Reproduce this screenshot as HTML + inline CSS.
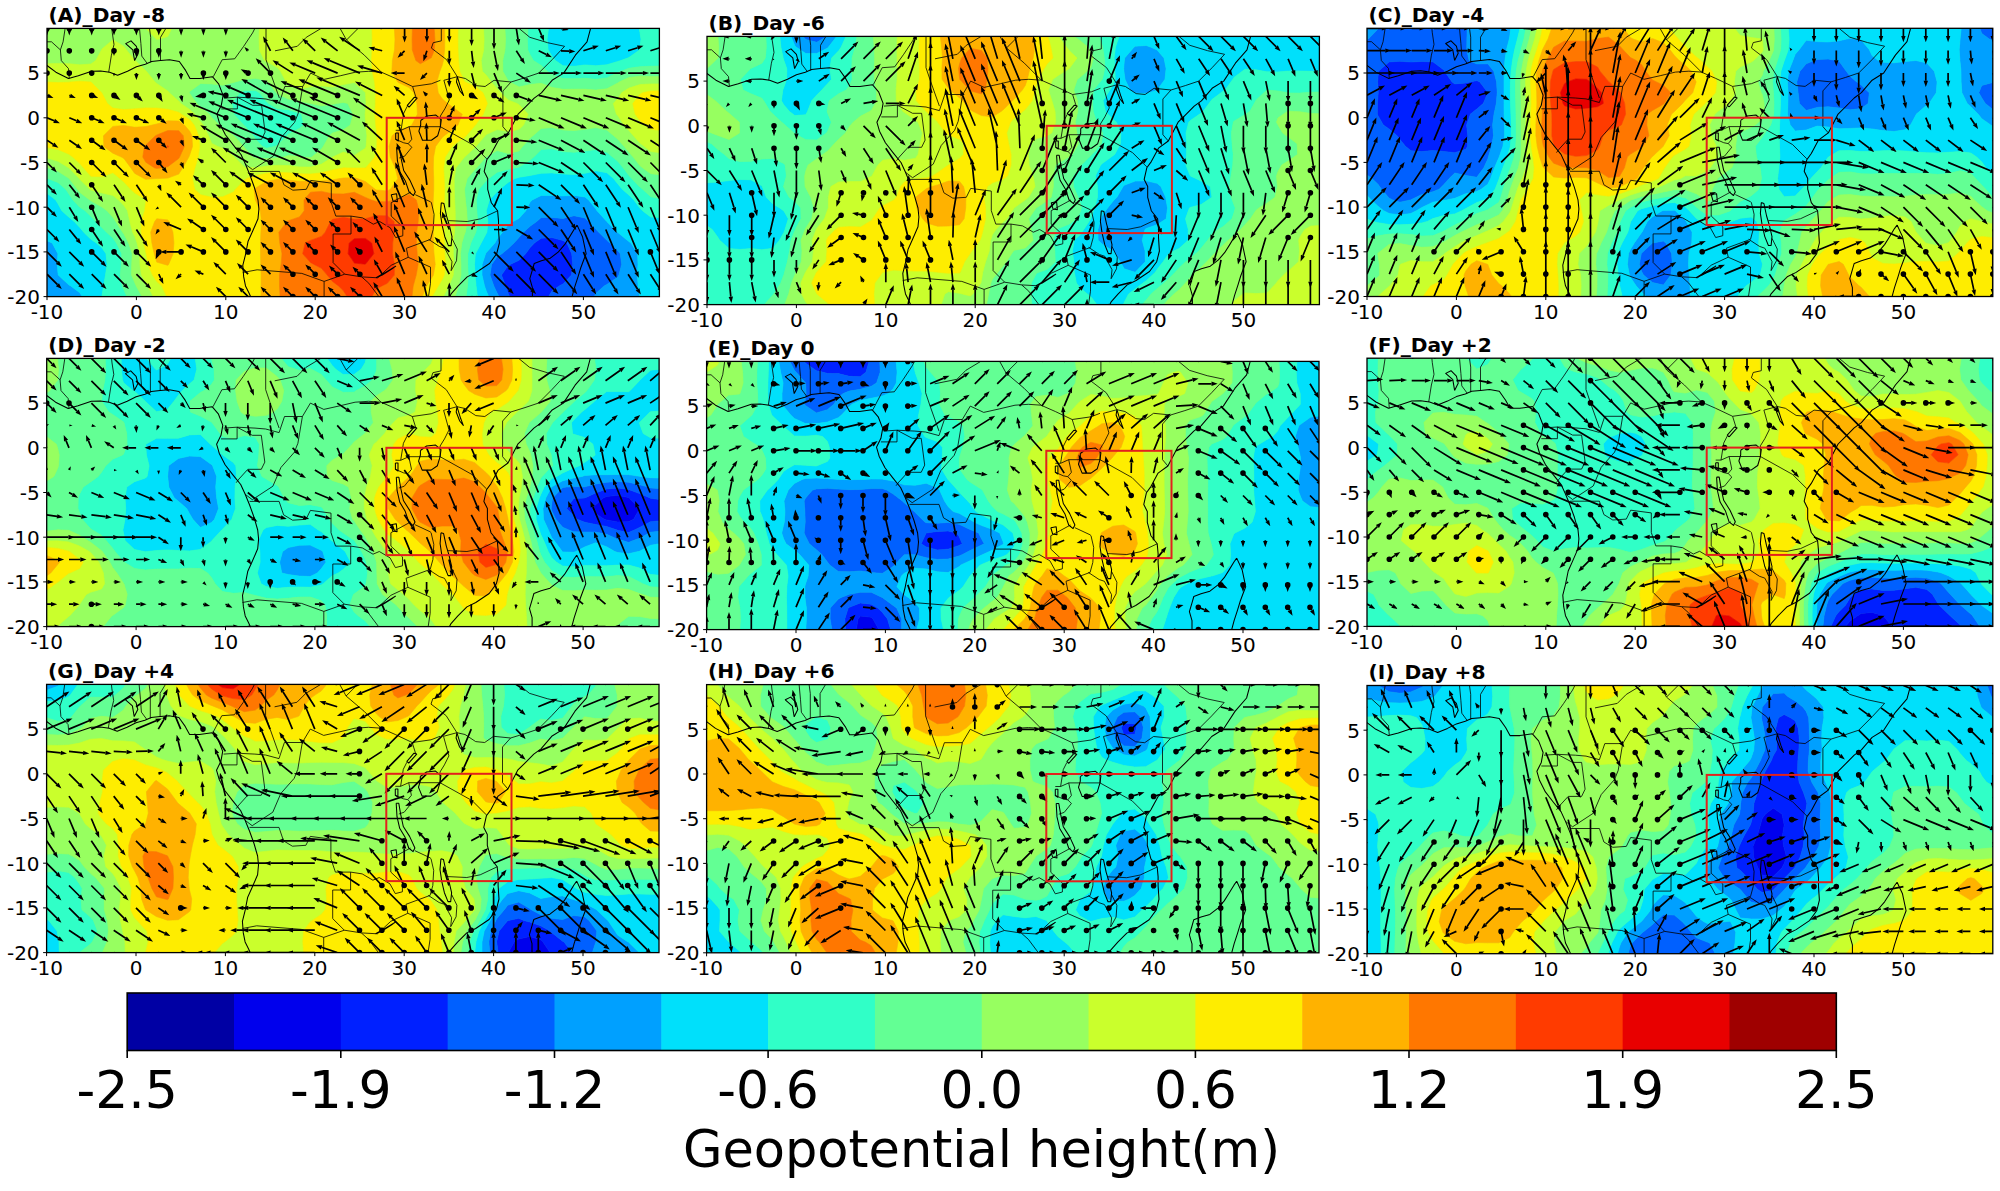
<!DOCTYPE html>
<html><head><meta charset="utf-8"><title>Geopotential height composites</title>
<style>
html,body{margin:0;padding:0;background:#fff;}
body{width:2000px;height:1191px;overflow:hidden;}
svg{display:block;}
.tk{font-family:"DejaVu Sans","Liberation Sans",sans-serif;font-size:20px;fill:#000;}
.tt{font-family:"DejaVu Sans","Liberation Sans",sans-serif;font-size:20.2px;font-weight:bold;fill:#000;}
.cb{font-family:"DejaVu Sans","Liberation Sans",sans-serif;font-size:52px;fill:#000;}
.cbl{font-family:"DejaVu Sans","Liberation Sans",sans-serif;font-size:51px;fill:#000;}
</style></head><body>
<svg width="2000" height="1191" viewBox="0 0 2000 1191">
<rect width="2000" height="1191" fill="#fff"/>
<clipPath id="cA"><rect x="47.0" y="28.4" width="612.4" height="268.2"/></clipPath>
<g clip-path="url(#cA)">
<rect x="47.0" y="28.4" width="612.4" height="268.2" fill="#97ff60"/>
<path fill="#0020ff" stroke="#0020ff" stroke-width="0.6" d="M541.1 238.3l10.9 -0.7l11 2.9l3.9 2.5l4.8 10.7l1.1 10.7l-1.3 10.7l-8.5 8.9l-3.8 1.9l-7.2 5l-3.4 5.7l-7.5 0l-11 0l-11 0l-9.5 0l-1.5 -3.4l-2.7 -7.3l-3.9 -10.8l6.6 -9.6l2 -1.1l9 -4.1l6.5 -6.6l4.5 -6.1l4.3 -4.6z"/>
<path fill="#0060ff" stroke="#0060ff" stroke-width="0.6" d="M541.1 217.6l10.9 -0.2l11 1l11 -2.7l11 2.3l3.5 3.5l7.4 7.8l2.9 2.9l8.1 8.1l2.9 2.7l8.1 7.9l2.4 2.8l1.4 10.7l-2.8 10.7l-1 2l-11 7.4l-2.8 1.4l-8.2 7.5l-1.6 3.2l-9.3 0l-11 0l-11 0l-11 0l-3.4 0l3.4 -5.7l7.2 -5l3.8 -1.9l8.5 -8.9l1.3 -10.7l-1.1 -10.7l-4.8 -10.7l-3.9 -2.5l-11 -2.9l-10.9 0.7l-6.7 4.7l-4.3 4.6l-4.5 6.1l-6.5 6.6l-9 4.1l-2 1.1l-6.6 9.6l3.9 10.8l2.7 7.3l1.5 3.4l-1.5 0l-9.1 0l-1.9 -3.7l-3.3 -7l-3.8 -10.8l1.6 -10.7l5.5 -7.6l4.8 -3.1l6.2 -5.1l6 -5.6l5 -5.7l4.5 -5.1l6.5 -6l6.6 -4.7z"/>
<path fill="#00a0ff" stroke="#00a0ff" stroke-width="0.6" d="M541.1 195.5l10.9 0l11 0.4l11 -0.5l11 1.6l3.7 3l7.2 9.1l1.1 1.7l9.8 10.7l0.1 0.2l10.6 10.5l0.4 0.4l11 9l2.1 1.4l6.7 10.7l0.3 10.7l-0.7 10.7l0.9 10.8l1.6 10.7l-10.9 0l-11 0l-11 0l-11 0l-1.6 0l1.6 -3.2l8.2 -7.5l2.8 -1.4l11 -7.4l1 -2l2.8 -10.7l-1.4 -10.7l-2.4 -2.8l-8.1 -7.9l-2.9 -2.7l-8.1 -8.1l-2.9 -2.9l-7.4 -7.8l-3.5 -3.5l-11 -2.3l-11 2.7l-11 -1l-10.9 0.2l-4.4 3.9l-6.6 4.7l-6.5 6l-4.5 5.1l-5 5.7l-6 5.6l-6.2 5.1l-4.8 3.1l-5.5 7.6l-1.6 10.7l3.8 10.8l3.3 7l1.9 3.7l-1.9 0l-8.5 0l-2.4 -5.9l-1.7 -4.8l-2.5 -10.8l0.1 -10.7l3.5 -10.7l0.6 -1l8.7 -9.7l2.2 -3.9l5.4 -6.9l5.6 -7.3l4.9 -3.4l6.1 -3.2l6.7 -7.5l4.3 -8.8l2.1 -2zM52.2 243l5.7 10.7l-0.6 10.7l0.7 9l0.2 1.7l10.8 9.9l1.7 0.9l9.2 6.9l2.2 3.8l-2.2 0l-10.9 0l-11 0l-11 0l0 -10.7l0 -10.8l0 -10.7l0 -10.7l0 -10.7l0 -2.2z"/>
<path fill="#00e0fb" stroke="#00e0fb" stroke-width="0.6" d="M552 28.4l11 0l11 0l11 0l10.9 0l11 0l11 0l11 0l10.3 0l0.7 3.9l1.1 6.8l-1.1 9l-0.3 1.8l-10.7 7.7l-8.1 3l-2.9 0.8l-11 3.3l-11 1l-10.9 -0.8l-11 1.4l-11 -0.5l-7.5 -5.2l-3.5 -4.4l-3.8 -6.3l-1.1 -10.8l1.4 -10.7zM519.1 177.3l11 -1.8l11 -2.2l10.9 -0.4l11 1l11 0.6l11 -1.2l10.9 -2.5l11 1.9l6.6 5.9l4.4 5.3l4.4 5.4l6.6 5.7l5 5l6 8.1l2.6 2.7l8.3 6.3l11 0.7l11 -0.8l0 4.5l0 10.7l0 10.8l0 10.7l0 10.7l0 10.7l0 10.8l0 10.7l-11 0l-11 0l-10.9 0l-0.1 0l-1.6 -10.7l-0.9 -10.8l0.7 -10.7l-0.3 -10.7l-6.7 -10.7l-2.1 -1.4l-11 -9l-0.4 -0.4l-10.6 -10.5l-0.1 -0.2l-9.8 -10.7l-1.1 -1.7l-7.2 -9.1l-3.7 -3l-11 -1.6l-11 0.5l-11 -0.4l-10.9 0l-8.9 4.5l-2.1 2l-4.3 8.8l-6.7 7.5l-6.1 3.2l-4.9 3.4l-5.6 7.3l-5.4 6.9l-2.2 3.9l-8.7 9.7l-0.6 1l-3.5 10.7l-0.1 10.7l2.5 10.8l1.7 4.8l2.4 5.9l-2.4 0l-8.8 0l-1.3 -10.7l-0.9 -9.2l-0.1 -1.6l-0.6 -10.7l0.7 -8.3l0.3 -2.4l5.7 -10.7l5 -9.5l0.7 -1.3l1 -10.7l-1.7 -10.7l3.2 -10.8l7.7 -8.2l2.6 -2.5l8.4 -6.9l6.8 -3.8zM55.7 200l2.3 3.8l3.8 7l7.2 6.4l5.2 4.3l5.7 6l3.8 4.7l7.2 7l5.4 3.8l5.6 4.8l4.1 5.9l1.1 10.7l-1.6 10.7l-1.9 10.8l-1.7 10.4l0 0.3l-11 0l-8.8 0l-2.2 -3.8l-9.2 -6.9l-1.7 -0.9l-10.8 -9.9l-0.2 -1.7l-0.7 -9l0.6 -10.7l-5.7 -10.7l-5.2 -2.2l0 -8.6l0 -10.7l0 -10.7l0 -10.8l0 -6.7z"/>
<path fill="#30ffc7" stroke="#30ffc7" stroke-width="0.6" d="M530.1 28.4l11 0l7.4 0l-1.4 10.7l1.1 10.8l3.8 6.3l3.5 4.4l7.5 5.2l11 0.5l11 -1.4l10.9 0.8l11 -1l11 -3.3l2.9 -0.8l8.1 -3l10.7 -7.7l0.3 -1.8l1.1 -9l-1.1 -6.8l-0.7 -3.9l0.7 0l10.9 0l11 0l11 0l0 10.7l0 10.8l0 10.7l0 5.6l-11 -0.1l-11 0.1l-10.9 0.5l-11 1.5l-7.8 3.1l-3.2 1.3l-11 5.3l-11 1.3l-10.9 -0.9l-11 0.4l-11 -0.1l-11 -4.3l-4.6 -3l-6.3 -5.9l-7.7 -4.8l-3.3 -5.8l-2.3 -4.9l-0.5 -10.8l0.7 -10.7zM244.6 90.4l11 0l4 2.4l7 8.6l2.2 2.1l8.8 5.2l10.9 1l11 3.3l2 1.2l2.3 10.8l-4.3 3.4l-11 5.8l-1.6 1.5l-9.3 9.5l-2.9 1.2l-8.1 1.8l-4.3 -1.8l-6.7 -7.1l-2.2 -3.6l-8.8 -9.8l-1.1 -0.9l-9.7 -10.8l-0.2 -0.8l-1.8 -9.9l1.8 -2.6l6.1 -8.1zM541.1 149.6l10.9 -0.8l11 2.8l11 0.6l11 -1.3l10.9 -1.3l11 2.6l5.8 4.9l5.2 4.2l5.4 6.6l5.6 7.4l2.7 3.3l8.3 8.5l2.8 2.2l8.1 7.4l11 2.2l11 -2.5l0 3.6l0 10.8l0 6.2l-11 0.8l-11 -0.7l-8.3 -6.3l-2.6 -2.7l-6 -8.1l-5 -5l-6.6 -5.7l-4.4 -5.4l-4.4 -5.3l-6.6 -5.9l-11 -1.9l-10.9 2.5l-11 1.2l-11 -0.6l-11 -1l-10.9 0.4l-11 2.2l-11 1.8l-4.2 1.3l-6.8 3.8l-8.4 6.9l-2.6 2.5l-7.7 8.2l-3.2 10.8l1.7 10.7l-1 10.7l-0.7 1.3l-5 9.5l-5.7 10.7l-0.3 2.4l-0.7 8.3l0.6 10.7l0.1 1.6l0.9 9.2l1.3 10.7l-2.2 0l-9.1 0l1.4 -10.7l0.7 -10.8l-0.5 -10.7l0.1 -10.7l3 -10.7l4.4 -9.4l0.7 -1.4l1.8 -10.7l-0.9 -10.7l-0.6 -10.8l2.5 -10.7l7.5 -8.5l2.6 -2.2l8.3 -6.4l11 -2.9l7.4 -1.4l3.6 -0.8l11 -7.1l3.6 -2.9zM47.7 178.6l10.3 3.9l7.8 6.8l3.2 4.7l3.9 6l7 7.3l5.3 3.5l5.7 5.5l5 5.2l6 6l4.7 4.7l6.3 5.8l3.6 5l5.3 10.7l-0.5 10.7l-1 10.7l2 10.8l1.6 3.9l3 6.8l-3 0l-11 0l-11 0l0 0l0 -0.3l1.7 -10.4l1.9 -10.8l1.6 -10.7l-1.1 -10.7l-4.1 -5.9l-5.6 -4.8l-5.4 -3.8l-7.2 -7l-3.8 -4.7l-5.7 -6l-5.2 -4.3l-7.2 -6.4l-3.8 -7l-2.3 -3.8l-8.7 -6.7l0 -4l0 -10.7l0 -0.2z"/>
<path fill="#63ff94" stroke="#63ff94" stroke-width="0.6" d="M508.1 28.4l11 0l8.9 0l-0.7 10.7l0.5 10.8l2.3 4.9l3.3 5.8l7.7 4.8l6.3 5.9l4.6 3l11 4.3l11 0.1l11 -0.4l10.9 0.9l11 -1.3l11 -5.3l3.2 -1.3l7.8 -3.1l11 -1.5l10.9 -0.5l11 -0.1l11 0.1l0 5.1l0 5.2l-11 0.1l-11 -0.1l-10.9 -0.3l-11 1.3l-9.7 4.5l-1.3 0.9l-11 5.9l-11 1.3l-10.9 -0.9l-11 0l-11 0.1l-11 -1.9l-10.9 -4.1l-11 1.2l-11 2.4l-9.4 -4.9l-1.6 -1.3l-5.3 -9.4l-0.1 -10.7l2.3 -10.7l0.5 -10.8l-0.6 -10.7zM244.6 79.4l11 -1.1l11 2.4l1.4 1.3l8.4 10.8l1.2 1.1l10.9 5.2l11 2l11 2.4l0 0l11 2.3l11 -1.5l4.2 -0.8l6.7 -1.1l4.4 1.1l5.3 10.7l-2.7 10.8l-7 4.8l-10.9 3.2l-3 2.7l-6.2 10.7l-1.8 2.7l-9.7 8l-1.3 0.5l-8.2 -0.5l-2.8 -0.5l-11 -1l-4.8 1.5l-6.1 0.7l-11 0.9l-11 -0.4l-2.8 -1.2l-8.2 -9.1l-1 -1.6l-9.9 -10.7l-0.1 -0.1l-10.9 -7.5l-3.5 -3.1l-7.5 -7.6l-2.4 -3.2l-8.6 -7l-4 -3.7l-7 -10l-0.6 -0.7l0.6 -1.4l11 -7.9l11 0.4l11 1.3l10.9 -2.8l1.4 -0.4zM239.7 92.8l-6.1 8.1l-1.8 2.6l1.8 9.9l0.2 0.8l9.7 10.8l1.1 0.9l8.8 9.8l2.2 3.6l6.7 7.1l4.3 1.8l8.1 -1.8l2.9 -1.2l9.3 -9.5l1.6 -1.5l11 -5.8l4.3 -3.4l-2.3 -10.8l-2 -1.2l-11 -3.3l-10.9 -1l-8.8 -5.2l-2.2 -2.1l-7 -8.6l-4 -2.4l-11 0zM541.1 128.6l10.9 -1.1l11 2.4l11 0.6l11 -1.2l10.9 -1.7l11 2.4l6.8 5.7l4.2 3.5l6.3 7.2l4.7 5.6l4.3 5.1l6.7 8.5l2.9 2.3l8 5.8l11 1.4l11 -1.5l0 5l0 10.7l0 7.1l-11 2.5l-11 -2.2l-8.1 -7.4l-2.8 -2.2l-8.3 -8.5l-2.7 -3.3l-5.6 -7.4l-5.4 -6.6l-5.2 -4.2l-5.8 -4.9l-11 -2.6l-10.9 1.3l-11 1.3l-11 -0.6l-11 -2.8l-10.9 0.8l-7.4 7.5l-3.6 2.9l-11 7.1l-3.6 0.8l-7.4 1.4l-11 2.9l-8.3 6.4l-2.6 2.2l-7.5 8.5l-2.5 10.7l0.6 10.8l0.9 10.7l-1.8 10.7l-0.7 1.4l-4.4 9.4l-3 10.7l-0.1 10.7l0.5 10.7l-0.7 10.8l-1.4 10.7l-1.9 0l-9.2 0l3.6 -10.7l2.3 -10.8l0 -10.7l-0.5 -10.7l1.4 -10.7l2.4 -8l1.1 -2.8l2 -10.7l-0.6 -10.7l-1.3 -10.8l-0.9 -10.7l2.7 -10.7l8 -9.5l1.3 -1.2l9.4 -10.8l0.3 -0.3l10.9 -6.3l11 2.9l11 -2.5l3.4 -4.5l7.6 -8.3l2.8 -2.4zM48.4 167.9l9.6 3.4l11 7l0.2 0.3l8.3 10.7l2.4 3.1l10 7.6l1 0.8l11 6.2l5.1 3.8l5.9 6.5l2.9 4.2l6.8 10.7l1.3 1.7l4.7 9.1l3.7 10.7l-0.6 10.7l-0.2 10.7l3.3 7.7l1.4 3.1l5.9 10.7l-7.3 0l-7.9 0l-3 -6.8l-1.6 -3.9l-2 -10.8l1 -10.7l0.5 -10.7l-5.3 -10.7l-3.6 -5l-6.3 -5.8l-4.7 -4.7l-6 -6l-5 -5.2l-5.7 -5.5l-5.3 -3.5l-7 -7.3l-3.9 -6l-3.2 -4.7l-7.8 -6.8l-10.3 -3.9l-0.7 -0.2l0 -10.5l0 -0.5z"/>
<path fill="#97ff60" stroke="#97ff60" stroke-width="0.6" d="M58 28.4l11 0l10.9 0l11 0l11 0l11 0l11 0l10.9 0l11 0l0.1 0l10.4 10.7l0.5 0.4l2.2 -0.4l8.8 -2.6l3.9 -8.1l7 0l11 0l11 0l11 0l11 0l10.9 0l11 0l11 0l3.8 0l-0.3 10.7l0.3 10.8l5.1 10.7l2.1 0.9l11 6.3l3 3.5l5.5 10.7l2.4 3l11 3.9l11 -2.1l11 -0.9l11 1l10.9 -2.3l11 -2.1l11 10.1l0.1 0.2l0.6 10.7l-0.7 8.1l-0.3 2.6l0.3 6.5l0.2 4.3l1.3 10.7l-0.8 10.7l-0.7 1.8l-11 7.2l-11 -3.4l-10.7 5.1l-0.2 0.1l-11 6.9l-11 3l-11 -0.2l-11 -1.3l-10.9 -0.3l-11 0.8l-11 1.6l-11 -0.5l-10.3 -10.1l-0.7 -0.9l-10.9 -8l-4.8 -1.8l-6.2 -3l-3.1 -7.7l-5.3 -10.7l-2.6 -3.1l-6 -7.7l-5 -4.6l-8.8 -6.1l-2.2 -2.5l-9.4 -8.2l-1.5 -1.8l-11 -7.5l-1.8 -1.5l-8.6 -10.7l-0.6 -0.6l-10.5 -10.1l-0.5 -0.4l-8.3 -10.3l-2.6 -3.6l-11 -6.6l-11 9.3l-0.4 0.9l-5.8 10.7l-4.8 3.4l-11 0.8l-10.9 -1.1l-11 -0.3l-11 0.3l0 -3.1l0 -10.7l0 -10.8l0 -10.7zM235 82l-1.4 0.4l-10.9 2.8l-11 -1.3l-11 -0.4l-11 7.9l-0.6 1.4l0.6 0.7l7 10l4 3.7l8.6 7l2.4 3.2l7.5 7.6l3.5 3.1l10.9 7.5l0.1 0.1l9.9 10.7l1 1.6l8.2 9.1l2.8 1.2l11 0.4l11 -0.9l6.1 -0.7l4.8 -1.5l11 1l2.8 0.5l8.2 0.5l1.3 -0.5l9.7 -8l1.8 -2.7l6.2 -10.7l3 -2.7l10.9 -3.2l7 -4.8l2.7 -10.8l-5.3 -10.7l-4.4 -1.1l-6.7 1.1l-4.2 0.8l-11 1.5l-11 -2.3l0 0l-11 -2.4l-11 -2l-10.9 -5.2l-1.2 -1.1l-8.4 -10.8l-1.4 -1.3l-11 -2.4l-11 1.1zM486.2 28.4l10.9 0l7.8 0l0.6 10.7l-0.5 10.8l-2.3 10.7l0.1 10.7l5.3 9.4l1.6 1.3l9.4 4.9l11 -2.4l11 -1.2l10.9 4.1l11 1.9l11 -0.1l11 0l10.9 0.9l11 -1.3l11 -5.9l1.3 -0.9l9.7 -4.5l11 -1.3l10.9 0.3l11 0.1l11 -0.1l0 5.5l0 1.9l-11 0l-11 0l-10.9 0.7l-11 3.5l-7.3 4.7l-3.7 5.8l-4.6 4.9l3.1 10.7l1.5 1.6l6.1 9.2l4.9 5.6l4.5 5.1l6.5 7.2l4.5 3.5l6.4 5.1l11 1.5l11 -1.7l0 5.8l0 10.8l0 5.7l-11 1.5l-11 -1.4l-8 -5.8l-2.9 -2.3l-6.7 -8.5l-4.3 -5.1l-4.7 -5.6l-6.3 -7.2l-4.2 -3.5l-6.8 -5.7l-11 -2.4l-10.9 1.7l-11 1.2l-11 -0.6l-11 -2.4l-10.9 1.1l-8.2 7.1l-2.8 2.4l-7.6 8.3l-3.4 4.5l-11 2.5l-11 -2.9l-10.9 6.3l-0.3 0.3l-9.4 10.8l-1.3 1.2l-8 9.5l-2.7 10.7l0.9 10.7l1.3 10.8l0.6 10.7l-2 10.7l-1.1 2.8l-2.4 8l-1.4 10.7l0.5 10.7l0 10.7l-2.3 10.8l-3.6 10.7l-1.8 0l-9.8 0l5.5 -10.7l4.3 -10.5l0.1 -0.3l0.6 -10.7l-0.6 -10.7l0.1 -10.7l1.1 -10.8l0.9 -10.7l-0.2 -10.7l-0.5 -10.8l-0.4 -10.7l-0.1 -10.7l1.6 -10.7l8.4 -10.4l0.4 -0.4l10.6 -9.8l0.7 -0.9l9.3 -10.7l1 -1.1l10.9 -5l11 1.9l11 -2.2l4.5 -4.3l4.5 -10.8l-9 -9.5l-2.1 -1.2l-8.9 -3.6l-7.2 -7.1l-3.8 -4.1l-5.7 -6.7l-5.2 -6.9l-3.8 -3.8l-1.2 -10.7l2.5 -10.7l0.4 -10.8l-0.6 -10.7zM58 161.2l10.9 6.7l0.1 0l10.3 10.7l0.6 0.8l10 9.9l1 0.8l11 2.9l11 2.4l5.7 4.6l5.3 5.5l3.6 5.3l2.3 10.7l2.8 10.7l2.2 4.3l2.3 6.5l2.6 10.7l0.3 10.7l1.4 10.7l4.4 8.1l1.9 2.7l5.5 10.7l-7.4 0l-3.7 0l-5.9 -10.7l-1.4 -3.1l-3.3 -7.7l0.2 -10.7l0.6 -10.7l-3.7 -10.7l-4.7 -9.1l-1.3 -1.7l-6.8 -10.7l-2.9 -4.2l-5.9 -6.5l-5.1 -3.8l-11 -6.2l-1 -0.8l-10 -7.6l-2.4 -3.1l-8.3 -10.7l-0.2 -0.3l-11 -7l-9.6 -3.4l-1.4 -0.5l0 -9.5z"/>
<path fill="#caff2c" stroke="#caff2c" stroke-width="0.6" d="M156.8 28.4l11 0l3.9 0l-3.9 8.1l-8.8 2.6l-2.2 0.4l-0.5 -0.4l-10.4 -10.7zM266.6 28.4l11 0l10.9 0l11 0l11 0l11 0l11 0l10.9 0l11 0l11 0l6.6 0l0.2 10.7l-0.2 10.8l-0.5 10.7l0.7 10.7l2.4 10.7l1 10.8l-0.2 10.7l-0.4 10.7l0.7 10.8l0.7 5.8l0.6 4.9l-0.2 10.7l-0.4 2.7l-1.5 8l-9.3 10.8l-0.2 0l-11 0.2l-7.4 -0.2l-3.6 -0.2l-0.5 0.2l-10.4 2l-11 2.9l-11 1.2l-11 -0.3l-11 -0.9l-10.9 -0.5l-11 0.9l-11 2.5l-9.1 2.9l-1.9 1.5l-9.2 9.2l-1.8 2.7l-10.9 4.8l-11 0.5l-11 -2.6l-6 -5.4l-2.2 -10.7l2.4 -10.7l3.3 -10.8l1.5 -10.7l-1 -10.7l-4.5 -10.7l-4.5 -5.4l-8.2 -5.4l-2.8 -1.9l-10.9 -3l-11 -1.2l-11 -0.2l-11 0.9l-10.9 0.8l-11 -1.5l-5.5 -4.6l-5.5 -10.4l-0.2 -0.3l-10.7 -10.8l-0.1 0l-11 -0.8l-9.4 0.8l-1.5 0.2l-11 0.4l-11 -0.5l0 -0.1l0 -10.7l0 -7.6l11 -0.3l11 0.3l10.9 1.1l11 -0.8l4.8 -3.4l5.8 -10.7l0.4 -0.9l11 -9.3l11 6.6l2.6 3.6l8.3 10.3l0.5 0.4l10.5 10.1l0.6 0.6l8.6 10.7l1.8 1.5l11 7.5l1.5 1.8l9.4 8.2l2.2 2.5l8.8 6.1l5 4.6l6 7.7l2.6 3.1l5.3 10.7l3.1 7.7l6.2 3l4.8 1.8l10.9 8l0.7 0.9l10.3 10.1l11 0.5l11 -1.6l11 -0.8l10.9 0.3l11 1.3l11 0.2l11 -3l11 -6.9l0.2 -0.1l10.7 -5.1l11 3.4l11 -7.2l0.7 -1.8l0.8 -10.7l-1.3 -10.7l-0.2 -4.3l-0.3 -6.5l0.3 -2.6l0.7 -8.1l-0.6 -10.7l-0.1 -0.2l-11 -10.1l-11 2.1l-10.9 2.3l-11 -1l-11 0.9l-11 2.1l-11 -3.9l-2.4 -3l-5.5 -10.7l-3 -3.5l-11 -6.3l-2.1 -0.9l-5.1 -10.7l-0.3 -10.8l0.3 -10.7zM464.2 28.4l11 0l8.3 0l0.6 10.7l-0.4 10.8l-2.5 10.7l1.2 10.7l3.8 3.8l5.2 6.9l5.7 6.7l3.8 4.1l7.2 7.1l8.9 3.6l2.1 1.2l9 9.5l-4.5 10.8l-4.5 4.3l-11 2.2l-11 -1.9l-10.9 5l-1 1.1l-9.3 10.7l-0.7 0.9l-10.6 9.8l-0.4 0.4l-8.4 10.4l-1.6 10.7l0.1 10.7l0.4 10.7l0.5 10.8l0.2 10.7l-0.9 10.7l-1.1 10.8l-0.1 10.7l0.6 10.7l-0.6 10.7l-0.1 0.3l-4.3 10.5l-5.5 10.7l-1.2 0l-10.1 0l6.2 -10.7l3.9 -6.5l2.1 -4.3l1.3 -10.7l-0.8 -10.7l-0.6 -10.7l0 -10.8l-0.2 -10.7l-0.1 -10.7l0.4 -10.8l0.3 -10.7l-0.4 -10.7l-0.6 -10.7l1.6 -10.8l6.8 -10.7l1.2 -1.1l11 -7.6l2 -2l9 -10.4l0.3 -0.3l7.7 -10.8l3 -7.7l1.2 -3l-1.2 -3.2l-3.2 -7.5l-7.8 -6.2l-10 -4.6l-1 -1.1l-4.5 -9.6l-1.1 -10.7l-0.6 -10.7l-0.1 -10.8l0.1 -10.7zM628.9 88.1l11 -3.5l10.9 -0.7l11 0l11 0l0 7.2l-11 -0.4l-11 0.3l-8.3 1.8l-2.6 1.6l-7.1 9.1l2.4 10.7l4.7 6.5l5.1 4.3l5.8 4.2l11 1.4l11 -1.5l0 6.6l0 10.7l0 4.9l-11 1.7l-11 -1.5l-6.4 -5.1l-4.5 -3.5l-6.5 -7.2l-4.5 -5.1l-4.9 -5.6l-6.1 -9.2l-1.5 -1.6l-3.1 -10.7l4.6 -4.9l3.7 -5.8zM58 149.5l11 4.7l3.7 2.9l7.2 6.4l3.7 4.4l7.3 8.4l11 0.4l11 -4l7 5.9l4 3.3l6.8 7.4l4.1 3.7l11 6.7l0.6 0.3l-0.6 1.7l-1.1 9.1l-3.6 10.7l0 10.7l2.7 10.8l2 9.1l0.4 1.6l1.9 10.7l4.4 10.7l4.3 6.4l5 4.4l4.8 10.7l-9.8 0l-3.6 0l-5.5 -10.7l-1.9 -2.7l-4.4 -8.1l-1.4 -10.7l-0.3 -10.7l-2.6 -10.7l-2.3 -6.5l-2.2 -4.3l-2.8 -10.7l-2.3 -10.7l-3.6 -5.3l-5.3 -5.5l-5.7 -4.6l-11 -2.4l-11 -2.9l-1 -0.8l-10 -9.9l-0.6 -0.8l-10.3 -10.7l-0.1 0l-10.9 -6.7l-11 -3.3l0 -0.8l0 -9.5z"/>
<path fill="#feed00" stroke="#feed00" stroke-width="0.6" d="M376.4 28.4l10.9 0l7.1 0l0.6 10.7l-0.5 10.8l-2.1 10.7l-0.5 10.7l5.8 10.7l0.6 0.5l11 5.1l4.5 5.2l3.1 10.7l0.5 10.7l-5.6 10.8l-2.5 1.8l-11 3.5l-6.2 5.4l-3 10.7l1.2 10.7l4.9 10.8l2.6 10.7l-7.3 10.7l-3.2 1.6l-10.9 -0.9l-1.2 -0.7l-9.8 -7.7l-7.9 -3l-3.1 -0.8l-11 0.2l-3.7 0.6l-7.2 1.3l-11 1l-11 0.4l-11 0l-11 -1.1l-10.9 -0.9l-11 2.2l-11 6.5l-1.5 1.3l1.2 10.7l0.3 0.6l4.7 10.2l1.2 10.7l-0.6 10.7l-0.4 10.8l0 10.7l0.3 10.7l0.3 10.7l0 10.8l-0.2 10.7l-5.3 0l-11 0l-11 0l-10.9 0l-11 0l-11 0l-11 0l-11 0l-10.9 0l-1.2 0l-4.8 -10.7l-5 -4.4l-4.3 -6.4l-4.4 -10.7l-1.9 -10.7l-0.4 -1.6l-2 -9.1l-2.7 -10.8l0 -10.7l3.6 -10.7l1.1 -9.1l0.6 -1.7l-0.6 -0.3l-11 -6.7l-4.1 -3.7l-6.8 -7.4l-4 -3.3l-7 -5.9l-11 4l-11 -0.4l-7.3 -8.4l-3.7 -4.4l-7.2 -6.4l-3.7 -2.9l-11 -4.7l-11 -1.9l0 -1.2l0 -10.7l0 -10.7l0 -10.8l0 -10.7l0 -10.7l0 -10.7l11 0.5l11 -0.4l1.5 -0.2l9.4 -0.8l11 0.8l0.1 0l10.7 10.8l0.2 0.3l5.5 10.4l5.5 4.6l11 1.5l10.9 -0.8l11 -0.9l11 0.2l11 1.2l10.9 3l2.8 1.9l8.2 5.4l4.5 5.4l4.5 10.7l1 10.7l-1.5 10.7l-3.3 10.8l-2.4 10.7l2.2 10.7l6 5.4l11 2.6l11 -0.5l10.9 -4.8l1.8 -2.7l9.2 -9.2l1.9 -1.5l9.1 -2.9l11 -2.5l11 -0.9l10.9 0.5l11 0.9l11 0.3l11 -1.2l11 -2.9l10.4 -2l0.5 -0.2l3.6 0.2l7.4 0.2l11 -0.2l0.2 0l9.3 -10.8l1.5 -8l0.4 -2.7l0.2 -10.7l-0.6 -4.9l-0.7 -5.8l-0.7 -10.8l0.4 -10.7l0.2 -10.7l-1 -10.8l-2.4 -10.7l-0.7 -10.7l0.5 -10.7l0.2 -10.8l-0.2 -10.7zM152.4 125l-6.6 1.6l-11 0.7l-10.9 -1.8l-11 0.9l-9.4 9.3l0.3 10.7l9.1 6.8l8.6 3.9l2.4 1.3l7 9.5l3.9 5.5l9.4 5.2l1.6 0.6l11 -0.6l0.7 0l10.3 -0.5l10.9 -4l4 -6.2l6.1 -10.8l0.9 -2.3l2.8 -8.4l-0.6 -10.7l-2.2 -4.4l-5.4 -6.3l-5.6 -3.9l-10.9 -0.3l-11 3.2zM154.7 221.5l-4 10.7l1.2 10.8l2.3 10.7l2.6 8.4l7.9 2.3l3.1 0.9l0.8 -0.9l4.5 -10.7l0.8 -10.7l-1 -10.8l-3.9 -10.7l-1.2 -1.6l-11 -1.1zM453.2 28.4l4.8 0l-0.1 10.7l0.1 10.8l0.6 10.7l1.1 10.7l4.5 9.6l1 1.1l10 4.6l7.8 6.2l3.2 7.5l1.2 3.2l-1.2 3l-3 7.7l-7.7 10.8l-0.3 0.3l-9 10.4l-2 2l-11 7.6l-1.2 1.1l-6.8 10.7l-1.6 10.8l0.6 10.7l0.4 10.7l-0.3 10.7l-0.4 10.8l0.1 10.7l0.2 10.7l0 10.8l0.6 10.7l0.8 10.7l-1.3 10.7l-2.1 4.3l-3.9 6.5l-6.2 10.7l-0.8 0l-8.9 0l4.2 -10.7l4.7 -7.3l2.1 -3.5l1.8 -10.7l-1.2 -10.7l-0.7 -10.7l0 -10.8l-0.2 -10.7l-0.1 -10.7l0.2 -10.8l0.5 -10.7l0 -10.7l-0.4 -10.7l0.3 -10.8l2 -10.7l6.6 -9l2 -1.7l9 -6.6l4.7 -4.1l4.3 -10.8l-9 -6.7l-5.7 -4l-5.3 -4.7l-4 -6l-1.5 -10.8l3.2 -10.7l2.3 -6l1.2 -4.7l1.2 -10.7l0.2 -10.8l-0.2 -10.7zM650.8 91l11 -0.3l11 0.4l0 1.7l0 10.7l0 10.7l0 10.8l0 4.1l-11 1.5l-11 -1.4l-5.8 -4.2l-5.1 -4.3l-4.7 -6.5l-2.4 -10.7l7.1 -9.1l2.6 -1.6z"/>
<path fill="#ffb200" stroke="#ffb200" stroke-width="0.6" d="M398.3 28.4l11 0l3.1 0l-0.3 10.7l0.2 10.8l3.6 10.7l4.4 3.1l5.8 -3.1l5.2 -2.9l3.1 -7.8l0.5 -10.8l-0.7 -10.7l8 0l2.4 0l0.2 10.7l-0.2 10.8l-1.2 10.7l-1.2 4.7l-2.3 6l-3.2 10.7l1.5 10.8l4 6l5.3 4.7l5.7 4l9 6.7l-4.3 10.8l-4.7 4.1l-9 6.6l-2 1.7l-6.6 9l-2 10.7l-0.3 10.8l0.4 10.7l0 10.7l-0.5 10.7l-0.2 10.8l0.1 10.7l0.2 10.7l0 10.8l0.7 10.7l1.2 10.7l-1.8 10.7l-2.1 3.5l-4.7 7.3l-4.2 10.7l-2.1 0l-8.3 0l1.2 -10.7l3 -10.8l1.9 -10.7l-0.9 -10.7l-0.8 -10.7l0.2 -10.8l1.6 -10.7l0.8 -10.7l-2.7 -10.8l-7 -5.5l-11 3.9l-4.8 1.6l-6.2 1.7l-10.9 -0.1l-5 -1.6l-6 -2.6l-11 -5.1l-11 1.7l-10.9 -0.2l-11 -2.4l-11 0.8l-6.5 7.8l0.2 10.8l-4.7 6.1l-11 3.8l-1.4 0.8l-8.2 10.7l0.9 10.8l2.2 10.7l-0.9 10.7l-1.6 10.7l0 10.8l0.6 10.7l-2.5 0l-11 0l-5.7 0l0.2 -10.7l0 -10.8l-0.3 -10.7l-0.3 -10.7l0 -10.7l0.4 -10.8l0.6 -10.7l-1.2 -10.7l-4.7 -10.2l-0.3 -0.6l-1.2 -10.7l1.5 -1.3l11 -6.5l11 -2.2l10.9 0.9l11 1.1l11 0l11 -0.4l11 -1l7.2 -1.3l3.7 -0.6l11 -0.2l3.1 0.8l7.9 3l9.8 7.7l1.2 0.7l10.9 0.9l3.2 -1.6l7.3 -10.7l-2.6 -10.7l-4.9 -10.8l-1.2 -10.7l3 -10.7l6.2 -5.4l11 -3.5l2.5 -1.8l5.6 -10.8l-0.5 -10.7l-3.1 -10.7l-4.5 -5.2l-11 -5.1l-0.6 -0.5l-5.8 -10.7l0.5 -10.7l2.1 -10.7l0.5 -10.8l-0.6 -10.7zM156.8 124l11 -3.2l10.9 0.3l5.6 3.9l5.4 6.3l2.2 4.4l0.6 10.7l-2.8 8.4l-0.9 2.3l-6.1 10.8l-4 6.2l-10.9 4l-10.3 0.5l-0.7 0l-11 0.6l-1.6 -0.6l-9.4 -5.2l-3.9 -5.5l-7 -9.5l-2.4 -1.3l-8.6 -3.9l-9.1 -6.8l-0.3 -10.7l9.4 -9.3l11 -0.9l10.9 1.8l11 -0.7l6.6 -1.6zM155.5 135.7l-9.7 9.3l-1.4 1.4l-1.6 10.7l3 5.1l8.8 5.7l2.2 0.5l3.9 -0.5l7.1 -1.2l10.9 -8.2l0.9 -1.4l4.8 -10.7l-1.2 -10.7l-4.5 -5l-10.9 -0.2l-11 4.5zM156.8 218.8l11 1.1l1.2 1.6l3.9 10.7l1 10.8l-0.8 10.7l-4.5 10.7l-0.8 0.9l-3.1 -0.9l-7.9 -2.3l-2.6 -8.4l-2.3 -10.7l-1.2 -10.8l4 -10.7z"/>
<path fill="#ff7700" stroke="#ff7700" stroke-width="0.6" d="M420.3 28.4l11 0l2.9 0l0.7 10.7l-0.5 10.8l-3.1 7.8l-5.2 2.9l-5.8 3.1l-4.4 -3.1l-3.6 -10.7l-0.2 -10.8l0.3 -10.7zM156.8 135l11 -4.5l10.9 0.2l4.5 5l1.2 10.7l-4.8 10.7l-0.9 1.4l-10.9 8.2l-7.1 1.2l-3.9 0.5l-2.2 -0.5l-8.8 -5.7l-3 -5.1l1.6 -10.7l1.4 -1.4l9.7 -9.3zM166.7 146.4l1.1 1.1l0.9 -1.1l-0.9 -0.7zM310.5 192.2l11 -0.8l11 2.4l10.9 0.2l11 -1.7l11 5.1l6 2.6l5 1.6l10.9 0.1l6.2 -1.7l4.8 -1.6l11 -3.9l7 5.5l2.7 10.8l-0.8 10.7l-1.6 10.7l-0.2 10.8l0.8 10.7l0.9 10.7l-1.9 10.7l-3 10.8l-1.2 10.7l-2.7 0l-11 0l-11 0l-10.9 0l-4.6 0l4.6 -7.7l5.5 -3l5.4 -2.6l7 -8.2l0.2 -10.7l-2 -10.7l0.2 -10.7l1.5 -10.8l-0.1 -10.7l-6.8 -5.7l-10.9 -0.2l-11 3.1l-11 0.6l-11 -2l-10.9 2l-2 2.2l-5.3 10.7l-3.7 4.2l-11 4l-5.3 2.6l-2.5 10.7l7.8 8.8l3.5 1.9l7.5 3.9l5.7 6.8l5.3 6.3l6 4.5l4.9 4.8l3.7 5.9l-3.7 0l-10.9 0l-11 0l-11 0l-11 0l-11 0l-8.4 0l-0.6 -10.7l0 -10.8l1.6 -10.7l0.9 -10.7l-2.2 -10.7l-0.9 -10.8l8.2 -10.7l1.4 -0.8l11 -3.8l4.7 -6.1l-0.2 -10.8z"/>
<path fill="#ff3b00" stroke="#ff3b00" stroke-width="0.6" d="M167.8 145.7l0.9 0.7l-0.9 1.1l-1.1 -1.1zM332.5 219.3l10.9 -2l11 2l11 -0.6l11 -3.1l10.9 0.2l6.8 5.7l0.1 10.7l-1.5 10.8l-0.2 10.7l2 10.7l-0.2 10.7l-7 8.2l-5.4 2.6l-5.5 3l-4.6 7.7l-6.4 0l-11 0l-7.3 0l-3.7 -5.9l-4.9 -4.8l-6 -4.5l-5.3 -6.3l-5.7 -6.8l-7.5 -3.9l-3.5 -1.9l-7.8 -8.8l2.5 -10.7l5.3 -2.6l11 -4l3.7 -4.2l5.3 -10.7zM349.2 243l-1.1 10.7l6.3 9.4l11 1.1l8.4 -10.5l-2.1 -10.7l-6.3 -4.6l-11 0.3z"/>
<path fill="#e80000" stroke="#e80000" stroke-width="0.6" d="M354.4 238.7l11 -0.3l6.3 4.6l2.1 10.7l-8.4 10.5l-11 -1.1l-6.3 -9.4l1.1 -10.7z"/>
<path fill="none" stroke="#000" stroke-width="1.05" stroke-linejoin="round" d="M42.5 62.4L47 65.5L55.9 72.2L68.5 78.5L78.3 75.8L91.7 71.3L100.6 70.9L109.6 72.2L117.6 75.3L127.5 71.3L136.4 66.8L145.3 64.2L151.6 61.5L160.5 60.6L169.5 59.7L179.3 61.5L185.6 70.4L190 78.5L199.9 78.5L212.4 76.7L218.6 83.8L223.1 95.4L221.3 105.3L216.9 114.2L219.5 123.2L225.4 134.8L233 144.6L241 154.5L245.5 164.3L249.9 175L254.4 187.5L258 200L258.9 209L258 218.8L252.6 231.3L248.1 241.2L245.5 254.6L242.8 265.3L243.7 276.9L245.5 285.9L249 293L252.6 301.1M594.1 23.9L590.6 28.4L587 41.8L575.4 55.2L563.7 73.1L552.1 80.3L541.4 92.8L534.2 98.1L525.3 107.1L518.1 114.2L508.3 133L498.5 140.2L491.3 153.6L486.8 159.8L484.2 171.4L487.7 178.6L487.7 189.3L491.3 202.7L497.6 210.8L498.5 220.6L498.5 229.5L499.4 243L496.7 253.7L489.5 263.5L476.1 272.5L467.2 276.9L458.2 285.9L451.1 293.9L447.5 301.1M577.1 225.1L582.5 236.7L586.1 253.7L583.4 260.8L580.7 268L578 276.9L574.5 287.7L570.9 301.1L532.4 301.1L532.4 287.7L529.8 278.7L532.4 269.8L534.2 263.5L541.4 260.8L550.3 258.2L558.4 251.9L564.6 244.7L569.1 237.6L574.5 228.7L577.1 225.1M420.7 120.5L426.9 116L435.9 115.1L441.3 119.6L440.4 126.7L437.7 135.7L431.4 140.2L422.5 140.2L418.9 131.2L420.7 125L420.7 120.5M396.6 147.3L399.2 147.3L401 158L403.7 170.5L410 180.4L415.3 192L413.5 195.6L409.1 192L405.5 181.3L400.1 172.3L397.4 160.7L396.6 147.3M441.3 202.7L443.9 203.6L446.6 216.1L449.3 225.1L452 236.7L451.1 245.6L448.4 245.6L444.8 236.7L442.1 225.1L440.4 213.5L441.3 202.7M409.1 107.1L417.1 98.1L414.4 97.2L407.3 105.3L409.1 107.1M457.3 76.7L460.9 88.3L463.6 95.4L460 91L456.5 82L457.3 76.7M395.7 133L398.3 133L398.3 141L395.7 139.3L395.7 133M134.6 60.6L138.2 53.4L136.4 46.3L131 40.9L125.7 43.6L132.8 49.9L134.6 60.6M391.2 194.7L396.6 193.8L397.4 201.8L393 200.9L391.2 194.7M376 277.8L386.7 271.6L395.7 266.2L392.1 268.9L382.2 275.1L376 277.8"/><path fill="none" stroke="#000" stroke-width="0.8" stroke-linejoin="round" d="M69.3 78.5L68.5 68.6L61.3 60.6L60.4 49.9L63.1 41.8L65.8 23.9M60.4 49.9L51.5 41.8L44.3 41.8L38.1 40M108.7 72.2L111.4 55.2L114 44.5L112.3 32.9L111.4 23.9M147.1 63.3L141.8 56.1L140.9 43.6L139.1 23.9M150.7 62.4L150.7 37.3L148.9 23.9M160.5 60.6L160.5 37.3L168.6 23.9M213.3 76.7L222.2 59.7L234.7 58.8L243.7 46.3L252.6 32.9L257.1 23.9M224 98.1L237.4 97.2L255.3 98.1L266 99L279.4 102.6L281.2 97.2L284.8 86.5L302.7 86.5M237.4 97.2L237.4 108.9L221.3 108.9M237.4 97.2L252.6 105.3L261.6 105.3L265.1 132.1L261.6 139.3L248.1 139.3L239.2 149.1L236.5 152.7M266 23.9L266 59.7L270.5 73.1L279.4 98.1M245.5 164.3L252.6 169.7L273.2 156.2L281.2 137.5L294.6 122.3L298.2 113.3L302.7 86.5L310.7 73.1L324.1 79.4L340.2 75.8L355.4 72.2L368.8 71.3L381.4 72.2L395.7 78.5L412.6 86.5L431.4 83.8L440.4 80.3M249.9 171.4L279.4 171.4L283.9 184.8L292.9 190.2L306.3 189.3L310.7 180.4L331.3 183.1L331.3 202.7L335.8 216.1L351 216.1L362.6 217.9L373.3 224.2L379.6 221.5L390.3 227.8L395.7 237.6L402.8 235.8L402.8 226.9L391.2 216.1L391.2 202.7L410.9 192M351 216.1L351 234L333.1 234L333.1 262.6L344.7 274.2L361.7 276.9M242.8 272.5L257.1 269.8L301.8 273.4L324.1 281.4L344.7 274.2M324.1 281.4L324.1 314.5M361.7 276.9L377.8 277.8L391.2 265.3L408.2 257.3L430.5 267.1L430.5 283.2L427.8 301.1M361.7 276.9L368.8 283.2L382.2 301.1M408.2 257.3L406.4 248.3L430.5 239.4L433.2 229.5L434.1 214.4L431.4 202.7L430.5 201.8L415.3 194.7M428.7 239.4L439.5 246.5L444.8 248.3L452 261.7L451.1 270.7L456.5 260.8L457.3 249.2L452 238.5M448.4 220.6L467.2 221.5L480.6 218.8L497.6 210.8M412.6 86.5L416.2 98.1M407.3 106.2L403.7 113.3L401 130.3L395.7 130.3M401 130.3L409.1 126.7L440.4 126.7L472.5 144.6L486.8 158.9M409.1 126.7L411.8 139.3L408.2 143.7L411.8 147.3L404.6 156.2L399.2 158M395.7 139.3L403.7 142.8L408.2 143.7M440.4 126.7L440.4 116L444.8 108.9L449.3 99.9L443.9 80.3L457.3 76.7L465.4 78.5L476.1 85.6L485.1 86.5L494 80.3L511 82L502.9 91L502.9 126.7L508.3 133M511 82L525.3 77.6L538.7 73.1L552.1 59.7L564.6 46.3L547.6 42.7L529.8 37.3L519 28.4L516.3 23.9M457.3 76.7L446.6 59.7L431.4 48.1L433.2 42.7L441.3 40.9L441.3 23.9M275 50.8L297.3 46.3L306.3 37.3L328.6 23.9M346.5 40L359.9 26.6L368.8 23.9M381.4 72.2L364.4 55.2L346.5 40L337.6 23.9"/>
<path fill="none" stroke="#000" stroke-width="1.7" d="M47 28.4l0 0.8M69.3 28.4l0 0.8M91.7 28.4l0 0.8M114 28.4l0 0.8M136.4 28.4l0 0.8M158.8 28.4l0 0.8M181.1 28.4l0 0.8M203.4 28.4l0 0.8M225.8 28.4l0 0.8M270.5 28.4l0 -7.8M292.9 28.4l0 -7.8M315.2 28.4l0 -7.8M337.6 28.4l-1.5 -7.4M359.9 28.4l-3 -7.2M404.6 28.4l0 7.8M426.9 28.4l0 7.8M449.3 28.4l0 7.8M471.6 28.4l0 11.3M494 28.4l0 14.8M516.3 28.4l1.7 10.8M538.7 28.4l3 7.2M561 28.4l1.5 0.3M583.4 28.4l5.5 -5.5M605.8 28.4l5.5 -5.5M628.1 28.4l5.5 -5.5M650.4 28.4l5.5 -5.5M114 50.8l0 0.5M136.4 50.8l0 0.8M158.8 50.8l0 0.8M181.1 50.8l0 0.8M203.4 50.8l0 0.8M225.8 50.8l0 0.8M248.1 50.8l-0.4 -0.4M270.5 50.8l-4.6 -8.9M292.9 50.8l-6.4 -8.5M315.2 50.8l-8.5 -8.1M337.6 50.8l-12 -9.3M359.9 50.8l-15.6 -10.5M382.2 50.8l-7.9 -2M404.6 50.8l-2.6 2.6M426.9 50.8l-1.5 4.6M449.3 50.8l0 7.8M471.6 50.8l1.3 10.9M494 50.8l2.8 14.1M516.3 50.8l5.2 8.1M538.7 50.8l7.6 3.7M561 50.8l8.1 0.4M583.4 50.8l9.5 -3.1M605.8 50.8l9.5 -3.1M628.1 50.8l9.5 -3.1M650.4 50.8l9.5 -3.1M136.4 73.1l0 0.8M158.8 73.1l0 0.8M181.1 73.1l0 0.8M203.4 73.1l0 0.8M225.8 73.1l0 0.8M248.1 73.1l-1.9 -1M270.5 73.1l-10.5 -10.5M292.9 73.1l-15.1 -9.5M315.2 73.1l-20.1 -8.3M337.6 73.1l-25.3 -10.5M359.9 73.1l-30.5 -12.6M382.2 73.1l-19.2 -5.7M404.6 73.1l-7.8 0M426.9 73.1l-2.6 2.6M449.3 73.1l0 7.8M471.6 73.1l2.6 10.7M494 73.1l5.7 13.7M516.3 73.1l9.4 6.3M538.7 73.1l14.8 0M561 73.1l14.8 0M583.4 73.1l14.8 0M605.8 73.1l14.8 0M628.1 73.1l14.8 0M650.4 73.1l14.8 0M47 95.4l0.7 0.3M69.3 95.4l0.7 0.3M91.7 95.4l0.7 0.3M114 95.4l1.4 0.9M136.4 95.4l2 1.9M158.8 95.4l0.7 1.2M181.1 95.4l0.1 0.7M203.4 95.4l-2.3 0.4M225.8 95.4l-12.1 -2.7M248.1 95.4l-17.9 -7.8M270.5 95.4l-23.8 -13.4M292.9 95.4l-26.3 -12.7M315.2 95.4l-28.9 -12M337.6 95.4l-33.3 -13.8M359.9 95.4l-37.7 -15.6M382.2 95.4l-21.7 -11M404.6 95.4l-6.4 -5.6M426.9 95.4l-0.4 -0.5M471.6 95.4l1.2 0.7M494 95.4l5.3 3.6M516.3 95.4l11.1 4.1M538.7 95.4l17.4 4M561 95.4l17.4 4M583.4 95.4l17.4 4M605.8 95.4l17.4 4M628.1 95.4l17.4 4M650.4 95.4l17.4 4M47 117.8l7.2 3M69.3 117.8l7.2 3M91.7 117.8l7.2 3M114 117.8l7.2 3M136.4 117.8l7.2 3M158.8 117.8l2.9 2.2M181.1 117.8l0.3 0.7M203.4 117.8l-10.8 -2.7M225.8 117.8l-30.5 -12.6M248.1 117.8l-34.1 -14.1M270.5 117.8l-37.7 -15.6M292.9 117.8l-37.7 -15.6M315.2 117.8l-37.7 -15.6M337.6 117.8l-41.4 -17.1M359.9 117.8l-45 -18.6M382.2 117.8l-24.3 -16.7M404.6 117.8l-5.7 -13.7M426.9 117.8l-0.8 -10M449.3 117.8l3 -7.2M471.6 117.8l4.8 -4.8M494 117.8l7.2 -3M516.3 117.8l13.3 1.8M538.7 117.8l20.1 8.3M561 117.8l20.1 8.3M583.4 117.8l20.1 8.3M605.8 117.8l20.1 8.3M628.1 117.8l20.1 8.3M650.4 117.8l20.1 8.3M47 140.2l6.3 4.2M69.3 140.2l7.6 5.3M91.7 140.2l8.9 6.5M114 140.2l8.9 6.5M136.4 140.2l8.9 6.5M158.8 140.2l3.9 3.9M181.1 140.2l0.3 0.7M203.4 140.2l-5.6 -2.1M225.8 140.2l-20.2 -11.8M248.1 140.2l-27.1 -13M270.5 140.2l-34.1 -14.1M292.9 140.2l-34.1 -14.1M315.2 140.2l-34.1 -14.1M337.6 140.2l-30.7 -14.6M359.9 140.2l-27.3 -15M382.2 140.2l-15.8 -14.5M404.6 140.2l-5.7 -13.7M426.9 140.2l-0.4 -11.6M449.3 140.2l4.3 -10.4M471.6 140.2l7 -7M494 140.2l10.4 -4.3M516.3 140.2l14.8 1.4M538.7 140.2l20.1 8.3M561 140.2l18.9 10.1M583.4 140.2l17.7 11.8M605.8 140.2l17.7 11.8M628.1 140.2l17.7 11.8M650.4 140.2l17.7 11.8M47 162.5l5.5 5.5M69.3 162.5l8 8M91.7 162.5l10.5 10.5M114 162.5l10.5 10.5M136.4 162.5l10.5 10.5M158.8 162.5l4.8 5.9M181.1 162.5l0.3 0.7M203.4 162.5l-1 -0.7M225.8 162.5l-10.5 -10.5M248.1 162.5l-20.2 -11.8M270.5 162.5l-30.5 -12.6M292.9 162.5l-30.5 -12.6M315.2 162.5l-30.5 -12.6M337.6 162.5l-20.2 -11.8M359.9 162.5l-10.5 -10.5M382.2 162.5l-8 -12M404.6 162.5l-5.7 -13.7M426.9 162.5l0 -13.2M449.3 162.5l5.7 -13.7M471.6 162.5l9.3 -9.3M494 162.5l13.7 -5.7M516.3 162.5l16.4 1M538.7 162.5l20.1 8.3M561 162.5l17.7 11.8M583.4 162.5l15.4 15.4M605.8 162.5l15.4 15.4M628.1 162.5l15.4 15.4M650.4 162.5l15.4 15.4M47 184.8l5.5 5.5M69.3 184.8l6.8 8.6M91.7 184.8l8 12M114 184.8l8 12M136.4 184.8l8 12M158.8 184.8l0.3 0.7M181.1 184.8l-1 -0.7M203.4 184.8l-5.9 -5.3M225.8 184.8l-10.5 -10.5M248.1 184.8l-13.9 -10M270.5 184.8l-17.6 -9.5M292.9 184.8l-17.6 -9.5M315.2 184.8l-17.6 -9.5M337.6 184.8l-12.6 -8.9M359.9 184.8l-8 -8M382.2 184.8l-7.6 -12.2M404.6 184.8l-7 -16.9M426.9 184.8l-1.9 -15.3M449.3 184.8l2.8 -14.1M471.6 184.8l6 -11.5M494 184.8l9.3 -9.3M516.3 184.8l12.1 0.5M538.7 184.8l17.7 11.8M561 184.8l14.7 14.7M583.4 184.8l11.8 17.7M605.8 184.8l11.8 17.7M628.1 184.8l11.8 17.7M650.4 184.8l11.8 17.7M47 207.2l5.5 5.5M69.3 207.2l5.7 9.4M91.7 207.2l5.7 13.7M114 207.2l5.7 13.7M136.4 207.2l5.7 13.7M181.1 207.2l-10.5 -10.5M203.4 207.2l-10.5 -10.5M225.8 207.2l-10.5 -10.5M248.1 207.2l-8 -8M270.5 207.2l-5.5 -5.5M292.9 207.2l-5.5 -5.5M315.2 207.2l-5.5 -5.5M337.6 207.2l-5.5 -5.5M359.9 207.2l-5.5 -5.5M382.2 207.2l-7.2 -12.5M404.6 207.2l-8.3 -20.1M426.9 207.2l-4 -17.4M449.3 207.2l0 -14.8M471.6 207.2l2.8 -14.1M494 207.2l5.7 -13.7M516.3 207.2l7.7 0.1M538.7 207.2l15.4 15.4M561 207.2l11.8 17.7M583.4 207.2l8.3 20.1M605.8 207.2l8.3 20.1M628.1 207.2l8.3 20.1M650.4 207.2l8.3 20.1M47 229.5l8 8M69.3 229.5l8 9.9M91.7 229.5l8 12M114 229.5l8 12M136.4 229.5l8 12M158.8 229.5l-0.3 0.5M181.1 229.5l-12.2 -5.1M203.4 229.5l-11.3 -7.7M225.8 229.5l-10.5 -10.5M248.1 229.5l-8 -8M270.5 229.5l-5.5 -5.5M292.9 229.5l-5.5 -5.5M315.2 229.5l-5.5 -5.5M337.6 229.5l-4.3 -4.3M359.9 229.5l-3 -3M382.2 229.5l-6.1 -11.2M404.6 229.5l-8.3 -20.1M426.9 229.5l-6.7 -16.2M449.3 229.5l-5.1 -12.2M471.6 229.5l1.1 -3M494 229.5l7.7 0.1M516.3 229.5l11.5 6.8M538.7 229.5l15.4 15.4M561 229.5l11.8 17.7M583.4 229.5l8.3 20.1M605.8 229.5l8.3 20.1M628.1 229.5l8.3 20.1M650.4 229.5l7.7 18.5M47 251.9l10.5 10.5M69.3 251.9l10.5 10.5M91.7 251.9l10.5 10.5M114 251.9l10.5 10.5M136.4 251.9l10.5 10.5M158.8 251.9l-0.7 1.7M181.1 251.9l-14.8 0M203.4 251.9l-12.2 -5.1M225.8 251.9l-10.5 -10.5M248.1 251.9l-8 -8M270.5 251.9l-5.5 -5.5M292.9 251.9l-5.5 -5.5M315.2 251.9l-5.5 -5.5M337.6 251.9l-3 -3M359.9 251.9l-0.6 -0.6M382.2 251.9l-5 -9.9M404.6 251.9l-8.3 -20.1M426.9 251.9l-9.5 -15.1M449.3 251.9l-10.5 -10.5M494 251.9l15.4 15.4M516.3 251.9l15.4 15.4M538.7 251.9l15.4 15.4M561 251.9l11.8 17.7M583.4 251.9l8.3 20.1M605.8 251.9l8.3 20.1M628.1 251.9l8.3 20.1M650.4 251.9l7 16.9M47 274.2l10.5 10.5M69.3 274.2l10.5 10.5M91.7 274.2l10.5 10.5M114 274.2l10.5 10.5M136.4 274.2l10.5 10.5M158.8 274.2l2 4.3M181.1 274.2l-0.9 0.8M203.4 274.2l-3.2 -1.3M225.8 274.2l-8 -8M248.1 274.2l-6.8 -6.8M270.5 274.2l-5.5 -5.5M292.9 274.2l-5.5 -5.5M315.2 274.2l-5.5 -5.5M337.6 274.2l-4.3 -4.3M359.9 274.2l-3 -3M382.2 274.2l-5.4 -9.6M404.6 274.2l-7 -16.9M426.9 274.2l-5.8 -12.9M449.3 274.2l-4.6 -8.9M471.6 274.2l0.6 0.3M494 274.2l15.4 15.4M516.3 274.2l15.4 15.4M538.7 274.2l15.4 15.4M561 274.2l12.4 15.3M583.4 274.2l9.5 15.1M605.8 274.2l9.5 15.1M628.1 274.2l9.5 15.1M650.4 274.2l8.7 13.5M47 296.6l10.5 10.5M69.3 296.6l10.5 10.5M91.7 296.6l10.5 10.5M114 296.6l10.5 10.5M136.4 296.6l10.5 10.5M158.8 296.6l8 8M181.1 296.6l5.5 5.5M225.8 296.6l-5.5 -5.5M248.1 296.6l-5.5 -5.5M270.5 296.6l-5.5 -5.5M292.9 296.6l-5.5 -5.5M315.2 296.6l-5.5 -5.5M337.6 296.6l-5.5 -5.5M359.9 296.6l-5.5 -5.5M382.2 296.6l-5.7 -9.4M404.6 296.6l-5.7 -13.7M426.9 296.6l-2.6 -10.7M449.3 296.6l0 -7.8M471.6 296.6l3.9 1.2M494 296.6l15.4 15.4M516.3 296.6l15.4 15.4M538.7 296.6l15.4 15.4M561 296.6l12.9 12.9M583.4 296.6l10.5 10.5M605.8 296.6l10.5 10.5M628.1 296.6l10.5 10.5M650.4 296.6l10.5 10.5"/>
<path fill="#000" d="M47 35.4l-2.2 -6.2l4.4 -0zM69.3 35.4l-2.2 -6.2l4.4 -0zM91.7 35.4l-2.2 -6.2l4.4 -0zM114 35.4l-2.2 -6.2l4.4 -0zM136.4 35.4l-2.2 -6.2l4.4 -0zM158.8 35.4l-2.2 -6.2l4.4 -0zM181.1 35.4l-2.2 -6.2l4.4 -0zM203.4 35.4l-2.2 -6.2l4.4 -0zM225.8 35.4l-2.2 -6.2l4.4 -0zM248.1 24.9l1.1 3.1l-2.2 -0zM270.5 14.4l2.2 6.2l-4.4 -0zM292.9 14.4l2.2 6.2l-4.4 -0zM315.2 14.4l2.2 6.2l-4.4 -0zM334.9 14.9l3.4 5.7l-4.3 0.9zM354.5 15.5l4.4 4.9l-4.1 1.7zM379.6 28.9l2.2 -1.3l0.3 1.7zM404.6 42.4l-2.2 -6.2l4.4 -0zM426.9 42.4l-2.2 -6.2l4.4 -0zM449.3 42.4l-2.2 -6.2l4.4 -0zM471.6 45.9l-2.2 -6.2l4.4 -0zM494 49.4l-2.2 -6.2l4.4 -0zM519 45.4l-3.1 -5.8l4.3 -0.7zM544.1 41.3l-4.4 -4.9l4.1 -1.7zM568.7 29.9l-6.5 0.9l0.9 -4.3zM593.3 18.5l-2.8 5.9l-3.1 -3.1zM615.6 18.5l-2.8 5.9l-3.1 -3.1zM638 18.5l-2.8 5.9l-3.1 -3.1zM660.3 18.5l-2.8 5.9l-3.1 -3.1zM47 54.2l-1.1 -3.1l2.2 -0zM69.3 54.2l-1.1 -3.1l2.2 -0zM91.7 54.2l-1.1 -3.1l2.2 -0zM114 56l-1.7 -4.7l3.4 -0zM136.4 57.8l-2.2 -6.2l4.4 -0zM158.8 57.8l-2.2 -6.2l4.4 -0zM181.1 57.8l-2.2 -6.2l4.4 -0zM203.4 57.8l-2.2 -6.2l4.4 -0zM225.8 57.8l-2.2 -6.2l4.4 -0zM244.4 47l4.5 2.2l-2.4 2.4zM263.1 36.3l4.8 4.5l-3.9 2zM282.7 37.4l5.5 3.6l-3.5 2.7zM302.3 38.4l6 2.7l-3 3.2zM320.7 37.6l6.2 2.1l-2.7 3.5zM339.1 36.8l6.4 1.6l-2.5 3.7zM368.4 47.3l6.5 -0.6l-1.1 4.3zM397.6 57.8l2.8 -5.9l3.1 3.1zM423.4 61.2l-0.1 -6.6l4.2 1.4zM449.3 64.8l-2.2 -6.2l4.4 -0zM473.7 67.9l-2.9 -5.9l4.4 -0.5zM498 71l-3.4 -5.7l4.3 -0.9zM524.9 64.1l-5.2 -4l3.7 -2.4zM551.9 57.2l-6.5 -0.8l1.9 -4zM575.4 51.5l-6.3 1.9l0.2 -4.4zM598.8 45.8l-5.2 4l-1.3 -4.2zM621.2 45.8l-5.2 4l-1.3 -4.2zM643.5 45.8l-5.2 4l-1.3 -4.2zM665.9 45.8l-5.2 4l-1.3 -4.2zM114 76.6l-1.1 -3.2l2.2 -0zM136.4 80.1l-2.2 -6.2l4.4 -0zM158.8 80.1l-2.2 -6.2l4.4 -0zM181.1 80.1l-2.2 -6.2l4.4 -0zM203.4 80.1l-2.2 -6.2l4.4 -0zM225.8 80.1l-2.2 -6.2l4.4 -0zM240.7 69.2l6.5 1l-2.1 3.9zM255.7 58.3l5.9 2.8l-3.1 3.1zM272.5 60.3l6.4 1.4l-2.3 3.7zM289.3 62.4l6.6 0.3l-1.7 4.1zM306.5 60.2l6.6 0.3l-1.7 4.1zM323.7 58.1l6.6 0.3l-1.7 4.1zM357.1 65.6l6.6 -0.3l-1.3 4.2zM390.6 73.1l6.2 -2.2l-0 4.4zM419.9 80.1l2.8 -5.9l3.1 3.1zM449.3 87.1l-2.2 -6.2l4.4 -0zM475.7 89.8l-3.6 -5.5l4.3 -1zM502 92.5l-4.4 -4.9l4.1 -1.7zM530.9 82.8l-6.4 -1.6l2.4 -3.7zM559.7 73.1l-6.2 2.2l-0 -4.4zM582 73.1l-6.2 2.2l-0 -4.4zM604.4 73.1l-6.2 2.2l-0 -4.4zM626.8 73.1l-6.2 2.2l-0 -4.4zM649.1 73.1l-6.2 2.2l-0 -4.4zM671.4 73.1l-6.2 2.2l-0 -4.4zM53.5 98.1l-6.6 -0.3l1.7 -4.1zM75.8 98.1l-6.6 -0.3l1.7 -4.1zM98.2 98.1l-6.6 -0.3l1.7 -4.1zM120.5 99.9l-6.4 -1.7l2.5 -3.6zM142.9 101.6l-6 -2.7l3 -3.2zM162.7 101.9l-5.1 -4.2l3.8 -2.3zM182.4 102.2l-3.4 -5.6l4.3 -0.9zM195.1 96.8l5.8 -3.2l0.7 4.3zM207.7 91.4l6.5 -0.8l-0.9 4.3zM224.5 85.2l6.6 0.4l-1.7 4zM241.3 79l6.5 1.1l-2.2 3.8zM260.9 80.1l6.5 0.7l-1.9 4zM280.5 81.1l6.6 0.3l-1.7 4.1zM298.5 79.3l6.6 0.3l-1.7 4.1zM316.4 77.4l6.6 0.3l-1.7 4.1zM355 81.6l6.5 0.8l-2 3.9zM393.6 85.7l6.1 2.4l-2.9 3.3zM422.8 90.9l5.2 2.8l-2.9 2.7zM452 96l-2.6 0.4l0.3 -1.7zM478.2 99.2l-6.5 -1.2l2.2 -3.8zM504.5 102.5l-6.4 -1.6l2.4 -3.7zM533.3 101.6l-6.6 -0.1l1.5 -4.1zM562.1 100.8l-6.5 0.8l1 -4.3zM584.5 100.8l-6.5 0.8l1 -4.3zM606.8 100.8l-6.5 0.8l1 -4.3zM629.2 100.8l-6.5 0.8l1 -4.3zM651.5 100.8l-6.5 0.8l1 -4.3zM673.9 100.8l-6.5 0.8l1 -4.3zM59.9 123.2l-6.6 -0.3l1.7 -4.1zM82.3 123.2l-6.6 -0.3l1.7 -4.1zM104.6 123.2l-6.6 -0.3l1.7 -4.1zM127 123.2l-6.6 -0.3l1.7 -4.1zM149.3 123.2l-6.6 -0.3l1.7 -4.1zM166.6 123.7l-6.3 -2l2.7 -3.5zM183.8 124.3l-4.4 -4.9l4.1 -1.7zM186.7 113.5l6.6 -0.6l-1.1 4.3zM189.6 102.8l6.6 0.3l-1.7 4.1zM208.3 101.3l6.6 0.3l-1.7 4.1zM227 99.8l6.6 0.3l-1.7 4.1zM249.4 99.8l6.6 0.3l-1.7 4.1zM271.7 99.8l6.6 0.3l-1.7 4.1zM290.5 98.3l6.6 0.3l-1.7 4.1zM309.2 96.8l6.6 0.3l-1.7 4.1zM352.9 97.6l6.4 1.7l-2.5 3.6zM396.6 98.4l4.4 4.9l-4.1 1.7zM425.6 101.6l2.7 6l-4.4 0.4zM454.7 104.9l-0.3 6.6l-4.1 -1.7zM480.8 108.7l-2.8 5.9l-3.1 -3.1zM506.9 112.4l-4.9 4.4l-1.7 -4.1zM535.8 120.5l-6.4 1.3l0.6 -4.4zM564.6 128.5l-6.6 -0.3l1.7 -4.1zM586.9 128.5l-6.6 -0.3l1.7 -4.1zM609.3 128.5l-6.6 -0.3l1.7 -4.1zM631.6 128.5l-6.6 -0.3l1.7 -4.1zM654 128.5l-6.6 -0.3l1.7 -4.1zM676.3 128.5l-6.6 -0.3l1.7 -4.1zM58.4 147.8l-6.4 -1.6l2.4 -3.7zM82 149l-6.3 -1.8l2.5 -3.6zM105.6 150.3l-6.3 -1.9l2.6 -3.6zM127.9 150.3l-6.3 -1.9l2.6 -3.6zM150.3 150.3l-6.3 -1.9l2.6 -3.6zM167 148.4l-5.9 -2.8l3.1 -3.1zM183.8 146.6l-4.4 -4.9l4.1 -1.7zM192 135.9l6.6 0.1l-1.5 4.1zM200.3 125.2l6.5 1.2l-2.2 3.8zM215.5 124.4l6.5 0.7l-1.9 4zM230.7 123.6l6.6 0.3l-1.7 4.1zM253 123.6l6.6 0.3l-1.7 4.1zM275.4 123.6l6.6 0.3l-1.7 4.1zM301.2 122.9l6.5 0.7l-1.9 4zM327.1 122.2l6.5 1l-2.1 3.9zM361.8 121.5l6.1 2.6l-3 3.2zM396.6 120.7l4.4 4.9l-4.1 1.7zM426.3 122.4l2.4 6.1l-4.4 0.2zM456 124l-0.3 6.6l-4.1 -1.7zM483.1 128.7l-2.8 5.9l-3.1 -3.1zM510.2 133.5l-4.9 4.4l-1.7 -4.1zM537.4 142.2l-6.4 1.6l0.4 -4.4zM564.6 150.9l-6.6 -0.3l1.7 -4.1zM585.4 153.1l-6.5 -1l2.1 -3.9zM606.2 155.4l-6.4 -1.6l2.4 -3.7zM628.6 155.4l-6.4 -1.6l2.4 -3.7zM650.9 155.4l-6.4 -1.6l2.4 -3.7zM673.3 155.4l-6.4 -1.6l2.4 -3.7zM56.9 172.4l-5.9 -2.8l3.1 -3.1zM81.7 174.9l-5.9 -2.8l3.1 -3.1zM106.5 177.3l-5.9 -2.8l3.1 -3.1zM128.9 177.3l-5.9 -2.8l3.1 -3.1zM151.2 177.3l-5.9 -2.8l3.1 -3.1zM167.5 173.2l-5.6 -3.4l3.4 -2.8zM183.8 169l-4.4 -4.9l4.1 -1.7zM197.4 158.3l6.4 1.7l-2.5 3.6zM211 147.7l5.9 2.8l-3.1 3.1zM222.6 147.6l6.5 1.2l-2.2 3.8zM234.3 147.5l6.6 0.3l-1.7 4.1zM256.6 147.5l6.6 0.3l-1.7 4.1zM279 147.5l6.6 0.3l-1.7 4.1zM312 147.6l6.5 1.2l-2.2 3.8zM345.1 147.7l5.9 2.8l-3.1 3.1zM370.8 145.4l5.3 3.9l-3.7 2.4zM396.6 143.1l4.4 4.9l-4.1 1.7zM426.9 143.1l2.2 6.2l-4.4 -0zM457.3 143.1l-0.3 6.6l-4.1 -1.7zM485.4 148.8l-2.8 5.9l-3.1 -3.1zM513.4 154.5l-4.9 4.4l-1.7 -4.1zM539 163.8l-6.3 1.8l0.3 -4.4zM564.6 173.2l-6.6 -0.3l1.7 -4.1zM583.9 177.8l-6.4 -1.6l2.4 -3.7zM603.2 182.3l-5.9 -2.8l3.1 -3.1zM625.5 182.3l-5.9 -2.8l3.1 -3.1zM647.9 182.3l-5.9 -2.8l3.1 -3.1zM670.2 182.3l-5.9 -2.8l3.1 -3.1zM56.9 194.7l-5.9 -2.8l3.1 -3.1zM80 198.4l-5.6 -3.5l3.5 -2.7zM103.1 202l-5.3 -3.9l3.7 -2.4zM125.5 202l-5.3 -3.9l3.7 -2.4zM147.8 202l-5.3 -3.9l3.7 -2.4zM161.4 191.3l-4.4 -4.9l4.1 -1.7zM175 180.7l6.4 1.7l-2.5 3.6zM193 175.3l6.1 2.5l-3 3.3zM211 170l5.9 2.8l-3.1 3.1zM229.2 171.2l6.3 1.8l-2.6 3.6zM247.4 172.4l6.5 1l-2.1 3.9zM269.8 172.4l6.5 1l-2.1 3.9zM292.1 172.4l6.5 1l-2.1 3.9zM319.8 172.4l6.3 1.8l-2.5 3.6zM347.5 172.5l5.9 2.8l-3.1 3.1zM371.4 167.3l5.1 4.1l-3.7 2.3zM395.2 162.2l4.4 4.9l-4.1 1.7zM424.3 163.4l3 5.9l-4.4 0.5zM453.3 164.6l0.9 6.5l-4.3 -0.9zM480.5 167.9l-0.9 6.5l-3.9 -2zM507.7 171.1l-2.8 5.9l-3.1 -3.1zM534.6 185.6l-6.3 1.9l0.2 -4.4zM561.5 200.1l-6.4 -1.6l2.4 -3.7zM580.1 203.9l-5.9 -2.8l3.1 -3.1zM598.7 207.7l-5.3 -3.9l3.7 -2.4zM621 207.7l-5.3 -3.9l3.7 -2.4zM643.4 207.7l-5.3 -3.9l3.7 -2.4zM665.7 207.7l-5.3 -3.9l3.7 -2.4zM56.9 217.1l-5.9 -2.8l3.1 -3.1zM78.3 221.9l-5.1 -4.1l3.8 -2.3zM99.7 226.6l-4.4 -4.9l4.1 -1.7zM122.1 226.6l-4.4 -4.9l4.1 -1.7zM144.4 226.6l-4.4 -4.9l4.1 -1.7zM155.3 209.5l2.3 -3.1l1.5 2.2zM166.3 192.4l5.9 2.8l-3.1 3.1zM188.6 192.4l5.9 2.8l-3.1 3.1zM211 192.4l5.9 2.8l-3.1 3.1zM235.8 194.8l5.9 2.8l-3.1 3.1zM260.6 197.3l5.9 2.8l-3.1 3.1zM283 197.3l5.9 2.8l-3.1 3.1zM305.3 197.3l5.9 2.8l-3.1 3.1zM327.7 197.3l5.9 2.8l-3.1 3.1zM350 197.3l5.9 2.8l-3.1 3.1zM371.9 189.3l5 4.3l-3.8 2.2zM393.9 181.3l4.4 4.9l-4.1 1.7zM421.6 183.8l3.5 5.6l-4.3 1zM449.3 186.2l2.2 6.2l-4.4 -0zM475.7 187l0.9 6.5l-4.3 -0.9zM502 187.8l-0.3 6.6l-4.1 -1.7zM530.3 207.4l-6.2 2.1l0.1 -4.4zM558.5 227l-5.9 -2.8l3.1 -3.1zM576.3 230l-5.3 -3.9l3.7 -2.4zM594.1 233.1l-4.4 -4.9l4.1 -1.7zM616.5 233.1l-4.4 -4.9l4.1 -1.7zM638.8 233.1l-4.4 -4.9l4.1 -1.7zM661.2 233.1l-4.4 -4.9l4.1 -1.7zM59.4 241.9l-5.9 -2.8l3.1 -3.1zM81.3 244.3l-5.6 -3.4l3.4 -2.8zM103.1 246.7l-5.3 -3.9l3.7 -2.4zM125.5 246.7l-5.3 -3.9l3.7 -2.4zM147.8 246.7l-5.3 -3.9l3.7 -2.4zM155.5 234.4l1.4 -5.4l3.1 2.1zM163.2 222.1l6.6 0.3l-1.7 4.1zM187.1 218.4l6.4 1.7l-2.5 3.6zM211 214.7l5.9 2.8l-3.1 3.1zM235.8 217.2l5.9 2.8l-3.1 3.1zM260.6 219.7l5.9 2.8l-3.1 3.1zM283 219.7l5.9 2.8l-3.1 3.1zM305.3 219.7l5.9 2.8l-3.1 3.1zM328.9 220.9l5.9 2.8l-3.1 3.1zM352.5 222.1l5.9 2.8l-3.1 3.1zM373.2 212.9l4.9 4.4l-3.9 2.1zM393.9 203.7l4.4 4.9l-4.1 1.7zM417.9 207.7l4.4 4.9l-4.1 1.7zM441.9 211.6l4.4 4.9l-4.1 1.7zM474.9 220.7l-0.1 6.6l-4.1 -1.5zM507.9 229.7l-6.2 2.1l0.1 -4.4zM533.2 239.5l-6.5 -1.3l2.2 -3.8zM558.5 249.3l-5.9 -2.8l3.1 -3.1zM576.3 252.4l-5.3 -3.9l3.7 -2.4zM594.1 255.4l-4.4 -4.9l4.1 -1.7zM616.5 255.4l-4.4 -4.9l4.1 -1.7zM638.8 255.4l-4.4 -4.9l4.1 -1.7zM660.5 253.8l-4.4 -4.9l4.1 -1.7zM61.8 266.7l-5.9 -2.8l3.1 -3.1zM84.2 266.7l-5.9 -2.8l3.1 -3.1zM106.5 266.7l-5.9 -2.8l3.1 -3.1zM128.9 266.7l-5.9 -2.8l3.1 -3.1zM151.2 266.7l-5.9 -2.8l3.1 -3.1zM155.7 259.3l0.3 -6.6l4.1 1.7zM160.1 251.9l6.2 -2.2l-0 4.4zM185.5 244.5l6.6 0.3l-1.7 4.1zM211 237.1l5.9 2.8l-3.1 3.1zM235.8 239.5l5.9 2.8l-3.1 3.1zM260.6 242l5.9 2.8l-3.1 3.1zM283 242l5.9 2.8l-3.1 3.1zM305.3 242l5.9 2.8l-3.1 3.1zM330.1 244.5l5.9 2.8l-3.1 3.1zM355 247l5.9 2.8l-3.1 3.1zM374.4 236.5l4.8 4.5l-3.9 2zM393.9 226l4.4 4.9l-4.1 1.7zM414.2 231.5l5.2 4.1l-3.7 2.3zM434.5 237.1l5.9 2.8l-3.1 3.1zM474.1 254.4l-3 -1.4l1.6 -1.6zM513.8 271.7l-5.9 -2.8l3.1 -3.1zM536.1 271.7l-5.9 -2.8l3.1 -3.1zM558.5 271.7l-5.9 -2.8l3.1 -3.1zM576.3 274.7l-5.3 -3.9l3.7 -2.4zM594.1 277.8l-4.4 -4.9l4.1 -1.7zM616.5 277.8l-4.4 -4.9l4.1 -1.7zM638.8 277.8l-4.4 -4.9l4.1 -1.7zM659.8 274.5l-4.4 -4.9l4.1 -1.7zM61.8 289.1l-5.9 -2.8l3.1 -3.1zM84.2 289.1l-5.9 -2.8l3.1 -3.1zM106.5 289.1l-5.9 -2.8l3.1 -3.1zM128.9 289.1l-5.9 -2.8l3.1 -3.1zM151.2 289.1l-5.9 -2.8l3.1 -3.1zM163.4 284.1l-4.6 -4.7l4 -1.9zM175.5 279.2l3.2 -5.8l2.9 3.3zM194.5 270.5l6.6 0.3l-1.7 4.1zM213.4 261.9l5.9 2.8l-3.1 3.1zM237 263.1l5.9 2.8l-3.1 3.1zM260.6 264.4l5.9 2.8l-3.1 3.1zM283 264.4l5.9 2.8l-3.1 3.1zM305.3 264.4l5.9 2.8l-3.1 3.1zM328.9 265.6l5.9 2.8l-3.1 3.1zM352.5 266.8l5.9 2.8l-3.1 3.1zM373.8 259.2l4.9 4.3l-3.8 2.1zM395.2 251.6l4.4 4.9l-4.1 1.7zM418.5 255.7l4.6 4.7l-4 1.8zM441.9 259.8l4.8 4.5l-3.9 2zM477.8 276.9l-6.4 -0.4l1.7 -4zM513.8 294l-5.9 -2.8l3.1 -3.1zM536.1 294l-5.9 -2.8l3.1 -3.1zM558.5 294l-5.9 -2.8l3.1 -3.1zM577.3 294.3l-5.6 -3.4l3.4 -2.8zM596.2 294.6l-5.2 -4.1l3.7 -2.3zM618.5 294.6l-5.2 -4.1l3.7 -2.3zM640.9 294.6l-5.2 -4.1l3.7 -2.3zM662.6 293l-5.2 -4l3.7 -2.4zM61.8 311.4l-5.9 -2.8l3.1 -3.1zM84.2 311.4l-5.9 -2.8l3.1 -3.1zM106.5 311.4l-5.9 -2.8l3.1 -3.1zM128.9 311.4l-5.9 -2.8l3.1 -3.1zM151.2 311.4l-5.9 -2.8l3.1 -3.1zM171.1 309l-5.9 -2.8l3.1 -3.1zM191 306.5l-5.9 -2.8l3.1 -3.1zM215.9 286.7l5.9 2.8l-3.1 3.1zM238.3 286.7l5.9 2.8l-3.1 3.1zM260.6 286.7l5.9 2.8l-3.1 3.1zM283 286.7l5.9 2.8l-3.1 3.1zM305.3 286.7l5.9 2.8l-3.1 3.1zM327.7 286.7l5.9 2.8l-3.1 3.1zM350 286.7l5.9 2.8l-3.1 3.1zM373.3 281.9l5.1 4.1l-3.8 2.3zM396.6 277.2l4.4 4.9l-4.1 1.7zM422.9 279.9l3.6 5.5l-4.3 1zM449.3 282.6l2.2 6.2l-4.4 -0zM481.5 299.5l-6.6 0.4l1.2 -4.2zM513.8 316.4l-5.9 -2.8l3.1 -3.1zM536.1 316.4l-5.9 -2.8l3.1 -3.1zM558.5 316.4l-5.9 -2.8l3.1 -3.1zM578.4 313.9l-5.9 -2.8l3.1 -3.1zM598.2 311.4l-5.9 -2.8l3.1 -3.1zM620.6 311.4l-5.9 -2.8l3.1 -3.1zM642.9 311.4l-5.9 -2.8l3.1 -3.1zM665.3 311.4l-5.9 -2.8l3.1 -3.1z"/>
<path stroke="#000" stroke-width="5.6" stroke-linecap="round" d="M47 28.4h0M69.3 28.4h0M91.7 28.4h0M114 28.4h0M136.4 28.4h0M158.8 28.4h0M47 50.8h0M69.3 50.8h0M91.7 50.8h0M114 50.8h0M136.4 50.8h0M158.8 50.8h0M47 73.1h0M69.3 73.1h0M91.7 73.1h0M203.4 73.1h0M225.8 73.1h0M248.1 73.1h0M270.5 73.1h0M91.7 95.4h0M114 95.4h0M136.4 95.4h0M158.8 95.4h0M203.4 95.4h0M225.8 95.4h0M248.1 95.4h0M270.5 95.4h0M292.9 95.4h0M315.2 95.4h0M337.6 95.4h0M449.3 95.4h0M471.6 95.4h0M494 95.4h0M516.3 95.4h0M91.7 117.8h0M114 117.8h0M136.4 117.8h0M158.8 117.8h0M203.4 117.8h0M225.8 117.8h0M248.1 117.8h0M270.5 117.8h0M292.9 117.8h0M315.2 117.8h0M337.6 117.8h0M449.3 117.8h0M471.6 117.8h0M494 117.8h0M516.3 117.8h0M91.7 140.2h0M114 140.2h0M136.4 140.2h0M158.8 140.2h0M203.4 140.2h0M225.8 140.2h0M248.1 140.2h0M270.5 140.2h0M292.9 140.2h0M315.2 140.2h0M337.6 140.2h0M449.3 140.2h0M471.6 140.2h0M494 140.2h0M516.3 140.2h0M91.7 162.5h0M114 162.5h0M136.4 162.5h0M158.8 162.5h0M270.5 162.5h0M292.9 162.5h0M315.2 162.5h0M337.6 162.5h0M449.3 162.5h0M471.6 162.5h0M494 162.5h0M516.3 162.5h0M91.7 184.8h0M203.4 184.8h0M225.8 184.8h0M248.1 184.8h0M270.5 184.8h0M292.9 184.8h0M315.2 184.8h0M337.6 184.8h0M359.9 184.8h0M91.7 207.2h0M203.4 207.2h0M225.8 207.2h0M248.1 207.2h0M270.5 207.2h0M292.9 207.2h0M315.2 207.2h0M337.6 207.2h0M359.9 207.2h0M91.7 229.5h0M203.4 229.5h0M225.8 229.5h0M248.1 229.5h0M270.5 229.5h0M292.9 229.5h0M315.2 229.5h0M337.6 229.5h0M359.9 229.5h0M91.7 251.9h0M114 251.9h0M136.4 251.9h0M158.8 251.9h0M181.1 251.9h0M203.4 251.9h0M225.8 251.9h0M248.1 251.9h0M270.5 251.9h0M292.9 251.9h0M315.2 251.9h0M337.6 251.9h0M359.9 251.9h0M650.4 251.9h0M292.9 274.2h0M315.2 274.2h0M337.6 274.2h0M359.9 274.2h0M292.9 296.6h0M315.2 296.6h0M337.6 296.6h0M359.9 296.6h0"/>
<rect x="386.7" y="117.8" width="125.2" height="107.3" fill="none" stroke="#e3211c" stroke-width="2"/>
</g>
<rect x="47.0" y="28.4" width="612.4" height="268.2" fill="none" stroke="#000" stroke-width="1.3"/>
<line x1="43.5" y1="73.1" x2="47.0" y2="73.1" stroke="#000" stroke-width="1"/>
<text x="40.0" y="80.4" text-anchor="end" class="tk">5</text>
<line x1="43.5" y1="117.8" x2="47.0" y2="117.8" stroke="#000" stroke-width="1"/>
<text x="40.0" y="125.1" text-anchor="end" class="tk">0</text>
<line x1="43.5" y1="162.5" x2="47.0" y2="162.5" stroke="#000" stroke-width="1"/>
<text x="40.0" y="169.8" text-anchor="end" class="tk">-5</text>
<line x1="43.5" y1="207.2" x2="47.0" y2="207.2" stroke="#000" stroke-width="1"/>
<text x="40.0" y="214.5" text-anchor="end" class="tk">-10</text>
<line x1="43.5" y1="251.9" x2="47.0" y2="251.9" stroke="#000" stroke-width="1"/>
<text x="40.0" y="259.2" text-anchor="end" class="tk">-15</text>
<line x1="43.5" y1="296.6" x2="47.0" y2="296.6" stroke="#000" stroke-width="1"/>
<text x="40.0" y="303.9" text-anchor="end" class="tk">-20</text>
<line x1="47.0" y1="296.6" x2="47.0" y2="300.1" stroke="#000" stroke-width="1"/>
<text x="47.0" y="319.2" text-anchor="middle" class="tk">-10</text>
<line x1="136.4" y1="296.6" x2="136.4" y2="300.1" stroke="#000" stroke-width="1"/>
<text x="136.4" y="319.2" text-anchor="middle" class="tk">0</text>
<line x1="225.8" y1="296.6" x2="225.8" y2="300.1" stroke="#000" stroke-width="1"/>
<text x="225.8" y="319.2" text-anchor="middle" class="tk">10</text>
<line x1="315.2" y1="296.6" x2="315.2" y2="300.1" stroke="#000" stroke-width="1"/>
<text x="315.2" y="319.2" text-anchor="middle" class="tk">20</text>
<line x1="404.6" y1="296.6" x2="404.6" y2="300.1" stroke="#000" stroke-width="1"/>
<text x="404.6" y="319.2" text-anchor="middle" class="tk">30</text>
<line x1="494.0" y1="296.6" x2="494.0" y2="300.1" stroke="#000" stroke-width="1"/>
<text x="494.0" y="319.2" text-anchor="middle" class="tk">40</text>
<line x1="583.4" y1="296.6" x2="583.4" y2="300.1" stroke="#000" stroke-width="1"/>
<text x="583.4" y="319.2" text-anchor="middle" class="tk">50</text>
<text x="48.5" y="22.0" class="tt">(A)_Day -8</text>
<clipPath id="cB"><rect x="707.0" y="36.4" width="612.4" height="268.2"/></clipPath>
<g clip-path="url(#cB)">
<rect x="707.0" y="36.4" width="612.4" height="268.2" fill="#97ff60"/>
<path fill="#0060ff" stroke="#0060ff" stroke-width="0.6" d="M805.8 36.4l11 0l9.8 0l-9.8 5.9l-11 -2.7l-2.8 -3.2z"/>
<path fill="#00a0ff" stroke="#00a0ff" stroke-width="0.6" d="M794.8 36.4l8.2 0l2.8 3.2l11 2.7l9.8 -5.9l1.2 0l8.8 0l-8.1 10.7l-0.7 0.8l-11 5.5l-11 0.1l-9.7 -6.4l-1.3 -1.6l-3.8 -9.1zM1135.2 46.2l11 -0.7l4.3 1.6l6.6 2.8l6.9 8l2.1 10.7l-1.1 10.7l-7.7 10.7l-0.2 0.2l-10.9 3.5l-11 -0.6l-5.2 -3.1l-5 -10.7l-0.8 -5.8l-0.5 -4.9l0.5 -6.7l0.5 -4l9.4 -10.8zM1124.2 185.3l11 -4.2l11 -0.3l10.9 2.5l3.8 3.3l4.8 10.7l1.8 10.7l-1.3 10.8l-9.1 5.9l-10.9 3.8l-1.2 1l-2.8 10.7l2.9 10.8l0.2 10.7l-10.1 10.6l-11 -3.5l-3.9 -7.1l-7.1 -10.6l-0.2 -0.1l-10.8 -6.9l-4.1 -3.9l-0.2 -10.7l3 -10.7l1.3 -3.2l5.4 -7.6l5.6 -7l3.7 -3.7l6.2 -10.7z"/>
<path fill="#00e0fb" stroke="#00e0fb" stroke-width="0.6" d="M783.9 36.4l7.1 0l3.8 9.1l1.3 1.6l9.7 6.4l11 -0.1l11 -5.5l0.7 -0.8l8.1 -10.7l2.1 0l7.3 0l-4.8 10.7l-2.5 3.7l-7 7.1l-1.9 10.7l1.7 10.7l-3.7 4.1l-6 6.6l-5 5l-5.1 5.8l-4.2 10.7l-1.7 3.2l-11 0.9l-5.3 -4.1l-5.6 -6.5l-2.5 -4.2l1.4 -10.8l1.1 -2.8l2.7 -7.9l0.2 -10.7l-2.9 -8.2l-0.7 -2.5l-2.3 -10.8l-1.1 -10.7zM1124.2 36.4l11 0l11 0l10.9 0l11 0l11 0l11 0l11 0l10.9 0l11 0l11 0l11 0l10.9 0l11 0l11 0l11 0l11 0l10.9 0l11 0l11 0l0 10.7l0 10.8l0 10.7l0 2.7l-11 0.1l-11 -0.1l-10.9 -0.3l-11 0.1l-11 0.8l-11 -0.1l-11 -2l-10.9 -0.6l-11 8.2l-1.1 1.9l-7.8 10.7l-2.1 1.3l-11 8.2l-1 1.3l-7.9 10.7l-2 1.6l-11 7.6l-1.4 1.5l-2.7 10.8l0.8 10.7l-0.3 10.7l-0.6 10.7l4.2 10.4l0.3 0.4l10.7 5.1l9.2 5.6l1.7 10.7l-10.9 7.3l-11 2.9l-0.7 0.5l-3.9 10.8l2.8 10.7l-0.1 10.7l-9.1 8.3l-5.4 2.5l-5.6 3.5l-5 7.2l-6 7.7l-1.9 3l-9 8.4l-3.3 2.3l-7.7 6l-6.6 4.8l-4.4 8.6l-1 2.1l-10 0l-11 0l-5.4 0l-5.5 -7.4l-4 -3.3l-7 -6l-3.9 -4.8l-2.1 -10.7l-0.5 -10.7l-1.4 -10.7l1.9 -10.8l6 -5.7l3.5 -5l7 -10.7l0.5 -1.5l3.1 -9.3l3.1 -10.7l0 -10.7l-2.1 -10.7l5.2 -10.8l1.6 -1.5l11 -8.1l1.5 -1.1l5.7 -10.7l0.4 -10.7l-4.3 -10.8l-3.3 -2.4l-7.7 -8.3l-2.5 -10.7l6.9 -10.8l3.3 -5.3l2 -5.4l-0.3 -10.7l-0.8 -10.7l1.4 -10.8l3.6 -10.7zM1134.1 47.1l-9.4 10.8l-0.5 4l-0.5 6.7l0.5 4.9l0.8 5.8l5 10.7l5.2 3.1l11 0.6l10.9 -3.5l0.2 -0.2l7.7 -10.7l1.1 -10.7l-2.1 -10.7l-6.9 -8l-6.6 -2.8l-4.3 -1.6l-11 0.7zM1123.1 186.6l-6.2 10.7l-3.7 3.7l-5.6 7l-5.4 7.6l-1.3 3.2l-3 10.7l0.2 10.7l4.1 3.9l10.8 6.9l0.2 0.1l7.1 10.6l3.9 7.1l11 3.5l10.1 -10.6l-0.2 -10.7l-2.9 -10.8l2.8 -10.7l1.2 -1l10.9 -3.8l9.1 -5.9l1.3 -10.8l-1.8 -10.7l-4.8 -10.7l-3.8 -3.3l-10.9 -2.5l-11 0.3l-11 4.2zM718 182l11 -1.4l10.9 -1.1l11 0.3l11 6l0.4 0.8l4 10.7l6.6 6.7l6.9 4l4.1 3l4.4 7.8l-3.3 10.7l-1.1 3l-4.4 7.7l-6.6 8.1l-11 1.4l-11 -1.1l-11 0.8l-10.9 -0.9l-9.4 -8.3l-1.6 -2.7l-5.8 -8l-5.2 -3.7l0 -7l0 -10.8l0 -10.7l0 -10.7l0 -3.8z"/>
<path fill="#30ffc7" stroke="#30ffc7" stroke-width="0.6" d="M772.9 36.4l6.9 0l1.1 10.7l2.3 10.8l0.7 2.5l2.9 8.2l-0.2 10.7l-2.7 7.9l-1.1 2.8l-1.4 10.8l2.5 4.2l5.6 6.5l5.3 4.1l11 -0.9l1.7 -3.2l4.2 -10.7l5.1 -5.8l5 -5l6 -6.6l3.7 -4.1l-1.7 -10.7l1.9 -10.7l7 -7.1l2.5 -3.7l4.8 -10.7l3.7 0l7.2 0l-1.7 10.7l-3.1 10.8l-0.3 10.7l0.4 10.7l-2.5 5.9l-3.5 4.8l-7.5 3.8l-9.5 7l-1.4 6.5l-0.7 4.2l0.7 2l3.6 8.7l-3.6 8.7l-1.2 2.1l-9.8 6.9l-11 -0.1l-11 -6l-0.8 -0.8l-10.1 -8.9l-2.2 -1.9l-8.8 -8.1l-2.7 -2.6l-6.5 -10.7l-1.8 -2.5l-11 -4.6l-7.9 -3.7l-2.6 -10.7l10.2 -10.7l0.3 -0.2l11 -5.2l3.4 -5.3l1 -10.8l-0.4 -10.7zM1102.2 36.4l11 0l5.9 0l-3.6 10.7l-1.4 10.8l0.8 10.7l0.3 10.7l-2 5.4l-3.3 5.3l-6.9 10.8l2.5 10.7l7.7 8.3l3.3 2.4l4.3 10.8l-0.4 10.7l-5.7 10.7l-1.5 1.1l-11 8.1l-1.6 1.5l-5.2 10.8l2.1 10.7l0 10.7l-3.1 10.7l-3.1 9.3l-0.5 1.5l-7 10.7l-3.5 5l-6 5.7l-1.9 10.8l1.4 10.7l0.5 10.7l2.1 10.7l3.9 4.8l7 6l4 3.3l5.5 7.4l-5.5 0l-11 0l-11 0l-11 0l-11 0l-10.9 0l-4.8 0l-0.6 -10.7l0.3 -10.8l5.1 -9.7l1.9 -1l9 -3.1l7.9 -7.6l-0.3 -10.7l-2 -10.8l3.6 -10.7l1.8 -1l11 -4.4l7.4 -5.3l3.6 -7.2l1 -3.6l-1 -4.5l-2.2 -6.2l-4.7 -10.7l-0.3 -10.7l7.2 -9.2l1 -1.6l10 -10.1l0.6 -0.6l9.6 -10.7l0.7 -5.4l0.6 -5.3l-0.6 -1l-5.7 -9.8l-3.3 -10.7l-0.9 -10.7l1.1 -10.8l8.8 -10.7l0.1 0l2.4 -10.7l-0.4 -10.7l-1.7 -10.8l-0.4 -1.8l-3.3 -8.9zM1234 77.4l11 -8.2l10.9 0.6l11 2l11 0.1l11 -0.8l11 -0.1l10.9 0.3l11 0.1l11 -0.1l0 8l0 10.7l0 2.2l-11 -0.2l-11 0.2l-10.9 0.9l-11 -0.2l-11 -2l-11 -0.8l-11 10.1l-0.1 0.6l-6 10.7l-4.8 3.1l-11 6.6l-0.7 1l-1.9 10.8l0.7 10.7l1.1 10.7l-0.4 10.7l-1.8 10.8l-1.4 10.7l1.7 10.7l2.7 7.4l1.3 3.3l-1.3 4.7l-2 6.1l-9 7.9l-4.9 2.8l-6.1 4.6l-4.3 6.1l-6.6 8l-2.2 2.8l-8.8 7.6l-4.3 3.1l-6.7 6.4l-4 4.3l-7 7.1l-4 3.6l-7 5.6l-5.9 5.2l-5 6.2l-3.8 4.5l-7.2 0l-11 0l-1 0l1 -2.1l4.4 -8.6l6.6 -4.8l7.7 -6l3.3 -2.3l9 -8.4l1.9 -3l6 -7.7l5 -7.2l5.6 -3.5l5.4 -2.5l9.1 -8.3l0.1 -10.7l-2.8 -10.7l3.9 -10.8l0.7 -0.5l11 -2.9l10.9 -7.3l-1.7 -10.7l-9.2 -5.6l-10.7 -5.1l-0.3 -0.4l-4.2 -10.4l0.6 -10.7l0.3 -10.7l-0.8 -10.7l2.7 -10.8l1.4 -1.5l11 -7.6l2 -1.6l7.9 -10.7l1 -1.3l11 -8.2l2.1 -1.3l7.8 -10.7zM711.5 143.7l6.5 5.8l6.5 4.9l4.5 4.2l10.9 3l11 -0.3l11 -2.3l11 -0.6l11 5.1l1.3 1.6l1.2 10.8l-2.5 9.3l-0.5 1.4l0.5 0.9l5.3 9.8l5.6 3.9l6 6.8l0.2 10.8l-5.7 10.7l-0.5 1.2l-3.8 9.5l-1.4 10.8l-2.2 10.7l-2.9 10.7l-0.6 2.3l-3.1 8.4l-7 10.8l-0.9 1.2l-8.5 9.5l-2.5 0l-11 0l-11 0l-10.9 0l-11 0l-11 0l0 -10.7l0 -10.8l0 -10.7l0 -10.7l0 -10.7l0 -10.8l0 -10.7l0 -3.7l5.2 3.7l5.8 8l1.6 2.7l9.4 8.3l10.9 0.9l11 -0.8l11 1.1l11 -1.4l6.6 -8.1l4.4 -7.7l1.1 -3l3.3 -10.7l-4.4 -7.8l-4.1 -3l-6.9 -4l-6.6 -6.7l-4 -10.7l-0.4 -0.8l-11 -6l-11 -0.3l-10.9 1.1l-11 1.4l-11 0.8l0 -6.9l0 -10.8l0 -10.7l0 -10.7l0 -2.1z"/>
<path fill="#63ff94" stroke="#63ff94" stroke-width="0.6" d="M718 36.4l11 0l10.9 0l11 0l11 0l4 0l0.4 10.7l-1 10.8l-3.4 5.3l-11 5.2l-0.3 0.2l-10.2 10.7l2.6 10.7l7.9 3.7l11 4.6l1.8 2.5l6.5 10.7l2.7 2.6l8.8 8.1l2.2 1.9l10.1 8.9l0.8 0.8l11 6l11 0.1l9.8 -6.9l1.2 -2.1l3.6 -8.7l-3.6 -8.7l-0.7 -2l0.7 -4.2l1.4 -6.5l9.5 -7l7.5 -3.8l3.5 -4.8l2.5 -5.9l-0.4 -10.7l0.3 -10.7l3.1 -10.8l1.7 -10.7l3.8 0l11 0l1.6 0l0.9 10.7l0.5 10.8l-0.4 10.7l0.1 10.7l2 10.7l0.3 10.8l-5 9.1l-2.1 1.6l-8.9 4.6l-7.5 6.1l-3.5 4.1l-4.2 6.7l-6.8 6.3l-4.4 4.4l-6.5 7.4l-5 3.3l-6 4.3l-8.7 6.4l-2.3 5.9l-1.1 4.9l0.3 10.7l0.8 1.3l5 9.4l3.2 10.7l-2.3 10.8l-5.9 9.4l-0.7 1.3l-4.1 10.7l1 10.8l-0.6 10.7l-5.4 10.7l-1.2 2.8l-3.3 7.9l-2.8 10.8l-4 10.7l-0.8 0l-11 0l-8.5 0l8.5 -9.5l0.9 -1.2l7 -10.8l3.1 -8.4l0.6 -2.3l2.9 -10.7l2.2 -10.7l1.4 -10.8l3.8 -9.5l0.5 -1.2l5.7 -10.7l-0.2 -10.8l-6 -6.8l-5.6 -3.9l-5.3 -9.8l-0.5 -0.9l0.5 -1.4l2.5 -9.3l-1.2 -10.8l-1.3 -1.6l-11 -5.1l-11 0.6l-11 2.3l-11 0.3l-10.9 -3l-4.5 -4.2l-6.5 -4.9l-6.5 -5.8l-4.5 -2.1l0 -8.6l0 -1.8l4.4 1.8l6.6 2.4l11 4.1l10.5 -6.5l-0.2 -10.8l-10.3 -8.9l-2.2 -1.8l-8.8 -8.2l-2.7 -2.5l-8.3 -6.1l0 -4.7l0 -10.7l0 -10.7l0 -0.2l11 -10.5l0 0l0.7 -10.8l-0.7 -9.4l-0.1 -1.3zM1080.3 36.4l11 0l7.6 0l3.3 8.9l0.4 1.8l1.7 10.8l0.4 10.7l-2.4 10.7l-0.1 0l-8.8 10.7l-1.1 10.8l0.9 10.7l3.3 10.7l5.7 9.8l0.6 1l-0.6 5.3l-0.7 5.4l-9.6 10.7l-0.6 0.6l-10 10.1l-1 1.6l-7.2 9.2l0.3 10.7l4.7 10.7l2.2 6.2l1 4.5l-1 3.6l-3.6 7.2l-7.4 5.3l-11 4.4l-1.8 1l-3.6 10.7l2 10.8l0.3 10.7l-7.9 7.6l-9 3.1l-1.9 1l-5.1 9.7l-0.3 10.8l0.6 10.7l-6.2 0l-11 0l-11 0l-10.9 0l-6.1 0l2.2 -10.7l2.2 -10.8l1.7 -4.1l5.3 -6.6l5.6 -7.1l3 -3.6l7 -10.7l1 -0.7l11 -2.4l7.7 -7.7l-1.9 -10.7l-2.5 -10.7l7.3 -10.8l0.4 -0.2l10.9 -7.2l3.9 -3.3l2.2 -10.7l-0.3 -10.7l2.5 -10.8l2.7 -2.2l11 -6.1l2.9 -2.4l6.3 -10.7l-1.7 -10.7l-1.6 -10.8l2.5 -10.7l-0.2 -10.7l-3.8 -10.8l3.6 -10.7l3 -2.3l9.9 -8.4l1.1 -2.5l2.1 -8.2l-2.1 -5.5l-3.5 -5.3l-7.5 -6.3l-6.3 -4.4zM1255.9 100.2l11 -10.1l11 0.8l11 2l11 0.2l10.9 -0.9l11 -0.2l11 0.2l0 8.6l0 10.7l0 1.9l-11 0.4l-11 -0.4l-10.9 -1.6l-5.7 -0.3l-5.3 -0.3l-1.6 0.3l-9.4 6.5l-1.4 4.2l1.4 2.6l4.8 8.2l6.2 4.4l8.2 6.3l0.5 10.7l-8.7 6.2l-7.2 4.5l-3.8 6.8l-1.4 4l1 10.7l-2.5 10.7l-8.1 6l-8.1 4.7l-2.9 2.5l-5.4 8.3l-5.5 6l-4.5 4.7l-6.5 5.8l-5.7 4.9l-5.3 5.1l-5.9 5.7l-5.1 5.1l-5.2 5.6l-5.7 5.6l-6 5.1l-5 5.3l-4.6 5.4l-6.4 6.7l-5 4.1l-6 5.8l-4 4.9l-7 0l-10.9 0l-3.8 0l3.8 -4.5l5 -6.2l5.9 -5.2l7 -5.6l4 -3.6l7 -7.1l4 -4.3l6.7 -6.4l4.3 -3.1l8.8 -7.6l2.2 -2.8l6.6 -8l4.3 -6.1l6.1 -4.6l4.9 -2.8l9 -7.9l2 -6.1l1.3 -4.7l-1.3 -3.3l-2.7 -7.4l-1.7 -10.7l1.4 -10.7l1.8 -10.8l0.4 -10.7l-1.1 -10.7l-0.7 -10.7l1.9 -10.8l0.7 -1l11 -6.6l4.8 -3.1l6 -10.7z"/>
<path fill="#97ff60" stroke="#97ff60" stroke-width="0.6" d="M718 37.7l0.7 9.4l-0.7 10.8l0 0l-11 10.5l0 -10.5l0 -10.8l0 -10.7l10.9 0zM882.7 36.4l10.9 0l3.6 0l-0.2 10.7l0 10.8l0.3 10.7l-0.2 10.7l-1 10.7l0.2 10.8l6.6 10.7l1.7 1.1l11 7.7l2.4 1.9l4.5 10.8l-2.3 10.7l-2.2 10.7l-2.4 3.8l-11 2.1l-11 -1.6l-10.9 1.5l-4.8 4.9l-6 10.8l-0.2 0.3l-11 5.3l-11 0.1l-11 0.4l-7.9 4.6l-2.4 10.7l0 10.7l-0.6 1.2l-3.4 9.6l-7.6 9.7l-0.6 1l-4.1 10.7l1.3 10.8l-1 10.7l-6.6 10l-0.4 0.7l-4.6 10.7l0.7 10.8l4.3 8.3l2.1 2.4l-2.1 0l-11 0l-10.1 0l4 -10.7l2.8 -10.8l3.3 -7.9l1.2 -2.8l5.4 -10.7l0.6 -10.7l-1 -10.8l4.1 -10.7l0.7 -1.3l5.9 -9.4l2.3 -10.8l-3.2 -10.7l-5 -9.4l-0.8 -1.3l-0.3 -10.7l1.1 -4.9l2.3 -5.9l8.7 -6.4l6 -4.3l5 -3.3l6.5 -7.4l4.4 -4.4l6.8 -6.3l4.2 -6.7l3.5 -4.1l7.5 -6.1l8.9 -4.6l2.1 -1.6l5 -9.1l-0.3 -10.8l-2 -10.7l-0.1 -10.7l0.4 -10.7l-0.5 -10.8l-0.9 -10.7zM1069.3 36.4l4.7 0l6.3 4.4l7.5 6.3l3.5 5.3l2.1 5.5l-2.1 8.2l-1.1 2.5l-9.9 8.4l-3 2.3l-3.6 10.7l3.8 10.8l0.2 10.7l-2.5 10.7l1.6 10.8l1.7 10.7l-6.3 10.7l-2.9 2.4l-11 6.1l-2.7 2.2l-2.5 10.8l0.3 10.7l-2.2 10.7l-3.9 3.3l-10.9 7.2l-0.4 0.2l-7.3 10.8l2.5 10.7l1.9 10.7l-7.7 7.7l-11 2.4l-1 0.7l-7 10.7l-3 3.6l-5.6 7.1l-5.3 6.6l-1.7 4.1l-2.2 10.8l-2.2 10.7l-4.9 0l-11 0l-11 0l-11 0l-7.3 0l3.6 -10.7l3.7 -2.2l11 1.6l2.6 0.6l8.4 2.1l2.4 -2.1l8 -10.8l0.6 -2.9l1.2 -7.8l2.9 -10.7l3.7 -10.7l1.3 -10.8l1.9 -5.6l3.5 -5.1l7.4 -7.7l3.5 -3l7.2 -10.8l0.3 -0.3l11 -7.9l3.1 -2.5l6.6 -10.7l-2.1 -10.7l-3.9 -10.8l-0.7 -10.7l2.5 -10.7l5.5 -5l10.9 -3l4.4 -2.7l3.9 -10.8l-0.5 -10.7l-3.2 -10.7l-3.5 -10.8l4.4 -10.7l5.5 -3.9l11 -6.8l0 0l7.8 -10.7l-7.8 -7.2l-2.8 -3.6l-7.9 -10.7zM715.3 100.8l2.7 2.5l8.8 8.2l2.2 1.8l10.3 8.9l0.2 10.8l-10.5 6.5l-11 -4.1l-6.6 -2.4l-4.4 -1.8l0 -9l0 -10.7l0 -10.7l0 -6.1zM1288.9 111.2l5.3 0.3l5.7 0.3l10.9 1.6l11 0.4l11 -0.4l0 8.8l0 10.8l0 10.7l0 10.7l0 10.7l0 10.8l0 10.7l0 10.7l0 10.7l0 10.8l0 7.4l-11 -0.9l-11 0.8l-6 3.4l-4.9 7.6l-1.2 3.1l0.8 10.8l-0.9 10.7l-9.7 8.7l-2.9 2l-8.1 8.3l-1.6 2.4l-9.4 9.9l-11 0.6l-10.9 -0.7l-2.2 1l-8.8 7l-2 3.7l-9 0l-11 0l-10.9 0l-11 0l-11 0l-11 0l-4 0l4 -4.9l6 -5.8l5 -4.1l6.4 -6.7l4.6 -5.4l5 -5.3l6 -5.1l5.7 -5.6l5.2 -5.6l5.1 -5.1l5.9 -5.7l5.3 -5.1l5.7 -4.9l6.5 -5.8l4.5 -4.7l5.5 -6l5.4 -8.3l2.9 -2.5l8.1 -4.7l8.1 -6l2.5 -10.7l-1 -10.7l1.4 -4l3.8 -6.8l7.2 -4.5l8.7 -6.2l-0.5 -10.7l-8.2 -6.3l-6.2 -4.4l-4.8 -8.2l-1.4 -2.6l1.4 -4.2l9.4 -6.5z"/>
<path fill="#caff2c" stroke="#caff2c" stroke-width="0.6" d="M904.6 36.4l11 0l4 0l-0.5 10.7l0 10.8l0.7 10.7l-0.3 10.7l-3.1 10.7l-0.1 10.8l9.9 10.7l0.4 0.3l11 10l0.2 0.4l7.8 10.8l2.9 1.9l11 4.5l4.3 4.3l-0.3 10.7l-4 4.1l-11 6.5l-0.2 0.1l-10.7 7.6l-5.2 3.2l-5.8 2l-11 1.2l-11 2.6l-4 4.9l-4.3 10.7l-2.7 3l-10.9 5.5l-2.9 2.2l-7.1 10.8l-1 1.5l-11 6.8l-11 -0.5l-11 0.7l-3.2 2.2l-7.7 8l-1.4 2.7l0.5 10.8l-0.8 10.7l-9.3 10.2l-0.4 0.5l-4.8 10.7l5.2 10.7l0.1 0.1l10.9 9.3l1.1 1.4l-1.1 0l-11 0l-8.9 0l-2.1 -2.4l-4.3 -8.3l-0.7 -10.8l4.6 -10.7l0.4 -0.7l6.6 -10l1 -10.7l-1.3 -10.8l4.1 -10.7l0.6 -1l7.6 -9.7l3.4 -9.6l0.6 -1.2l0 -10.7l2.4 -10.7l7.9 -4.6l11 -0.4l11 -0.1l11 -5.3l0.2 -0.3l6 -10.8l4.8 -4.9l10.9 -1.5l11 1.6l11 -2.1l2.4 -3.8l2.2 -10.7l2.3 -10.7l-4.5 -10.8l-2.4 -1.9l-11 -7.7l-1.7 -1.1l-6.6 -10.7l-0.2 -10.8l1 -10.7l0.2 -10.7l-0.3 -10.7l0 -10.8l0.2 -10.7zM1058.3 36.4l0.3 0l7.9 10.7l2.8 3.6l7.8 7.2l-7.8 10.7l0 0l-11 6.8l-5.5 3.9l-4.4 10.7l3.5 10.8l3.2 10.7l0.5 10.7l-3.9 10.8l-4.4 2.7l-10.9 3l-5.5 5l-2.5 10.7l0.7 10.7l3.9 10.8l2.1 10.7l-6.6 10.7l-3.1 2.5l-11 7.9l-0.3 0.3l-7.2 10.8l-3.5 3l-7.4 7.7l-3.5 5.1l-1.9 5.6l-1.3 10.8l-3.7 10.7l-2.9 10.7l-1.2 7.8l-0.6 2.9l-8 10.8l-2.4 2.1l-8.4 -2.1l-2.6 -0.6l-11 -1.6l-3.7 2.2l-3.6 10.7l-3.6 0l-11 0l-11 0l-11 0l-11 0l-10.9 0l-8.2 0l-0.6 -10.7l0.9 -10.8l7.7 -10.7l0.2 -0.1l10.9 -2.2l11 0.6l11 0.4l11 0l11 1.1l1.6 0.2l9.3 0.9l11 -0.4l0.7 -0.5l4.4 -10.7l5.9 -8.6l1.3 -2.1l8.2 -10.8l1.5 -4l1.7 -6.7l2.3 -10.7l0 -10.8l-1.4 -10.7l3.3 -10.7l5.1 -3.8l10.9 -3.7l4.2 -3.2l3.4 -10.8l0.1 -10.7l-2.4 -10.7l-2 -10.7l3.9 -10.8l3.8 -4.3l8.4 -6.4l2.6 -2.2l6.8 -8.5l2.6 -10.8l1.6 -5.9l1.3 -4.8l6.5 -10.7l3.1 -4.9l5.6 -5.8l-2.1 -10.8l-2.8 -10.7zM1310.8 226.1l11 -0.8l11 0.9l0 3.3l0 10.7l0 10.8l0 10.7l0 10.7l0 10.7l0 10.8l0 10.7l-11 0l-11 0l-10.9 0l-11 0l-11 0l-11 0l-11 0l-10.9 0l-11 0l-2 0l2 -3.7l8.8 -7l2.2 -1l10.9 0.7l11 -0.6l9.4 -9.9l1.6 -2.4l8.1 -8.3l2.9 -2l9.7 -8.7l0.9 -10.7l-0.8 -10.8l1.2 -3.1l4.9 -7.6z"/>
<path fill="#feed00" stroke="#feed00" stroke-width="0.6" d="M926.6 36.4l11 0l2.8 0l1.2 10.7l0.9 10.8l-0.6 10.7l0.2 10.7l6.4 8.9l1.4 1.8l9.6 7.8l3.1 3l7.9 9.3l2.7 1.4l8.3 4.1l11 1.2l8.5 -5.3l2.4 -1.9l9 -8.8l2 -1.9l7.9 -8.9l3.1 -4.8l1.9 -5.9l2.6 -10.7l3.3 -10.7l1.6 -10.8l-0.6 -10.7l2.2 0l10.9 0l0.7 0l2.8 10.7l2.1 10.8l-5.6 5.8l-3.1 4.9l-6.5 10.7l-1.3 4.8l-1.6 5.9l-2.6 10.8l-6.8 8.5l-2.6 2.2l-8.4 6.4l-3.8 4.3l-3.9 10.8l2 10.7l2.4 10.7l-0.1 10.7l-3.4 10.8l-4.2 3.2l-10.9 3.7l-5.1 3.8l-3.3 10.7l1.4 10.7l0 10.8l-2.3 10.7l-1.7 6.7l-1.5 4l-8.2 10.8l-1.3 2.1l-5.9 8.6l-4.4 10.7l-0.7 0.5l-11 0.4l-9.3 -0.9l-1.6 -0.2l-11 -1.1l-11 0l-11 -0.4l-11 -0.6l-10.9 2.2l-0.2 0.1l-7.7 10.7l-0.9 10.8l0.6 10.7l-2.8 0l-11 0l-11 0l-11 0l-9.8 0l-1.1 -1.4l-10.9 -9.3l-0.1 -0.1l-5.2 -10.7l4.8 -10.7l0.4 -0.5l9.3 -10.2l0.8 -10.7l-0.5 -10.8l1.4 -2.7l7.7 -8l3.2 -2.2l11 -0.7l11 0.5l11 -6.8l1 -1.5l7.1 -10.8l2.9 -2.2l10.9 -5.5l2.7 -3l4.3 -10.7l4 -4.9l11 -2.6l11 -1.2l5.8 -2l5.2 -3.2l10.7 -7.6l0.2 -0.1l11 -6.5l4 -4.1l0.3 -10.7l-4.3 -4.3l-11 -4.5l-2.9 -1.9l-7.8 -10.8l-0.2 -0.4l-11 -10l-0.4 -0.3l-9.9 -10.7l0.1 -10.8l3.1 -10.7l0.3 -10.7l-0.7 -10.7l0 -10.8l0.5 -10.7zM931.7 186.6l-5.1 2l-11 8.6l-0.1 0.1l0.1 1l1.2 9.7l5.8 10.8l4 4.1l11 3.3l10.9 -0.2l11 -1.3l4.6 -5.9l1.6 -10.8l0.2 -10.7l-2.3 -10.7l-4.1 -5.2l-11 -0.3l-10.9 3.8z"/>
<path fill="#ffb200" stroke="#ffb200" stroke-width="0.6" d="M948.5 36.4l11 0l11 0l11 0l11 0l10.9 0l11 0l11 0l8.8 0l0.6 10.7l-1.6 10.8l-3.3 10.7l-2.6 10.7l-1.9 5.9l-3.1 4.8l-7.9 8.9l-2 1.9l-9 8.8l-2.4 1.9l-8.5 5.3l-11 -1.2l-8.3 -4.1l-2.7 -1.4l-7.9 -9.3l-3.1 -3l-9.6 -7.8l-1.4 -1.8l-6.4 -8.9l-0.2 -10.7l0.6 -10.7l-0.9 -10.8l-1.2 -10.7zM961.6 57.9l-2.1 6.4l-1 4.3l1 8.3l0.4 2.4l9.7 10.7l0.9 0.9l11 3l3.6 -3.9l2 -10.7l0.9 -10.7l-1 -10.7l-5.5 -7.4l-11 -2.2zM937.6 184.9l10.9 -3.8l11 0.3l4.1 5.2l2.3 10.7l-0.2 10.7l-1.6 10.8l-4.6 5.9l-11 1.3l-10.9 0.2l-11 -3.3l-4 -4.1l-5.8 -10.8l-1.2 -9.7l-0.1 -1l0.1 -0.1l11 -8.6l5.1 -2z"/>
<path fill="#ff7700" stroke="#ff7700" stroke-width="0.6" d="M970.5 48.3l11 2.2l5.5 7.4l1 10.7l-0.9 10.7l-2 10.7l-3.6 3.9l-11 -3l-0.9 -0.9l-9.7 -10.7l-0.4 -2.4l-1 -8.3l1 -4.3l2.1 -6.4z"/>
<path fill="none" stroke="#000" stroke-width="1.05" stroke-linejoin="round" d="M702.5 70.4L707 73.5L715.9 80.2L728.5 86.5L738.3 83.8L751.7 79.3L760.6 78.9L769.6 80.2L777.6 83.3L787.5 79.3L796.4 74.8L805.3 72.2L811.6 69.5L820.5 68.6L829.5 67.7L839.3 69.5L845.6 78.4L850 86.5L859.9 86.5L872.4 84.7L878.6 91.8L883.1 103.4L881.3 113.3L876.9 122.2L879.5 131.2L885.4 142.8L893 152.6L901 162.5L905.5 172.3L909.9 183L914.4 195.5L918 208L918.9 217L918 226.8L912.6 239.3L908.1 249.2L905.5 262.6L902.8 273.3L903.7 284.9L905.5 293.9L909 301L912.6 309.1M1254.1 31.9L1250.6 36.4L1247 49.8L1235.4 63.2L1223.7 81.1L1212.1 88.3L1201.4 100.8L1194.2 106.1L1185.3 115.1L1178.1 122.2L1168.3 141L1158.5 148.2L1151.3 161.6L1146.8 167.8L1144.2 179.4L1147.7 186.6L1147.7 197.3L1151.3 210.7L1157.6 218.8L1158.5 228.6L1158.5 237.5L1159.4 251L1156.7 261.7L1149.5 271.5L1136.1 280.5L1127.2 284.9L1118.2 293.9L1111.1 301.9L1107.5 309.1M1237.1 233.1L1242.5 244.7L1246.1 261.7L1243.4 268.8L1240.7 276L1238 284.9L1234.5 295.7L1230.9 309.1L1192.4 309.1L1192.4 295.7L1189.8 286.7L1192.4 277.8L1194.2 271.5L1201.4 268.8L1210.3 266.2L1218.4 259.9L1224.6 252.7L1229.1 245.6L1234.5 236.7L1237.1 233.1M1080.7 128.5L1087 124L1095.9 123.1L1101.3 127.6L1100.4 134.7L1097.7 143.7L1091.4 148.2L1082.5 148.2L1078.9 139.2L1080.7 133L1080.7 128.5M1056.6 155.3L1059.2 155.3L1061 166L1063.7 178.5L1070 188.4L1075.3 200L1073.5 203.6L1069.1 200L1065.5 189.3L1060.1 180.3L1057.4 168.7L1056.6 155.3M1101.3 210.7L1103.9 211.6L1106.6 224.1L1109.3 233.1L1112 244.7L1111.1 253.6L1108.4 253.6L1104.8 244.7L1102.1 233.1L1100.4 221.5L1101.3 210.7M1069.1 115.1L1077.1 106.1L1074.4 105.2L1067.3 113.3L1069.1 115.1M1117.3 84.7L1120.9 96.3L1123.6 103.4L1120 99L1116.5 90L1117.3 84.7M1055.7 141L1058.3 141L1058.3 149L1055.7 147.3L1055.7 141M794.6 68.6L798.2 61.4L796.4 54.3L791 48.9L785.7 51.6L792.8 57.9L794.6 68.6M1051.2 202.7L1056.6 201.8L1057.4 209.8L1053 208.9L1051.2 202.7M1036 285.8L1046.7 279.6L1055.7 274.2L1052.1 276.9L1042.2 283.1L1036 285.8"/><path fill="none" stroke="#000" stroke-width="0.8" stroke-linejoin="round" d="M729.4 86.5L728.5 76.6L721.3 68.6L720.4 57.9L723.1 49.8L725.8 31.9M720.4 57.9L711.5 49.8L704.3 49.8L698.1 48M768.7 80.2L771.4 63.2L774 52.5L772.3 40.9L771.4 31.9M807.1 71.3L801.8 64.1L800.9 51.6L799.1 31.9M810.7 70.4L810.7 45.3L808.9 31.9M820.5 68.6L820.5 45.3L828.6 31.9M873.3 84.7L882.2 67.7L894.7 66.8L903.7 54.3L912.6 40.9L917.1 31.9M884 106.1L897.4 105.2L915.3 106.1L926 107L939.4 110.6L941.2 105.2L944.8 94.5L962.7 94.5M897.4 105.2L897.4 116.9L881.3 116.9M897.4 105.2L912.6 113.3L921.6 113.3L925.1 140.1L921.6 147.3L908.1 147.3L899.2 157.1L896.5 160.7M926 31.9L926 67.7L930.5 81.1L939.4 106.1M905.5 172.3L912.6 177.7L933.2 164.2L941.2 145.5L954.6 130.3L958.2 121.3L962.7 94.5L970.7 81.1L984.1 87.4L1000.2 83.8L1015.4 80.2L1028.8 79.3L1041.4 80.2L1055.7 86.5L1072.6 94.5L1091.4 91.8L1100.4 88.3M909.9 179.4L939.4 179.4L943.9 192.8L952.9 198.2L966.3 197.3L970.7 188.4L991.3 191.1L991.3 210.7L995.8 224.1L1011 224.1L1022.6 225.9L1033.3 232.2L1039.6 229.5L1050.3 235.8L1055.7 245.6L1062.8 243.8L1062.8 234.9L1051.2 224.1L1051.2 210.7L1070.9 200M1011 224.1L1011 242L993.1 242L993.1 270.6L1004.7 282.2L1021.7 284.9M902.8 280.5L917.1 277.8L961.8 281.4L984.1 289.4L1004.7 282.2M984.1 289.4L984.1 322.5M1021.7 284.9L1037.8 285.8L1051.2 273.3L1068.2 265.3L1090.5 275.1L1090.5 291.2L1087.8 309.1M1021.7 284.9L1028.8 291.2L1042.2 309.1M1068.2 265.3L1066.4 256.3L1090.5 247.4L1093.2 237.5L1094.1 222.4L1091.4 210.7L1090.5 209.8L1075.3 202.7M1088.7 247.4L1099.5 254.5L1104.8 256.3L1112 269.7L1111.1 278.7L1116.5 268.8L1117.3 257.2L1112 246.5M1108.4 228.6L1127.2 229.5L1140.6 226.8L1157.6 218.8M1072.6 94.5L1076.2 106.1M1067.3 114.2L1063.7 121.3L1061 138.3L1055.7 138.3M1061 138.3L1069.1 134.7L1100.4 134.7L1132.5 152.6L1146.8 166.9M1069.1 134.7L1071.8 147.3L1068.2 151.7L1071.8 155.3L1064.6 164.2L1059.2 166M1055.7 147.3L1063.7 150.8L1068.2 151.7M1100.4 134.7L1100.4 124L1104.8 116.9L1109.3 107.9L1103.9 88.3L1117.3 84.7L1125.4 86.5L1136.1 93.6L1145.1 94.5L1154 88.3L1171 90L1162.9 99L1162.9 134.7L1168.3 141M1171 90L1185.3 85.6L1198.7 81.1L1212.1 67.7L1224.6 54.3L1207.6 50.7L1189.8 45.3L1179 36.4L1176.3 31.9M1117.3 84.7L1106.6 67.7L1091.4 56.1L1093.2 50.7L1101.3 48.9L1101.3 31.9M935 58.8L957.3 54.3L966.3 45.3L988.6 31.9M1006.5 48L1019.9 34.6L1028.8 31.9M1041.4 80.2L1024.4 63.2L1006.5 48L997.5 31.9"/>
<path fill="none" stroke="#000" stroke-width="1.7" d="M707 36.4l-0.8 0M729.4 36.4l-0.8 0M751.7 36.4l-0.8 0M796.4 36.4l0 0.8M818.8 36.4l4.7 -3M841.1 36.4l15.4 -15.4M863.5 36.4l12.9 -12.9M885.8 36.4l10.5 -10.5M908.1 36.4l5.4 -15.6M930.5 36.4l0 -21.8M952.9 36.4l-4.1 -20.9M975.2 36.4l-8.3 -20.1M997.5 36.4l-4.4 -26.4M1019.9 36.4l0 -33M1042.2 36.4l0 -33M1064.6 36.4l0 -33M1087 36.4l0 -27.4M1109.3 36.4l0 -21.8M1131.7 36.4l0.6 -1.7M1154 36.4l3 7.2M1176.3 36.4l6.5 8.9M1198.7 36.4l10.5 10.5M1221 36.4l10.5 10.5M1243.4 36.4l10.5 10.5M1265.8 36.4l10.5 10.5M1288.1 36.4l10.5 10.5M1310.4 36.4l10.5 10.5M707 58.8l-0.8 0M729.4 58.8l-0.8 0M751.7 58.8l-0.8 0M818.8 58.8l5.2 -3.5M841.1 58.8l12.9 -12.9M863.5 58.8l12.9 -12.9M885.8 58.8l12.9 -12.9M908.1 58.8l6.7 -19.6M930.5 58.8l0 -27.4M952.9 58.8l-5.2 -26.2M975.2 58.8l-10.5 -25.3M997.5 58.8l-9.1 -30.3M1019.9 58.8l-7.7 -35.3M1042.2 58.8l-3.8 -36.1M1064.6 58.8l0 -36.9M1087 58.8l2.2 -28.8M1109.3 58.8l4.1 -20.9M1131.7 58.8l1.6 -2.1M1154 58.8l3 7.2M1176.3 58.8l5.4 9.6M1198.7 58.8l8 12M1221 58.8l8 12M1243.4 58.8l8 12M1265.8 58.8l6.5 12.1M1288.1 58.8l5.1 12.2M1310.4 58.8l5.1 12.2M707 81.1l-0.8 0M729.4 81.1l-0.8 0M751.7 81.1l-0.8 0M796.4 81.1l0.8 0M818.8 81.1l5.8 -3.9M841.1 81.1l10.5 -10.5M863.5 81.1l12.9 -12.9M885.8 81.1l15.4 -15.4M908.1 81.1l7.9 -23.6M930.5 81.1l0 -33M952.9 81.1l-6.3 -31.6M975.2 81.1l-12.6 -30.5M997.5 81.1l-14.1 -34.1M1019.9 81.1l-15.6 -37.7M1042.2 81.1l-7.8 -39.2M1064.6 81.1l0 -40.8M1087 81.1l4.5 -30.3M1109.3 81.1l8.3 -20.1M1131.7 81.1l3.2 -2.6M1154 81.1l3 7.2M1176.3 81.1l4.3 10.4M1198.7 81.1l5.7 13.7M1221 81.1l5.7 13.7M1243.4 81.1l5.7 13.7M1265.8 81.1l2.8 14.1M1288.1 81.1l0 14.8M1310.4 81.1l0 14.8M774 103.4l0 0.5M796.4 103.4l0.7 1.5M818.8 103.4l0.7 0.1M841.1 103.4l4.4 -2.2M863.5 103.4l8.7 -1.5M885.8 103.4l13.6 0M908.1 103.4l7.1 -14.1M930.5 103.4l0 -33M952.9 103.4l-6.3 -31.6M975.2 103.4l-12.6 -30.5M997.5 103.4l-14.1 -34.1M1019.9 103.4l-15.6 -37.7M1042.2 103.4l-7.7 -37.2M1064.6 103.4l0 -36.9M1087 103.4l4.4 -28.4M1109.3 103.4l8.3 -20.1M1131.7 103.4l3.3 -1.8M1154 103.4l4.3 10.4M1176.3 103.4l5.7 13.7M1198.7 103.4l7 16.9M1221 103.4l5 17.2M1243.4 103.4l3 17.6M1265.8 103.4l1.5 17.9M1288.1 103.4l0 18.3M1310.4 103.4l0 18.3M707 125.8l0 0.8M729.4 125.8l0 0.8M751.7 125.8l0 0.8M774 125.8l0 4.3M796.4 125.8l0 7.8M818.8 125.8l0.9 3.5M841.1 125.8l0.6 0.6M863.5 125.8l8 8M885.8 125.8l15.4 15.4M908.1 125.8l5.5 -5.4M930.5 125.8l0 -33M952.9 125.8l-6.3 -31.6M975.2 125.8l-12.6 -30.5M997.5 125.8l-14.1 -34.1M1019.9 125.8l-15.6 -37.7M1042.2 125.8l-7.7 -35.3M1064.6 125.8l0 -33M1087 125.8l4.4 -26.4M1109.3 125.8l8.3 -20.1M1131.7 125.8l3.5 -1.2M1154 125.8l5.7 13.7M1176.3 125.8l7 16.9M1198.7 125.8l8.3 20.1M1221 125.8l4.1 20.9M1243.4 125.8l0 21.8M1265.8 125.8l0 21.8M1288.1 125.8l0 21.8M1310.4 125.8l0 21.8M707 148.2l3.9 5.8M729.4 148.2l3.8 8.1M751.7 148.2l3.4 10.5M774 148.2l1.8 12.6M796.4 148.2l0 14.8M818.8 148.2l1.5 8.9M841.1 148.2l2.1 3.6M863.5 148.2l6.9 10.7M885.8 148.2l11.8 17.7M908.1 148.2l3.4 -3.6M930.5 148.2l0 -33M952.9 148.2l-7 -33.4M975.2 148.2l-14.1 -34.1M997.5 148.2l-7.6 -33.8M1019.9 148.2l-1.3 -33.6M1042.2 148.2l2.5 -32.6M1064.6 148.2l6.3 -31.6M1087 148.2l9.2 -24.5M1109.3 148.2l11.8 -17.7M1131.7 148.2l7.6 -4.7M1154 148.2l5.3 3.6M1176.3 148.2l7.2 11.2M1198.7 148.2l8.3 20.1M1221 148.2l6.2 20.5M1243.4 148.2l4.1 20.9M1265.8 148.2l3.6 19.2M1288.1 148.2l3 17.6M1310.4 148.2l3 17.6M707 170.5l10.5 10.5M729.4 170.5l9.5 15.1M751.7 170.5l8.3 20.1M774 170.5l4.1 20.9M796.4 170.5l0 21.8M818.8 170.5l1.9 14.3M841.1 170.5l3 7.2M863.5 170.5l5.7 13.7M885.8 170.5l8.3 20.1M908.1 170.5l1.5 -1.8M930.5 170.5l0 -33M952.9 170.5l-7.7 -35.3M975.2 170.5l-15.6 -37.7M997.5 170.5l-1.3 -33.6M1019.9 170.5l12.6 -30.5M1042.2 170.5l12.6 -30.5M1064.6 170.5l12.6 -30.5M1087 170.5l14.1 -22.7M1109.3 170.5l15.4 -15.4M1131.7 170.5l11.5 -8.8M1154 170.5l7.2 -3M1176.3 170.5l7.1 6.2M1198.7 170.5l8.3 20.1M1221 170.5l8.3 20.1M1243.4 170.5l8.3 20.1M1265.8 170.5l7 16.9M1288.1 170.5l5.7 13.7M1310.4 170.5l5.7 13.7M707 192.8l5.1 12.2M729.4 192.8l4.6 14.8M751.7 192.8l4 17.4M774 192.8l0 19M796.4 192.8l-4.1 20.9M818.8 192.8l-3.6 14.4M841.1 192.8l-2.7 8M863.5 192.8l-0.5 2.5M908.1 192.8l0.4 -11.8M930.5 192.8l0 -33M952.9 192.8l-1.5 -30.7M975.2 192.8l-3 -28.5M997.5 192.8l7.3 -27.3M1019.9 192.8l17.9 -26.8M1042.2 192.8l16 -24.8M1064.6 192.8l14.1 -22.7M1087 192.8l13.6 -17.7M1109.3 192.8l12.9 -12.9M1131.7 192.8l8.1 -3M1154 192.8l5.3 3.6M1176.3 192.8l3.4 10.5M1198.7 192.8l0 19.7M1221 192.8l0 19.7M1243.4 192.8l0 19.7M1265.8 192.8l-2.1 16.6M1288.1 192.8l-4.1 13.7M1310.4 192.8l-4.1 13.7M707 215.2l0 14.8M729.4 215.2l0 14.8M751.7 215.2l0 14.8M774 215.2l-4 17.4M796.4 215.2l-8.3 20.1M818.8 215.2l-9.5 15.1M841.1 215.2l-10.5 10.5M863.5 215.2l-5.4 -1.1M885.8 215.2l-5.7 -13.7M908.1 215.2l-3.2 -23.2M930.5 215.2l0 -33M952.9 215.2l4.4 -26.4M975.2 215.2l8.3 -20.1M997.5 215.2l15.6 -21.8M1019.9 215.2l23.3 -23.3M1042.2 215.2l19.4 -19.4M1064.6 215.2l15.4 -15.4M1087 215.2l12.9 -12.9M1109.3 215.2l10.5 -10.5M1131.7 215.2l5.4 1.1M1154 215.2l5.7 13.7M1176.3 215.2l-1 16.4M1198.7 215.2l-8.3 20.1M1221 215.2l-8.3 20.1M1243.4 215.2l-8.3 20.1M1265.8 215.2l-11.8 17.7M1288.1 215.2l-15.4 15.4M1310.4 215.2l-15.4 15.4M707 237.5l0 14.8M729.4 237.5l0 14.8M751.7 237.5l0 14.8M774 237.5l-1.9 14.3M796.4 237.5l-3.7 13.9M818.8 237.5l-6.3 9.8M841.1 237.5l-8.9 6.5M863.5 237.5l-5.3 -2.2M885.8 237.5l-5.7 -13.7M908.1 237.5l-4.5 -18.3M930.5 237.5l-3.2 -23.2M952.9 237.5l0.5 -20.2M975.2 237.5l4 -17.4M997.5 237.5l13.2 -20.4M1019.9 237.5l23.3 -23.3M1042.2 237.5l17.5 -20.6M1064.6 237.5l11.8 -17.7M1087 237.5l4.3 -11.3M1109.3 237.5l-1.1 -5.4M1131.7 237.5l-0.4 0.4M1154 237.5l-4.1 13.7M1176.3 237.5l-6.2 16.9M1198.7 237.5l-8.3 20.1M1221 237.5l-6.2 20.5M1243.4 237.5l-4.1 20.9M1265.8 237.5l-5.8 19.5M1288.1 237.5l-7.5 18.2M1310.4 237.5l-7.5 18.2M707 259.9l0 14.8M729.4 259.9l0 14.8M751.7 259.9l0 14.8M774 259.9l0 11.3M796.4 259.9l0 7.8M818.8 259.9l-3 4.5M841.1 259.9l-7.2 3M863.5 259.9l-5.3 -3.6M885.8 259.9l-5.7 -13.7M908.1 259.9l-5.7 -13.7M930.5 259.9l-5.7 -13.7M952.9 259.9l-2.8 -14.1M975.2 259.9l0 -14.8M997.5 259.9l10.8 -19M1019.9 259.9l23.3 -23.3M1042.2 259.9l15.6 -21.8M1064.6 259.9l8.3 -20.1M1087 259.9l-2.8 -10.9M1109.3 259.9l-13.7 -5.7M1131.7 259.9l-13.7 4.1M1154 259.9l-15.4 15.4M1176.3 259.9l-11.8 17.7M1198.7 259.9l-8.3 20.1M1221 259.9l-4.1 20.9M1243.4 259.9l0 21.8M1265.8 259.9l0 21.8M1288.1 259.9l0 21.8M1310.4 259.9l0 21.8M707 282.2l0 14.8M729.4 282.2l1.4 14.4M751.7 282.2l2.8 14.1M774 282.2l2.8 10.1M796.4 282.2l2.6 6.2M818.8 282.2l-0.2 2.9M841.1 282.2l-2 1.9M863.5 282.2l-0.5 -1M885.8 282.2l0 -13.2M908.1 282.2l-1.4 -13.6M930.5 282.2l-2.8 -14.1M952.9 282.2l-1.4 -14.4M975.2 282.2l0 -14.8M997.5 282.2l9 -16.9M1019.9 282.2l19.4 -19.4M1042.2 282.2l15.5 -18.5M1064.6 282.2l11.8 -17.7M1087 282.2l-1 -5.3M1109.3 282.2l-13.2 0M1131.7 282.2l-13.9 3.5M1154 282.2l-14.8 7.2M1176.3 282.2l-11.5 13.2M1198.7 282.2l-8.3 20.1M1221 282.2l-4.1 20.9M1243.4 282.2l0 21.8M1265.8 282.2l0 21.8M1288.1 282.2l0 21.8M1310.4 282.2l0 21.8M707 304.6l0 14.8M729.4 304.6l2.8 14.1M751.7 304.6l5.7 13.7M774 304.6l5.7 9.4M796.4 304.6l5.5 5.5M818.8 304.6l1.8 3.1M841.1 304.6l0 0.8M863.5 304.6l0.6 -1M885.8 304.6l5.7 -13.7M908.1 304.6l2.8 -14.1M930.5 304.6l0 -14.8M952.9 304.6l0 -14.8M975.2 304.6l0 -14.8M997.5 304.6l7.2 -14.8M1019.9 304.6l15.4 -15.4M1042.2 304.6l15.4 -15.4M1064.6 304.6l15.4 -15.4M1087 304.6l0 -0.6M1109.3 304.6l-13.7 5.7M1131.7 304.6l-14.1 2.8M1154 304.6l-14.8 0M1176.3 304.6l-11.1 9M1198.7 304.6l-8.3 20.1M1221 304.6l-4.1 20.9M1243.4 304.6l0 21.8M1265.8 304.6l0 21.8M1288.1 304.6l0 21.8M1310.4 304.6l0 21.8"/>
<path fill="#000" d="M700 36.4l6.2 -2.2l-0 4.4zM722.4 36.4l6.2 -2.2l-0 4.4zM744.7 36.4l6.2 -2.2l-0 4.4zM770.5 39.9l2 -4.3l2.2 2.2zM796.4 43.4l-2.2 -6.2l4.4 -0zM828.6 30l-4 5.2l-2.4 -3.7zM860.9 16.6l-2.8 5.9l-3.1 -3.1zM880.8 19.1l-2.8 5.9l-3.1 -3.1zM900.6 21.6l-2.8 5.9l-3.1 -3.1zM915.6 15l0 6.6l-4.2 -1.4zM930.5 8.4l2.2 6.2l-4.4 -0zM947.5 9.5l3.4 5.7l-4.3 0.9zM964.5 10.5l4.4 4.9l-4.1 1.7zM992.2 3.9l3.2 5.8l-4.3 0.7zM1019.9 -2.8l2.2 6.2l-4.4 -0zM1042.2 -2.8l2.2 6.2l-4.4 -0zM1064.6 -2.8l2.2 6.2l-4.4 -0zM1087 2.8l2.2 6.2l-4.4 -0zM1109.3 8.4l2.2 6.2l-4.4 -0zM1134.3 28.9l-0 6.6l-4.1 -1.5zM1159.4 49.3l-4.4 -4.9l4.1 -1.7zM1186.5 50.3l-5.4 -3.7l3.6 -2.6zM1213.5 51.2l-5.9 -2.8l3.1 -3.1zM1235.9 51.2l-5.9 -2.8l3.1 -3.1zM1258.2 51.2l-5.9 -2.8l3.1 -3.1zM1280.6 51.2l-5.9 -2.8l3.1 -3.1zM1302.9 51.2l-5.9 -2.8l3.1 -3.1zM1325.3 51.2l-5.9 -2.8l3.1 -3.1zM700 58.8l6.2 -2.2l-0 4.4zM722.4 58.8l6.2 -2.2l-0 4.4zM744.7 58.8l6.2 -2.2l-0 4.4zM772.3 60.5l1 -2.1l1.1 1.1zM799.9 62.2l-4.3 -2l2.2 -2.2zM829.2 51.8l-3.9 5.3l-2.4 -3.7zM858.4 41.4l-2.8 5.9l-3.1 -3.1zM880.8 41.4l-2.8 5.9l-3.1 -3.1zM903.1 41.4l-2.8 5.9l-3.1 -3.1zM916.8 33.3l0.1 6.6l-4.2 -1.4zM930.5 25.1l2.2 6.2l-4.4 -0zM946.4 26.4l3.4 5.7l-4.3 0.9zM962.3 27.7l4.4 4.9l-4.1 1.7zM986.6 22.6l3.9 5.3l-4.2 1.3zM1010.9 17.4l3.5 5.6l-4.3 0.9zM1037.7 16.5l2.8 5.9l-4.4 0.5zM1064.6 15.6l2.2 6.2l-4.4 -0zM1089.6 23.7l1.7 6.3l-4.4 -0.3zM1114.7 31.8l0.9 6.5l-4.3 -0.9zM1137 51.8l-2 6.3l-3.5 -2.7zM1159.4 71.7l-4.4 -4.9l4.1 -1.7zM1184.8 73.8l-4.9 -4.3l3.8 -2.1zM1210.1 75.9l-5.3 -3.9l3.7 -2.4zM1232.5 75.9l-5.3 -3.9l3.7 -2.4zM1254.8 75.9l-5.3 -3.9l3.7 -2.4zM1275.2 76.3l-4.9 -4.4l3.9 -2.1zM1295.5 76.7l-4.4 -4.9l4.1 -1.7zM1317.9 76.7l-4.4 -4.9l4.1 -1.7zM700 81.1l6.2 -2.2l-0 4.4zM722.4 81.1l6.2 -2.2l-0 4.4zM744.7 81.1l6.2 -2.2l-0 4.4zM803.4 81.1l-6.2 2.2l-0 -4.4zM829.7 73.7l-3.9 5.3l-2.5 -3.6zM855.9 66.3l-2.8 5.9l-3.1 -3.1zM880.8 63.8l-2.8 5.9l-3.1 -3.1zM905.6 61.3l-2.8 5.9l-3.1 -3.1zM918 51.6l0.1 6.6l-4.2 -1.4zM930.5 41.9l2.2 6.2l-4.4 -0zM945.3 43.4l3.4 5.7l-4.3 0.9zM960.2 44.9l4.4 4.9l-4.1 1.7zM981 41.3l4.4 4.9l-4.1 1.7zM1001.9 37.6l4.4 4.9l-4.1 1.7zM1033.2 35.9l3.4 5.7l-4.3 0.9zM1064.6 34.1l2.2 6.2l-4.4 -0zM1092.3 44.6l1.3 6.5l-4.4 -0.6zM1120 55.2l-0.3 6.6l-4.1 -1.7zM1139.7 74.6l-3.5 5.6l-2.8 -3.4zM1159.4 94l-4.4 -4.9l4.1 -1.7zM1183 97.3l-4.4 -4.9l4.1 -1.7zM1206.7 100.5l-4.4 -4.9l4.1 -1.7zM1229.1 100.5l-4.4 -4.9l4.1 -1.7zM1251.4 100.5l-4.4 -4.9l4.1 -1.7zM1269.8 101.3l-3.4 -5.7l4.3 -0.9zM1288.1 102.1l-2.2 -6.2l4.4 -0zM1310.4 102.1l-2.2 -6.2l4.4 -0zM703.5 106.9l2 -4.3l2.2 2.2zM725.9 106.9l2 -4.3l2.2 2.2zM748.2 106.9l2 -4.3l2.2 2.2zM774 108.7l-1.7 -4.7l3.4 -0zM799.9 110.4l-4.7 -4.6l3.9 -2zM825.4 104.5l-6.4 1.2l0.7 -4.3zM851 98.5l-4.6 4.7l-2 -3.9zM878.3 101l-5.8 3.2l-0.7 -4.3zM905.6 103.4l-6.2 2.2l-0 -4.4zM918 83.8l-0.8 6.5l-3.9 -2zM930.5 64.2l2.2 6.2l-4.4 -0zM945.3 65.7l3.4 5.7l-4.3 0.9zM960.2 67.2l4.4 4.9l-4.1 1.7zM981 63.6l4.4 4.9l-4.1 1.7zM1001.9 60l4.4 4.9l-4.1 1.7zM1033.2 60.2l3.4 5.6l-4.3 0.9zM1064.6 60.3l2.2 6.2l-4.4 -0zM1092.3 69l1.2 6.5l-4.3 -0.7zM1120 77.6l-0.3 6.6l-4.1 -1.7zM1140.4 98.6l-4.3 4.9l-2.1 -3.8zM1160.7 119.6l-4.4 -4.9l4.1 -1.7zM1184.4 122.9l-4.4 -4.9l4.1 -1.7zM1208.1 126.1l-4.4 -4.9l4.1 -1.7zM1227.7 126.6l-3.8 -5.3l4.2 -1.2zM1247.4 127.2l-3.2 -5.7l4.3 -0.7zM1267.8 127.6l-2.7 -6l4.4 -0.4zM1288.1 127.9l-2.2 -6.2l4.4 -0zM1310.4 127.9l-2.2 -6.2l4.4 -0zM707 132.8l-2.2 -6.2l4.4 -0zM729.4 132.8l-2.2 -6.2l4.4 -0zM751.7 132.8l-2.2 -6.2l4.4 -0zM774 136.3l-2.2 -6.2l4.4 -0zM796.4 139.8l-2.2 -6.2l4.4 -0zM821.2 135.3l-3.7 -5.4l4.3 -1.1zM846 130.7l-5.9 -2.8l3.1 -3.1zM875.8 138.2l-5.9 -2.8l3.1 -3.1zM905.6 145.6l-5.9 -2.8l3.1 -3.1zM918 116.1l-2.9 5.9l-3.1 -3.1zM930.5 86.6l2.2 6.2l-4.4 -0zM945.3 88.1l3.4 5.7l-4.3 0.9zM960.2 89.6l4.4 4.9l-4.1 1.7zM981 86l4.4 4.9l-4.1 1.7zM1001.9 82.3l4.4 4.9l-4.1 1.7zM1033.2 84.5l3.5 5.6l-4.3 0.9zM1064.6 86.6l2.2 6.2l-4.4 -0zM1092.3 93.3l1.2 6.5l-4.3 -0.7zM1120 99.9l-0.3 6.6l-4.1 -1.7zM1141 122.6l-5.1 4.1l-1.4 -4.2zM1162 145.2l-4.4 -4.9l4.1 -1.7zM1185.7 148.4l-4.4 -4.9l4.1 -1.7zM1209.4 151.7l-4.4 -4.9l4.1 -1.7zM1226.4 152.7l-3.4 -5.7l4.3 -0.9zM1243.4 153.8l-2.2 -6.2l4.4 -0zM1265.8 153.8l-2.2 -6.2l4.4 -0zM1288.1 153.8l-2.2 -6.2l4.4 -0zM1310.4 153.8l-2.2 -6.2l4.4 -0zM714.4 159.1l-5.3 -3.9l3.6 -2.5zM735.7 161.8l-4.6 -4.7l4 -1.9zM757.1 164.6l-4 -5.2l4.2 -1.4zM776.7 166.9l-3.1 -5.8l4.4 -0.6zM796.4 169.2l-2.2 -6.2l4.4 -0zM821.3 163.1l-3.2 -5.7l4.3 -0.7zM846.3 157.1l-5 -4.3l3.8 -2.2zM873.7 164l-5.2 -4l3.7 -2.4zM901.1 171l-5.3 -3.9l3.7 -2.4zM915.8 140l-2.6 6l-3.2 -3zM930.5 109l2.2 6.2l-4.4 -0zM944.6 108.6l3.4 5.6l-4.3 0.9zM958.7 108.3l4.4 4.9l-4.1 1.7zM988.5 108.3l3.5 5.6l-4.3 1zM1018.4 108.3l2.4 6.1l-4.4 0.2zM1045.3 109.4l1.7 6.4l-4.4 -0.3zM1072.1 110.4l0.9 6.5l-4.3 -0.9zM1098.3 117.9l-0.1 6.6l-4.1 -1.5zM1124.6 125.3l-1.6 6.4l-3.7 -2.4zM1144.5 140.2l-4.1 5.1l-2.3 -3.7zM1164.5 155.2l-6.4 -1.6l2.4 -3.7zM1187 164.6l-5.2 -4l3.7 -2.4zM1209.4 174l-4.4 -4.9l4.1 -1.7zM1229.1 174.6l-3.9 -5.3l4.2 -1.3zM1248.8 175.1l-3.4 -5.7l4.3 -0.9zM1270.4 173.5l-3.3 -5.7l4.3 -0.8zM1292.1 171.9l-3.2 -5.7l4.3 -0.7zM1314.5 171.9l-3.2 -5.7l4.3 -0.7zM721.8 185.3l-5.9 -2.8l3.1 -3.1zM742.1 190.9l-5.2 -4.1l3.7 -2.3zM762.4 196.4l-4.4 -4.9l4.1 -1.7zM779.4 197.4l-3.4 -5.7l4.3 -0.9zM796.4 198.5l-2.2 -6.2l4.4 -0zM821.4 191l-3 -5.9l4.4 -0.6zM846.5 183.4l-4.4 -4.9l4.1 -1.7zM871.5 189.9l-4.4 -4.9l4.1 -1.7zM896.5 196.4l-4.4 -4.9l4.1 -1.7zM913.5 163.8l-2.2 6.2l-3.4 -2.8zM930.5 131.3l2.2 6.2l-4.4 -0zM943.8 129.2l3.5 5.6l-4.3 0.9zM957.2 127l4.4 4.9l-4.1 1.7zM996 130.7l2.4 6.1l-4.4 0.2zM1034.9 134.3l-0.3 6.6l-4.1 -1.7zM1057.3 134.3l-0.3 6.6l-4.1 -1.7zM1079.6 134.3l-0.3 6.6l-4.1 -1.7zM1104.4 142.5l-1.4 6.4l-3.7 -2.3zM1129.1 150.7l-2.8 5.9l-3.1 -3.1zM1148 157.9l-3.6 5.5l-2.7 -3.5zM1166.9 165.1l-4.9 4.4l-1.7 -4.1zM1188.2 180.8l-6.1 -2.4l2.9 -3.3zM1209.4 196.4l-4.4 -4.9l4.1 -1.7zM1231.8 196.4l-4.4 -4.9l4.1 -1.7zM1254.1 196.4l-4.4 -4.9l4.1 -1.7zM1275.1 193.1l-4.4 -4.9l4.1 -1.7zM1296.1 189.9l-4.4 -4.9l4.1 -1.7zM1318.5 189.9l-4.4 -4.9l4.1 -1.7zM714.4 210.8l-4.4 -4.9l4.1 -1.7zM735.7 213.5l-3.9 -5.3l4.2 -1.3zM757.1 216.3l-3.5 -5.6l4.3 -1zM774 218l-2.2 -6.2l4.4 -0zM791 219.8l-0.9 -6.5l4.3 0.9zM813.7 213.3l-0.6 -6.5l4.3 1.1zM836.4 206.7l-0.1 -6.6l4.2 1.4zM861.7 201.4l-0.9 -6.5l4.3 0.9zM887.1 196.1l-2.2 -2.5l2.1 -0.9zM908.8 174.9l2 6.3l-4.4 -0.2zM930.5 153.6l2.2 6.2l-4.4 -0zM951 155.9l2.5 6.1l-4.4 0.2zM971.6 158.2l2.8 5.9l-4.4 0.5zM1006.4 159.5l0.5 6.6l-4.3 -1.1zM1041.3 160.9l-1.6 6.4l-3.7 -2.4zM1061.6 162.9l-1.5 6.4l-3.7 -2.4zM1082 164.8l-1.4 6.4l-3.7 -2.3zM1104.3 170.2l-2 6.3l-3.5 -2.7zM1126.6 175.5l-2.8 5.9l-3.1 -3.1zM1145.6 187.7l-5 4.2l-1.5 -4.1zM1164.5 199.9l-6.4 -1.6l2.4 -3.7zM1181.6 209.3l-4 -5.2l4.2 -1.3zM1198.7 218.7l-2.2 -6.2l4.4 -0zM1221 218.7l-2.2 -6.2l4.4 -0zM1243.4 218.7l-2.2 -6.2l4.4 -0zM1262.8 215.6l-1.4 -6.4l4.4 0.6zM1282.2 212.5l-0.3 -6.6l4.2 1.3zM1304.6 212.5l-0.3 -6.6l4.2 1.3zM707 236.2l-2.2 -6.2l4.4 -0zM729.4 236.2l-2.2 -6.2l4.4 -0zM751.7 236.2l-2.2 -6.2l4.4 -0zM768.7 238.6l-0.8 -6.5l4.3 1zM785.7 241.1l0.3 -6.6l4.1 1.7zM806 235.6l1.4 -6.4l3.7 2.3zM826.3 230l2.8 -5.9l3.1 3.1zM852 212.9l6.5 -0.9l-0.9 4.3zM877.8 195.8l4.4 4.9l-4.1 1.7zM904.1 185.9l3 5.8l-4.4 0.6zM930.5 176l2.2 6.2l-4.4 -0zM958.2 182.7l1.2 6.5l-4.3 -0.7zM985.9 189.3l-0.3 6.6l-4.1 -1.7zM1016.8 188.4l-1.8 6.3l-3.6 -2.6zM1047.6 187.5l-2.8 5.9l-3.1 -3.1zM1066 191.4l-2.8 5.9l-3.1 -3.1zM1084.4 195.4l-2.8 5.9l-3.1 -3.1zM1104.3 197.9l-2.8 5.9l-3.1 -3.1zM1124.1 200.4l-2.8 5.9l-3.1 -3.1zM1143.1 217.5l-6.5 0.9l0.9 -4.3zM1162 234.6l-4.4 -4.9l4.1 -1.7zM1175 237.8l-1.8 -6.3l4.4 0.3zM1188 241.1l0.3 -6.6l4.1 1.7zM1210.3 241.1l0.3 -6.6l4.1 1.7zM1232.7 241.1l0.3 -6.6l4.1 1.7zM1250.5 238l1.6 -6.4l3.7 2.4zM1268.3 235l2.8 -5.9l3.1 3.1zM1290.7 235l2.8 -5.9l3.1 3.1zM707 258.5l-2.2 -6.2l4.4 -0zM729.4 258.5l-2.2 -6.2l4.4 -0zM751.7 258.5l-2.2 -6.2l4.4 -0zM771.4 258l-1.4 -6.4l4.4 0.6zM791 257.5l-0.5 -6.6l4.2 1.1zM809.1 252.6l1.5 -6.4l3.7 2.4zM827.2 247.7l3.7 -5.4l2.6 3.6zM852.5 232.9l6.6 0.4l-1.7 4.1zM877.8 218.1l4.4 4.9l-4.1 1.7zM902.1 213.2l3.6 5.5l-4.3 1.1zM926.5 208.2l3 5.8l-4.4 0.6zM953.5 211.2l2 6.3l-4.4 -0.1zM980.6 214.1l0.8 6.5l-4.3 -1zM1014.1 212l-1.5 6.4l-3.7 -2.4zM1047.6 209.8l-2.8 5.9l-3.1 -3.1zM1063.7 212.3l-2.3 6.1l-3.4 -2.8zM1079.9 214.7l-1.6 6.4l-3.7 -2.4zM1093.4 220.4l-0.1 6.6l-4.1 -1.6zM1107 226.1l3.4 5.7l-4.3 0.9zM1127.6 241.6l2.4 -5l2.6 2.6zM1148.1 257.2l-0.3 -6.6l4.2 1.3zM1168.1 260.3l0.1 -6.6l4.1 1.5zM1188 263.4l0.3 -6.6l4.1 1.7zM1213 264l-0.3 -6.6l4.2 1.3zM1238 264.5l-0.9 -6.5l4.3 0.9zM1258.1 263l-0.3 -6.6l4.2 1.3zM1278.2 261.4l0.3 -6.6l4.1 1.7zM1300.6 261.4l0.3 -6.6l4.1 1.7zM707 280.9l-2.2 -6.2l4.4 -0zM729.4 280.9l-2.2 -6.2l4.4 -0zM751.7 280.9l-2.2 -6.2l4.4 -0zM774 277.4l-2.2 -6.2l4.4 -0zM796.4 273.9l-2.2 -6.2l4.4 -0zM812.3 269.6l1.6 -6.4l3.7 2.4zM828.2 265.3l4.9 -4.4l1.7 4.1zM853 252.9l6.4 1.6l-2.4 3.7zM877.8 240.5l4.4 4.9l-4.1 1.7zM900.1 240.5l4.4 4.9l-4.1 1.7zM922.5 240.5l4.4 4.9l-4.1 1.7zM948.8 239.7l3.4 5.7l-4.3 0.9zM975.2 238.9l2.2 6.2l-4.4 -0zM1011.4 235.5l-1.2 6.5l-3.8 -2.2zM1047.6 232.2l-2.8 5.9l-3.1 -3.1zM1061.5 233.1l-1.8 6.3l-3.6 -2.6zM1075.3 234l-0.3 6.6l-4.1 -1.7zM1082.6 242.9l3.7 5.5l-4.3 1.1zM1089.9 251.9l6.6 0.3l-1.7 4.1zM1112 265.8l5.3 -3.9l1.3 4.2zM1134.2 279.7l2.8 -5.9l3.1 3.1zM1161.1 282.7l1.6 -6.4l3.7 2.4zM1188 285.8l0.3 -6.6l4.1 1.7zM1215.7 286.8l-0.9 -6.5l4.3 0.9zM1243.4 287.9l-2.2 -6.2l4.4 -0zM1265.8 287.9l-2.2 -6.2l4.4 -0zM1288.1 287.9l-2.2 -6.2l4.4 -0zM1310.4 287.9l-2.2 -6.2l4.4 -0zM707 303.2l-2.2 -6.2l4.4 -0zM731.4 302.9l-2.8 -6l4.4 -0.4zM755.7 302.5l-3.4 -5.7l4.3 -0.9zM778.5 298.3l-3.8 -5.4l4.2 -1.2zM801.3 294.2l-4.4 -4.9l4.1 -1.7zM818 291.3l-1.7 -6.4l4.4 0.4zM834.6 288.4l3 -5.9l3 3.2zM860.2 275.6l4.7 4.6l-4 1.9zM885.8 262.8l2.2 6.2l-4.4 -0zM906.1 262.4l2.8 5.9l-4.4 0.4zM926.5 262l3.4 5.7l-4.3 0.9zM950.8 261.6l2.8 6l-4.4 0.4zM975.2 261.2l2.2 6.2l-4.4 -0zM1009.4 259.9l-1 6.5l-3.9 -2.1zM1043.7 258.5l-2.8 5.9l-3.1 -3.1zM1061.8 259l-2.3 6.2l-3.4 -2.8zM1079.9 259.4l-1.6 6.4l-3.7 -2.4zM1084.9 270.8l3.3 5.7l-4.3 0.8zM1089.9 282.2l6.2 -2.2l-0 4.4zM1111.7 287.2l5.5 -3.6l1.1 4.3zM1133.6 292.1l4.6 -4.7l1.9 4zM1160.8 300.1l2.4 -6.1l3.3 2.9zM1188 308.1l0.3 -6.6l4.1 1.7zM1215.7 309.2l-0.9 -6.5l4.3 0.9zM1243.4 310.2l-2.2 -6.2l4.4 -0zM1265.8 310.2l-2.2 -6.2l4.4 -0zM1288.1 310.2l-2.2 -6.2l4.4 -0zM1310.4 310.2l-2.2 -6.2l4.4 -0zM707 325.6l-2.2 -6.2l4.4 -0zM733.4 324.8l-3.4 -5.7l4.3 -0.9zM759.7 324l-4.4 -4.9l4.1 -1.7zM783 319.3l-5.1 -4.1l3.8 -2.3zM806.3 314.5l-5.9 -2.8l3.1 -3.1zM823.7 313l-5 -4.2l3.8 -2.2zM841.1 311.6l-2.2 -6.2l4.4 -0zM867.5 298.4l-1.5 6.4l-3.7 -2.4zM893.8 285.2l-0.3 6.6l-4.1 -1.7zM912.2 284.4l0.9 6.5l-4.3 -0.9zM930.5 283.6l2.2 6.2l-4.4 -0zM952.9 283.6l2.2 6.2l-4.4 -0zM975.2 283.6l2.2 6.2l-4.4 -0zM1007.4 284.2l-0.7 6.5l-4 -1.9zM1039.7 284.8l-2.8 5.9l-3.1 -3.1zM1062 284.8l-2.8 5.9l-3.1 -3.1zM1084.4 284.8l-2.8 5.9l-3.1 -3.1zM1087.1 298.7l1.7 5.4l-3.8 -0.1zM1089.9 312.6l4.9 -4.4l1.7 4.1zM1111.4 308.6l5.7 -3.4l0.9 4.3zM1133 304.6l6.2 -2.2l-0 4.4zM1160.5 317.5l3.4 -5.6l2.8 3.4zM1188 330.5l0.3 -6.6l4.1 1.7zM1215.7 331.5l-0.9 -6.5l4.3 0.9zM1243.4 332.6l-2.2 -6.2l4.4 -0zM1265.8 332.6l-2.2 -6.2l4.4 -0zM1288.1 332.6l-2.2 -6.2l4.4 -0zM1310.4 332.6l-2.2 -6.2l4.4 -0z"/>
<path stroke="#000" stroke-width="5.6" stroke-linecap="round" d="M1109.3 81.1h0M774 103.4h0M796.4 103.4h0M818.8 103.4h0M1042.2 103.4h0M1064.6 103.4h0M1087 103.4h0M1109.3 103.4h0M1288.1 103.4h0M1310.4 103.4h0M774 125.8h0M796.4 125.8h0M818.8 125.8h0M1042.2 125.8h0M1064.6 125.8h0M1087 125.8h0M1109.3 125.8h0M1288.1 125.8h0M1310.4 125.8h0M774 148.2h0M796.4 148.2h0M818.8 148.2h0M1042.2 148.2h0M1064.6 148.2h0M1087 148.2h0M1109.3 148.2h0M1288.1 148.2h0M1310.4 148.2h0M1042.2 170.5h0M1064.6 170.5h0M1087 170.5h0M1288.1 170.5h0M1310.4 170.5h0M751.7 192.8h0M841.1 192.8h0M863.5 192.8h0M885.8 192.8h0M908.1 192.8h0M930.5 192.8h0M1042.2 192.8h0M1064.6 192.8h0M1087 192.8h0M1109.3 192.8h0M1288.1 192.8h0M1310.4 192.8h0M751.7 215.2h0M841.1 215.2h0M863.5 215.2h0M885.8 215.2h0M908.1 215.2h0M930.5 215.2h0M1042.2 215.2h0M1064.6 215.2h0M1087 215.2h0M1109.3 215.2h0M1288.1 215.2h0M1310.4 215.2h0M751.7 237.5h0M841.1 237.5h0M863.5 237.5h0M885.8 237.5h0M908.1 237.5h0M930.5 237.5h0M1042.2 237.5h0M1064.6 237.5h0M1087 237.5h0M1109.3 237.5h0M1288.1 237.5h0M1310.4 237.5h0M707 259.9h0M729.4 259.9h0M751.7 259.9h0M841.1 259.9h0M863.5 259.9h0M885.8 259.9h0M908.1 259.9h0M930.5 259.9h0M1042.2 259.9h0M1064.6 259.9h0M1087 259.9h0M1109.3 259.9h0"/>
<rect x="1046.7" y="125.8" width="125.2" height="107.3" fill="none" stroke="#e3211c" stroke-width="2"/>
</g>
<rect x="707.0" y="36.4" width="612.4" height="268.2" fill="none" stroke="#000" stroke-width="1.3"/>
<line x1="703.5" y1="81.1" x2="707.0" y2="81.1" stroke="#000" stroke-width="1"/>
<text x="700.0" y="88.4" text-anchor="end" class="tk">5</text>
<line x1="703.5" y1="125.8" x2="707.0" y2="125.8" stroke="#000" stroke-width="1"/>
<text x="700.0" y="133.1" text-anchor="end" class="tk">0</text>
<line x1="703.5" y1="170.5" x2="707.0" y2="170.5" stroke="#000" stroke-width="1"/>
<text x="700.0" y="177.8" text-anchor="end" class="tk">-5</text>
<line x1="703.5" y1="215.2" x2="707.0" y2="215.2" stroke="#000" stroke-width="1"/>
<text x="700.0" y="222.5" text-anchor="end" class="tk">-10</text>
<line x1="703.5" y1="259.9" x2="707.0" y2="259.9" stroke="#000" stroke-width="1"/>
<text x="700.0" y="267.2" text-anchor="end" class="tk">-15</text>
<line x1="703.5" y1="304.6" x2="707.0" y2="304.6" stroke="#000" stroke-width="1"/>
<text x="700.0" y="311.9" text-anchor="end" class="tk">-20</text>
<line x1="707.0" y1="304.6" x2="707.0" y2="308.1" stroke="#000" stroke-width="1"/>
<text x="707.0" y="327.2" text-anchor="middle" class="tk">-10</text>
<line x1="796.4" y1="304.6" x2="796.4" y2="308.1" stroke="#000" stroke-width="1"/>
<text x="796.4" y="327.2" text-anchor="middle" class="tk">0</text>
<line x1="885.8" y1="304.6" x2="885.8" y2="308.1" stroke="#000" stroke-width="1"/>
<text x="885.8" y="327.2" text-anchor="middle" class="tk">10</text>
<line x1="975.2" y1="304.6" x2="975.2" y2="308.1" stroke="#000" stroke-width="1"/>
<text x="975.2" y="327.2" text-anchor="middle" class="tk">20</text>
<line x1="1064.6" y1="304.6" x2="1064.6" y2="308.1" stroke="#000" stroke-width="1"/>
<text x="1064.6" y="327.2" text-anchor="middle" class="tk">30</text>
<line x1="1154.0" y1="304.6" x2="1154.0" y2="308.1" stroke="#000" stroke-width="1"/>
<text x="1154.0" y="327.2" text-anchor="middle" class="tk">40</text>
<line x1="1243.4" y1="304.6" x2="1243.4" y2="308.1" stroke="#000" stroke-width="1"/>
<text x="1243.4" y="327.2" text-anchor="middle" class="tk">50</text>
<text x="708.5" y="30.0" class="tt">(B)_Day -6</text>
<clipPath id="cC"><rect x="1367.0" y="28.3" width="625.8" height="268.2"/></clipPath>
<g clip-path="url(#cC)">
<rect x="1367.0" y="28.3" width="625.8" height="268.2" fill="#97ff60"/>
<path fill="#0020ff" stroke="#0020ff" stroke-width="0.6" d="M1389 61.9l10.9 -0.6l11 0.7l11 -0.5l11 0.3l11 8.1l0.6 1.3l7.6 10.7l2.7 2l11 -1l4.1 -1l6.9 -1.3l3 1.3l8 10.7l0 0.1l0 0.1l-4.5 10.6l-6.5 5.7l-6.3 5l-3.9 10.8l1.2 10.7l-0.2 10.7l-1.8 3l-11 3.4l-10.9 -1.2l-11 -1l-11 1.1l-11 -0.9l-5.5 -4.4l-5.5 -6.8l-3 -3.9l-7.9 -6.7l-5.7 -4l-5.3 -9.2l-0.7 -1.6l0.1 -10.7l0.6 -7.7l0.2 -3l-0.2 -3.9l-0.4 -6.9l0.4 -5l0.5 -5.7z"/>
<path fill="#0060ff" stroke="#0060ff" stroke-width="0.6" d="M1378 29l0.3 -0.7l10.7 0l10.9 0l11 0l11 0l11 0l11 0l10.9 0l11 0l1.4 0l-0.3 10.7l-0.1 10.8l2.3 10.7l7.7 3.4l11 -0.1l6 7.4l2.8 10.7l0.6 10.8l-0.9 10.7l-2.3 10.7l-1.4 10.8l0.9 10.7l-2 10.7l-3.1 10.7l-0.6 2.1l-4 8.7l-7 9.5l-11 -1.9l-11 -2.4l-5.6 5.5l-5.3 5.9l-4.7 4.8l-6.3 2.5l-11 2.7l-11 5.4l-0.3 0.1l-10.7 2.3l-7.2 -2.3l-3.7 -1.8l-7.5 -8.9l-3.5 -4.9l-6.1 -5.8l-4.9 -3.6l0 -7.1l0 -10.8l0 -10.7l0 -10.7l0 -10.7l0 -10.8l0 -10.7l0 -10.7l0 -10.8l0 -10.7l0 -10.7l0 -10.7l0 -10.3l1.3 -0.5zM1378.5 71.2l-0.5 5.7l-0.4 5l0.4 6.9l0.2 3.9l-0.2 3l-0.6 7.7l-0.1 10.7l0.7 1.6l5.3 9.2l5.7 4l7.9 6.7l3 3.9l5.5 6.8l5.5 4.4l11 0.9l11 -1.1l11 1l10.9 1.2l11 -3.4l1.8 -3l0.2 -10.7l-1.2 -10.7l3.9 -10.8l6.3 -5l6.5 -5.7l4.5 -10.6l0 -0.1l0 -0.1l-8 -10.7l-3 -1.3l-6.9 1.3l-4.1 1l-11 1l-2.7 -2l-7.6 -10.7l-0.6 -1.3l-11 -8.1l-11 -0.3l-11 0.5l-11 -0.7l-10.9 0.6zM1981.8 28.3l11 0l0 10.7l0 1.2l-3.5 -1.2l-7.5 -5.5l-2 -5.2zM1817.1 59.5l11 -0.4l8.4 1.4l2.6 0.7l7.2 10l3.8 5l6.6 5.7l4.4 3l8.2 7.8l-1.1 10.7l-7.1 5.2l-11 1.2l-11 -1.7l-11 -1.4l-11 0.7l-10.9 3.1l-6.8 -7.1l-1.3 -10.7l-1.3 -10.8l3.1 -10.7l6.3 -7.4l8 -3.3zM1981.8 85.4l11 -2.9l0 10.2l0 10.7l0 6.1l-7.5 -6.1l-3.5 -5.5l-3 -5.2zM1663.4 241l2.4 1.9l5.8 10.7l0.7 10.7l-1.4 10.7l-7.5 10.1l-10.9 -2.6l-9 -7.5l-2 -3.7l-2.2 -7l2 -10.7l0.2 -0.3l11 -10.4l0.6 0z"/>
<path fill="#00a0ff" stroke="#00a0ff" stroke-width="0.6" d="M1378 28.3l0.3 0l-0.3 0.7l-9.7 10l-1.3 0.5l0 -0.5l0 -10.7zM1476.8 28.3l11 0l10.9 0l11 0l1 0l-1 8.7l-0.4 2l-2.8 10.8l-1.6 10.7l-0.7 10.7l-0.2 10.7l0 10.8l0 10.7l0.1 10.7l0.5 10.8l0 10.7l-1.7 10.7l-3.7 10.7l-0.5 1.1l-4.2 9.7l-3.9 10.7l-2.8 5.7l-6.6 5l-4.4 2.2l-11 2.3l-11 4.6l-8 1.6l-2.9 0.4l-11 1.9l-11 5.3l-5.5 3.2l-5.5 2.8l-11 1.5l-10.9 -1.6l-5.4 -2.7l-5.6 -4.5l-6.8 -6.3l-4.2 -4.5l0 -6.2l0 -10.7l0 -3.6l4.9 3.6l6.1 5.8l3.5 4.9l7.5 8.9l3.7 1.8l7.2 2.3l10.7 -2.3l0.3 -0.1l11 -5.4l11 -2.7l6.3 -2.5l4.7 -4.8l5.3 -5.9l5.6 -5.5l11 2.4l11 1.9l7 -9.5l4 -8.7l0.6 -2.1l3.1 -10.7l2 -10.7l-0.9 -10.7l1.4 -10.8l2.3 -10.7l0.9 -10.7l-0.6 -10.8l-2.8 -10.7l-6 -7.4l-11 0.1l-7.7 -3.4l-2.3 -10.7l0.1 -10.8l0.3 -10.7zM1850.1 38.3l5.5 0.7l5.5 0.8l8.3 10l2.6 5.7l6.2 5l4.8 1.7l11 0.6l11 -1.2l10.9 -1.1l11 2.6l7.4 8.1l2.8 10.7l-0.8 10.8l-7.2 10.7l-2.2 1.6l-10.5 9.1l-0.5 0.9l-5.3 9.9l-5.6 4.8l-11 1.8l-11 -0.9l-11 -1.7l-10.9 -1l-11 0.5l-11 0.4l-11 -1.8l-11 -0.9l-10.9 4l-11 1l-5 -6.2l-2.7 -10.8l0.4 -10.7l0.2 -10.7l-0.7 -10.8l1.2 -10.7l4.3 -10.7l2.3 -6.2l3.9 -4.5l7.1 -9.5l10.9 1.3l11 0.4l11 -1.3l7.8 -1.7zM1814.2 60.5l-8 3.3l-6.3 7.4l-3.1 10.7l1.3 10.8l1.3 10.7l6.8 7.1l10.9 -3.1l11 -0.7l11 1.4l11 1.7l11 -1.2l7.1 -5.2l1.1 -10.7l-8.2 -7.8l-4.4 -3l-6.6 -5.7l-3.8 -5l-7.2 -10l-2.6 -0.7l-8.4 -1.4l-11 0.4zM1970.8 28.3l9 0l2 5.2l7.5 5.5l3.5 1.2l0 9.6l0 10.7l0 10.7l0 10.7l0 0.6l-11 2.9l-3 7.3l3 5.2l3.5 5.5l7.5 6.1l0 4.6l0 10.8l0 1.3l-2.1 -1.3l-8.9 -6.2l-3.7 -4.6l-7.3 -7.4l-3.6 -3.3l-5.3 -10.7l-0.8 -10.8l-0.1 -10.7l-1.1 -10.7l0 -0.5l-0.7 -10.2l0.7 -8l0.2 -2.8l1.1 -10.7zM1663.4 210.4l11 -0.2l1 0.5l10 9.6l0.9 1.1l5.8 10.7l-0.3 10.8l-2.8 10.7l-0.5 10.7l0.8 10.7l0.7 10.8l0.4 10.7l-5 0l-11 0l-11 0l-10.9 0l-6.5 0l-4.5 -4.4l-5.4 -6.3l-5.6 -8.3l-1.1 -2.5l-2 -10.7l1.1 -10.7l2 -4.3l3.8 -6.4l7.2 -10.2l0.6 -0.6l5.3 -10.7l5.1 -4.7l9.7 -6zM1653.1 242.9l-0.6 0l-11 10.4l-0.2 0.3l-2 10.7l2.2 7l2 3.7l9 7.5l10.9 2.6l7.5 -10.1l1.4 -10.7l-0.7 -10.7l-5.8 -10.7l-2.4 -1.9z"/>
<path fill="#00e0fb" stroke="#00e0fb" stroke-width="0.6" d="M1509.7 37l1 -8.7l9.3 0l-2.6 10.7l-2.8 10.8l-2.1 10.7l-1.4 10.7l-0.7 10.7l-0.1 10.8l0.2 10.7l0.4 10.7l0.4 10.8l0 10.7l-1 10.7l-0.6 2.8l-2.5 7.9l-4.3 10.8l-3.7 10.7l-0.5 1.5l-3.6 9.2l-7.3 9.3l-3.5 1.4l-7.5 2.7l-11 6l-3.9 2.1l-7.1 3.2l-10.9 1.5l-11 3.2l-5.5 2.8l-5.5 1.5l-11 1.4l-11 0.5l-10.9 -0.3l-11 -1.8l-5.3 -1.3l-5.7 -2.5l0 -8.2l0 -10.8l0 -4.5l4.2 4.5l6.8 6.3l5.6 4.5l5.4 2.7l10.9 1.6l11 -1.5l5.5 -2.8l5.5 -3.2l11 -5.3l11 -1.9l2.9 -0.4l8 -1.6l11 -4.6l11 -2.3l4.4 -2.2l6.6 -5l2.8 -5.7l3.9 -10.7l4.2 -9.7l0.5 -1.1l3.7 -10.7l1.7 -10.7l0 -10.7l-0.5 -10.8l-0.1 -10.7l0 -10.7l0 -10.8l0.2 -10.7l0.7 -10.7l1.6 -10.7l2.8 -10.8zM1795.2 28.3l11 0l10.9 0l11 0l11 0l11 0l11 0l10.9 0l11 0l11 0l11 0l10.9 0l11 0l11 0l11 0l11 0l1.3 0l-1.1 10.7l-0.2 2.8l-0.7 8l0.7 10.2l0 0.5l1.1 10.7l0.1 10.7l0.8 10.8l5.3 10.7l3.6 3.3l7.3 7.4l3.7 4.6l8.9 6.2l2.1 1.3l0 9.4l0 10.7l0 10.7l0 10.8l0 6.9l-6.9 -6.9l-4.1 -5.7l-5.2 -5.1l-5.8 -4l-10.9 -1.4l-11 0.7l-11 0.6l-11 -0.1l-11 -0.8l-10.9 -1l-11 -0.5l-11 0.2l-11 0.7l-10.9 0.2l-11 -1l-11 0.1l-10.6 6.3l-0.4 0.3l-7.2 10.5l-3.8 4l-6.2 6.7l-4.7 5.9l-4.5 4.8l-6.5 6.8l-11 0.7l-5.4 -7.5l-1.2 -10.7l1.2 -10.7l1.1 -10.8l-0.4 -10.7l-0.3 -10.7l0.4 -10.7l0.4 -10.8l0.5 -10.7l-0.1 -10.7l-0.6 -10.8l1.1 -10.7l3.3 -10.2l0.2 -0.5l3.9 -10.7l0.8 -10.8l-0.8 -10.7zM1846.9 39l-7.8 1.7l-11 1.3l-11 -0.4l-10.9 -1.3l-7.1 9.5l-3.9 4.5l-2.3 6.2l-4.3 10.7l-1.2 10.7l0.7 10.8l-0.2 10.7l-0.4 10.7l2.7 10.8l5 6.2l11 -1l10.9 -4l11 0.9l11 1.8l11 -0.4l11 -0.5l10.9 1l11 1.7l11 0.9l11 -1.8l5.6 -4.8l5.3 -9.9l0.5 -0.9l10.5 -9.1l2.2 -1.6l7.2 -10.7l0.8 -10.8l-2.8 -10.7l-7.4 -8.1l-11 -2.6l-10.9 1.1l-11 1.2l-11 -0.6l-4.8 -1.7l-6.2 -5l-2.6 -5.7l-8.3 -10l-5.5 -0.8l-5.5 -0.7zM1641.5 208.8l11 -3l10.9 -2.4l11 -1l11 4.5l4 3.8l7 7.9l4.9 2.8l6 3.9l11 0l11 -3l2.5 -0.9l8.5 -3.1l11 -1.4l5.4 4.5l2.8 10.7l-0.8 10.8l0.5 10.7l3 9.5l0.3 1.2l-0.3 1.9l-1.9 8.8l-9 7.3l-5.1 3.5l-5.9 6.7l-2.7 4l-8.3 0l-11 0l-11 0l-10.9 0l-6 0l-0.4 -10.7l-0.7 -10.8l-0.8 -10.7l0.5 -10.7l2.8 -10.7l0.3 -10.8l-5.8 -10.7l-0.9 -1.1l-10 -9.6l-1 -0.5l-11 0.2l-1.2 0.3l-9.7 6l-5.1 4.7l-5.3 10.7l-0.6 0.6l-7.2 10.2l-3.8 6.4l-2 4.3l-1.1 10.7l2 10.7l1.1 2.5l5.6 8.3l5.4 6.3l4.5 4.4l-4.5 0l-11 0l-8.3 0l-2.5 -10.7l-0.2 -0.8l-1.3 -10l-1.2 -10.7l0.6 -10.7l1.9 -5l2.6 -5.7l5.8 -10.8l2.6 -9.9l0.3 -0.8l6.8 -10.7z"/>
<path fill="#30ffc7" stroke="#30ffc7" stroke-width="0.6" d="M1520.7 28.3l5.2 0l-2 10.7l-2.9 10.8l-0.3 1.2l-2.6 9.5l-1.9 10.7l-0.7 10.7l0 10.8l0.3 10.7l0.2 10.7l0.2 10.8l0 10.7l-0.4 10.7l-1.6 10.7l-3.5 10.8l-1 2.4l-3.2 8.3l-3.3 10.7l-3.2 10.7l-1.3 2.6l-10.9 7.3l-2.5 0.9l-8.5 2.9l-11 6.2l-3.2 1.6l-7.8 3.7l-10.9 6l-2 1l-9 3.6l-11 0.4l-11 -1.5l-11 -0.8l-10.9 0.3l-11 1.7l-11 3l0 -6.7l0 -10.7l0 -2.5l5.7 2.5l5.3 1.3l11 1.8l10.9 0.3l11 -0.5l11 -1.4l5.5 -1.5l5.5 -2.8l11 -3.2l10.9 -1.5l7.1 -3.2l3.9 -2.1l11 -6l7.5 -2.7l3.5 -1.4l7.3 -9.3l3.6 -9.2l0.5 -1.5l3.7 -10.7l4.3 -10.8l2.5 -7.9l0.6 -2.8l1 -10.7l0 -10.7l-0.4 -10.8l-0.4 -10.7l-0.2 -10.7l0.1 -10.8l0.7 -10.7l1.4 -10.7l2.1 -10.7l2.8 -10.8l2.6 -10.7zM1784.2 28.3l4.1 0l0.8 10.7l-0.8 10.8l-3.9 10.7l-0.2 0.5l-3.3 10.2l-1.1 10.7l0.6 10.8l0.1 10.7l-0.5 10.7l-0.4 10.8l-0.4 10.7l0.3 10.7l0.4 10.7l-1.1 10.8l-1.2 10.7l1.2 10.7l5.4 7.5l11 -0.7l6.5 -6.8l4.5 -4.8l4.7 -5.9l6.2 -6.7l3.8 -4l7.2 -10.5l0.4 -0.3l10.6 -6.3l11 -0.1l11 1l10.9 -0.2l11 -0.7l11 -0.2l11 0.5l10.9 1l11 0.8l11 0.1l11 -0.6l11 -0.7l10.9 1.4l5.8 4l5.2 5.1l4.1 5.7l6.9 6.9l0 3.8l0 10.7l0 8.2l-7.1 -8.2l-3.9 -4l-6.2 -6.7l-4.8 -5.1l-10.9 -2.6l-11 2.7l-11 0.9l-11 -0.8l-11 -0.2l-10.9 0.1l-11 0l-11 0l-11 0.5l-10.9 -0.2l-11 -1.9l-11 0.4l-8.8 6.2l-2.2 1.4l-9.3 9.3l-1.7 2l-6.2 8.7l-4.7 5.9l-6.1 4.9l-4.9 3.6l-11 6.4l-0.8 0.7l-3.5 10.7l1.7 10.8l0.1 10.7l-3.5 10.7l-3 10.7l-2 4.4l-4.6 6.4l-6.4 6.4l-5 4.3l-5.9 0l-11 0l-2.7 0l2.7 -4l5.9 -6.7l5.1 -3.5l9 -7.3l1.9 -8.8l0.3 -1.9l-0.3 -1.2l-3 -9.5l-0.5 -10.7l0.8 -10.8l-2.8 -10.7l-5.4 -4.5l-11 1.4l-8.5 3.1l-2.5 0.9l-11 3l-11 0l-6 -3.9l-4.9 -2.8l-7 -7.9l-4 -3.8l-11 -4.5l-11 1l-10.9 2.4l-11 3l-3.9 1.9l-6.8 10.7l-0.3 0.8l-2.6 9.9l-5.8 10.8l-2.6 5.7l-1.9 5l-0.6 10.7l1.2 10.7l1.3 10l0.2 0.8l2.5 10.7l-2.7 0l-11 0l-1.5 0l0.6 -10.7l0.2 -10.8l-0.9 -10.7l0.5 -10.7l1.1 -3l3 -7.7l5.4 -10.8l2.6 -8.3l0.8 -2.4l5.3 -10.7l4.9 -3.4l11 -5.2l7.8 -2.2l3.2 -0.6l10.9 -2l11 -1.6l11 2.1l3.3 2.1l7.7 7.2l4.4 3.6l6.5 4.1l11 0.3l11 -3.9l1 -0.5l10 -9.4l3 -1.4l8 -4.2l7.5 -6.5l2.7 -10.7l-1.3 -10.7l-3.7 -10.8l-1.2 -10.7l6.9 -9.1l1 -1.6l7.5 -10.7l2.5 -8.5l0.4 -2.3l0.4 -10.7l-0.6 -10.7l-0.2 -2.4l-0.8 -8.4l0.8 -4.1l0.7 -6.6l3.5 -10.7l3.2 -10.7l0.5 -10.8l-0.6 -10.7z"/>
<path fill="#63ff94" stroke="#63ff94" stroke-width="0.6" d="M1529.3 39l-3.1 10.8l-2.9 10.7l-2 10.7l-0.6 9.6l-0.1 1.1l0.1 4.2l0.1 6.6l0.3 10.7l0 10.7l0 10.8l0 10.7l0.1 10.7l-0.4 10.7l-0.1 0.7l-2.3 10.1l-4.3 10.7l-3.9 10.7l-0.5 1.8l-2.5 8.9l-4.8 10.8l-3.7 4.4l-10.9 5.2l-2.9 1.1l-8.1 3.4l-11 5.2l-4.4 2.1l-6.6 3.4l-10.9 6.5l-2.2 0.9l-8.8 3.8l-11 0.6l-11 -1.7l-11 -2l-10.9 0.9l-11 8.8l-0.3 0.3l0.3 1.4l1.5 9.3l0.2 10.7l-1.7 1.9l-11 8.8l0 -10.7l0 -10.7l0 -10.7l0 -10.7l0 -4.1l11 -3l11 -1.7l10.9 -0.3l11 0.8l11 1.5l11 -0.4l9 -3.6l2 -1l10.9 -6l7.8 -3.7l3.2 -1.6l11 -6.2l8.5 -2.9l2.5 -0.9l10.9 -7.3l1.3 -2.6l3.2 -10.7l3.3 -10.7l3.2 -8.3l1 -2.4l3.5 -10.8l1.6 -10.7l0.4 -10.7l0 -10.7l-0.2 -10.8l-0.2 -10.7l-0.3 -10.7l0 -10.8l0.7 -10.7l1.9 -10.7l2.6 -9.5l0.3 -1.2l2.9 -10.8l2 -10.7l5.6 0zM1781.1 39l-0.5 10.8l-3.2 10.7l-3.5 10.7l-0.7 6.6l-0.8 4.1l0.8 8.4l0.2 2.4l0.6 10.7l-0.4 10.7l-0.4 2.3l-2.5 8.5l-7.5 10.7l-1 1.6l-6.9 9.1l1.2 10.7l3.7 10.8l1.3 10.7l-2.7 10.7l-7.5 6.5l-8 4.2l-3 1.4l-10 9.4l-1 0.5l-11 3.9l-11 -0.3l-6.5 -4.1l-4.4 -3.6l-7.7 -7.2l-3.3 -2.1l-11 -2.1l-11 1.6l-10.9 2l-3.2 0.6l-7.8 2.2l-11 5.2l-4.9 3.4l-5.3 10.7l-0.8 2.4l-2.6 8.3l-5.4 10.8l-3 7.7l-1.1 3l-0.5 10.7l0.9 10.7l-0.2 10.8l-0.6 10.7l-9.4 0l-1.3 0l0.7 -10.7l0.1 -10.8l-1.3 -10.7l0.6 -10.7l1.2 -2l3.5 -8.7l5.5 -10.8l1.9 -6.1l1.4 -4.6l4.8 -10.7l4.8 -3.2l11 -7.1l0.9 -0.5l10.1 -3.3l11 -2.3l10.9 -2.3l11 -2.3l11 -0.1l11 4.2l9.6 6.1l1.3 1l3.4 -1l1.6 -10.7l5.3 -10.7l0.7 -0.7l11 -8.4l2.5 -1.6l4.2 -10.8l-0.4 -10.7l1.3 -10.7l3.4 -3.5l11 -4.8l4 -2.4l6.9 -5.9l2 -4.9l-0.1 -10.7l-1.9 -9.1l-1 -1.6l-3.3 -10.8l4.3 -6.4l1.1 -4.3l5.8 -10.7l4.1 -9.3l0.4 -1.4l0.7 -10.8l-0.4 -10.7l6.6 0zM1839.1 172.3l11 -0.4l11 1.9l10.9 0.2l11 -0.5l11 0l11 0l10.9 -0.1l11 0.2l11 0.8l11 -0.9l11 -2.7l10.9 2.6l4.8 5.1l6.2 6.7l3.9 4l7.1 8.2l0 2.5l0 10.8l0 2.4l-5.6 -2.4l-5.4 -3.9l-7.6 -6.9l-3.4 -3.7l-10.9 -3.2l-11 1.3l-11 0.4l-11 -0.3l-11 0.7l-10.9 1.2l-11 0.4l-11 -0.2l-11 -0.1l-10.9 -0.4l-11 -1.4l-11 0.4l-8.4 4.9l-2.6 1.7l-7.6 9.1l-3.4 3.9l-6.4 6.8l-4.5 5.4l-4.4 5.3l-2.3 10.8l-2.6 10.7l-1.7 3.3l-4.4 7.4l-4.6 10.7l-2 10.6l0 0.2l-1.5 10.7l-9.5 0l-11 0l-5 0l5 -4.3l6.4 -6.4l4.6 -6.4l2 -4.4l3 -10.7l3.5 -10.7l-0.1 -10.7l-1.7 -10.8l3.5 -10.7l0.8 -0.7l11 -6.4l4.9 -3.6l6.1 -4.9l4.7 -5.9l6.2 -8.7l1.7 -2l9.3 -9.3l2.2 -1.4z"/>
<path fill="#97ff60" stroke="#97ff60" stroke-width="0.6" d="M1531.7 28.3l5.3 0l-2.3 10.7l-3 9.4l-0.4 1.4l-3.2 10.7l-2 10.7l-0.6 10.7l0.4 10.8l0.2 10.7l-0.1 10.7l-0.2 10.8l0 10.7l0.4 10.7l0.6 10.7l-0.7 10.8l-3.8 10.7l-1.6 2.6l-3.3 8.1l-3.4 10.7l-3.3 10.8l-1 2.1l-6.3 8.6l-4.7 4.2l-10.9 5.2l-3.1 1.3l-7.9 3.5l-11 4.7l-4.9 2.6l-6.1 3.9l-10.2 6.8l-0.7 0.8l-11 7.4l-11 -0.1l-11 -1.3l-10.5 3.9l-0.5 1l-1.8 9.7l-8.1 10.8l-1 0.6l-11 9.8l-0.4 0.3l-10.6 0l0 -10.7l0 -0.1l11 -8.8l1.7 -1.9l-0.2 -10.7l-1.5 -9.3l-0.3 -1.4l0.3 -0.3l11 -8.8l10.9 -0.9l11 2l11 1.7l11 -0.6l8.8 -3.8l2.2 -0.9l10.9 -6.5l6.6 -3.4l4.4 -2.1l11 -5.2l8.1 -3.4l2.9 -1.1l10.9 -5.2l3.7 -4.4l4.8 -10.8l2.5 -8.9l0.5 -1.8l3.9 -10.7l4.3 -10.7l2.3 -10.1l0.1 -0.7l0.4 -10.7l-0.1 -10.7l0 -10.7l0 -10.8l0 -10.7l-0.3 -10.7l-0.1 -6.6l-0.1 -4.2l0.1 -1.1l0.6 -9.6l2 -10.7l2.9 -10.7l3.1 -10.8l2.2 -10.7zM1740.3 28.3l11 0l10.9 0l11 0l0.7 0l0.4 10.7l-0.7 10.8l-0.4 1.4l-4.1 9.3l-5.8 10.7l-1.1 4.3l-4.3 6.4l3.3 10.8l1 1.6l1.9 9.1l0.1 10.7l-2 4.9l-6.9 5.9l-4 2.4l-11 4.8l-3.4 3.5l-1.3 10.7l0.4 10.7l-4.2 10.8l-2.5 1.6l-11 8.4l-0.7 0.7l-5.3 10.7l-1.6 10.7l-3.4 1l-1.3 -1l-9.6 -6.1l-11 -4.2l-11 0.1l-11 2.3l-10.9 2.3l-11 2.3l-10.1 3.3l-0.9 0.5l-11 7.1l-4.8 3.2l-4.8 10.7l-1.4 4.6l-1.9 6.1l-5.5 10.8l-3.5 8.7l-1.2 2l-0.6 10.7l1.3 10.7l-0.1 10.8l-0.7 10.7l-9.7 0l-6 0l0.5 -10.7l-0.6 -10.8l-2.6 -10.7l1.2 -10.7l7.5 -7.5l1.9 -3.2l7.1 -10.8l2 -8.1l0.5 -2.6l1.8 -10.7l8.6 -5.2l10.5 -5.6l0.5 -0.1l11 -4.8l11 -3.4l11 -2.2l0.6 -0.2l10.3 -4.2l11 -5.1l6.4 -1.4l4.6 -2.8l11 0.3l10.9 -5.4l3 -2.8l7.3 -10.8l-1.3 -10.7l-4.8 -10.7l-1.9 -10.7l5.3 -10.8l3.4 -3l11 -7.4l0.5 -0.3l5.3 -10.7l-0.8 -10.8l1.5 -10.7l4.5 -4.3l11 -4.8l2.4 -1.6l8.5 -8.6l1 -2.1l-0.9 -10.8l-0.1 0l-10.9 -1.4l-11 -2.2l-5.9 -7.1zM1839.1 195l11 -0.4l11 1.4l10.9 0.4l11 0.1l11 0.2l11 -0.4l10.9 -1.2l11 -0.7l11 0.3l11 -0.4l11 -1.3l10.9 3.2l3.4 3.7l7.6 6.9l5.4 3.9l5.6 2.4l0 8.3l0 2.6l-10.9 -2.6l-0.1 0l-11 -2.7l-5.4 2.7l-5.5 4.9l-2.9 5.8l-8.1 10.2l-1.2 0.6l-9.8 2.8l-11 -2.2l-1.4 -0.6l-9.5 -10.8l-0.1 0l-4.8 -10.7l-6.1 -4.4l-11 -1.5l-11 0.8l-11 1.8l-10.9 0.9l-11 -1.7l-11 -0.1l-6.4 4.2l-4.6 3.2l-6.6 7.5l-4.4 4.7l-3.9 6.1l-5.7 10.7l-1.3 2.2l-4.6 8.5l-4.9 10.7l-0.6 10.8l1.4 10.7l-2.3 0l-11 0l-1.5 0l1.5 -10.7l0 -0.2l2 -10.6l4.6 -10.7l4.4 -7.4l1.7 -3.3l2.6 -10.7l2.3 -10.8l4.4 -5.3l4.5 -5.4l6.4 -6.8l3.4 -3.9l7.6 -9.1l2.6 -1.7z"/>
<path fill="#caff2c" stroke="#caff2c" stroke-width="0.6" d="M1540.2 39l-3.3 10.8l-3.6 10.7l-1.6 6.6l-0.8 4.1l-0.4 10.7l0.5 10.8l0.2 10.7l-0.4 10.7l-0.4 10.8l0 10.7l0.9 10.7l0.4 3.2l1.3 7.5l1.2 10.8l-0.9 10.7l-1.6 2.8l-3.7 7.9l-7.2 10.7l-0.1 0.1l-2.4 10.7l-2.7 10.7l-5.9 9.3l-1.7 1.4l-9.3 6.5l-10.9 3.9l-1 0.4l-10 3.7l-11 5.2l-2.6 1.8l-8.4 8.7l-1.8 2l-5.8 10.7l-3.3 4.8l-11 4.9l-2.3 1.1l-7.5 10.7l-1.2 0l-11 0l-11 0l-10.9 0l-11 0l-0.4 0l0.4 -0.3l11 -9.8l1 -0.6l8.1 -10.8l1.8 -9.7l0.5 -1l10.5 -3.9l11 1.3l11 0.1l11 -7.4l0.7 -0.8l10.2 -6.8l6.1 -3.9l4.9 -2.6l11 -4.7l7.9 -3.5l3.1 -1.3l10.9 -5.2l4.7 -4.2l6.3 -8.6l1 -2.1l3.3 -10.8l3.4 -10.7l3.3 -8.1l1.6 -2.6l3.8 -10.7l0.7 -10.8l-0.6 -10.7l-0.4 -10.7l0 -10.7l0.2 -10.8l0.1 -10.7l-0.2 -10.7l-0.4 -10.8l0.6 -10.7l2 -10.7l3.2 -10.7l0.4 -1.4l3 -9.4l2.3 -10.7l5.4 0zM1674.4 28.3l11 0l11 0l10.9 0l11 0l11 0l5.1 0l5.9 7.1l11 2.2l10.9 1.4l0.1 0l0.9 10.8l-1 2.1l-8.5 8.6l-2.4 1.6l-11 4.8l-4.5 4.3l-1.5 10.7l0.8 10.8l-5.3 10.7l-0.5 0.3l-11 7.4l-3.4 3l-5.3 10.8l1.9 10.7l4.8 10.7l1.3 10.7l-7.3 10.8l-3 2.8l-10.9 5.4l-11 -0.3l-4.6 2.8l-6.4 1.4l-11 5.1l-10.3 4.2l-0.6 0.2l-11 2.2l-11 3.4l-11 4.8l-0.5 0.1l-10.5 5.6l-8.6 5.2l-1.8 10.7l-0.5 2.6l-2 8.1l-7.1 10.8l-1.9 3.2l-7.5 7.5l-1.2 10.7l2.6 10.7l0.6 10.8l-0.5 10.7l-5 0l-11 0l-6.3 0l0 -10.7l-0.4 -10.8l-0.9 -10.7l0.5 -10.7l6.8 -10.7l0.3 -0.3l11 -6.7l4.3 -3.8l3.6 -10.7l-2.1 -10.7l-2.1 -10.8l7.3 -7.4l11 2.3l10.9 1.4l11 -2.4l11 -4l1.9 -0.6l9.1 -4.3l11 -3.8l5.9 -2.6l5 -8.7l1.2 -2l7.7 -10.8l2.1 -1.7l11 -6.3l3.6 -2.7l2.1 -10.7l-1.1 -10.7l3.9 -10.8l2.5 -2.3l8.9 -8.4l2 -2l8.2 -8.7l1.2 -10.8l-4.7 -10.7l-4.7 -4.5l-6.5 -6.2l-4.4 -3.5l-8 -7.2l-3 -3.1l-7 -7.7l-4 -4.6l-5.1 -6.1zM1839.1 217.2l11 0.1l11 1.7l10.9 -0.9l11 -1.8l11 -0.8l11 1.5l6.1 4.4l4.8 10.7l0.1 0l9.5 10.8l1.4 0.6l11 2.2l9.8 -2.8l1.2 -0.6l8.1 -10.2l2.9 -5.8l5.5 -4.9l5.4 -2.7l11 2.7l0.1 0l10.9 2.6l0 8.1l0 5.7l-11 -1.4l-11 2.6l-3.8 3.9l-7.1 8.4l-2.3 2.3l-8.7 7.3l-11 1.1l-11 -0.8l-11 0.3l-10.9 1.5l-11 1l-11 -0.5l-11 -5.8l-1.9 -4.1l-5 -10.7l-4 -3.1l-11 -2.4l-11 2.2l-4.8 3.3l-6.2 3.6l-7.4 7.1l-3.6 3.4l-4.5 7.3l-4.8 10.7l-0.6 10.8l1.2 10.7l-2.2 0l-8.7 0l-1.4 -10.7l0.6 -10.8l4.9 -10.7l4.6 -8.5l1.3 -2.2l5.7 -10.7l3.9 -6.1l4.4 -4.7l6.6 -7.5l4.6 -3.2z"/>
<path fill="#feed00" stroke="#feed00" stroke-width="0.6" d="M1542.7 28.3l9 0l-3.7 10.7l-5.3 10.2l-0.2 0.6l-3.5 10.7l-2.5 10.7l-0.5 10.7l0.7 10.8l0.2 10.7l-0.4 10.7l-0.6 10.8l0 10.7l1.3 10.7l2.5 10.7l3 9.3l1 1.5l9.9 9.1l11 1.1l11 -0.7l11 0.5l1.7 0.7l9.3 4.4l10.9 5.3l11 -1.1l11 -5.6l6.6 -3l4.4 -7.7l2.1 -3l8.2 -10.8l0.7 -0.5l10.8 -10.2l0.1 -0.4l5.8 -10.3l-2 -10.7l4.3 -10.8l2.9 -2.5l8.2 -8.2l2.8 -3.4l7.3 -7.3l3.4 -10.8l-4.8 -10.7l-5.9 -5.9l-6.2 -4.8l-4.8 -4.9l-4.4 -5.8l-6.6 -7.1l-9.8 -3.7l-1.1 -0.4l-1.4 0.4l-9.6 2.9l-8.4 -2.9l-2.6 -1.2l-6.8 -9.5l6.8 0l11 0l11 0l10.9 0l5.9 0l5.1 6.1l4 4.6l7 7.7l3 3.1l8 7.2l4.4 3.5l6.5 6.2l4.7 4.5l4.7 10.7l-1.2 10.8l-8.2 8.7l-2 2l-8.9 8.4l-2.5 2.3l-3.9 10.8l1.1 10.7l-2.1 10.7l-3.6 2.7l-11 6.3l-2.1 1.7l-7.7 10.8l-1.2 2l-5 8.7l-5.9 2.6l-11 3.8l-9.1 4.3l-1.9 0.6l-11 4l-11 2.4l-10.9 -1.4l-11 -2.3l-7.3 7.4l2.1 10.8l2.1 10.7l-3.6 10.7l-4.3 3.8l-11 6.7l-0.3 0.3l-6.8 10.7l-0.5 10.7l0.9 10.7l0.4 10.8l0 10.7l-4.7 0l-10.9 0l-11 0l-11 0l-9.2 0l-1.8 -2.5l-8 -8.2l-3 -2.3l-6.9 -8.5l-4 -10.4l-0.3 -0.3l-10.7 -3.6l-5.8 3.6l-5.2 6.7l-1.8 4l1 10.8l0.8 2.2l2.9 8.5l-2.9 0l-11 0l-10.9 0l-11 0l-9.8 0l7.5 -10.7l2.3 -1.1l11 -4.9l3.3 -4.8l5.8 -10.7l1.8 -2l8.4 -8.7l2.6 -1.8l11 -5.2l10 -3.7l1 -0.4l10.9 -3.9l9.3 -6.5l1.7 -1.4l5.9 -9.3l2.7 -10.7l2.4 -10.7l0.1 -0.1l7.2 -10.7l3.7 -7.9l1.6 -2.8l0.9 -10.7l-1.2 -10.8l-1.3 -7.5l-0.4 -3.2l-0.9 -10.7l0 -10.7l0.4 -10.8l0.4 -10.7l-0.2 -10.7l-0.5 -10.8l0.4 -10.7l0.8 -4.1l1.6 -6.6l3.6 -10.7l3.3 -10.8l2.2 -10.7zM1839.1 239.6l11 -2.2l11 2.4l4 3.1l5 10.7l1.9 4.1l11 5.8l11 0.5l11 -1l10.9 -1.5l11 -0.3l11 0.8l11 -1.1l8.7 -7.3l2.3 -2.3l7.1 -8.4l3.8 -3.9l11 -2.6l11 1.4l0 5.1l0 10.7l0 10.7l0 10.7l0 10.8l0 10.7l-11 0l-11 0l-10.9 0l-11 0l-11 0l-11 0l-11 0l-10.9 0l-11 0l-11 0l-11 0l-2.5 0l-8.4 -9.2l-2.1 -1.5l-8.9 -8.9l-1.4 -1.9l-5.4 -10.7l-4.2 -2.7l-10.5 2.7l-0.5 0.2l-6.9 10.5l-0.6 10.8l2.1 10.7l-5.6 0l-8.7 0l-1.2 -10.7l0.6 -10.8l4.8 -10.7l4.5 -7.3l3.6 -3.4l7.4 -7.1l6.2 -3.6z"/>
<path fill="#ffb200" stroke="#ffb200" stroke-width="0.6" d="M1553.6 28.3l11 0l11 0l11 0l11 0l10.9 0l11 0l4.2 0l6.8 9.5l2.6 1.2l8.4 2.9l9.6 -2.9l1.4 -0.4l1.1 0.4l9.8 3.7l6.6 7.1l4.4 5.8l4.8 4.9l6.2 4.8l5.9 5.9l4.8 10.7l-3.4 10.8l-7.3 7.3l-2.8 3.4l-8.2 8.2l-2.9 2.5l-4.3 10.8l2 10.7l-5.8 10.3l-0.1 0.4l-10.8 10.2l-0.7 0.5l-8.2 10.8l-2.1 3l-4.4 7.7l-6.6 3l-11 5.6l-11 1.1l-10.9 -5.3l-9.3 -4.4l-1.7 -0.7l-11 -0.5l-11 0.7l-11 -1.1l-9.9 -9.1l-1 -1.5l-3 -9.3l-2.5 -10.7l-1.3 -10.7l0 -10.7l0.6 -10.8l0.4 -10.7l-0.2 -10.7l-0.7 -10.8l0.5 -10.7l2.5 -10.7l3.5 -10.7l0.2 -0.6l5.3 -10.2l3.7 -10.7zM1596.1 39l-9.5 2.3l-11 -0.3l-11 0l-11 6.3l-1.2 2.5l-5.8 10.7l-3.9 9l-0.4 1.7l-0.5 10.7l0.6 10.8l0.2 10.7l-0.3 10.7l-0.6 10.8l-0.1 10.7l1.1 7.4l0.8 3.3l5.3 10.7l4.8 6.2l11 4.1l11 0.3l11 0.1l0.4 0.1l10.6 2.8l10.9 7l11 -1.2l4.9 -8.6l2.9 -10.8l3.2 -2.9l11 -6.6l1.5 -1.2l5.9 -10.7l-2.1 -10.7l0.6 -10.8l5.1 -3.7l10.9 -6.2l0.9 -0.8l6.6 -10.7l-7.5 -7.5l-7 -3.3l-3.9 -1.9l-6.8 -8.8l-4.2 -6.8l-5.2 -3.9l-5.8 -2.9l-7.4 -7.8l-3.6 -4.1l-8.5 -6.7l-2.5 -1.9l-10.9 1.5zM1476.8 260.7l10.7 3.6l0.3 0.3l4 10.4l6.9 8.5l3 2.3l8 8.2l1.8 2.5l-1.8 0l-11 0l-10.9 0l-11 0l-8.1 0l-2.9 -8.5l-0.8 -2.2l-1 -10.8l1.8 -4l5.2 -6.7zM1839.1 261.6l4.2 2.7l5.4 10.7l1.4 1.9l8.9 8.9l2.1 1.5l8.4 9.2l-8.4 0l-11 0l-11 0l-11 0l-5.4 0l-2.1 -10.7l0.6 -10.8l6.9 -10.5l0.5 -0.2z"/>
<path fill="#ff7700" stroke="#ff7700" stroke-width="0.6" d="M1597.6 38.6l10.9 -1.5l2.5 1.9l8.5 6.7l3.6 4.1l7.4 7.8l5.8 2.9l5.2 3.9l4.2 6.8l6.8 8.8l3.9 1.9l7 3.3l7.5 7.5l-6.6 10.7l-0.9 0.8l-10.9 6.2l-5.1 3.7l-0.6 10.8l2.1 10.7l-5.9 10.7l-1.5 1.2l-11 6.6l-3.2 2.9l-2.9 10.8l-4.9 8.6l-11 1.2l-10.9 -7l-10.6 -2.8l-0.4 -0.1l-11 -0.1l-11 -0.3l-11 -4.1l-4.8 -6.2l-5.3 -10.7l-0.8 -3.3l-1.1 -7.4l0.1 -10.7l0.6 -10.8l0.3 -10.7l-0.2 -10.7l-0.6 -10.8l0.5 -10.7l0.4 -1.7l3.9 -9l5.8 -10.7l1.2 -2.5l11 -6.3l11 0l11 0.3l9.5 -2.3zM1552.9 71.2l-2.6 10.7l-0.3 10.8l0.7 10.7l1.1 10.7l0.2 10.8l-0.2 10.7l1.8 8.8l1.1 1.9l9.9 7.6l11 2.4l11 -0.7l11 -5.8l2 -3.5l3.5 -10.7l5.4 -5.3l11 -4.3l1.9 -1.1l4.2 -10.8l-0.9 -10.7l-4.1 -10.7l-1.1 -1.3l-10.2 -9.5l-0.8 -0.5l-8.5 -10.2l-2.4 -4.2l-11 -5.4l-11 0l-11 1.2l-11 6.7z"/>
<path fill="#ff3b00" stroke="#ff3b00" stroke-width="0.6" d="M1553.6 69.5l11 -6.7l11 -1.2l11 0l11 5.4l2.4 4.2l8.5 10.2l0.8 0.5l10.2 9.5l1.1 1.3l4.1 10.7l0.9 10.7l-4.2 10.8l-1.9 1.1l-11 4.3l-5.4 5.3l-3.5 10.7l-2 3.5l-11 5.8l-11 0.7l-11 -2.4l-9.9 -7.6l-1.1 -1.9l-1.8 -8.8l0.2 -10.7l-0.2 -10.8l-1.1 -10.7l-0.7 -10.7l0.3 -10.8l2.6 -10.7zM1567.1 81.9l-2.5 1.7l-4.2 9.1l2.6 10.7l1.6 2.4l11 3.1l11 -0.7l11 -1.5l5.8 -3.3l-2 -10.7l-3.8 -4.3l-7.2 -6.5l-3.8 -2.6l-11 -0.4z"/>
<path fill="#e80000" stroke="#e80000" stroke-width="0.6" d="M1575.6 78.9l11 0.4l3.8 2.6l7.2 6.5l3.8 4.3l2 10.7l-5.8 3.3l-11 1.5l-11 0.7l-11 -3.1l-1.6 -2.4l-2.6 -10.7l4.2 -9.1l2.5 -1.7z"/>
<path fill="none" stroke="#000" stroke-width="1.05" stroke-linejoin="round" d="M1362.5 62.3L1367 65.4L1375.9 72.1L1388.5 78.4L1398.3 75.7L1411.7 71.2L1420.6 70.8L1429.6 72.1L1437.6 75.2L1447.5 71.2L1456.4 66.7L1465.3 64.1L1471.6 61.4L1480.5 60.5L1489.5 59.6L1499.3 61.4L1505.6 70.3L1510 78.4L1519.9 78.4L1532.4 76.6L1538.6 83.7L1543.1 95.3L1541.3 105.2L1536.9 114.1L1539.5 123.1L1545.4 134.7L1553 144.5L1561 154.4L1565.5 164.2L1569.9 174.9L1574.4 187.4L1578 199.9L1578.9 208.9L1578 218.7L1572.6 231.2L1568.2 241.1L1565.5 254.5L1562.8 265.2L1563.7 276.8L1565.5 285.8L1569 292.9L1572.6 301M1914.1 23.8L1910.6 28.3L1907 41.7L1895.4 55.1L1883.7 73L1872.1 80.2L1861.4 92.7L1854.2 98L1845.3 107L1838.1 114.1L1828.3 132.9L1818.5 140.1L1811.3 153.5L1806.8 159.7L1804.2 171.3L1807.7 178.5L1807.7 189.2L1811.3 202.6L1817.6 210.7L1818.5 220.5L1818.5 229.4L1819.4 242.9L1816.7 253.6L1809.5 263.4L1796.1 272.4L1787.2 276.8L1778.2 285.8L1771.1 293.8L1767.5 301M1897.1 225L1902.5 236.6L1906.1 253.6L1903.4 260.7L1900.7 267.9L1898 276.8L1894.5 287.6L1890.9 301L1852.4 301L1852.4 287.6L1849.8 278.6L1852.4 269.7L1854.2 263.4L1861.4 260.7L1870.3 258.1L1878.4 251.8L1884.6 244.6L1889.1 237.5L1894.5 228.6L1897.1 225M1740.7 120.4L1747 115.9L1755.9 115L1761.3 119.5L1760.4 126.6L1757.7 135.6L1751.4 140.1L1742.5 140.1L1738.9 131.1L1740.7 124.9L1740.7 120.4M1716.6 147.2L1719.2 147.2L1721 157.9L1723.7 170.4L1730 180.3L1735.3 191.9L1733.5 195.5L1729.1 191.9L1725.5 181.2L1720.1 172.2L1717.4 160.6L1716.6 147.2M1761.3 202.6L1763.9 203.5L1766.6 216L1769.3 225L1772 236.6L1771.1 245.5L1768.4 245.5L1764.8 236.6L1762.1 225L1760.4 213.4L1761.3 202.6M1729.1 107L1737.1 98L1734.4 97.1L1727.3 105.2L1729.1 107M1777.3 76.6L1780.9 88.2L1783.6 95.3L1780 90.9L1776.5 81.9L1777.3 76.6M1715.7 132.9L1718.3 132.9L1718.3 140.9L1715.7 139.2L1715.7 132.9M1454.6 60.5L1458.2 53.3L1456.4 46.2L1451 40.8L1445.7 43.5L1452.8 49.8L1454.6 60.5M1711.2 194.6L1716.6 193.7L1717.4 201.7L1713 200.8L1711.2 194.6M1696 277.7L1706.7 271.5L1715.7 266.1L1712.1 268.8L1702.2 275L1696 277.7"/><path fill="none" stroke="#000" stroke-width="0.8" stroke-linejoin="round" d="M1389.3 78.4L1388.5 68.5L1381.3 60.5L1380.4 49.8L1383.1 41.7L1385.8 23.8M1380.4 49.8L1371.5 41.7L1364.3 41.7L1358.1 39.9M1428.7 72.1L1431.4 55.1L1434 44.4L1432.3 32.8L1431.4 23.8M1467.1 63.2L1461.8 56L1460.9 43.5L1459.1 23.8M1470.7 62.3L1470.7 37.2L1468.9 23.8M1480.5 60.5L1480.5 37.2L1488.6 23.8M1533.3 76.6L1542.2 59.6L1554.7 58.7L1563.7 46.2L1572.6 32.8L1577.1 23.8M1544 98L1557.4 97.1L1575.3 98L1586 98.9L1599.4 102.5L1601.2 97.1L1604.8 86.4L1622.7 86.4M1557.4 97.1L1557.4 108.8L1541.3 108.8M1557.4 97.1L1572.6 105.2L1581.6 105.2L1585.1 132L1581.6 139.2L1568.2 139.2L1559.2 149L1556.5 152.6M1586 23.8L1586 59.6L1590.5 73L1599.4 98M1565.5 164.2L1572.6 169.6L1593.2 156.1L1601.2 137.4L1614.6 122.2L1618.2 113.2L1622.7 86.4L1630.7 73L1644.1 79.3L1660.2 75.7L1675.4 72.1L1688.8 71.2L1701.4 72.1L1715.7 78.4L1732.6 86.4L1751.4 83.7L1760.4 80.2M1569.9 171.3L1599.4 171.3L1603.9 184.8L1612.8 190.1L1626.3 189.2L1630.7 180.3L1651.3 183L1651.3 202.6L1655.8 216L1671 216L1682.6 217.8L1693.3 224.1L1699.6 221.4L1710.3 227.7L1715.7 237.5L1722.8 235.7L1722.8 226.8L1711.2 216L1711.2 202.6L1730.9 191.9M1671 216L1671 233.9L1653.1 233.9L1653.1 262.5L1664.7 274.1L1681.7 276.8M1562.8 272.4L1577.1 269.7L1621.8 273.3L1644.1 281.3L1664.7 274.1M1644.1 281.3L1644.1 314.4M1681.7 276.8L1697.8 277.7L1711.2 265.2L1728.2 257.2L1750.5 267L1750.5 283.1L1747.8 301M1681.7 276.8L1688.8 283.1L1702.2 301M1728.2 257.2L1726.4 248.2L1750.5 239.3L1753.2 229.4L1754.1 214.3L1751.4 202.6L1750.5 201.7L1735.3 194.6M1748.7 239.3L1759.5 246.4L1764.8 248.2L1772 261.6L1771.1 270.6L1776.5 260.7L1777.3 249.1L1772 238.4M1768.4 220.5L1787.2 221.4L1800.6 218.7L1817.6 210.7M1732.6 86.4L1736.2 98M1727.3 106.1L1723.7 113.2L1721 130.2L1715.7 130.2M1721 130.2L1729.1 126.6L1760.4 126.6L1792.5 144.5L1806.8 158.8M1729.1 126.6L1731.8 139.2L1728.2 143.6L1731.8 147.2L1724.6 156.1L1719.2 157.9M1715.7 139.2L1723.7 142.7L1728.2 143.6M1760.4 126.6L1760.4 115.9L1764.8 108.8L1769.3 99.8L1763.9 80.2L1777.3 76.6L1785.4 78.4L1796.1 85.5L1805.1 86.4L1814 80.2L1831 81.9L1822.9 90.9L1822.9 126.6L1828.3 132.9M1831 81.9L1845.3 77.5L1858.7 73L1872.1 59.6L1884.6 46.2L1867.6 42.6L1849.8 37.2L1839 28.3L1836.3 23.8M1777.3 76.6L1766.6 59.6L1751.4 48L1753.2 42.6L1761.3 40.8L1761.3 23.8M1595 50.6L1617.3 46.2L1626.3 37.2L1648.6 23.8M1666.5 39.9L1679.9 26.5L1688.8 23.8M1701.4 72.1L1684.4 55.1L1666.5 39.9L1657.5 23.8"/>
<path fill="none" stroke="#000" stroke-width="1.7" d="M1367 28.3l14.8 0M1389.3 28.3l11.3 0M1411.7 28.3l7.8 0M1434 28.3l7.8 0M1456.4 28.3l7.8 0M1478.8 28.3l4.1 0.5M1501.1 28.3l0.7 0.3M1523.5 28.3l7.6 0.7M1545.8 28.3l14.8 0M1568.2 28.3l14.8 0M1590.5 28.3l14.8 0M1612.8 28.3l14.8 -7.2M1635.2 28.3l15.4 -15.4M1657.5 28.3l15.4 -15.4M1679.9 28.3l15.4 -15.4M1702.2 28.3l7.5 -18.2M1724.6 28.3l0 -21.8M1747 28.3l0 -18.3M1769.3 28.3l0 -14.8M1814 28.3l0 7.8M1836.3 28.3l0 7.8M1858.7 28.3l0 7.8M1881 28.3l0 7.8M1903.4 28.3l0 7.8M1925.8 28.3l0 7.8M1948.1 28.3l0 7.8M1970.4 28.3l0 7.8M1992.8 28.3l0 7.8M1367 50.6l18.3 0M1389.3 50.6l16.5 0M1411.7 50.6l14.8 0M1434 50.6l13 0M1456.4 50.6l11.3 0M1478.8 50.6l5.9 0.3M1501.1 50.6l0.7 0.1M1523.5 50.6l0.6 0.3M1545.8 50.6l0.9 0.8M1568.2 50.6l4 -4.6M1590.5 50.6l8 -17.9M1612.8 50.6l11 -20.3M1635.2 50.6l14.1 -22.7M1657.5 50.6l13 -20.2M1679.9 50.6l11.8 -17.7M1702.2 50.6l5.8 -19.5M1724.6 50.6l0 -21.8M1747 50.6l-1.5 -17.9M1769.3 50.6l-2.8 -14.1M1814 50.6l0 7.8M1836.3 50.6l0 9.6M1858.7 50.6l0 11.3M1881 50.6l0 9.6M1903.4 50.6l0 7.8M1925.8 50.6l0 7.8M1948.1 50.6l0 7.8M1970.4 50.6l0.7 7.6M1992.8 50.6l1.5 7.4M1367 73l21.8 0M1389.3 73l21.8 0M1411.7 73l21.8 0M1434 73l18.3 0M1456.4 73l14.8 0M1478.8 73l7.8 0M1501.1 73l0.8 0M1523.5 73l-0.1 0.5M1545.8 73l-5.5 5.5M1568.2 73l-3.4 -12.6M1590.5 73l0 -40.8M1612.8 73l6.4 -35.5M1635.2 73l12.6 -30.5M1657.5 73l10.5 -25.3M1679.9 73l8.3 -20.1M1702.2 73l4.1 -20.9M1724.6 73l0 -21.8M1747 73l-3 -17.6M1769.3 73l-5.7 -13.7M1814 73l0 7.8M1836.3 73l0 11.3M1858.7 73l0 14.8M1881 73l0 11.3M1903.4 73l0 7.8M1925.8 73l0 7.8M1948.1 73l0 7.8M1970.4 73l1.5 7.4M1992.8 73l3 7.2M1367 95.3l12.6 -6.8M1389.3 95.3l12.6 -6.8M1411.7 95.3l12.6 -6.8M1434 95.3l11.8 -7.9M1456.4 95.3l11.1 -9M1478.8 95.3l6.3 -2.1M1501.1 95.3l3.1 1.8M1523.5 95.3l0.5 -2.7M1545.8 95.3l-3.6 -16.4M1568.2 95.3l-2 -28.6M1590.5 95.3l0 -40.8M1612.8 95.3l6.4 -35.5M1635.2 95.3l12.6 -30.5M1657.5 95.3l12.3 -24M1679.9 95.3l11.8 -17.7M1702.2 95.3l5.7 -17.8M1724.6 95.3l0 -18.3M1747 95.3l-3.1 -13.5M1769.3 95.3l-5.7 -9.4M1814 95.3l0.7 1.5M1836.3 95.3l1.5 6M1858.7 95.3l1.7 10.8M1881 95.3l1.6 9.1M1903.4 95.3l1.5 7.4M1925.8 95.3l1.5 7.4M1948.1 95.3l1.5 7.4M1970.4 95.3l2.8 6.7M1992.8 95.3l4.2 6.3M1367 117.7l5.7 -13.7M1389.3 117.7l5.7 -13.7M1411.7 117.7l5.7 -13.7M1434 117.7l7 -16.9M1456.4 117.7l8.3 -20.1M1478.8 117.7l5.4 -4.2M1501.1 117.7l5.5 5.5M1523.5 117.7l3.6 -16.4M1545.8 117.7l0 -48.7M1568.2 117.7l0 -44.8M1590.5 117.7l0 -40.8M1612.8 117.7l6.4 -35.5M1635.2 117.7l12.6 -30.5M1657.5 117.7l14.1 -22.7M1679.9 117.7l15.4 -15.4M1702.2 117.7l7.2 -14.8M1724.6 117.7l0 -14.8M1747 117.7l-3.1 -9.5M1769.3 117.7l-5.5 -5.5M1791.7 117.7l-0.1 -0.5M1814 117.7l0.8 0M1836.3 117.7l1.9 2M1858.7 117.7l3 7.2M1881 117.7l3 7.2M1903.4 117.7l3 7.2M1925.8 117.7l3 7.2M1948.1 117.7l3 7.2M1970.4 117.7l4.2 6.3M1992.8 117.7l5.5 5.5M1367 140.1l7 -16.9M1389.3 140.1l7 -16.9M1411.7 140.1l7 -16.9M1434 140.1l7.7 -18.5M1456.4 140.1l8.3 -20.1M1478.8 140.1l7.6 -9.4M1501.1 140.1l6.3 -1.3M1523.5 140.1l4.9 -22.6M1545.8 140.1l0 -48.7M1568.2 140.1l0 -44.8M1590.5 140.1l0 -40.8M1612.8 140.1l5.4 -32.9M1635.2 140.1l10.5 -25.3M1657.5 140.1l16.4 -19.5M1679.9 140.1l22.7 -14.1M1702.2 140.1l18.5 -10.8M1724.6 140.1l14.1 -7.6M1747 140.1l11.5 -5.2M1769.3 140.1l8.8 -3M1791.7 140.1l12.7 -1.7M1814 140.1l16.9 0M1836.3 140.1l13.4 4.1M1858.7 140.1l10.7 8.1M1881 140.1l10.7 8.1M1903.4 140.1l10.7 8.1M1925.8 140.1l10.7 8.1M1948.1 140.1l10.7 8.1M1970.4 140.1l11.6 7.6M1992.8 140.1l12.5 7.2M1367 162.4l8.3 -20.1M1389.3 162.4l8.3 -20.1M1411.7 162.4l8.3 -20.1M1434 162.4l8.3 -20.1M1456.4 162.4l8.3 -20.1M1478.8 162.4l9.5 -15.1M1501.1 162.4l10.5 -10.5M1523.5 162.4l6.1 -28.8M1545.8 162.4l0 -48.7M1568.2 162.4l0 -44.8M1590.5 162.4l0 -40.8M1612.8 162.4l4.5 -30.3M1635.2 162.4l8.3 -20.1M1657.5 162.4l18.8 -16.4M1679.9 162.4l30.5 -12.6M1702.2 162.4l31.6 -6.3M1724.6 162.4l33 0M1747 162.4l33 0M1769.3 162.4l33 0M1791.7 162.4l33 0M1814 162.4l33 0M1836.3 162.4l26.4 4.4M1858.7 162.4l20.1 8.3M1881 162.4l20.1 8.3M1903.4 162.4l20.1 8.3M1925.8 162.4l20.1 8.3M1948.1 162.4l20.1 8.3M1970.4 162.4l20.1 8.3M1992.8 162.4l20.1 8.3M1367 184.8l11.8 -17.7M1389.3 184.8l11.8 -17.7M1411.7 184.8l11.8 -17.7M1434 184.8l11.8 -17.7M1456.4 184.8l11.8 -17.7M1478.8 184.8l10 -12.7M1501.1 184.8l8 -8M1523.5 184.8l5 -25.6M1545.8 184.8l0 -44.8M1568.2 184.8l0 -40.8M1590.5 184.8l0 -36.9M1612.8 184.8l6.2 -26.9M1635.2 184.8l11.8 -17.7M1657.5 184.8l20.7 -15.2M1679.9 184.8l30.5 -12.6M1702.2 184.8l28.8 -6.2M1724.6 184.8l27.4 0M1747 184.8l27.4 0M1769.3 184.8l27.4 0M1791.7 184.8l27.4 0M1814 184.8l27.4 0M1836.3 184.8l23.6 4.3M1858.7 184.8l20.1 8.3M1881 184.8l18.9 10.1M1903.4 184.8l17.7 11.8M1925.8 184.8l17.7 11.8M1948.1 184.8l17.7 11.8M1970.4 184.8l16.4 10.6M1992.8 184.8l15.1 9.5M1367 207.1l15.4 -15.4M1389.3 207.1l15.4 -15.4M1411.7 207.1l15.4 -15.4M1434 207.1l15.4 -15.4M1456.4 207.1l15.4 -15.4M1478.8 207.1l10.5 -10.5M1501.1 207.1l5.5 -5.5M1523.5 207.1l3.9 -22.4M1545.8 207.1l0 -40.8M1568.2 207.1l0 -36.9M1590.5 207.1l0 -33M1612.8 207.1l7.9 -23.6M1635.2 207.1l15.4 -15.4M1657.5 207.1l22.7 -14.1M1679.9 207.1l30.5 -12.6M1702.2 207.1l26.1 -6.1M1724.6 207.1l21.8 0M1747 207.1l21.8 0M1769.3 207.1l21.8 0M1791.7 207.1l21.8 0M1814 207.1l21.8 0M1836.3 207.1l20.9 4.1M1858.7 207.1l20.1 8.3M1881 207.1l17.7 11.8M1903.4 207.1l15.4 15.4M1925.8 207.1l15.4 15.4M1948.1 207.1l15.4 15.4M1970.4 207.1l12.9 12.9M1992.8 207.1l10.5 10.5M1367 229.4l10.3 -14.5M1389.3 229.4l10.3 -14.5M1411.7 229.4l10.3 -14.5M1434 229.4l11.6 -13.7M1456.4 229.4l12.9 -12.9M1478.8 229.4l2.8 -4M1523.5 229.4l-1.7 -15.9M1545.8 229.4l0 -36.9M1568.2 229.4l0 -35M1590.5 229.4l0 -33M1612.8 229.4l6.8 -22.3M1635.2 229.4l12.9 -12.9M1657.5 229.4l18.9 -11.8M1679.9 229.4l25.3 -10.5M1702.2 229.4l23.1 -7.2M1724.6 229.4l20.9 -4.1M1747 229.4l18 0.8M1769.3 229.4l15.6 5.4M1791.7 229.4l18 0.8M1814 229.4l20.9 -4.1M1836.3 229.4l20.2 -2.1M1858.7 229.4l19.7 0M1881 229.4l17.1 7.4M1903.4 229.4l15.4 15.4M1925.8 229.4l13.6 16.5M1948.1 229.4l11.8 17.7M1970.4 229.4l8.3 15M1992.8 229.4l5.1 12.2M1367 251.8l5.7 -13.7M1389.3 251.8l5.7 -13.7M1411.7 251.8l5.7 -13.7M1434 251.8l8 -12M1456.4 251.8l10.5 -10.5M1501.1 251.8l-13.7 5.7M1523.5 251.8l-6.4 -10.3M1545.8 251.8l0 -33M1568.2 251.8l0 -33M1590.5 251.8l0 -33M1612.8 251.8l5.8 -21M1635.2 251.8l10.5 -10.5M1657.5 251.8l15.1 -9.5M1679.9 251.8l20.1 -8.3M1702.2 251.8l20.1 -8.3M1724.6 251.8l20.1 -8.3M1747 251.8l14.2 1.4M1769.3 251.8l10.5 10.5M1791.7 251.8l14.2 1.4M1814 251.8l20.1 -8.3M1836.3 251.8l20.1 -8.3M1858.7 251.8l20.1 -8.3M1881 251.8l16.8 3.3M1903.4 251.8l15.4 15.4M1925.8 251.8l11.8 17.7M1948.1 251.8l8.3 20.1M1970.4 251.8l4 17.4M1992.8 251.8l0 14.8M1367 274.1l5.7 -13.7M1389.3 274.1l5.7 -13.7M1411.7 274.1l5.7 -13.7M1434 274.1l6.8 -12.8M1456.4 274.1l8 -12M1478.8 274.1l0.8 -3.7M1501.1 274.1l-1.2 -0.4M1523.5 274.1l-2.3 -11.9M1545.8 274.1l0 -27.4M1568.2 274.1l0 -27.4M1590.5 274.1l0 -27.4M1612.8 274.1l5.6 -18.3M1635.2 274.1l10.5 -10.5M1657.5 274.1l13.5 -8.7M1679.9 274.1l16.9 -7M1702.2 274.1l16.9 -7M1724.6 274.1l16.9 -7M1747 274.1l11 2.5M1769.3 274.1l8 12M1791.7 274.1l3.1 3.4M1858.7 274.1l0.2 -0.5M1881 274.1l3.5 3M1903.4 274.1l10.3 14.5M1925.8 274.1l8.7 15.7M1948.1 274.1l7 16.9M1970.4 274.1l3.4 15.8M1992.8 274.1l0 14.8M1367 296.5l5.7 -13.7M1389.3 296.5l5.7 -13.7M1411.7 296.5l5.7 -13.7M1434 296.5l5.7 -13.7M1456.4 296.5l5.7 -13.7M1478.8 296.5l4.3 -10.4M1501.1 296.5l3 -7.2M1523.5 296.5l1.9 -14.3M1545.8 296.5l0 -21.8M1568.2 296.5l0 -21.8M1590.5 296.5l0 -21.8M1612.8 296.5l5.4 -15.6M1635.2 296.5l10.5 -10.5M1657.5 296.5l12 -8M1679.9 296.5l13.7 -5.7M1702.2 296.5l13.7 -5.7M1724.6 296.5l13.7 -5.7M1747 296.5l8 3.3M1769.3 296.5l5.7 13.7M1791.7 296.5l-3.3 8M1814 296.5l-13.7 5.7M1836.3 296.5l-14.1 2.8M1858.7 296.5l-14.8 0M1881 296.5l-3 4.5M1903.4 296.5l5.7 13.7M1925.8 296.5l5.7 13.7M1948.1 296.5l5.7 13.7M1970.4 296.5l2.8 14.1M1992.8 296.5l0 14.8"/>
<path fill="#000" d="M1388 28.3l-6.2 2.2l-0 -4.4zM1406.8 28.3l-6.2 2.2l-0 -4.4zM1425.7 28.3l-6.2 2.2l-0 -4.4zM1448 28.3l-6.2 2.2l-0 -4.4zM1470.4 28.3l-6.2 2.2l-0 -4.4zM1489 29.6l-6.4 1.4l0.6 -4.4zM1507.6 31l-6.6 -0.3l1.7 -4.1zM1537.2 29.6l-6.4 1.6l0.4 -4.4zM1566.8 28.3l-6.2 2.2l-0 -4.4zM1589.2 28.3l-6.2 2.2l-0 -4.4zM1611.5 28.3l-6.2 2.2l-0 -4.4zM1633.2 18.4l-4.6 4.7l-1.9 -4zM1655 8.5l-2.8 5.9l-3.1 -3.1zM1677.3 8.5l-2.8 5.9l-3.1 -3.1zM1699.7 8.5l-2.8 5.9l-3.1 -3.1zM1712.1 4.4l-0.3 6.6l-4.1 -1.7zM1724.6 0.3l2.2 6.2l-4.4 -0zM1747 3.8l2.2 6.2l-4.4 -0zM1769.3 7.3l2.2 6.2l-4.4 -0zM1791.7 24.8l1.1 3.1l-2.2 -0zM1814 42.3l-2.2 -6.2l4.4 -0zM1836.3 42.3l-2.2 -6.2l4.4 -0zM1858.7 42.3l-2.2 -6.2l4.4 -0zM1881 42.3l-2.2 -6.2l4.4 -0zM1903.4 42.3l-2.2 -6.2l4.4 -0zM1925.8 42.3l-2.2 -6.2l4.4 -0zM1948.1 42.3l-2.2 -6.2l4.4 -0zM1970.4 42.3l-2.2 -6.2l4.4 -0zM1992.8 42.3l-2.2 -6.2l4.4 -0zM1391.5 50.6l-6.2 2.2l-0 -4.4zM1412.1 50.6l-6.2 2.2l-0 -4.4zM1432.7 50.6l-6.2 2.2l-0 -4.4zM1453.3 50.6l-6.2 2.2l-0 -4.4zM1473.9 50.6l-6.2 2.2l-0 -4.4zM1490.9 51.3l-6.3 1.9l0.2 -4.4zM1507.8 52l-6.5 0.9l0.9 -4.3zM1529.6 53.8l-6.5 -0.9l2 -3.9zM1551.4 55.6l-6.1 -2.5l2.9 -3.3zM1576.2 41.4l-2.4 6.1l-3.3 -2.9zM1601 27.1l-0.5 6.6l-4 -1.8zM1626.8 24.9l-1 6.5l-3.9 -2.1zM1652.6 22.6l-1.4 6.4l-3.7 -2.3zM1673.9 25.2l-1.5 6.4l-3.7 -2.4zM1695.2 27.8l-1.6 6.4l-3.7 -2.4zM1709.9 25.2l0.3 6.6l-4.2 -1.3zM1724.6 22.6l2.2 6.2l-4.4 -0zM1744.9 26.5l2.7 6l-4.4 0.4zM1765.3 30.4l3.4 5.7l-4.3 0.9zM1789.6 47.5l2.8 2.1l-2 1.3zM1814 64.7l-2.2 -6.2l4.4 -0zM1836.3 66.4l-2.2 -6.2l4.4 -0zM1858.7 68.2l-2.2 -6.2l4.4 -0zM1881 66.4l-2.2 -6.2l4.4 -0zM1903.4 64.7l-2.2 -6.2l4.4 -0zM1925.8 64.7l-2.2 -6.2l4.4 -0zM1948.1 64.7l-2.2 -6.2l4.4 -0zM1971.8 64.4l-2.8 -6l4.4 -0.4zM1995.5 64.1l-3.4 -5.7l4.3 -0.9zM1395 73l-6.2 2.2l-0 -4.4zM1417.3 73l-6.2 2.2l-0 -4.4zM1439.7 73l-6.2 2.2l-0 -4.4zM1458.5 73l-6.2 2.2l-0 -4.4zM1477.4 73l-6.2 2.2l-0 -4.4zM1492.8 73l-6.2 2.2l-0 -4.4zM1508.1 73l-6.2 2.2l-0 -4.4zM1522 77.9l-0.3 -4.9l3.2 0.9zM1535.9 82.9l2.8 -5.9l3.1 3.1zM1563.2 54.4l3.7 5.4l-4.3 1.1zM1590.5 26l2.2 6.2l-4.4 -0zM1620.4 31.4l1.1 6.5l-4.3 -0.8zM1650.2 36.8l-0.3 6.6l-4.1 -1.7zM1670.4 42l-0.3 6.6l-4.1 -1.7zM1690.6 47.1l-0.3 6.6l-4.1 -1.7zM1707.6 46.1l0.9 6.5l-4.3 -0.9zM1724.6 45l2.2 6.2l-4.4 -0zM1742.9 49.3l3.2 5.7l-4.3 0.7zM1761.3 53.6l4.4 4.9l-4.1 1.7zM1787.6 70.3l4.5 1.1l-1.7 2.6zM1814 87l-2.2 -6.2l4.4 -0zM1836.3 90.5l-2.2 -6.2l4.4 -0zM1858.7 94l-2.2 -6.2l4.4 -0zM1881 90.5l-2.2 -6.2l4.4 -0zM1903.4 87l-2.2 -6.2l4.4 -0zM1925.8 87l-2.2 -6.2l4.4 -0zM1948.1 87l-2.2 -6.2l4.4 -0zM1973.1 86.5l-3.4 -5.7l4.3 -0.9zM1998.2 85.9l-4.4 -4.9l4.1 -1.7zM1385 85.6l-4.4 4.9l-2.1 -3.9zM1407.4 85.6l-4.4 4.9l-2.1 -3.9zM1429.7 85.6l-4.4 4.9l-2.1 -3.9zM1451 84l-3.9 5.3l-2.4 -3.7zM1472.3 82.4l-3.4 5.6l-2.8 -3.4zM1490.9 91.4l-5.2 4l-1.4 -4.2zM1509.5 100.3l-6.5 -1.2l2.2 -3.8zM1525.2 86.6l0.9 6.5l-4.3 -0.9zM1540.9 72.9l3.5 5.6l-4.3 0.9zM1565.7 60.6l2.6 6l-4.4 0.3zM1590.5 48.3l2.2 6.2l-4.4 -0zM1620.4 53.7l1.1 6.5l-4.3 -0.8zM1650.2 59.1l-0.3 6.6l-4.1 -1.7zM1672.7 65.8l-0.9 6.5l-3.9 -2zM1695.2 72.5l-1.6 6.4l-3.7 -2.4zM1709.9 71.7l0.2 6.6l-4.2 -1.3zM1724.6 70.8l2.2 6.2l-4.4 -0zM1742.5 75.8l3.5 5.6l-4.3 1zM1760.3 80.7l5.1 4.1l-3.8 2.3zM1788.9 91.5l3.7 2.6l-2.4 1.7zM1817.5 102.3l-4.7 -4.6l3.9 -2zM1839.4 107.3l-3.7 -5.5l4.3 -1.1zM1861.4 112.3l-3.1 -5.8l4.3 -0.7zM1883.7 110.6l-3.2 -5.7l4.3 -0.8zM1906.1 108.8l-3.4 -5.7l4.3 -0.9zM1928.4 108.8l-3.4 -5.7l4.3 -0.9zM1950.8 108.8l-3.4 -5.7l4.3 -0.9zM1975.6 107.8l-4.4 -4.9l4.1 -1.7zM2000.4 106.8l-5.3 -3.9l3.7 -2.4zM1375 98.3l-0.3 6.6l-4.1 -1.7zM1397.4 98.3l-0.3 6.6l-4.1 -1.7zM1419.7 98.3l-0.3 6.6l-4.1 -1.7zM1443.4 95.1l-0.3 6.6l-4.1 -1.7zM1467.1 91.8l-0.3 6.6l-4.1 -1.7zM1489.1 109.7l-3.6 5.5l-2.7 -3.5zM1511 127.6l-5.9 -2.8l3.1 -3.1zM1528.4 95.2l0.8 6.5l-4.3 -0.9zM1545.8 62.8l2.2 6.2l-4.4 -0zM1568.2 66.7l2.2 6.2l-4.4 -0zM1590.5 70.7l2.2 6.2l-4.4 -0zM1620.4 76.1l1.1 6.5l-4.3 -0.8zM1650.2 81.5l-0.3 6.6l-4.1 -1.7zM1675 89.7l-1.4 6.4l-3.7 -2.3zM1699.7 97.9l-2.8 5.9l-3.1 -3.1zM1712.1 97.3l-0.7 6.5l-4 -1.9zM1724.6 96.7l2.2 6.2l-4.4 -0zM1742 102.3l4 5.2l-4.2 1.3zM1759.4 107.8l5.9 2.8l-3.1 3.1zM1790.2 112.8l2.9 4l-3.2 0.9zM1821 117.7l-6.2 2.2l-0 -4.4zM1842.5 124.2l-5.9 -3l3.2 -3zM1864.1 130.6l-4.4 -4.9l4.1 -1.7zM1886.4 130.6l-4.4 -4.9l4.1 -1.7zM1908.8 130.6l-4.4 -4.9l4.1 -1.7zM1931.1 130.6l-4.4 -4.9l4.1 -1.7zM1953.5 130.6l-4.4 -4.9l4.1 -1.7zM1978.1 129.1l-5.3 -3.9l3.7 -2.4zM2002.7 127.6l-5.9 -2.8l3.1 -3.1zM1376.4 117.4l-0.3 6.6l-4.1 -1.7zM1398.7 117.4l-0.3 6.6l-4.1 -1.7zM1421.1 117.4l-0.3 6.6l-4.1 -1.7zM1444.1 115.8l-0.3 6.6l-4.1 -1.7zM1467.1 114.2l-0.3 6.6l-4.1 -1.7zM1490.3 125.9l-2.2 6.2l-3.4 -2.8zM1513.5 137.6l-5.6 3.4l-0.9 -4.3zM1529.6 111.4l0.8 6.5l-4.3 -0.9zM1545.8 85.2l2.2 6.2l-4.4 -0zM1568.2 89.1l2.2 6.2l-4.4 -0zM1590.5 93l2.2 6.2l-4.4 -0zM1619.3 101l1.2 6.5l-4.3 -0.7zM1648.1 109l-0.3 6.6l-4.1 -1.7zM1678 115.8l-2.3 6.2l-3.4 -2.8zM1707.9 122.6l-4.1 5.1l-2.3 -3.7zM1726.1 126.1l-4.2 5l-2.2 -3.8zM1744.2 129.6l-4.4 4.9l-2.1 -3.9zM1764.1 132.3l-4.7 4.6l-1.8 -4zM1784 135.1l-5.2 4.1l-1.4 -4.2zM1810.5 137.6l-5.9 3l-0.6 -4.4zM1837.1 140.1l-6.2 2.2l-0 -4.4zM1855.7 146l-6.6 0.3l1.3 -4.2zM1874.3 151.9l-6.3 -2l2.7 -3.5zM1896.7 151.9l-6.3 -2l2.7 -3.5zM1919 151.9l-6.3 -2l2.7 -3.5zM1941.4 151.9l-6.3 -2l2.7 -3.5zM1963.7 151.9l-6.3 -2l2.7 -3.5zM1987.2 151.1l-6.4 -1.6l2.4 -3.7zM2010.7 150.4l-6.5 -1.2l2.2 -3.8zM1377.7 136.5l-0.3 6.6l-4.1 -1.7zM1400.1 136.5l-0.3 6.6l-4.1 -1.7zM1422.4 136.5l-0.3 6.6l-4.1 -1.7zM1444.8 136.5l-0.3 6.6l-4.1 -1.7zM1467.1 136.5l-0.3 6.6l-4.1 -1.7zM1491.5 142l-1.4 6.4l-3.7 -2.3zM1515.9 147.6l-2.8 5.9l-3.1 -3.1zM1530.9 127.5l0.9 6.5l-4.3 -0.9zM1545.8 107.5l2.2 6.2l-4.4 -0zM1568.2 111.4l2.2 6.2l-4.4 -0zM1590.5 115.4l2.2 6.2l-4.4 -0zM1618.2 125.9l1.3 6.5l-4.4 -0.6zM1645.9 136.5l-0.3 6.6l-4.1 -1.7zM1681 142l-3.2 5.7l-2.9 -3.3zM1716.1 147.4l-4.9 4.4l-1.7 -4.1zM1740 154.9l-5.7 3.4l-0.9 -4.3zM1763.8 162.4l-6.2 2.2l-0 -4.4zM1786.2 162.4l-6.2 2.2l-0 -4.4zM1808.5 162.4l-6.2 2.2l-0 -4.4zM1830.9 162.4l-6.2 2.2l-0 -4.4zM1853.2 162.4l-6.2 2.2l-0 -4.4zM1868.9 167.8l-6.5 1.2l0.7 -4.3zM1884.6 173.1l-6.6 -0.3l1.7 -4.1zM1906.9 173.1l-6.6 -0.3l1.7 -4.1zM1929.3 173.1l-6.6 -0.3l1.7 -4.1zM1951.6 173.1l-6.6 -0.3l1.7 -4.1zM1974 173.1l-6.6 -0.3l1.7 -4.1zM1996.3 173.1l-6.6 -0.3l1.7 -4.1zM2018.7 173.1l-6.6 -0.3l1.7 -4.1zM1382.3 161.9l-1.6 6.4l-3.7 -2.4zM1404.6 161.9l-1.6 6.4l-3.7 -2.4zM1427 161.9l-1.6 6.4l-3.7 -2.4zM1449.3 161.9l-1.6 6.4l-3.7 -2.4zM1471.7 161.9l-1.6 6.4l-3.7 -2.4zM1492.6 167.1l-2.1 6.2l-3.5 -2.7zM1513.5 172.4l-2.8 5.9l-3.1 -3.1zM1529.6 153.1l1 6.5l-4.3 -0.8zM1545.8 133.8l2.2 6.2l-4.4 -0zM1568.2 137.7l2.2 6.2l-4.4 -0zM1590.5 141.6l2.2 6.2l-4.4 -0zM1620.5 151.8l0.7 6.5l-4.3 -1zM1650.5 161.9l-1.6 6.4l-3.7 -2.4zM1683.3 165.8l-3.7 5.4l-2.6 -3.5zM1716.1 169.7l-4.9 4.4l-1.7 -4.1zM1737.2 177.2l-5.6 3.5l-0.9 -4.3zM1758.2 184.8l-6.2 2.2l-0 -4.4zM1780.5 184.8l-6.2 2.2l-0 -4.4zM1802.9 184.8l-6.2 2.2l-0 -4.4zM1825.2 184.8l-6.2 2.2l-0 -4.4zM1847.6 184.8l-6.2 2.2l-0 -4.4zM1866.1 190.1l-6.5 1.1l0.8 -4.3zM1884.6 195.5l-6.6 -0.3l1.7 -4.1zM1905.4 197.7l-6.5 -1l2.1 -3.9zM1926.2 200l-6.4 -1.6l2.4 -3.7zM1948.6 200l-6.4 -1.6l2.4 -3.7zM1970.9 200l-6.4 -1.6l2.4 -3.7zM1992 198.8l-6.4 -1.5l2.4 -3.7zM2013.2 197.5l-6.4 -1.4l2.3 -3.7zM1386.8 187.3l-2.8 5.9l-3.1 -3.1zM1409.1 187.3l-2.8 5.9l-3.1 -3.1zM1431.5 187.3l-2.8 5.9l-3.1 -3.1zM1453.8 187.3l-2.8 5.9l-3.1 -3.1zM1476.2 187.3l-2.8 5.9l-3.1 -3.1zM1493.6 192.3l-2.8 5.9l-3.1 -3.1zM1511 197.2l-2.8 5.9l-3.1 -3.1zM1528.4 178.6l1.1 6.5l-4.3 -0.8zM1545.8 160.1l2.2 6.2l-4.4 -0zM1568.2 164l2.2 6.2l-4.4 -0zM1590.5 167.9l2.2 6.2l-4.4 -0zM1622.7 177.6l0.1 6.6l-4.2 -1.4zM1655 187.3l-2.8 5.9l-3.1 -3.1zM1685.6 189.7l-4.1 5.1l-2.3 -3.7zM1716.1 192.1l-4.9 4.4l-1.7 -4.1zM1734.4 199.6l-5.5 3.6l-1 -4.3zM1752.6 207.1l-6.2 2.2l-0 -4.4zM1775 207.1l-6.2 2.2l-0 -4.4zM1797.3 207.1l-6.2 2.2l-0 -4.4zM1819.7 207.1l-6.2 2.2l-0 -4.4zM1842 207.1l-6.2 2.2l-0 -4.4zM1863.3 212.5l-6.5 0.9l0.9 -4.3zM1884.6 217.8l-6.6 -0.3l1.7 -4.1zM1903.9 222.4l-6.4 -1.6l2.4 -3.7zM1923.2 226.9l-5.9 -2.8l3.1 -3.1zM1945.5 226.9l-5.9 -2.8l3.1 -3.1zM1967.9 226.9l-5.9 -2.8l3.1 -3.1zM1987.8 224.4l-5.9 -2.8l3.1 -3.1zM2007.6 221.9l-5.9 -2.8l3.1 -3.1zM1380.9 209.8l-1.8 6.3l-3.6 -2.5zM1403.3 209.8l-1.8 6.3l-3.6 -2.5zM1425.6 209.8l-1.8 6.3l-3.6 -2.5zM1449.7 211l-2.3 6.2l-3.4 -2.8zM1473.7 212.1l-2.8 5.9l-3.1 -3.1zM1485 220.3l-1.7 6.4l-3.6 -2.5zM1496.3 228.5l4.6 -0.7l-0.6 3zM1521.1 207.4l2.9 5.9l-4.4 0.5zM1545.8 186.3l2.2 6.2l-4.4 -0zM1568.2 188.3l2.2 6.2l-4.4 -0zM1590.5 190.2l2.2 6.2l-4.4 -0zM1621.5 201.2l0.3 6.6l-4.2 -1.3zM1652.5 212.1l-2.8 5.9l-3.1 -3.1zM1681.7 214.4l-4.1 5.1l-2.3 -3.7zM1710.9 216.6l-4.9 4.4l-1.7 -4.1zM1731.2 220.3l-5.3 4l-1.3 -4.2zM1751.5 224.1l-5.7 3.4l-0.9 -4.3zM1771.1 230.5l-6.3 1.9l0.2 -4.4zM1790.7 236.9l-6.6 0l1.4 -4.2zM1815.8 230.5l-6.3 1.9l0.2 -4.4zM1840.9 224.1l-5.7 3.4l-0.9 -4.3zM1862.8 226.8l-5.9 2.8l-0.4 -4.4zM1884.6 229.4l-6.2 2.2l-0 -4.4zM1903.9 239.3l-6.6 -0.4l1.8 -4zM1923.2 249.2l-5.9 -2.8l3.1 -3.1zM1943.3 250.8l-5.6 -3.4l3.4 -2.8zM1963.4 252.3l-5.3 -3.9l3.7 -2.4zM1981.8 249.8l-4.9 -4.3l3.8 -2.1zM2000.2 247.4l-4.4 -4.9l4.1 -1.7zM1375 232.4l-0.3 6.6l-4.1 -1.7zM1397.4 232.4l-0.3 6.6l-4.1 -1.7zM1419.7 232.4l-0.3 6.6l-4.1 -1.7zM1445.5 234.7l-1.6 6.4l-3.7 -2.4zM1471.2 237l-2.8 5.9l-3.1 -3.1zM1476.5 248.4l3.1 2.3l-2.2 1.5zM1481.7 259.8l4.9 -4.4l1.7 4.1zM1513.7 236.2l5.1 4.1l-3.7 2.3zM1545.8 212.6l2.2 6.2l-4.4 -0zM1568.2 212.6l2.2 6.2l-4.4 -0zM1590.5 212.6l2.2 6.2l-4.4 -0zM1620.3 224.8l0.5 6.6l-4.2 -1.2zM1650 237l-2.8 5.9l-3.1 -3.1zM1677.9 239l-4.1 5.2l-2.3 -3.7zM1705.8 241.1l-4.9 4.4l-1.7 -4.1zM1728.1 241.1l-4.9 4.4l-1.7 -4.1zM1750.5 241.1l-4.9 4.4l-1.7 -4.1zM1767.3 253.9l-6.4 1.6l0.4 -4.4zM1784.1 266.6l-5.9 -2.8l3.1 -3.1zM1812 253.9l-6.4 1.6l0.4 -4.4zM1839.9 241.1l-4.9 4.4l-1.7 -4.1zM1862.2 241.1l-4.9 4.4l-1.7 -4.1zM1884.6 241.1l-4.9 4.4l-1.7 -4.1zM1903.9 256.3l-6.5 0.9l0.9 -4.3zM1923.2 271.6l-5.9 -2.8l3.1 -3.1zM1941 274.6l-5.3 -3.9l3.7 -2.4zM1958.8 277.7l-4.4 -4.9l4.1 -1.7zM1975.8 275.2l-3.5 -5.6l4.3 -1zM1992.8 272.8l-2.2 -6.2l4.4 -0zM1375 254.7l-0.3 6.6l-4.1 -1.7zM1397.4 254.7l-0.3 6.6l-4.1 -1.7zM1419.7 254.7l-0.3 6.6l-4.1 -1.7zM1443.8 255.9l-1 6.5l-3.9 -2.1zM1467.8 257l-1.6 6.4l-3.7 -2.4zM1481 264.4l0.8 6.5l-4.3 -1zM1494.1 271.7l6.6 -0l-1.4 4.2zM1519.9 256.1l3.3 5.7l-4.3 0.8zM1545.8 240.5l2.2 6.2l-4.4 -0zM1568.2 240.5l2.2 6.2l-4.4 -0zM1590.5 240.5l2.2 6.2l-4.4 -0zM1620.3 249.9l0.3 6.6l-4.2 -1.3zM1650 259.3l-2.8 5.9l-3.1 -3.1zM1676.3 262l-4 5.2l-2.4 -3.7zM1702.5 264.8l-4.9 4.4l-1.7 -4.1zM1724.9 264.8l-4.9 4.4l-1.7 -4.1zM1747.2 264.8l-4.9 4.4l-1.7 -4.1zM1764 278l-6.5 0.8l1 -4.3zM1780.7 291.3l-5.3 -3.9l3.7 -2.4zM1799 282l-5.8 -3l3.2 -3zM1817.2 272.8l-2.5 2.2l-0.9 -2.1zM1839.2 270.8l-1.5 3.9l-2.1 -1.8zM1861.1 268.8l-0.5 5.6l-3.4 -1.6zM1889.2 281.3l-6.1 -2.4l2.9 -3.3zM1917.3 293.8l-5.4 -3.8l3.6 -2.5zM1937.4 295.3l-4.9 -4.4l3.9 -2.1zM1957.5 296.8l-4.4 -4.9l4.1 -1.7zM1975.1 296l-3.5 -5.6l4.3 -0.9zM1992.8 295.1l-2.2 -6.2l4.4 -0zM1375 277.1l-0.3 6.6l-4.1 -1.7zM1397.4 277.1l-0.3 6.6l-4.1 -1.7zM1419.7 277.1l-0.3 6.6l-4.1 -1.7zM1442.1 277.1l-0.3 6.6l-4.1 -1.7zM1464.4 277.1l-0.3 6.6l-4.1 -1.7zM1485.4 280.3l-0.3 6.6l-4.1 -1.7zM1506.5 283.6l-0.3 6.6l-4.1 -1.7zM1526.1 276l1.4 6.4l-4.4 -0.6zM1545.8 268.5l2.2 6.2l-4.4 -0zM1568.2 268.5l2.2 6.2l-4.4 -0zM1590.5 268.5l2.2 6.2l-4.4 -0zM1620.3 275.1l0 6.6l-4.2 -1.4zM1650 281.7l-2.8 5.9l-3.1 -3.1zM1674.7 285.1l-3.9 5.3l-2.4 -3.7zM1699.3 288.5l-4.9 4.4l-1.7 -4.1zM1721.7 288.5l-4.9 4.4l-1.7 -4.1zM1744 288.5l-4.9 4.4l-1.7 -4.1zM1760.7 302.2l-6.6 -0.3l1.7 -4.1zM1777.3 315.9l-4.4 -4.9l4.1 -1.7zM1786 310.2l0.3 -6.6l4.1 1.7zM1794.6 304.5l4.9 -4.4l1.7 4.1zM1816.1 300.5l5.7 -3.4l0.9 4.3zM1837.7 296.5l6.2 -2.2l-0 4.4zM1874.6 306.2l1.6 -6.4l3.7 2.4zM1911.4 315.9l-4.4 -4.9l4.1 -1.7zM1933.8 315.9l-4.4 -4.9l4.1 -1.7zM1956.1 315.9l-4.4 -4.9l4.1 -1.7zM1974.5 316.7l-3.4 -5.7l4.3 -0.9zM1992.8 317.5l-2.2 -6.2l4.4 -0z"/>
<path stroke="#000" stroke-width="5.6" stroke-linecap="round" d="M1523.5 184.8h0M1545.8 184.8h0M1568.2 184.8h0M1679.9 184.8h0M1523.5 207.1h0M1545.8 207.1h0M1568.2 207.1h0M1679.9 207.1h0M1523.5 229.4h0M1545.8 229.4h0M1568.2 229.4h0M1679.9 229.4h0M1434 251.8h0M1456.4 251.8h0M1478.8 251.8h0M1501.1 251.8h0M1523.5 251.8h0M1545.8 251.8h0M1568.2 251.8h0M1612.8 251.8h0M1635.2 251.8h0M1657.5 251.8h0M1679.9 251.8h0M1702.2 251.8h0M1724.6 251.8h0M1747 251.8h0M1791.7 251.8h0M1814 251.8h0M1836.3 251.8h0M1858.7 251.8h0M1881 251.8h0M1903.4 251.8h0M1925.8 251.8h0M1970.4 251.8h0M1992.8 251.8h0M1501.1 274.1h0M1523.5 274.1h0M1545.8 274.1h0M1568.2 274.1h0M1679.9 274.1h0M1858.7 274.1h0M1881 274.1h0M1903.4 274.1h0M1925.8 274.1h0M1948.1 274.1h0M1970.4 274.1h0M1992.8 274.1h0M1501.1 296.5h0M1523.5 296.5h0M1545.8 296.5h0M1568.2 296.5h0M1679.9 296.5h0M1858.7 296.5h0M1881 296.5h0M1903.4 296.5h0M1925.8 296.5h0M1948.1 296.5h0M1970.4 296.5h0M1992.8 296.5h0"/>
<rect x="1706.7" y="117.7" width="125.2" height="107.3" fill="none" stroke="#e3211c" stroke-width="2"/>
</g>
<rect x="1367.0" y="28.3" width="625.8" height="268.2" fill="none" stroke="#000" stroke-width="1.3"/>
<line x1="1363.5" y1="73.0" x2="1367.0" y2="73.0" stroke="#000" stroke-width="1"/>
<text x="1360.0" y="80.3" text-anchor="end" class="tk">5</text>
<line x1="1363.5" y1="117.7" x2="1367.0" y2="117.7" stroke="#000" stroke-width="1"/>
<text x="1360.0" y="125.0" text-anchor="end" class="tk">0</text>
<line x1="1363.5" y1="162.4" x2="1367.0" y2="162.4" stroke="#000" stroke-width="1"/>
<text x="1360.0" y="169.7" text-anchor="end" class="tk">-5</text>
<line x1="1363.5" y1="207.1" x2="1367.0" y2="207.1" stroke="#000" stroke-width="1"/>
<text x="1360.0" y="214.4" text-anchor="end" class="tk">-10</text>
<line x1="1363.5" y1="251.8" x2="1367.0" y2="251.8" stroke="#000" stroke-width="1"/>
<text x="1360.0" y="259.1" text-anchor="end" class="tk">-15</text>
<line x1="1363.5" y1="296.5" x2="1367.0" y2="296.5" stroke="#000" stroke-width="1"/>
<text x="1360.0" y="303.8" text-anchor="end" class="tk">-20</text>
<line x1="1367.0" y1="296.5" x2="1367.0" y2="300.0" stroke="#000" stroke-width="1"/>
<text x="1367.0" y="319.1" text-anchor="middle" class="tk">-10</text>
<line x1="1456.4" y1="296.5" x2="1456.4" y2="300.0" stroke="#000" stroke-width="1"/>
<text x="1456.4" y="319.1" text-anchor="middle" class="tk">0</text>
<line x1="1545.8" y1="296.5" x2="1545.8" y2="300.0" stroke="#000" stroke-width="1"/>
<text x="1545.8" y="319.1" text-anchor="middle" class="tk">10</text>
<line x1="1635.2" y1="296.5" x2="1635.2" y2="300.0" stroke="#000" stroke-width="1"/>
<text x="1635.2" y="319.1" text-anchor="middle" class="tk">20</text>
<line x1="1724.6" y1="296.5" x2="1724.6" y2="300.0" stroke="#000" stroke-width="1"/>
<text x="1724.6" y="319.1" text-anchor="middle" class="tk">30</text>
<line x1="1814.0" y1="296.5" x2="1814.0" y2="300.0" stroke="#000" stroke-width="1"/>
<text x="1814.0" y="319.1" text-anchor="middle" class="tk">40</text>
<line x1="1903.4" y1="296.5" x2="1903.4" y2="300.0" stroke="#000" stroke-width="1"/>
<text x="1903.4" y="319.1" text-anchor="middle" class="tk">50</text>
<text x="1368.5" y="21.9" class="tt">(C)_Day -4</text>
<clipPath id="cD"><rect x="46.7" y="358.4" width="612.4" height="268.2"/></clipPath>
<g clip-path="url(#cD)">
<rect x="46.7" y="358.4" width="612.4" height="268.2" fill="#97ff60"/>
<path fill="#0000ed" stroke="#0000ed" stroke-width="0.6" d="M606.6 496.5l11 -1.2l11 2.2l0.7 0.4l10.3 10.6l0 0.1l0 0.1l-6 10.6l-5 2.5l-11 0.2l-11 -2.1l-2.4 -0.6l-8.6 -5.9l-4.1 -4.8l4.1 -3.8l7.7 -6.9z"/>
<path fill="#0020ff" stroke="#0020ff" stroke-width="0.6" d="M595.6 492.9l11 -3.9l11 -1.1l11 1.5l11 4.2l10.6 4.3l0.3 0.3l11 1.6l11 -1.8l0 10.6l0 10.7l0 2.6l-11 -1.1l-11 0.9l-10.9 5.8l-5.2 2.5l-5.8 2.5l-11 -2.2l-0.5 -0.3l-10.5 -3.4l-11 -2.1l-10.9 -2.3l-7.7 -2.9l-3.3 -3.8l-7.2 -6.9l7.2 -10.2l11 -0.4l0.1 -0.1zM603.3 497.9l-7.7 6.9l-4.1 3.8l4.1 4.8l8.6 5.9l2.4 0.6l11 2.1l11 -0.2l5 -2.5l6 -10.6l0 -0.1l0 -0.1l-10.3 -10.6l-0.7 -0.4l-11 -2.2l-11 1.2z"/>
<path fill="#0060ff" stroke="#0060ff" stroke-width="0.6" d="M573.7 486.6l11 0.2l10.9 -2.8l11 -1.8l11 -0.6l11 0.6l11 2.5l8.7 2.4l2.2 0.8l11 0.7l11 -0.8l0 10.1l0 0.1l-11 1.8l-11 -1.6l-0.3 -0.3l-10.6 -4.3l-11 -4.2l-11 -1.5l-11 1.1l-11 3.9l-10.8 5l-0.1 0.1l-11 0.4l-7.2 10.2l7.2 6.9l3.3 3.8l7.7 2.9l10.9 2.3l11 2.1l10.5 3.4l0.5 0.3l11 2.2l5.8 -2.5l5.2 -2.5l10.9 -5.8l11 -0.9l11 1.1l0 8.1l0 2.3l-11 -1.3l-11 1.2l-10.9 6l-7 2.6l-4 1.6l-5 -1.6l-6 -1.6l-11 -4.9l-11 -2.2l-10.9 0l-11 -0.3l-4.8 -1.8l-6.2 -2.8l-6.9 -7.9l-4.1 -8.5l-0.5 -2.2l0.5 -4.6l0.9 -6.1l10.1 -10.3l4 -0.5z"/>
<path fill="#00a0ff" stroke="#00a0ff" stroke-width="0.6" d="M178.4 458.4l11 -2.3l11 0.5l11 7.9l1.2 1.2l4.1 10.7l-1 10.7l1 10.8l1.9 10.7l-4.1 10.7l-3.1 3.3l-11 4.9l-7.6 -8.2l-3.4 -5.9l-2.7 -4.8l-8.3 -7.3l-4.1 -3.4l-5.5 -10.8l-1.1 -10.7l0.8 -10.7zM584.7 475.6l10.9 -0.9l11 0l11 -0.3l11 0.2l11 1.7l0.6 0.1l10.3 1.3l11 0.4l11 -0.4l0 9.4l0 0.7l-11 0.8l-11 -0.7l-2.2 -0.8l-8.7 -2.4l-11 -2.5l-11 -0.6l-11 0.6l-11 1.8l-10.9 2.8l-11 -0.2l-7 0.5l-4 0.5l-10.1 10.3l-0.9 6.1l-0.5 4.6l0.5 2.2l4.1 8.5l6.9 7.9l6.2 2.8l4.8 1.8l11 0.3l10.9 0l11 2.2l11 4.9l6 1.6l5 1.6l4 -1.6l7 -2.6l10.9 -6l11 -1.2l11 1.3l0 8.5l0 4.7l-11 -2.1l-11 1.9l-10.9 5.9l-1.3 0.3l-9.7 2.2l-11 -1.3l-2.8 -0.9l-8.2 -4.7l-11 -4l-10.9 4.1l-8.8 4.6l-2.2 0.8l-11 -0.4l-0.4 -0.4l-8 -10.7l-2.6 -3.1l-3.3 -7.7l-4.9 -10.7l-0.5 -10.7l2.8 -10.7l5.7 -10.8l0.2 -0.3l11 -6l11 -2.7l8.4 -1.7zM288.2 547.6l11 -2.3l11 -0.2l11 5.1l1.6 1.3l3.2 10.7l-4.8 6.6l-3.9 4.2l-7.1 3.5l-11 -0.4l-11 -1.6l-6.4 -1.5l-2.2 -10.8l3 -10.7z"/>
<path fill="#00e0fb" stroke="#00e0fb" stroke-width="0.6" d="M123.6 358.4l10.9 0l11 0l1.3 0l8.5 10.7l1.2 0.9l2.2 -0.9l8.8 -5l3.2 -5.7l7.7 0l11 0l5.9 0l1.5 10.7l-2.7 10.8l-4.7 4.1l-7.1 6.6l-3.9 4.6l-4.4 6.1l-6.5 7.9l-11 2.6l-11 -10.3l-0.1 -0.2l-10.9 -10l-1.9 -0.7l-9 -7.8l-1.1 -2.9l-1.1 -10.8l-0.3 -10.7zM332.2 358.4l10.9 0l11 0l11 0l1.1 0l-1.1 4.3l-3.8 6.4l-7.2 5.3l-11 0.2l-7.6 -5.5l-3.3 -3.7l-5 -7zM661.5 369.1l0.6 0l10.4 1.2l0 9.6l0 10.7l0 10.7l0 10.6l-11 -0.9l-11 0.8l-0.5 0.2l-10.4 10.4l-0.3 0.4l0.3 0.9l3.6 9.8l7.3 4.2l11 0.7l11 -0.8l0 6.6l0 10.8l0 10.7l0 10.7l0 1.3l-11 0.4l-11 -0.4l-10.3 -1.3l-0.6 -0.1l-11 -1.7l-11 -0.2l-11 0.3l-11 0l-10.9 0.9l-2.6 0.8l-8.4 1.7l-11 2.7l-11 6l-0.2 0.3l-5.7 10.8l-2.8 10.7l0.5 10.7l4.9 10.7l3.3 7.7l2.6 3.1l8 10.7l0.4 0.4l11 0.4l2.2 -0.8l8.8 -4.6l10.9 -4.1l11 4l8.2 4.7l2.8 0.9l11 1.3l9.7 -2.2l1.3 -0.3l10.9 -5.9l11 -1.9l11 2.1l0 6l0 10.7l0 10.8l0 1.2l-11 1.3l-11 -1.1l-2.7 -1.4l-8.2 -5l-11 -2.9l-11 0l-11 0.7l-11 -0.1l-10.9 -0.1l-11 1.2l-11 -0.7l-6.1 -3.9l-4.9 -4.5l-3.5 -6.2l-4.4 -10.7l-3 -6.2l-1.5 -4.6l-3.2 -10.7l0 -10.7l3.2 -10.7l1.5 -3.5l3.4 -7.3l7.5 -8.5l5 -2.2l6 -3.5l11 -5l5.8 -2.2l5.2 -3.4l10.5 -7.3l-2.3 -10.8l-8.2 -6.6l-11 -3.4l-1.1 -0.7l-1.2 -10.7l2.3 -2.7l7.9 -8.1l3.1 -2.3l9.8 -8.4l1.1 -1.1l11 -8.7l11 0l11 0.2l1.5 -1.1l9.5 -10l0.5 -0.7l10.4 -9.7l10.3 -1.1zM156.5 438.2l11 0.1l10.9 -0.1l11 -3.3l11 -0.5l10 9.8l1 0.8l11 9.8l0.3 0.2l10.6 7.5l2.5 3.2l0.8 10.7l-1.5 10.7l-0.2 10.8l0.7 10.7l-2.3 6.1l-1.4 4.6l-9.5 10.1l-0.7 0.6l-9.9 10.8l-0.4 0.6l-11 8l-11 1.5l-11 -0.4l-10.9 -0.6l-11 0.6l-8.9 1l-2.1 0.2l-1.3 -0.2l-9.7 -1.9l-9.3 -8.8l-1.6 -7.4l-0.7 -3.4l0.7 -3.2l1.4 -7.5l0.7 -10.7l-0.7 -10.7l1.7 -10.8l7.8 -5.4l11 -3.6l1.6 -1.7l2 -10.7l-2.7 -10.7l-0.7 -10.8zM168.5 465.7l-0.8 10.7l1.1 10.7l5.5 10.8l4.1 3.4l8.3 7.3l2.7 4.8l3.4 5.9l7.6 8.2l11 -4.9l3.1 -3.3l4.1 -10.7l-1.9 -10.7l-1 -10.8l1 -10.7l-4.1 -10.7l-1.2 -1.2l-11 -7.9l-11 -0.5l-11 2.3zM266.3 527.6l11 -2.2l10.9 0.9l11 -1.2l11 -0.8l8.1 5.7l2.9 1.6l10.5 9.2l0.5 0.3l10.9 8.6l2.1 1.8l5.5 10.7l-7.6 7.3l-4.9 3.5l-6 2.8l-8.9 7.9l-2.1 1.3l-11 2.3l-11 -0.3l-11 0.3l-10.9 1l-11 -1.7l-5.2 -2.9l-3.8 -10.7l2.8 -10.8l-0.2 -10.7l-1.7 -10.7l4.8 -10.8zM282.6 551.5l-3 10.7l2.2 10.8l6.4 1.5l11 1.6l11 0.4l7.1 -3.5l3.9 -4.2l4.8 -6.6l-3.2 -10.7l-1.6 -1.3l-11 -5.1l-11 0.2l-11 2.3z"/>
<path fill="#30ffc7" stroke="#30ffc7" stroke-width="0.6" d="M112.6 358.4l8.5 0l0.3 10.7l1.1 10.8l1.1 2.9l9 7.8l1.9 0.7l10.9 10l0.1 0.2l11 10.3l11 -2.6l6.5 -7.9l4.4 -6.1l3.9 -4.6l7.1 -6.6l4.7 -4.1l2.7 -10.8l-1.5 -10.7l5.1 0l11 0l0 0l2.7 10.7l0.3 10.8l-3 4.6l-7.3 6.1l-3.7 1.9l-10.4 8.8l0.4 10.7l10 4.1l11 5.8l0.8 0.9l7.8 10.7l2.4 2.8l10.9 2.6l11 -3.3l11 1.6l4.1 7l-0.6 10.8l-1.3 10.7l4.5 10.7l4.3 2.7l11 6.4l1.5 1.6l5.4 10.8l4 4.8l11 2.7l11 -0.7l11 2.1l1.8 1.8l6.3 10.7l2.9 3.6l7 7.1l3.9 2.8l11 7.4l0.5 0.6l7.1 10.7l3.4 7.2l1.3 3.5l1.3 10.8l-1.5 10.7l-1.1 2.3l-11 8.1l-0.6 0.3l-3.8 10.7l4.4 6.8l4.4 4l6.6 4.9l5 5.8l-5 0l-11 0l-11 0l-10.9 0l-5.7 0l0.1 -10.7l-1.6 -10.8l-3.8 -4.3l-11 -3.8l-11 0.1l-11 1.2l-10.9 0.7l-11 -0.7l-11 -2.9l-4.2 -1l-6.8 -1.9l-11 0.8l-10.9 -1.7l-7.3 -7.9l-3.7 -6.3l-3.8 -4.4l-7.2 -4.4l-11 -0.4l-11 0.8l-10.9 -0.1l-11 0.2l-11 0.9l-11 -1.5l-10.1 -6.3l-0.8 -0.5l-8.6 -10.2l-2.4 -3.3l-6.3 -7.4l-4.7 -5.4l-9.1 -5.4l-1.9 -1.3l-8.5 -9.4l-2.5 -6.2l-1.6 -4.5l0.2 -10.7l1.4 -4l3.6 -6.8l7.4 -5.2l7.6 -5.5l3.4 -4.3l4.1 -6.4l6.9 -6.5l9.9 -4.2l1.1 -1.1l3.5 -9.7l-0.4 -10.7l-2.7 -10.7l-0.4 -0.8l-11 -7.6l-3.9 -2.4l-7 -10.7l0.9 -10.7l2.3 -10.7l0.6 -10.8l-0.3 -10.7zM145.7 444.2l0.7 10.8l2.7 10.7l-2 10.7l-1.6 1.7l-11 3.6l-7.8 5.4l-1.7 10.8l0.7 10.7l-0.7 10.7l-1.4 7.5l-0.7 3.2l0.7 3.4l1.6 7.4l9.3 8.8l9.7 1.9l1.3 0.2l2.1 -0.2l8.9 -1l11 -0.6l10.9 0.6l11 0.4l11 -1.5l11 -8l0.4 -0.6l9.9 -10.8l0.7 -0.6l9.5 -10.1l1.4 -4.6l2.3 -6.1l-0.7 -10.7l0.2 -10.8l1.5 -10.7l-0.8 -10.7l-2.5 -3.2l-10.6 -7.5l-0.3 -0.2l-11 -9.8l-1 -0.8l-10 -9.8l-11 0.5l-11 3.3l-10.9 0.1l-11 -0.1zM263 530l-4.8 10.8l1.7 10.7l0.2 10.7l-2.8 10.8l3.8 10.7l5.2 2.9l11 1.7l10.9 -1l11 -0.3l11 0.3l11 -2.3l2.1 -1.3l8.9 -7.9l6 -2.8l4.9 -3.5l7.6 -7.3l-5.5 -10.7l-2.1 -1.8l-10.9 -8.6l-0.5 -0.3l-10.5 -9.2l-2.9 -1.6l-8.1 -5.7l-11 0.8l-11 1.2l-10.9 -0.9l-11 2.2zM156.5 358.4l11 0l3.2 0l-3.2 5.7l-8.8 5l-2.2 0.9l-1.2 -0.9l-8.5 -10.7zM288.2 358.4l11 0l11 0l11 0l6 0l5 7l3.3 3.7l7.6 5.5l11 -0.2l7.2 -5.3l3.8 -6.4l1.1 -4.3l9.9 0l0.6 0l0 10.7l-0.6 2.3l-3.6 8.5l-7.4 6.1l-8.8 4.6l-2.2 1.6l-11 0.2l-3.4 -1.8l-7.5 -3.7l-6.1 -7l-4.9 -5.5l-10.1 -5.3l-0.9 -0.5l-3.1 0.5l-7.9 1.3l-3.9 -1.3l-7.1 -2.4l-7 -8.3zM595.6 358.4l11 0l11 0l11 0l11 0l10.9 0l11 0l11 0l0 10.7l0 1.2l-10.4 -1.2l-0.6 0l-0.7 0l-10.3 1.1l-10.4 9.7l-0.5 0.7l-9.5 10l-1.5 1.1l-11 -0.2l-11 0l-11 8.7l-1.1 1.1l-9.8 8.4l-3.1 2.3l-7.9 8.1l-2.3 2.7l1.2 10.7l1.1 0.7l11 3.4l8.2 6.6l2.3 10.8l-10.5 7.3l-5.2 3.4l-5.8 2.2l-11 5l-6 3.5l-5 2.2l-7.5 8.5l-3.4 7.3l-1.5 3.5l-3.2 10.7l0 10.7l3.2 10.7l1.5 4.6l3 6.2l4.4 10.7l3.5 6.2l4.9 4.5l6.1 3.9l11 0.7l11 -1.2l10.9 0.1l11 0.1l11 -0.7l11 0l11 2.9l8.2 5l2.7 1.4l11 1.1l11 -1.3l0 9.5l0 3.1l-11 0.7l-11 -0.7l-8 -3.1l-2.9 -1.7l-11 -5.6l-11 -0.8l-11 1.1l-11 0.1l-10.9 -0.2l-11 0.9l-11 -0.5l-7.3 -4l-3.7 -2.2l-7.1 -8.6l-3.8 -7.4l-1.2 -3.3l-2.8 -10.7l-3.5 -10.8l-3.5 -10.7l0 -7.4l-0.1 -3.3l0.1 -0.1l3.2 -10.6l4 -10.8l3.8 -9l1.3 -1.7l9.6 -10.2l1.1 -0.5l-1.1 -6.3l-0.5 -4.4l-4.5 -10.8l-0.6 -10.7l5.6 -9.4l0.8 -1.3l10.2 -10.2l0.5 -0.6l10.5 -10.1l0.8 -0.6l10.2 -8.5l2.2 -2.2l7.4 -10.7l1.3 -8.3l0.5 -2.5l-0.5 -2.7l-1.2 -8zM650.5 411.8l11 -0.8l11 0.9l0 0.1l0 10.8l0 10.7l0 4.1l-11 0.8l-11 -0.7l-7.3 -4.2l-3.6 -9.8l-0.3 -0.9l0.3 -0.4l10.4 -10.4z"/>
<path fill="#63ff94" stroke="#63ff94" stroke-width="0.6" d="M57.7 358.4l11 0l10.9 0l11 0l11 0l3.6 0l0.3 10.7l-0.6 10.8l-2.3 10.7l-0.9 10.7l7 10.7l3.9 2.4l11 7.6l0.4 0.8l2.7 10.7l0.4 10.7l-3.5 9.7l-1.1 1.1l-9.9 4.2l-6.9 6.5l-4.1 6.4l-3.4 4.3l-7.6 5.5l-7.4 5.2l-3.6 6.8l-1.4 4l-0.2 10.7l1.6 4.5l2.5 6.2l8.5 9.4l1.9 1.3l9.1 5.4l4.7 5.4l6.3 7.4l2.4 3.3l8.6 10.2l0.8 0.5l10.1 6.3l11 1.5l11 -0.9l11 -0.2l10.9 0.1l11 -0.8l11 0.4l7.2 4.4l3.8 4.4l3.7 6.3l7.3 7.9l10.9 1.7l11 -0.8l6.8 1.9l4.2 1l11 2.9l11 0.7l10.9 -0.7l11 -1.2l11 -0.1l11 3.8l3.8 4.3l1.6 10.8l-0.1 10.7l-5.3 0l-11 0l-11 0l-11 0l-10.9 0l-11 0l-11 0l-11 0l-11 0l-10.9 0l-11 0l-11 0l-11 0l-11 0l-10.9 0l-11 0l-11 0l-11 0l-10.9 0l-11 0l-9.4 0l8.5 -10.7l0.9 -0.4l11 -8l1.6 -2.4l2 -10.7l-3.3 -10.7l-0.3 -0.3l-6.8 -10.4l-4.2 -5.4l-2.8 -5.4l-7.5 -10.7l-0.7 -0.7l-11 -8.6l-2.6 -1.4l-8.4 -5.5l-10.9 -5l-7.6 -0.3l-3.4 -0.3l-1 0.3l-10 1.2l0 -1.2l0 -10.7l0 -10.7l0 -10.7l0 -10.8l0 -6.1l7.2 -4.6l3.8 -8.2l0.8 -2.5l0.7 -10.7l-1.5 -6.7l-1.3 -4.1l-9.7 -7.5l0 -3.2l0 -10.7l0 -10.8l0 -10.7l0 -8.8l3.2 -1.9l7.8 -10.6l0 -0.1l0.8 -10.8l-0.8 -9.2l-0.2 -1.5zM222.4 358.4l10.9 0l11 0l11 0l11 0l11 0l3.9 0l7 8.3l7.1 2.4l3.9 1.3l7.9 -1.3l3.1 -0.5l0.9 0.5l10.1 5.3l4.9 5.5l6.1 7l7.5 3.7l3.4 1.8l11 -0.2l2.2 -1.6l8.8 -4.6l7.4 -6.1l3.6 -8.5l0.6 -2.3l0 -10.7l10.3 0l2.2 0l2.8 10.7l1 10.8l-6 8.3l-2.5 2.4l-8.4 5.4l-5 5.3l0.1 10.7l2.1 10.8l-8.2 10.5l-0.3 0.2l-10.7 8.6l-1.8 2.1l-9.2 9.9l-1.4 0.9l-9.5 5.3l-5.4 5.4l0.4 10.7l5 4.1l10.9 3.5l5.4 3.1l3 10.8l-1.9 10.7l3 10.7l1.5 1.3l6.2 9.4l4.8 6.4l2.4 4.4l5.7 10.7l2.9 9.3l0.5 1.4l0.3 10.8l0.3 10.7l5.4 10.7l4.4 3.4l9.4 7.3l1.6 1.9l8.6 8.9l2.4 2.1l8.5 8.6l-8.5 0l-11 0l-11 0l-10.9 0l-6 0l-5 -5.8l-6.6 -4.9l-4.4 -4l-4.4 -6.8l3.8 -10.7l0.6 -0.3l11 -8.1l1.1 -2.3l1.5 -10.7l-1.3 -10.8l-1.3 -3.5l-3.4 -7.2l-7.1 -10.7l-0.5 -0.6l-11 -7.4l-3.9 -2.8l-7 -7.1l-2.9 -3.6l-6.3 -10.7l-1.8 -1.8l-11 -2.1l-11 0.7l-11 -2.7l-4 -4.8l-5.4 -10.8l-1.5 -1.6l-11 -6.4l-4.3 -2.7l-4.5 -10.7l1.3 -10.7l0.6 -10.8l-4.1 -7l-11 -1.6l-11 3.3l-10.9 -2.6l-2.4 -2.8l-7.8 -10.7l-0.8 -0.9l-11 -5.8l-10 -4.1l-0.4 -10.7l10.4 -8.8l3.7 -1.9l7.3 -6.1l3 -4.6l-0.3 -10.8l-2.7 -10.7zM251.2 369.1l-6.9 2.3l-8.1 8.5l-0.6 10.7l1.5 10.7l3.9 10.7l3.3 2.4l11 1.9l11 -1l6.9 -3.3l4.1 -3.3l4.5 -7.4l1.9 -10.7l-3.6 -10.7l-2.8 -3.1l-9.8 -7.7l-1.2 -1l-11 -0.2zM551.7 358.4l11 0l11 0l11 0l9.7 0l1.2 8l0.5 2.7l-0.5 2.5l-1.3 8.3l-7.4 10.7l-2.2 2.2l-10.2 8.5l-0.8 0.6l-10.5 10.1l-0.5 0.6l-10.2 10.2l-0.8 1.3l-5.6 9.4l0.6 10.7l4.5 10.8l0.5 4.4l1.1 6.3l-1.1 0.5l-9.6 10.2l-1.3 1.7l-3.8 9l-4 10.8l-3.2 10.6l-0.1 0.1l0.1 3.3l0 7.4l3.5 10.7l3.5 10.8l2.8 10.7l1.2 3.3l3.8 7.4l7.1 8.6l3.7 2.2l7.3 4l11 0.5l11 -0.9l10.9 0.2l11 -0.1l11 -1.1l11 0.8l11 5.6l2.9 1.7l8 3.1l11 0.7l11 -0.7l0 7.6l0 2.7l-11 0.5l-11 -0.4l-7.8 -2.8l-3.1 -0.8l-11 -4.1l-11 -1.2l-11 1.6l-11 0.4l-10.9 -0.3l-11 0.7l-11 -0.2l-11 -5.2l-1.2 -1.6l-9.7 -10.7l0 -0.1l-5.7 -10.7l-2.3 -10.7l-2 -10.7l-1 -3.3l-2.1 -7.5l-3 -10.7l-0.7 -10.7l2.3 -10.7l3.5 -10.7l0 -0.1l2.2 -10.7l0.9 -10.7l-2.1 -10.7l-1 -3.2l-3.6 -7.6l-1.9 -10.7l4.8 -10.7l0.7 -0.7l11 -9.5l0.6 -0.6l8.9 -10.7l-0.7 -10.7l-2.9 -10.7l-0.4 -10.8l0.6 -10.7zM617.6 624.8l11 -8.5l11 0.3l10.9 1.8l11 0.4l11 -0.5l0 8.3l-11 0l-11 0l-10.9 0l-11 0l-11 0l-1.1 0z"/>
<path fill="#97ff60" stroke="#97ff60" stroke-width="0.6" d="M57.7 359.9l0.8 9.2l-0.8 10.8l0 0.1l-7.8 10.6l-3.2 1.9l0 -1.9l0 -10.7l0 -10.8l0 -10.7l10.8 0zM255.3 367.9l11 0.2l1.2 1l9.8 7.7l2.8 3.1l3.6 10.7l-1.9 10.7l-4.5 7.4l-4.1 3.3l-6.9 3.3l-11 1l-11 -1.9l-3.3 -2.4l-3.9 -10.7l-1.5 -10.7l0.6 -10.7l8.1 -8.5l6.9 -2.3zM398 358.4l11 0l11 0l11 0l2.2 0l-2.2 5.5l-5.1 5.2l-5.9 6.3l-4.1 4.5l-0.3 10.7l1.8 10.7l-2.3 10.7l-6.1 3.2l-11 2.7l-4.7 4.9l-6.3 6.9l-2.4 3.8l-8.5 8.9l-2.3 1.8l-4.6 10.8l3 10.7l-1.8 10.7l-3.8 10.7l-1.5 7.6l-0.7 3.2l-0.1 10.7l0.8 2.7l1.9 8l5 10.7l4.1 7.3l2.6 3.5l7.8 10.7l0.5 1.8l4.5 8.9l-3.1 10.8l2.2 10.7l7.4 6.4l5.7 4.3l5.3 4.9l5.2 5.8l5.8 5.3l7.7 5.5l3.3 3.7l5.1 7l-5.1 0l-11 0l-2.5 0l-8.5 -8.6l-2.4 -2.1l-8.6 -8.9l-1.6 -1.9l-9.4 -7.3l-4.4 -3.4l-5.4 -10.7l-0.3 -10.7l-0.3 -10.8l-0.5 -1.4l-2.9 -9.3l-5.7 -10.7l-2.4 -4.4l-4.8 -6.4l-6.2 -9.4l-1.5 -1.3l-3 -10.7l1.9 -10.7l-3 -10.8l-5.4 -3.1l-10.9 -3.5l-5 -4.1l-0.4 -10.7l5.4 -5.4l9.5 -5.3l1.4 -0.9l9.2 -9.9l1.8 -2.1l10.7 -8.6l0.3 -0.2l8.2 -10.5l-2.1 -10.8l-0.1 -10.7l5 -5.3l8.4 -5.4l2.5 -2.4l6 -8.3l-1 -10.8l-2.8 -10.7zM540.8 358.4l6.1 0l-0.6 10.7l0.4 10.8l2.9 10.7l0.7 10.7l-8.9 10.7l-0.6 0.6l-11 9.5l-0.7 0.7l-4.8 10.7l1.9 10.7l3.6 7.6l1 3.2l2.1 10.7l-0.9 10.7l-2.2 10.7l0 0.1l-3.5 10.7l-2.3 10.7l0.7 10.7l3 10.7l2.1 7.5l1 3.3l2 10.7l2.3 10.7l5.7 10.7l0 0.1l9.7 10.7l1.2 1.6l11 5.2l11 0.2l11 -0.7l10.9 0.3l11 -0.4l11 -1.6l11 1.2l11 4.1l3.1 0.8l7.8 2.8l11 0.4l11 -0.5l0 8l0 10.8l0 2.4l-11 0.5l-11 -0.4l-10.9 -1.8l-11 -0.3l-11 8.5l-1.1 1.8l-9.9 0l-11 0l-10.9 0l-11 0l-11 0l-11 0l-10.9 0l-11 0l-2.8 0l-0.6 -10.7l-0.7 -10.8l-0.5 -10.7l0.3 -10.7l0.8 -10.7l0.2 -10.8l-0.1 -10.7l-1.2 -10.7l-2.7 -10.8l-3 -10.7l-0.7 -6.7l-0.5 -4l0.5 -6.2l0.4 -4.5l2.1 -10.8l1.1 -10.7l-1.9 -10.7l-1.7 -3.3l-7.3 -7.4l-3.7 -4.3l-5.4 -6.5l-0.9 -10.7l4.9 -10.7l1.4 -1.5l9 -9.3l2 -1.6l9.5 -9.1l1.5 -3.8l2.1 -6.9l0.1 -10.7l-0.1 -10.8l0 -10.7zM56.4 444.2l1.3 4.1l1.5 6.7l-0.7 10.7l-0.8 2.5l-3.8 8.2l-7.2 4.6l0 -4.6l0 -10.7l0 -10.7l0 -10.8l0 -7.5zM57.7 529.7l3.4 0.3l7.6 0.3l10.9 5l8.4 5.5l2.6 1.4l11 8.6l0.7 0.7l7.5 10.7l2.8 5.4l4.2 5.4l6.8 10.4l0.3 0.3l3.3 10.7l-2 10.7l-1.6 2.4l-11 8l-0.9 0.4l-8.5 10.7l-1.6 0l-11 0l-11 0l-10.9 0l-11 0l-0.4 0l0.4 -0.6l11 -9.6l0.9 -0.5l9.8 -10.8l0.2 -0.8l6.7 -9.9l4.3 -2.1l11 -3.4l3 -5.2l-1.2 -10.7l-1.8 -4.3l-2.7 -6.5l-8.3 -9.6l-1.3 -1.1l-9.7 -5.4l-10.9 -4.2l-11 -1.1l-11 0.1l0 -0.1l0 -9.6l10 -1.2z"/>
<path fill="#caff2c" stroke="#caff2c" stroke-width="0.6" d="M431 363.9l2.2 -5.5l8.7 0l1.8 0l-1.8 10.3l-0.1 0.4l-3.9 10.8l-3.1 10.7l0.9 10.7l1.9 10.7l0.9 10.8l-2.7 10.7l-4.8 3.7l-11 -0.5l-11 -2.9l-11 5.1l-4.3 5.3l-1.9 10.8l2.2 10.7l-6.2 10.7l-0.8 0.6l-8.2 10.1l-2.7 6l-1.5 4.8l0 10.7l1.5 5.5l1.8 5.2l6.5 10.7l2.6 3.6l9.9 7.2l1.1 0.9l11 9.3l0.5 0.5l9.1 10.7l1.4 1.4l11 8.8l0.5 0.6l9.7 10.7l0.7 0.8l11 9.9l0 0l8.4 10.7l2.6 3.7l11 6.1l11 0.5l10.9 -1.5l9.2 -8.8l1.1 -10.7l0.7 -2.4l2.1 -8.3l5.4 -10.7l3.4 -10.8l0.1 -0.7l1.4 -10l-0.5 -10.7l-0.9 -4l-2 -6.8l-3 -10.7l-1.5 -10.7l-0.9 -10.7l-0.5 -10.8l-1.1 -10.7l-2 -3.9l-6.6 -6.8l-4.4 -3.1l-8 -7.6l-2.9 -5.2l-3.4 -5.6l-0.4 -10.7l1.8 -10.7l2 -4.3l4.5 -6.5l6.4 -2.5l11 -7.2l1.2 -1l9 -10.7l0.8 -2.7l2.3 -8l0.3 -10.8l-0.5 -10.7l8.9 0l2.1 0l0 10.7l0.1 10.8l-0.1 10.7l-2.1 6.9l-1.5 3.8l-9.5 9.1l-2 1.6l-9 9.3l-1.4 1.5l-4.9 10.7l0.9 10.7l5.4 6.5l3.7 4.3l7.3 7.4l1.7 3.3l1.9 10.7l-1.1 10.7l-2.1 10.8l-0.4 4.5l-0.5 6.2l0.5 4l0.7 6.7l3 10.7l2.7 10.8l1.2 10.7l0.1 10.7l-0.2 10.8l-0.8 10.7l-0.3 10.7l0.5 10.7l0.7 10.8l0.6 10.7l-8.2 0l-11 0l-11 0l-10.9 0l-11 0l-11 0l-11 0l-11 0l-5.8 0l-5.1 -7l-3.3 -3.7l-7.7 -5.5l-5.8 -5.3l-5.2 -5.8l-5.3 -4.9l-5.7 -4.3l-7.4 -6.4l-2.2 -10.7l3.1 -10.8l-4.5 -8.9l-0.5 -1.8l-7.8 -10.7l-2.6 -3.5l-4.1 -7.3l-5 -10.7l-1.9 -8l-0.8 -2.7l0.1 -10.7l0.7 -3.2l1.5 -7.6l3.8 -10.7l1.8 -10.7l-3 -10.7l4.6 -10.8l2.3 -1.8l8.5 -8.9l2.4 -3.8l6.3 -6.9l4.7 -4.9l11 -2.7l6.1 -3.2l2.3 -10.7l-1.8 -10.7l0.3 -10.7l4.1 -4.5l5.9 -6.3zM57.7 540.8l11 1.1l10.9 4.2l9.7 5.4l1.3 1.1l8.3 9.6l2.7 6.5l1.8 4.3l1.2 10.7l-3 5.2l-11 3.4l-4.3 2.1l-6.7 9.9l-0.2 0.8l-9.8 10.8l-0.9 0.5l-11 9.6l-0.4 0.6l-10.6 0l0 -10.7l0 -10.8l0 -10.7l0 -4.1l8.7 -6.6l2.3 -1.4l11 -9.1l1.2 -0.2l9.7 -4.6l3.6 -6.2l-3.6 -2.7l-10.1 -8l-0.8 -0.3l-11 -2.8l-11 -1l0 -6.5z"/>
<path fill="#feed00" stroke="#feed00" stroke-width="0.6" d="M441.9 368.7l1.8 -10.3l9.2 0l6.2 0l0.1 10.7l1.9 10.8l2.8 4.3l4.8 6.4l6.2 3.7l11 3.7l10.9 -1l9.3 -6.4l1.7 -2.1l4.1 -8.6l0.7 -10.8l-0.8 -10.7l7 0l2.1 0l0.5 10.7l-0.3 10.8l-2.3 8l-0.8 2.7l-9 10.7l-1.2 1l-11 7.2l-6.4 2.5l-4.5 6.5l-2 4.3l-1.8 10.7l0.4 10.7l3.4 5.6l2.9 5.2l8 7.6l4.4 3.1l6.6 6.8l2 3.9l1.1 10.7l0.5 10.8l0.9 10.7l1.5 10.7l3 10.7l2 6.8l0.9 4l0.5 10.7l-1.4 10l-0.1 0.7l-3.4 10.8l-5.4 10.7l-2.1 8.3l-0.7 2.4l-1.1 10.7l-9.2 8.8l-10.9 1.5l-11 -0.5l-11 -6.1l-2.6 -3.7l-8.4 -10.7l0 0l-11 -9.9l-0.7 -0.8l-9.7 -10.7l-0.5 -0.6l-11 -8.8l-1.4 -1.4l-9.1 -10.7l-0.5 -0.5l-11 -9.3l-1.1 -0.9l-9.9 -7.2l-2.6 -3.6l-6.5 -10.7l-1.8 -5.2l-1.5 -5.5l0 -10.7l1.5 -4.8l2.7 -6l8.2 -10.1l0.8 -0.6l6.2 -10.7l-2.2 -10.7l1.9 -10.8l4.3 -5.3l11 -5.1l11 2.9l11 0.5l4.8 -3.7l2.7 -10.7l-0.9 -10.8l-1.9 -10.7l-0.9 -10.7l3.1 -10.7l3.9 -10.8zM417 465.7l-7.4 10.7l-0.6 0.6l-11 10l-0.1 0.1l-9.7 10.8l0 10.7l7 10.7l2.8 2.6l8.4 8.1l2.6 2.1l8.9 8.7l2.1 2.1l10.2 8.6l0.8 0.7l8.4 10l2.5 2.7l7.3 8.1l3.7 3.5l8.3 7.2l2.7 2.6l9.9 8.1l1.1 1l11 0.7l1.9 -1.7l9 -7.4l1.7 -3.3l8.6 -10.7l0.7 -1.2l4.6 -9.6l1.5 -10.7l-1.2 -10.7l-2.7 -10.8l-2 -10.7l-0.2 -1.2l-2.1 -9.5l-3.3 -10.7l-5 -10.8l-0.6 -1l-7 -9.7l-3.9 -4l-7.8 -6.7l-3.2 -3l-11 -3.5l-11 1l-11 -0.2l-10.9 -1.2l-11 2.6zM57.7 548.4l11 2.8l0.8 0.3l10.1 8l3.6 2.7l-3.6 6.2l-9.7 4.6l-1.2 0.2l-11 9.1l-2.3 1.4l-8.7 6.6l0 -6.6l0 -7.9l4 -2.8l7 -8.4l2 -2.4l-2 -1.6l-11 -5.1l0 -4l0 -4.1z"/>
<path fill="#ffb200" stroke="#ffb200" stroke-width="0.6" d="M463.9 358.4l11 0l4.8 0l-2.3 10.7l1.4 10.8l7.1 6.1l10.9 -0.4l4.9 -5.7l1.3 -10.8l-1.6 -10.7l6.4 0l4 0l0.8 10.7l-0.7 10.8l-4.1 8.6l-1.7 2.1l-9.3 6.4l-10.9 1l-11 -3.7l-6.2 -3.7l-4.8 -6.4l-2.8 -4.3l-1.9 -10.8l-0.1 -10.7zM420 461.4l11 -2.6l10.9 1.2l11 0.2l11 -1l11 3.5l3.2 3l7.8 6.7l3.9 4l7 9.7l0.6 1l5 10.8l3.3 10.7l2.1 9.5l0.2 1.2l2 10.7l2.7 10.8l1.2 10.7l-1.5 10.7l-4.6 9.6l-0.7 1.2l-8.6 10.7l-1.7 3.3l-9 7.4l-1.9 1.7l-11 -0.7l-1.1 -1l-9.9 -8.1l-2.7 -2.6l-8.3 -7.2l-3.7 -3.5l-7.3 -8.1l-2.5 -2.7l-8.4 -10l-0.8 -0.7l-10.2 -8.6l-2.1 -2.1l-8.9 -8.7l-2.6 -2.1l-8.4 -8.1l-2.8 -2.6l-7 -10.7l0 -10.7l9.7 -10.8l0.1 -0.1l11 -10l0.6 -0.6l7.4 -10.7zM418.5 487.1l-6.5 10.8l0 10.7l5.6 10.7l2.4 2.8l11 5.6l10.9 -1.7l11 0l5.3 4l2.9 10.8l-0.5 10.7l2.8 10.7l0.5 0.6l7.9 10.2l3.1 2.4l11 4l10.9 -4.3l1.8 -2.1l7.2 -10.8l1.7 -10.7l-3.9 -10.7l-3.9 -10.8l-0.3 -10.7l-1.8 -10.7l-0.8 -1.9l-7.2 -8.8l-3.7 -5l-5.8 -5.8l-5.2 -5.3l-11 -3.7l-11 1.6l-11 -0.3l-10.9 -0.4l-11 6.6zM57.7 560.6l2 1.6l-2 2.4l-7 8.4l-4 2.8l0 -2.8l0 -10.8l0 -6.7z"/>
<path fill="#ff7700" stroke="#ff7700" stroke-width="0.6" d="M485.9 358.4l10.9 0l4.6 0l1.6 10.7l-1.3 10.8l-4.9 5.7l-10.9 0.4l-7.1 -6.1l-1.4 -10.8l2.3 -10.7zM420 485.6l11 -6.6l10.9 0.4l11 0.3l11 -1.6l11 3.7l5.2 5.3l5.8 5.8l3.7 5l7.2 8.8l0.8 1.9l1.8 10.7l0.3 10.7l3.9 10.8l3.9 10.7l-1.7 10.7l-7.2 10.8l-1.8 2.1l-10.9 4.3l-11 -4l-3.1 -2.4l-7.9 -10.2l-0.5 -0.6l-2.8 -10.7l0.5 -10.7l-2.9 -10.8l-5.3 -4l-11 0l-10.9 1.7l-11 -5.6l-2.4 -2.8l-5.6 -10.7l0 -10.7l6.5 -10.8zM478.5 551.5l1.3 10.7l6.1 5.2l10.9 -3.1l1.5 -2.1l0.1 -10.7l-1.6 -2.8l-10.9 -4.6z"/>
<path fill="#ff3b00" stroke="#ff3b00" stroke-width="0.6" d="M485.9 544.1l10.9 4.6l1.6 2.8l-0.1 10.7l-1.5 2.1l-10.9 3.1l-6.1 -5.2l-1.3 -10.7z"/>
<path fill="none" stroke="#000" stroke-width="1.05" stroke-linejoin="round" d="M42.2 392.4L46.7 395.5L55.6 402.2L68.2 408.5L78 405.8L91.4 401.3L100.3 400.9L109.3 402.2L117.3 405.3L127.2 401.3L136.1 396.8L145 394.2L151.3 391.5L160.2 390.6L169.2 389.7L179 391.5L185.3 400.4L189.7 408.5L199.6 408.5L212.1 406.7L218.3 413.8L222.8 425.4L221 435.3L216.6 444.2L219.2 453.2L225.1 464.8L232.7 474.6L240.7 484.5L245.2 494.3L249.6 505L254.1 517.5L257.7 530L258.6 539L257.7 548.8L252.3 561.3L247.8 571.2L245.2 584.6L242.5 595.3L243.4 606.9L245.2 615.9L248.7 623L252.3 631.1M593.8 353.9L590.3 358.4L586.7 371.8L575.1 385.2L563.4 403.1L551.8 410.3L541.1 422.8L533.9 428.1L525 437.1L517.8 444.2L508 463L498.2 470.1L491 483.6L486.5 489.8L483.9 501.4L487.4 508.6L487.4 519.3L491 532.7L497.3 540.8L498.2 550.6L498.2 559.5L499.1 573L496.4 583.7L489.2 593.5L475.8 602.5L466.9 606.9L457.9 615.9L450.8 623.9L447.2 631.1M576.8 555.1L582.2 566.7L585.8 583.7L583.1 590.8L580.4 598L577.7 606.9L574.2 617.7L570.6 631.1L532.1 631.1L532.1 617.7L529.5 608.7L532.1 599.8L533.9 593.5L541.1 590.8L550 588.2L558.1 581.9L564.3 574.7L568.8 567.6L574.2 558.7L576.8 555.1M420.4 450.5L426.6 446L435.6 445.1L441 449.6L440.1 456.7L437.4 465.7L431.1 470.1L422.2 470.1L418.6 461.2L420.4 455L420.4 450.5M396.3 477.3L398.9 477.3L400.7 488L403.4 500.5L409.7 510.4L415 522L413.2 525.6L408.8 522L405.2 511.3L399.8 502.3L397.1 490.7L396.3 477.3M441 532.7L443.6 533.6L446.3 546.1L449 555.1L451.7 566.7L450.8 575.6L448.1 575.6L444.5 566.7L441.8 555.1L440.1 543.5L441 532.7M408.8 437.1L416.8 428.1L414.1 427.2L407 435.3L408.8 437.1M457 406.7L460.6 418.3L463.3 425.4L459.7 421L456.2 412L457 406.7M395.4 463L398 463L398 471L395.4 469.3L395.4 463M134.3 390.6L137.9 383.4L136.1 376.3L130.7 370.9L125.4 373.6L132.5 379.9L134.3 390.6M390.9 524.7L396.3 523.8L397.1 531.8L392.7 530.9L390.9 524.7M375.7 607.8L386.4 601.6L395.4 596.2L391.8 598.9L381.9 605.1L375.7 607.8"/><path fill="none" stroke="#000" stroke-width="0.8" stroke-linejoin="round" d="M69 408.5L68.2 398.6L61 390.6L60.1 379.9L62.8 371.8L65.5 353.9M60.1 379.9L51.2 371.8L44 371.8L37.8 370M108.4 402.2L111.1 385.2L113.8 374.5L112 362.9L111.1 353.9M146.8 393.3L141.5 386.1L140.6 373.6L138.8 353.9M150.4 392.4L150.4 367.3L148.6 353.9M160.2 390.6L160.2 367.3L168.3 353.9M213 406.7L221.9 389.7L234.4 388.8L243.4 376.3L252.3 362.9L256.8 353.9M223.7 428.1L237.1 427.2L255 428.1L265.7 429L279.1 432.6L280.9 427.2L284.5 416.5L302.4 416.5M237.1 427.2L237.1 438.9L221 438.9M237.1 427.2L252.3 435.3L261.3 435.3L264.8 462.1L261.3 469.3L247.8 469.3L238.9 479.1L236.2 482.7M265.7 353.9L265.7 389.7L270.2 403.1L279.1 428.1M245.2 494.3L252.3 499.7L272.9 486.2L280.9 467.5L294.3 452.3L297.9 443.3L302.4 416.5L310.4 403.1L323.8 409.4L339.9 405.8L355.1 402.2L368.5 401.3L381.1 402.2L395.4 408.5L412.3 416.5L431.1 413.8L440.1 410.3M249.6 501.4L279.1 501.4L283.6 514.8L292.6 520.2L306 519.3L310.4 510.4L331 513.1L331 532.7L335.5 546.1L350.7 546.1L362.3 547.9L373 554.2L379.3 551.5L390 557.8L395.4 567.6L402.5 565.8L402.5 556.9L390.9 546.1L390.9 532.7L410.6 522M350.7 546.1L350.7 564L332.8 564L332.8 592.6L344.4 604.2L361.4 606.9M242.5 602.5L256.8 599.8L301.5 603.4L323.8 611.4L344.4 604.2M323.8 611.4L323.8 644.5M361.4 606.9L377.5 607.8L390.9 595.3L407.9 587.3L430.2 597.1L430.2 613.2L427.5 631.1M361.4 606.9L368.5 613.2L381.9 631.1M407.9 587.3L406.1 578.3L430.2 569.4L432.9 559.5L433.8 544.4L431.1 532.7L430.2 531.8L415 524.7M428.4 569.4L439.2 576.5L444.5 578.3L451.7 591.7L450.8 600.7L456.2 590.8L457 579.2L451.7 568.5M448.1 550.6L466.9 551.5L480.3 548.8L497.3 540.8M412.3 416.5L415.9 428.1M407 436.2L403.4 443.3L400.7 460.3L395.4 460.3M400.7 460.3L408.8 456.7L440.1 456.7L472.2 474.6L486.5 488.9M408.8 456.7L411.5 469.3L407.9 473.7L411.5 477.3L404.3 486.2L398.9 488M395.4 469.3L403.4 472.8L407.9 473.7M440.1 456.7L440.1 446L444.5 438.9L449 429.9L443.6 410.3L457 406.7L465.1 408.5L475.8 415.6L484.8 416.5L493.7 410.3L510.7 412L502.6 421L502.6 456.7L508 463M510.7 412L525 407.6L538.4 403.1L551.8 389.7L564.3 376.3L547.3 372.7L529.5 367.3L518.7 358.4L516 353.9M457 406.7L446.3 389.7L431.1 378.1L432.9 372.7L441 370.9L441 353.9M274.7 380.8L297 376.3L306 367.3L328.3 353.9M346.2 370L359.6 356.6L368.5 353.9M381.1 402.2L364.1 385.2L346.2 370L337.2 353.9"/>
<path fill="none" stroke="#000" stroke-width="1.7" d="M46.7 358.4l5.5 5.5M69 358.4l8 8M91.4 358.4l10.5 10.5M113.8 358.4l10.5 10.5M136.1 358.4l10.5 10.5M158.4 358.4l8 8M180.8 358.4l5.5 5.5M203.1 358.4l5.5 5.5M225.5 358.4l5.5 5.5M247.8 358.4l8 8M270.2 358.4l10.5 10.5M292.6 358.4l10.5 10.5M314.9 358.4l10.5 10.5M337.2 358.4l11 2.2M359.6 358.4l13.7 -5.7M381.9 358.4l16.9 -7M404.3 358.4l20.1 -8.3M426.6 358.4l13.9 -13.9M449 358.4l8.3 -20.1M471.3 358.4l-1.6 -3.3M493.7 358.4l-13.7 5.7M516 358.4l0 -0.6M538.4 358.4l15.4 -15.4M560.8 358.4l15.4 -15.4M583.1 358.4l15.4 -15.4M605.5 358.4l15.4 -15.4M627.8 358.4l15.4 -15.4M650.1 358.4l15.4 -15.4M46.7 380.8l5.5 5.5M69 380.8l8 8M91.4 380.8l10.5 10.5M113.8 380.8l10.5 10.5M136.1 380.8l10.5 10.5M158.4 380.8l6.8 6.8M180.8 380.8l3 3M203.1 380.8l2.8 4.5M225.5 380.8l2.6 6.2M247.8 380.8l3.8 9.2M270.2 380.8l5.1 12.2M292.6 380.8l6.5 12.1M314.9 380.8l8 12M337.2 380.8l10.1 4.2M359.6 380.8l14.1 -2.8M381.9 380.8l15.5 -4.8M404.3 380.8l16.9 -7M426.6 380.8l8.6 -4.7M449 380.8l1.2 -1.3M471.3 380.8l-0.9 0.1M493.7 380.8l-13.7 5.7M538.4 380.8l14.5 -10.3M560.8 380.8l14.5 -10.3M583.1 380.8l14.5 -10.3M605.5 380.8l14.5 -10.3M627.8 380.8l14.5 -10.3M650.1 380.8l13.7 -11.6M46.7 403.1l5.5 5.5M69 403.1l8 8M91.4 403.1l10.5 10.5M113.8 403.1l10.5 10.5M136.1 403.1l10.5 10.5M158.4 403.1l5.5 5.5M180.8 403.1l0.6 0.6M203.1 403.1l0.9 3.5M225.5 403.1l0 7.8M247.8 403.1l0 11.3M270.2 403.1l0 14.8M292.6 403.1l2.8 14.1M314.9 403.1l5.7 13.7M337.2 403.1l9.4 6.3M359.6 403.1l14.8 0M381.9 403.1l14.1 -2.8M404.3 403.1l13.7 -5.7M426.6 403.1l3.8 1.2M449 403.1l0 7.8M471.3 403.1l-5.6 6.4M493.7 403.1l-13.7 5.7M538.4 403.1l13.7 -5.7M560.8 403.1l13.7 -5.7M583.1 403.1l13.7 -5.7M605.5 403.1l13.7 -5.7M627.8 403.1l13.7 -5.7M650.1 403.1l12 -8M136.1 425.4l0.1 1.2M158.4 425.4l-0.2 0.5M180.8 425.4l-0.5 0.2M203.1 425.4l-0.1 0.6M225.5 425.4l0.9 3.5M247.8 425.4l1.1 5.2M270.2 425.4l1.3 6.9M292.6 425.4l3.3 8.1M314.9 425.4l5.7 9.4M337.2 425.4l5.6 6.2M359.6 425.4l5.3 3.6M381.9 425.4l5.7 2.4M404.3 425.4l6.3 1.2M426.6 425.4l3.3 3.5M449 425.4l1.5 7.4M471.3 425.4l-1.1 5.9M493.7 425.4l-3.6 5.3M538.4 425.4l7.6 -6.5M560.8 425.4l7.6 -6.5M583.1 425.4l7.6 -6.5M605.5 425.4l7.6 -6.5M627.8 425.4l7.6 -6.5M650.1 425.4l7 -7.6M46.7 447.8l-3 -7.2M69 447.8l-3 -7.2M91.4 447.8l-3 -7.2M113.8 447.8l-4.5 -3M136.1 447.8l-7.8 0M158.4 447.8l-7.8 0M180.8 447.8l-7.8 0M203.1 447.8l-0.5 0.2M225.5 447.8l0.6 0.6M247.8 447.8l0.6 0.6M270.2 447.8l0.6 0.6M292.6 447.8l3 3M314.9 447.8l5.5 5.5M337.2 447.8l2.6 6.2M359.6 447.8l0 7.8M381.9 447.8l1.5 7.4M404.3 447.8l3 7.2M426.6 447.8l3 7.2M449 447.8l3 7.2M471.3 447.8l3 7.2M493.7 447.8l3 7.2M516 447.8l0.5 0M538.4 447.8l3 -7.2M560.8 447.8l3 -7.2M583.1 447.8l3 -7.2M605.5 447.8l3 -7.2M627.8 447.8l3 -7.2M650.1 447.8l3 -7.2M91.4 470.1l0.4 -0.4M180.8 470.1l-0.2 0.5M203.1 470.1l0.2 0.9M225.5 470.1l2.1 3.6M247.8 470.1l4 3.6M270.2 470.1l6.7 3.6M292.6 470.1l8 4.6M314.9 470.1l9.4 5.7M337.2 470.1l6.8 7.2M359.6 470.1l4.6 8.9M381.9 470.1l5.5 8.9M404.3 470.1l6.5 8.9M426.6 470.1l5.4 9.6M449 470.1l4.3 10.4M471.3 470.1l4.3 10.4M493.7 470.1l4.3 10.4M538.4 470.1l-3.6 -18.5M560.8 470.1l-3.6 -18.5M583.1 470.1l-3.6 -18.5M605.5 470.1l-3.6 -18.5M627.8 470.1l-3.6 -18.5M650.1 470.1l-3.6 -18.5M46.7 492.5l0.6 0.6M69 492.5l3.6 2.1M91.4 492.5l7.2 3M113.8 492.5l10.4 4.3M136.1 492.5l13.7 5.7M158.4 492.5l9.4 5.7M180.8 492.5l5.5 5.5M203.1 492.5l4.2 6.3M225.5 492.5l3 7.2M247.8 492.5l7.6 6.5M270.2 492.5l13.7 5.7M292.6 492.5l13.7 5.7M314.9 492.5l13.7 5.7M337.2 492.5l12 8M359.6 492.5l10.5 10.5M381.9 492.5l10.5 10.5M404.3 492.5l10.5 10.5M426.6 492.5l8 12M449 492.5l5.7 13.7M471.3 492.5l5.7 13.7M493.7 492.5l5.7 13.7M516 492.5l-1.1 -2.7M538.4 492.5l-12.6 -30.5M560.8 492.5l-12.6 -30.5M583.1 492.5l-12.6 -30.5M605.5 492.5l-12.6 -30.5M627.8 492.5l-12.6 -30.5M650.1 492.5l-12.6 -30.5M46.7 514.8l10.3 1.6M69 514.8l12.3 1.7M91.4 514.8l14.3 1.9M113.8 514.8l14.2 2.3M136.1 514.8l14.1 2.8M158.4 514.8l7.3 4.7M180.8 514.8l2.6 6.2M203.1 514.8l1.8 5.1M225.5 514.8l1.1 4M247.8 514.8l4.7 3.4M270.2 514.8l10.7 2.6M292.6 514.8l10.7 2.6M314.9 514.8l10.7 2.6M337.2 514.8l10.5 6.3M359.6 514.8l10.5 10.5M381.9 514.8l9.2 11.2M404.3 514.8l8 12M426.6 514.8l6.8 12.8M449 514.8l5.7 13.7M471.3 514.8l6.8 12.8M493.7 514.8l8 12M516 514.8l-0.6 -3.5M538.4 514.8l-12.6 -30.5M560.8 514.8l-12.6 -30.5M583.1 514.8l-12.6 -30.5M605.5 514.8l-12.6 -30.5M627.8 514.8l-12.6 -30.5M650.1 514.8l-12.6 -30.5M46.7 537.2l21.8 0M69 537.2l21.8 0M91.4 537.2l21.8 0M113.8 537.2l18.3 0M136.1 537.2l14.8 0M158.4 537.2l5.3 3.6M180.8 537.2l0 7.8M203.1 537.2l0 4.3M225.5 537.2l0 0.8M247.8 537.2l1.5 0.7M270.2 537.2l7.8 0M292.6 537.2l7.8 0M314.9 537.2l7.8 0M337.2 537.2l8.9 4.6M359.6 537.2l10.5 10.5M381.9 537.2l8 12M404.3 537.2l5.7 13.7M426.6 537.2l5.7 13.7M449 537.2l5.7 13.7M471.3 537.2l8 12M493.7 537.2l10.5 10.5M516 537.2l-0 -4.5M538.4 537.2l-12.6 -30.5M560.8 537.2l-12.6 -30.5M583.1 537.2l-12.6 -30.5M605.5 537.2l-12.6 -30.5M627.8 537.2l-12.6 -30.5M650.1 537.2l-12.6 -30.5M46.7 559.5l11.3 0M69 559.5l11.3 0M91.4 559.5l11.3 0M113.8 559.5l9.5 0M136.1 559.5l7.8 0M158.4 559.5l3 1.2M180.8 559.5l0.7 1.5M203.1 559.5l0.2 1M225.5 559.5l0 0.8M247.8 559.5l0.3 0.5M270.2 559.5l1.5 0.7M292.6 559.5l2.7 0.5M314.9 559.5l4.3 0M337.2 559.5l6 3.2M359.6 559.5l8 8M381.9 559.5l5.2 9.1M404.3 559.5l2.6 10.7M426.6 559.5l2.6 10.7M449 559.5l2.6 10.7M471.3 559.5l4.5 9.7M493.7 559.5l6.5 8.9M538.4 559.5l-10.6 -13.3M560.8 559.5l-10 -17.6M583.1 559.5l-9.1 -22.1M605.5 559.5l-9.1 -22.1M627.8 559.5l-9.1 -22.1M650.1 559.5l-9.1 -22.1M46.7 581.9l0.8 0M69 581.9l0.8 0M91.4 581.9l0.8 0M113.8 581.9l0.8 0M136.1 581.9l0.8 0M158.4 581.9l0.8 0M180.8 581.9l0.8 0M225.5 581.9l0 0.8M247.8 581.9l0 0.8M270.2 581.9l0 0.8M314.9 581.9l0.8 0M337.2 581.9l3.1 1.8M359.6 581.9l5.5 5.5M381.9 581.9l2.6 6.2M404.3 581.9l0 7.8M426.6 581.9l0 7.8M449 581.9l0 7.8M471.3 581.9l1.5 7.4M493.7 581.9l3 7.2M516 581.9l-0.9 1.3M538.4 581.9l-7.8 0M560.8 581.9l-6.4 -5.6M583.1 581.9l-5.7 -13.7M605.5 581.9l-5.7 -13.7M627.8 581.9l-5.7 -13.7M650.1 581.9l-5.7 -13.7M46.7 604.2l4.3 0M69 604.2l4.3 0M91.4 604.2l4.3 0M113.8 604.2l4.3 0M136.1 604.2l4.3 0M158.4 604.2l2.6 0M180.8 604.2l0.8 0M203.1 604.2l1 0.2M225.5 604.2l1.5 0.7M247.8 604.2l1.5 0.7M270.2 604.2l1.5 0.7M292.6 604.2l2.7 0.5M314.9 604.2l4.3 0M337.2 604.2l4.6 2.2M359.6 604.2l5.5 5.5M381.9 604.2l2.6 6.2M404.3 604.2l0 7.8M426.6 604.2l0 7.8M449 604.2l0 7.8M471.3 604.2l0 7.3M493.7 604.2l0 6.7M516 604.2l-0 0.5M560.8 604.2l-1.5 -1.7M583.1 604.2l-6.4 -5.6M605.5 604.2l-6.4 -5.6M627.8 604.2l-6.4 -5.6M650.1 604.2l-6.4 -5.6M46.7 626.6l7.8 0M69 626.6l7.8 0M91.4 626.6l7.8 0M113.8 626.6l7.8 0M136.1 626.6l7.8 0M158.4 626.6l4.3 0M180.8 626.6l0.8 0M203.1 626.6l4.3 0M225.5 626.6l7.8 0M247.8 626.6l7.8 0M270.2 626.6l7.8 0M292.6 626.6l7.8 0M314.9 626.6l7.8 0M337.2 626.6l6.2 2.6M359.6 626.6l5.5 5.5M381.9 626.6l2.6 6.2M404.3 626.6l0 7.8M426.6 626.6l0 7.8M449 626.6l0 7.8M471.3 626.6l-1.5 7.4M493.7 626.6l-3 7.2M516 626.6l0.4 0.4M538.4 626.6l7.2 -3M583.1 626.6l-7.8 0M605.5 626.6l-7.8 0M627.8 626.6l-7.8 0M650.1 626.6l-7.8 0"/>
<path fill="#000" d="M56.6 368.3l-5.9 -2.8l3.1 -3.1zM81.4 370.8l-5.9 -2.8l3.1 -3.1zM106.2 373.2l-5.9 -2.8l3.1 -3.1zM128.6 373.2l-5.9 -2.8l3.1 -3.1zM150.9 373.2l-5.9 -2.8l3.1 -3.1zM170.8 370.8l-5.9 -2.8l3.1 -3.1zM190.7 368.3l-5.9 -2.8l3.1 -3.1zM213 368.3l-5.9 -2.8l3.1 -3.1zM235.4 368.3l-5.9 -2.8l3.1 -3.1zM260.2 370.8l-5.9 -2.8l3.1 -3.1zM285 373.2l-5.9 -2.8l3.1 -3.1zM307.4 373.2l-5.9 -2.8l3.1 -3.1zM329.7 373.2l-5.9 -2.8l3.1 -3.1zM354.4 361.8l-6.5 0.9l0.9 -4.3zM379 350.4l-4.9 4.4l-1.7 -4.1zM404.6 349l-4.9 4.4l-1.7 -4.1zM430.2 347.7l-4.9 4.4l-1.7 -4.1zM444.9 340.1l-2.8 5.9l-3.1 -3.1zM459.7 332.5l-0.3 6.6l-4.1 -1.7zM467 349.5l4.7 4.6l-4 1.9zM474.3 366.4l4.9 -4.4l1.7 4.1zM516.2 352.5l1.7 5.4l-3.8 -0.1zM558.2 338.6l-2.8 5.9l-3.1 -3.1zM580.5 338.6l-2.8 5.9l-3.1 -3.1zM602.9 338.6l-2.8 5.9l-3.1 -3.1zM625.2 338.6l-2.8 5.9l-3.1 -3.1zM647.6 338.6l-2.8 5.9l-3.1 -3.1zM669.9 338.6l-2.8 5.9l-3.1 -3.1zM56.6 390.6l-5.9 -2.8l3.1 -3.1zM81.4 393.1l-5.9 -2.8l3.1 -3.1zM106.2 395.6l-5.9 -2.8l3.1 -3.1zM128.6 395.6l-5.9 -2.8l3.1 -3.1zM150.9 395.6l-5.9 -2.8l3.1 -3.1zM169.6 391.9l-5.9 -2.8l3.1 -3.1zM188.2 388.2l-5.9 -2.8l3.1 -3.1zM209.3 390.4l-5.2 -4l3.7 -2.4zM230.4 392.7l-4.4 -4.9l4.1 -1.7zM254 395.7l-4.4 -4.9l4.1 -1.7zM277.6 398.7l-4.4 -4.9l4.1 -1.7zM302 398.3l-4.9 -4.4l3.9 -2.1zM326.3 397.9l-5.3 -3.9l3.7 -2.4zM353.1 387.3l-6.6 -0.3l1.7 -4.1zM379.8 376.7l-5.7 3.4l-0.9 -4.3zM403.4 374.1l-5.3 4l-1.3 -4.2zM426.9 371.4l-4.9 4.4l-1.7 -4.1zM440.6 373.1l-4.4 4.9l-2.1 -3.9zM454.4 374.8l-2.5 6.1l-3.3 -2.9zM464.3 381.8l5.8 -3.1l0.7 4.4zM474.3 388.8l4.9 -4.4l1.7 4.1zM516.1 377.8l0.8 2.7l-1.9 -0.1zM558 366.8l-3.8 5.4l-2.5 -3.6zM580.4 366.8l-3.8 5.4l-2.5 -3.6zM602.7 366.8l-3.8 5.4l-2.5 -3.6zM625.1 366.8l-3.8 5.4l-2.5 -3.6zM647.4 366.8l-3.8 5.4l-2.5 -3.6zM668.6 365.1l-3.3 5.7l-2.8 -3.4zM56.6 413l-5.9 -2.8l3.1 -3.1zM81.4 415.5l-5.9 -2.8l3.1 -3.1zM106.2 417.9l-5.9 -2.8l3.1 -3.1zM128.6 417.9l-5.9 -2.8l3.1 -3.1zM150.9 417.9l-5.9 -2.8l3.1 -3.1zM168.3 413l-5.9 -2.8l3.1 -3.1zM185.7 408l-5.9 -2.8l3.1 -3.1zM205.6 412.6l-3.7 -5.4l4.3 -1.1zM225.5 417.1l-2.2 -6.2l4.4 -0zM247.8 420.6l-2.2 -6.2l4.4 -0zM270.2 424.1l-2.2 -6.2l4.4 -0zM296.6 423.3l-3.4 -5.7l4.3 -0.9zM322.9 422.5l-4.4 -4.9l4.1 -1.7zM351.8 412.8l-6.4 -1.6l2.4 -3.7zM380.6 403.1l-6.2 2.2l-0 -4.4zM402.2 399.1l-5.7 3.4l-0.9 -4.3zM423.7 395.1l-4.9 4.4l-1.7 -4.1zM436.4 406.1l-6.6 0.3l1.3 -4.2zM449 417.1l-2.2 -6.2l4.4 -0zM461.6 414.1l2.4 -6.1l3.3 2.9zM474.3 411.1l4.9 -4.4l1.7 4.1zM557.8 395.1l-4.9 4.4l-1.7 -4.1zM580.2 395.1l-4.9 4.4l-1.7 -4.1zM602.5 395.1l-4.9 4.4l-1.7 -4.1zM624.9 395.1l-4.9 4.4l-1.7 -4.1zM647.2 395.1l-4.9 4.4l-1.7 -4.1zM667.3 391.7l-3.9 5.3l-2.4 -3.7zM49 423.9l-1.6 2.1l-1 -1.5zM72.6 425.2l-3.1 1.4l-0.2 -2.2zM96.1 426.4l-4.6 0.7l0.6 -3zM116.3 429.6l-3.7 -2.9l2.7 -1.7zM136.5 432.9l-2.6 -6.1l4.4 -0.3zM156.4 430.4l0.3 -5.1l3.2 1.3zM176.3 427.9l3.3 -3.7l1.6 2.9zM202.1 431.4l-1 -5.7l3.8 0.7zM228 434.9l-3.7 -5.4l4.3 -1.1zM250.3 436.7l-3.5 -5.6l4.3 -0.9zM272.7 438.4l-3.3 -5.7l4.3 -0.8zM298.3 439.3l-4.4 -4.9l4.1 -1.7zM323.9 440.1l-5.1 -4.1l3.8 -2.3zM347 436.3l-5.8 -3.1l3.3 -2.9zM370.1 432.4l-6.4 -1.6l2.4 -3.7zM393.4 430.2l-6.6 -0.3l1.7 -4.1zM416.7 427.9l-6.5 1l0.9 -4.3zM434.2 433.4l-5.9 -3l3.2 -3zM451.7 438.9l-3.4 -5.7l4.3 -0.9zM469.2 437.4l-1.1 -6.5l4.3 0.8zM486.7 435.9l1.6 -6.4l3.7 2.4zM518.7 425.4l-2.4 0.9l0 -1.7zM550.8 415l-3.3 5.7l-2.8 -3.4zM573.1 415l-3.3 5.7l-2.8 -3.4zM595.5 415l-3.3 5.7l-2.8 -3.4zM617.8 415l-3.3 5.7l-2.8 -3.4zM640.2 415l-3.3 5.7l-2.8 -3.4zM661.4 413.3l-2.6 6l-3.2 -3zM41.3 434.9l4.4 4.9l-4.1 1.7zM63.7 434.9l4.4 4.9l-4.1 1.7zM86 434.9l4.4 4.9l-4.1 1.7zM104.1 441.3l6.4 1.6l-2.4 3.7zM122.1 447.8l6.2 -2.2l-0 4.4zM144.4 447.8l6.2 -2.2l-0 4.4zM166.8 447.8l6.2 -2.2l-0 4.4zM198.6 450.3l3.3 -3.7l1.6 2.9zM230.4 452.7l-5.9 -2.8l3.1 -3.1zM252.8 452.7l-5.9 -2.8l3.1 -3.1zM275.1 452.7l-5.9 -2.8l3.1 -3.1zM300 455.2l-5.9 -2.8l3.1 -3.1zM324.8 457.7l-5.9 -2.8l3.1 -3.1zM342.2 459.7l-4.4 -4.9l4.1 -1.7zM359.6 461.8l-2.2 -6.2l4.4 -0zM384.6 461.3l-3.4 -5.7l4.3 -0.9zM409.7 460.7l-4.4 -4.9l4.1 -1.7zM432 460.7l-4.4 -4.9l4.1 -1.7zM454.4 460.7l-4.4 -4.9l4.1 -1.7zM476.7 460.7l-4.4 -4.9l4.1 -1.7zM499.1 460.7l-4.4 -4.9l4.1 -1.7zM521.4 447.8l-4.8 1.7l-0 -3.4zM543.8 434.9l-0.3 6.6l-4.1 -1.7zM566.1 434.9l-0.3 6.6l-4.1 -1.7zM588.5 434.9l-0.3 6.6l-4.1 -1.7zM610.8 434.9l-0.3 6.6l-4.1 -1.7zM633.2 434.9l-0.3 6.6l-4.1 -1.7zM655.5 434.9l-0.3 6.6l-4.1 -1.7zM46.5 466.2l1.5 3.5l-2.5 0.1zM70.8 466.3l-0.4 4.1l-2.5 -1.1zM95.2 466.4l-2.2 4.6l-2.4 -2.4zM117 470.3l-3 0.9l0.1 -2.1zM138.8 474.2l-3.7 -2.8l2.6 -1.7zM158.8 474.6l-1.7 -3.9l2.9 -0.2zM178.7 475.1l0.3 -5.1l3.2 1.3zM204.7 477.1l-3.5 -5.6l4.3 -1zM230.7 479.1l-5 -4.3l3.8 -2.2zM256.5 477.9l-6.1 -2.5l2.9 -3.3zM282.4 476.6l-6.5 -1l2.1 -3.9zM306 477.9l-6.5 -1.2l2.2 -3.8zM329.6 479.1l-6.4 -1.4l2.3 -3.8zM348.3 481.8l-5.9 -3l3.2 -3zM367 484.6l-4.8 -4.5l3.9 -2zM390.7 484.3l-5.1 -4.1l3.7 -2.3zM414.4 484l-5.4 -3.7l3.6 -2.6zM435.1 485.2l-4.9 -4.3l3.8 -2.1zM455.7 486.3l-4.4 -4.9l4.1 -1.7zM478 486.3l-4.4 -4.9l4.1 -1.7zM500.4 486.3l-4.4 -4.9l4.1 -1.7zM517 465.9l0.5 4.1l-2.7 -0.6zM533.6 445.6l3.4 5.7l-4.3 0.8zM555.9 445.6l3.4 5.7l-4.3 0.8zM578.3 445.6l3.4 5.7l-4.3 0.8zM600.6 445.6l3.4 5.7l-4.3 0.8zM623 445.6l3.4 5.7l-4.3 0.8zM645.3 445.6l3.4 5.7l-4.3 0.8zM51.6 497.4l-5.9 -2.8l3.1 -3.1zM78 497.7l-6.5 -1.2l2.2 -3.8zM104.3 497.9l-6.6 -0.3l1.7 -4.1zM129.9 499.2l-6.6 -0.3l1.7 -4.1zM155.5 500.5l-6.6 -0.3l1.7 -4.1zM173.1 501.5l-6.4 -1.4l2.3 -3.8zM190.7 502.4l-5.9 -2.8l3.1 -3.1zM210.8 503.9l-5.3 -3.9l3.7 -2.4zM230.9 505.4l-4.4 -4.9l4.1 -1.7zM260.2 503l-6.2 -2.3l2.8 -3.4zM289.6 500.5l-6.6 -0.3l1.7 -4.1zM312 500.5l-6.6 -0.3l1.7 -4.1zM334.3 500.5l-6.6 -0.3l1.7 -4.1zM354.4 503.9l-6.4 -1.6l2.4 -3.7zM374.4 507.3l-5.9 -2.8l3.1 -3.1zM396.8 507.3l-5.9 -2.8l3.1 -3.1zM419.1 507.3l-5.9 -2.8l3.1 -3.1zM438.1 509.6l-5.3 -3.9l3.7 -2.4zM457 511.9l-4.4 -4.9l4.1 -1.7zM479.4 511.9l-4.4 -4.9l4.1 -1.7zM501.7 511.9l-4.4 -4.9l4.1 -1.7zM512.6 484.1l4.4 4.9l-4.1 1.7zM523.4 456.3l4.4 4.9l-4.1 1.7zM545.7 456.3l4.4 4.9l-4.1 1.7zM568.1 456.3l4.4 4.9l-4.1 1.7zM590.4 456.3l4.4 4.9l-4.1 1.7zM612.8 456.3l4.4 4.9l-4.1 1.7zM635.1 456.3l4.4 4.9l-4.1 1.7zM63.2 517.3l-6.5 1.3l0.7 -4.4zM87.5 517.4l-6.4 1.3l0.6 -4.4zM111.9 517.5l-6.4 1.4l0.6 -4.4zM134.1 518.2l-6.5 1.2l0.7 -4.3zM156.3 518.9l-6.5 0.9l0.9 -4.3zM171 522.8l-6.4 -1.5l2.4 -3.7zM185.7 526.8l-4.4 -4.9l4.1 -1.7zM207 525.8l-4.1 -5.1l4.2 -1.4zM228.2 524.8l-3.7 -5.4l4.2 -1.1zM257.5 521.8l-6.3 -1.8l2.6 -3.6zM286.9 518.9l-6.5 0.7l1 -4.3zM309.3 518.9l-6.5 0.7l1 -4.3zM331.6 518.9l-6.5 0.7l1 -4.3zM353 524.3l-6.5 -1.3l2.3 -3.8zM374.4 529.7l-5.9 -2.8l3.1 -3.1zM395.1 530.8l-5.6 -3.4l3.4 -2.8zM415.7 532l-5.3 -3.9l3.7 -2.4zM436.4 533.1l-4.9 -4.4l3.9 -2.1zM457 534.3l-4.4 -4.9l4.1 -1.7zM481.1 533.1l-4.9 -4.4l3.9 -2.1zM505.1 532l-5.3 -3.9l3.7 -2.4zM514.3 505.3l3.3 5.7l-4.3 0.8zM523.4 478.6l4.4 4.9l-4.1 1.7zM545.7 478.6l4.4 4.9l-4.1 1.7zM568.1 478.6l4.4 4.9l-4.1 1.7zM590.4 478.6l4.4 4.9l-4.1 1.7zM612.8 478.6l4.4 4.9l-4.1 1.7zM635.1 478.6l4.4 4.9l-4.1 1.7zM74.7 537.2l-6.2 2.2l-0 -4.4zM97 537.2l-6.2 2.2l-0 -4.4zM119.4 537.2l-6.2 2.2l-0 -4.4zM138.2 537.2l-6.2 2.2l-0 -4.4zM157.1 537.2l-6.2 2.2l-0 -4.4zM168.9 544.2l-6.4 -1.6l2.4 -3.7zM180.8 551.2l-2.2 -6.2l4.4 -0zM203.1 547.7l-2.2 -6.2l4.4 -0zM225.5 544.2l-2.2 -6.2l4.4 -0zM254.8 540.7l-6.5 -0.8l2 -3.9zM284.2 537.2l-6.2 2.2l-0 -4.4zM306.6 537.2l-6.2 2.2l-0 -4.4zM328.9 537.2l-6.2 2.2l-0 -4.4zM351.7 544.6l-6.5 -0.9l2 -3.9zM374.4 552l-5.9 -2.8l3.1 -3.1zM393.4 554.3l-5.3 -3.9l3.7 -2.4zM412.3 556.6l-4.4 -4.9l4.1 -1.7zM434.7 556.6l-4.4 -4.9l4.1 -1.7zM457 556.6l-4.4 -4.9l4.1 -1.7zM482.8 554.3l-5.3 -3.9l3.7 -2.4zM508.5 552l-5.9 -2.8l3.1 -3.1zM516 526.5l2.2 6.2l-4.4 0zM523.4 501l4.4 4.9l-4.1 1.7zM545.7 501l4.4 4.9l-4.1 1.7zM568.1 501l4.4 4.9l-4.1 1.7zM590.4 501l4.4 4.9l-4.1 1.7zM612.8 501l4.4 4.9l-4.1 1.7zM635.1 501l4.4 4.9l-4.1 1.7zM64.2 559.5l-6.2 2.2l-0 -4.4zM86.5 559.5l-6.2 2.2l-0 -4.4zM108.9 559.5l-6.2 2.2l-0 -4.4zM129.5 559.5l-6.2 2.2l-0 -4.4zM150.1 559.5l-6.2 2.2l-0 -4.4zM167.2 563l-6.6 -0.3l1.6 -4.1zM184.3 566.5l-4.7 -4.6l3.9 -2zM204.9 566.5l-3.6 -5.5l4.3 -1.1zM225.5 566.5l-2.2 -6.2l4.4 -0zM251.3 564.8l-4.8 -3.6l3.4 -2.2zM277.2 563l-6.5 -0.8l2 -3.9zM301.3 561.3l-6.5 0.9l0.9 -4.3zM325.4 559.5l-6.2 2.2l-0 -4.4zM348.7 565.7l-6.5 -1l2.1 -3.9zM372 571.9l-5.9 -2.8l3.1 -3.1zM390.1 574.1l-5 -4.3l3.8 -2.2zM408.3 576.3l-3.6 -5.5l4.3 -1zM430.7 576.3l-3.6 -5.5l4.3 -1zM453 576.3l-3.6 -5.5l4.3 -1zM478.4 574.8l-4.6 -4.7l4 -1.8zM503.8 573.4l-5.4 -3.7l3.6 -2.6zM513.9 557.4l2.7 1.2l-1.3 1.4zM523.9 541.4l5.6 3.5l-3.4 2.8zM547.7 536.6l5 4.3l-3.8 2.2zM571.6 531.7l4.4 4.9l-4.1 1.7zM593.9 531.7l4.4 4.9l-4.1 1.7zM616.3 531.7l4.4 4.9l-4.1 1.7zM638.6 531.7l4.4 4.9l-4.1 1.7zM53.7 581.9l-6.2 2.2l-0 -4.4zM76 581.9l-6.2 2.2l-0 -4.4zM98.4 581.9l-6.2 2.2l-0 -4.4zM120.8 581.9l-6.2 2.2l-0 -4.4zM143.1 581.9l-6.2 2.2l-0 -4.4zM165.4 581.9l-6.2 2.2l-0 -4.4zM187.8 581.9l-6.2 2.2l-0 -4.4zM206.6 585.4l-4.3 -2l2.2 -2.2zM225.5 588.9l-2.2 -6.2l4.4 -0zM247.8 588.9l-2.2 -6.2l4.4 -0zM270.2 588.9l-2.2 -6.2l4.4 -0zM296.1 585.4l-4.3 -2l2.2 -2.2zM321.9 581.9l-6.2 2.2l-0 -4.4zM345.7 586.8l-6.5 -1.2l2.2 -3.8zM369.5 591.8l-5.9 -2.8l3.1 -3.1zM386.9 593.8l-4.4 -4.9l4.1 -1.7zM404.3 595.9l-2.2 -6.2l4.4 -0zM426.6 595.9l-2.2 -6.2l4.4 -0zM449 595.9l-2.2 -6.2l4.4 -0zM474 595.4l-3.4 -5.7l4.3 -0.9zM499.1 594.8l-4.4 -4.9l4.1 -1.7zM511.7 588.4l1.6 -6.4l3.7 2.4zM524.4 581.9l6.2 -2.2l-0 4.4zM549.7 572.2l6.1 2.4l-2.9 3.3zM575.1 562.5l4.4 4.9l-4.1 1.7zM597.4 562.5l4.4 4.9l-4.1 1.7zM619.8 562.5l4.4 4.9l-4.1 1.7zM642.1 562.5l4.4 4.9l-4.1 1.7zM57.2 604.2l-6.2 2.2l-0 -4.4zM79.5 604.2l-6.2 2.2l-0 -4.4zM101.9 604.2l-6.2 2.2l-0 -4.4zM124.2 604.2l-6.2 2.2l-0 -4.4zM146.6 604.2l-6.2 2.2l-0 -4.4zM167.2 604.2l-6.2 2.2l-0 -4.4zM187.8 604.2l-6.2 2.2l-0 -4.4zM210.1 606l-6.5 0.6l1.1 -4.3zM232.5 607.8l-6.5 -0.8l2 -3.9zM254.8 607.8l-6.5 -0.8l2 -3.9zM277.2 607.8l-6.5 -0.8l2 -3.9zM301.3 606l-6.5 0.9l0.9 -4.3zM325.4 604.2l-6.2 2.2l-0 -4.4zM347.4 609.2l-6.5 -0.7l1.9 -4zM369.5 614.1l-5.9 -2.8l3.1 -3.1zM386.9 616.2l-4.4 -4.9l4.1 -1.7zM404.3 618.2l-2.2 -6.2l4.4 -0zM426.6 618.2l-2.2 -6.2l4.4 -0zM449 618.2l-2.2 -6.2l4.4 -0zM471.3 617.7l-2.2 -6.2l4.4 -0zM493.7 617.2l-2.2 -6.2l4.4 -0zM515.8 609.4l-1.4 -4.7l3.3 0.2zM537.9 601.6l1.3 2.2l-1.7 0.3zM555 598.1l5.8 3l-3.2 3zM572.1 594.5l6.1 2.4l-2.9 3.3zM594.4 594.5l6.1 2.4l-2.9 3.3zM616.8 594.5l6.1 2.4l-2.9 3.3zM639.1 594.5l6.1 2.4l-2.9 3.3zM60.7 626.6l-6.2 2.2l-0 -4.4zM83 626.6l-6.2 2.2l-0 -4.4zM105.4 626.6l-6.2 2.2l-0 -4.4zM127.8 626.6l-6.2 2.2l-0 -4.4zM150.1 626.6l-6.2 2.2l-0 -4.4zM168.9 626.6l-6.2 2.2l-0 -4.4zM187.8 626.6l-6.2 2.2l-0 -4.4zM213.6 626.6l-6.2 2.2l-0 -4.4zM239.5 626.6l-6.2 2.2l-0 -4.4zM261.8 626.6l-6.2 2.2l-0 -4.4zM284.2 626.6l-6.2 2.2l-0 -4.4zM306.6 626.6l-6.2 2.2l-0 -4.4zM328.9 626.6l-6.2 2.2l-0 -4.4zM349.2 631.5l-6.6 -0.3l1.7 -4.1zM369.5 636.5l-5.9 -2.8l3.1 -3.1zM386.9 638.5l-4.4 -4.9l4.1 -1.7zM404.3 640.6l-2.2 -6.2l4.4 -0zM426.6 640.6l-2.2 -6.2l4.4 -0zM449 640.6l-2.2 -6.2l4.4 -0zM468.7 640.1l-0.9 -6.5l4.3 0.9zM488.3 639.5l0.3 -6.6l4.1 1.7zM519.8 630.4l-4.6 -2.2l2.4 -2.4zM551.3 621.2l-4.9 4.4l-1.7 -4.1zM560.2 623.9l1.3 2.2l-1.7 0.3zM569.1 626.6l6.2 -2.2l-0 4.4zM591.5 626.6l6.2 -2.2l-0 4.4zM613.8 626.6l6.2 -2.2l-0 4.4zM636.1 626.6l6.2 -2.2l-0 4.4z"/>
<path stroke="#000" stroke-width="5.6" stroke-linecap="round" d="M46.7 403.1h0M69 403.1h0M359.6 514.8h0M359.6 537.2h0M359.6 559.5h0M270.2 581.9h0M292.6 581.9h0M314.9 581.9h0M337.2 581.9h0M91.4 604.2h0M91.4 626.6h0"/>
<rect x="386.4" y="447.8" width="125.2" height="107.3" fill="none" stroke="#e3211c" stroke-width="2"/>
</g>
<rect x="46.7" y="358.4" width="612.4" height="268.2" fill="none" stroke="#000" stroke-width="1.3"/>
<line x1="43.2" y1="403.1" x2="46.7" y2="403.1" stroke="#000" stroke-width="1"/>
<text x="39.7" y="410.4" text-anchor="end" class="tk">5</text>
<line x1="43.2" y1="447.8" x2="46.7" y2="447.8" stroke="#000" stroke-width="1"/>
<text x="39.7" y="455.1" text-anchor="end" class="tk">0</text>
<line x1="43.2" y1="492.5" x2="46.7" y2="492.5" stroke="#000" stroke-width="1"/>
<text x="39.7" y="499.8" text-anchor="end" class="tk">-5</text>
<line x1="43.2" y1="537.2" x2="46.7" y2="537.2" stroke="#000" stroke-width="1"/>
<text x="39.7" y="544.5" text-anchor="end" class="tk">-10</text>
<line x1="43.2" y1="581.9" x2="46.7" y2="581.9" stroke="#000" stroke-width="1"/>
<text x="39.7" y="589.2" text-anchor="end" class="tk">-15</text>
<line x1="43.2" y1="626.6" x2="46.7" y2="626.6" stroke="#000" stroke-width="1"/>
<text x="39.7" y="633.9" text-anchor="end" class="tk">-20</text>
<line x1="46.7" y1="626.6" x2="46.7" y2="630.1" stroke="#000" stroke-width="1"/>
<text x="46.7" y="649.2" text-anchor="middle" class="tk">-10</text>
<line x1="136.1" y1="626.6" x2="136.1" y2="630.1" stroke="#000" stroke-width="1"/>
<text x="136.1" y="649.2" text-anchor="middle" class="tk">0</text>
<line x1="225.5" y1="626.6" x2="225.5" y2="630.1" stroke="#000" stroke-width="1"/>
<text x="225.5" y="649.2" text-anchor="middle" class="tk">10</text>
<line x1="314.9" y1="626.6" x2="314.9" y2="630.1" stroke="#000" stroke-width="1"/>
<text x="314.9" y="649.2" text-anchor="middle" class="tk">20</text>
<line x1="404.3" y1="626.6" x2="404.3" y2="630.1" stroke="#000" stroke-width="1"/>
<text x="404.3" y="649.2" text-anchor="middle" class="tk">30</text>
<line x1="493.7" y1="626.6" x2="493.7" y2="630.1" stroke="#000" stroke-width="1"/>
<text x="493.7" y="649.2" text-anchor="middle" class="tk">40</text>
<line x1="583.1" y1="626.6" x2="583.1" y2="630.1" stroke="#000" stroke-width="1"/>
<text x="583.1" y="649.2" text-anchor="middle" class="tk">50</text>
<text x="48.2" y="352.0" class="tt">(D)_Day -2</text>
<clipPath id="cE"><rect x="706.6" y="361.4" width="612.4" height="268.2"/></clipPath>
<g clip-path="url(#cE)">
<rect x="706.6" y="361.4" width="612.4" height="268.2" fill="#97ff60"/>
<path fill="#0000ed" stroke="#0000ed" stroke-width="0.6" d="M860.3 616l11 1.2l1.7 1.7l5.8 10.7l-7.5 0l-11 0l-4 0l1.7 -10.7z"/>
<path fill="#0020ff" stroke="#0020ff" stroke-width="0.6" d="M805.4 361.4l11 0l11 0l10.9 0l11 0l11 0l8.8 0l-3.1 10.7l-5.7 4.7l-11 -0.5l-11 -2.7l-10.9 -0.2l-5 -1.3l-6 -1.3l-11 -7.8l-1.3 -1.6zM937.2 531.4l10.9 -0.4l8.5 2l2.5 3.4l3.2 7.4l-3.2 1.6l-11 3.8l-10.9 0.7l-11 -3l-5.1 -3.1l5.1 -10.7l0 -0.1zM849.3 607.3l11 -4.4l11 1.3l6.6 3.9l4.4 4.2l5.2 6.6l3.1 10.7l-8.3 0l-3.5 0l-5.8 -10.7l-1.7 -1.7l-11 -1.2l-2.3 2.9l-1.7 10.7l-7 0l-3.8 0l-0.7 -10.7l3.4 -10.8z"/>
<path fill="#0060ff" stroke="#0060ff" stroke-width="0.6" d="M794.4 361.4l9.7 0l1.3 1.6l11 7.8l6 1.3l5 1.3l10.9 0.2l11 2.7l11 0.5l5.7 -4.7l3.1 -10.7l2.2 0l8.5 0l0.4 10.7l-3.6 10.8l-5.3 3.3l-11 3.1l-11 1.8l-6.1 2.5l-4.9 3.8l-4.5 6.9l-6.4 5.4l-11 3.2l-11 -7.4l-0.8 -1.2l0.8 -6.2l0.7 -4.5l-0.5 -10.7l-0.2 -0.2l-9.4 -10.6l-1.6 -1.9l-4.5 -8.8zM816.4 488.9l11 -0.6l10.9 0.8l11 0.6l11 -0.2l11 -1l11 0.1l4.4 1.5l6.5 3.9l9.1 6.9l1.9 1.8l10.1 8.9l0.9 1l9.9 9.7l1.1 0.4l11 0.6l10.9 -0.9l11 1.9l11 5.2l8.5 3.5l2.5 5l3.1 5.8l-3.1 1.4l-11 5.4l-7.6 3.9l-3.4 1.6l-11 3l-10.9 0.3l-11 -1.7l-11 -2.9l-11 -0.1l-9.8 10.5l-1.2 1.2l-10.9 7l-11 -0.8l-11 -1.6l-11 0.8l-11 -0.3l-8.3 -6.3l-2.6 -3.2l-5.5 -7.5l-5.5 -4.7l-7.1 -6l-3.9 -7.8l-1.3 -3l1.1 -10.7l-0.3 -10.7l-0.8 -10.7l1.3 -2.7l7.1 -8.1zM926.2 533l0 0.1l-5.1 10.7l5.1 3.1l11 3l10.9 -0.7l11 -3.8l3.2 -1.6l-3.2 -7.4l-2.5 -3.4l-8.5 -2l-10.9 0.4zM849.3 594.3l11 -2l11 0l10.9 5.1l0.1 0l10.9 8.1l3.5 2.6l5 10.8l-0.1 10.7l-8.4 0l-2.6 0l-3.1 -10.7l-5.2 -6.6l-4.4 -4.2l-6.6 -3.9l-11 -1.3l-11 4.4l-1.1 0.8l-3.4 10.8l0.7 10.7l-7.2 0l-6.4 0l-1.8 -10.7l0.1 -10.8l8.1 -9l2.9 -1.7z"/>
<path fill="#00a0ff" stroke="#00a0ff" stroke-width="0.6" d="M783.5 361.4l6.4 0l4.5 8.8l1.6 1.9l9.4 10.6l0.2 0.2l0.5 10.7l-0.7 4.5l-0.8 6.2l0.8 1.2l11 7.4l11 -3.2l6.4 -5.4l4.5 -6.9l4.9 -3.8l6.1 -2.5l11 -1.8l11 -3.1l5.3 -3.3l3.6 -10.8l-0.4 -10.7l2.5 0l10.9 0l3 0l0.9 10.7l-0.8 10.8l-3.1 5.8l-4.8 4.9l-6.1 2.5l-11 2.1l-11 2.3l-8.4 3.8l-2.6 2.5l-7.7 8.2l-3.3 2.7l-10.9 4.4l-11 1.5l-11 0l-11 -5.2l-3.6 -3.4l-7.3 -8.8l-1.4 -1.9l-0.1 -10.7l1.1 -10.7l-2.5 -10.8l-1.8 -10.7zM1299.5 425.1l10.9 -7.8l11 -1.7l11 1.9l0 8.3l0 10.7l0 10.7l0 10.8l0 10.7l0 10.7l0 10.7l0 10.8l0 5.7l-11 1.1l-11 -1l-8 -5.8l-2.9 -6.9l-1.3 -3.9l0.2 -10.7l1.1 -6.8l0.6 -3.9l0.5 -10.7l-1.1 -5l-1.4 -5.8l-2.9 -10.7l3.6 -10.7zM805.4 478.5l11 -0.4l11 0.5l10.7 0.8l0.2 0l11 0.3l11 -0.2l3.3 -0.1l7.7 -0.5l11 0.2l1.7 0.3l9.2 1.5l11 3.9l11 0.5l11 -2.1l11 4.5l2.4 2.4l4.9 10.8l3.6 5.6l5.1 5.1l5.9 1.7l11 6.3l4.4 2.7l6.6 3l11 4l7.6 3.7l3.3 8.4l0.7 2.4l-0.7 0.6l-10.9 5.9l-9.2 4.2l-1.8 0.8l-11 5.4l-9.6 4.5l-1.4 1.5l-11 5.9l-10.9 -0.8l-11 -2.9l-11 -0.7l-11 5.1l-2.7 2.7l-4.6 10.7l7.3 8l4.1 2.7l6.9 5.5l4.3 5.2l0.1 10.8l-2.9 10.7l-1.5 0l-11 0l-2.6 0l0.1 -10.7l-5 -10.8l-3.5 -2.6l-10.9 -8.1l-0.1 0l-10.9 -5.1l-11 0l-11 2l-8.1 3.1l-2.9 1.7l-8.1 9l-0.1 10.8l1.8 10.7l-4.5 0l-11 0l-10.6 0l0.6 -10.7l0 -10.8l-1 -7.1l-0.4 -3.6l-0.2 -10.7l0.6 -2.5l2.7 -8.2l0.7 -10.8l-3.4 -4l-5.8 -6.7l-5.2 -4.5l-8.4 -6.2l-2.5 -5.4l-1.8 -5.4l1.8 -7.7l0.8 -3l0.7 -10.7l-1 -10.7l4.3 -10.8l6.1 -6.6l7.8 -4.1zM812.5 490.1l-7.1 8.1l-1.3 2.7l0.8 10.7l0.3 10.7l-1.1 10.7l1.3 3l3.9 7.8l7.1 6l5.5 4.7l5.5 7.5l2.6 3.2l8.3 6.3l11 0.3l11 -0.8l11 1.6l11 0.8l10.9 -7l1.2 -1.2l9.8 -10.5l11 0.1l11 2.9l11 1.7l10.9 -0.3l11 -3l3.4 -1.6l7.6 -3.9l11 -5.4l3.1 -1.4l-3.1 -5.8l-2.5 -5l-8.5 -3.5l-11 -5.2l-11 -1.9l-10.9 0.9l-11 -0.6l-1.1 -0.4l-9.9 -9.7l-0.9 -1l-10.1 -8.9l-1.9 -1.8l-9.1 -6.9l-6.5 -3.9l-4.4 -1.5l-11 -0.1l-11 1l-11 0.2l-11 -0.6l-10.9 -0.8l-11 0.6z"/>
<path fill="#00e0fb" stroke="#00e0fb" stroke-width="0.6" d="M772.5 361.4l6.3 0l1.8 10.7l2.5 10.8l-1.1 10.7l0.1 10.7l1.4 1.9l7.3 8.8l3.6 3.4l11 5.2l11 0l11 -1.5l10.9 -4.4l3.3 -2.7l7.7 -8.2l2.6 -2.5l8.4 -3.8l11 -2.3l11 -2.1l6.1 -2.5l4.8 -4.9l3.1 -5.8l0.8 -10.8l-0.9 -10.7l8 0l9 0l1.9 10.7l0.1 0.5l3.8 10.3l3.1 10.7l-1.2 10.7l-2.3 10.7l-0.5 10.8l6.6 10.7l1.5 1l11 4l5.3 5.7l-0.2 10.8l-0.9 10.7l6.5 10.7l0.2 0.2l9.4 10.5l1.6 2l8.6 8.8l2.4 2.6l5.9 8.1l5.1 3.1l11 5.5l4.8 2.1l6.1 2.5l9.9 8.2l1.1 4.3l1.1 6.5l-1.1 3l-6.9 7.7l-4.1 2l-10.9 3.5l-11 4.7l-1.1 0.5l-9.9 10.7l-0.1 0.1l-6.9 10.7l-4 3.9l-10 6.8l-1 1l-7.2 9.7l0.3 10.8l2.3 10.7l-6.3 0l-11 0l-9.5 0l2.9 -10.7l-0.1 -10.8l-4.3 -5.2l-6.9 -5.5l-4.1 -2.7l-7.3 -8l4.6 -10.7l2.7 -2.7l11 -5.1l11 0.7l11 2.9l10.9 0.8l11 -5.9l1.4 -1.5l9.6 -4.5l11 -5.4l1.8 -0.8l9.2 -4.2l10.9 -5.9l0.7 -0.6l-0.7 -2.4l-3.3 -8.4l-7.6 -3.7l-11 -4l-6.6 -3l-4.4 -2.7l-11 -6.3l-5.9 -1.7l-5.1 -5.1l-3.6 -5.6l-4.9 -10.8l-2.4 -2.4l-11 -4.5l-11 2.1l-11 -0.5l-11 -3.9l-9.2 -1.5l-1.7 -0.3l-11 -0.2l-7.7 0.5l-3.3 0.1l-11 0.2l-11 -0.3l-0.2 0l-10.7 -0.8l-11 -0.5l-11 0.4l-3.2 0.9l-7.8 4.1l-6.1 6.6l-4.3 10.8l1 10.7l-0.7 10.7l-0.8 3l-1.8 7.7l1.8 5.4l2.5 5.4l8.4 6.2l5.2 4.5l5.8 6.7l3.4 4l-0.7 10.8l-2.7 8.2l-0.6 2.5l0.2 10.7l0.4 3.6l1 7.1l0 10.8l-0.6 10.7l-0.4 0l-11 0l-7.6 0l0 -10.7l-0.1 -10.8l-0.2 -10.7l0.3 -10.7l1.3 -10.7l-1.6 -10.8l-3 -3.2l-6.6 -7.5l-4.4 -4.7l-3.2 -6l-3 -10.8l-2.3 -10.7l-2.5 -7.4l-1.5 -3.3l-0.3 -10.7l1.8 -2.4l5.9 -8.4l5.1 -4.6l5.7 -6.1l5.3 -7.8l3.9 -2.9l7 -4l11 0.5l11 0.8l11 -4.6l2.4 -3.4l-0.5 -10.8l-1.9 -5.8l-4.7 -4.9l-6.3 -1.3l-11 1l-11 -0.2l-10.9 -9.5l-0.6 -0.7l-10.4 -9.8l-0.8 -1l-3.5 -10.7l-0.5 -10.7l0.2 -10.7l0.4 -10.8l0.3 -10.7zM1299.5 361.4l10.9 0l11 0l11 0l0 10.7l0 10.8l0 10.7l0 10.7l0 10.7l0 2.5l-11 -1.9l-11 1.7l-10.9 7.8l-0.7 0.7l-3.6 10.7l2.9 10.7l1.4 5.8l1.1 5l-0.5 10.7l-0.6 3.9l-1.1 6.8l-0.2 10.7l1.3 3.9l2.9 6.9l8 5.8l11 1l11 -1.1l0 5l0 10.7l0 10.7l0 10.8l0 10.7l0 10.7l0 10.8l0 10.7l0 10.7l0 10.7l0 10.8l0 10.7l-11 0l-11 0l-10.9 0l-11 0l-11 0l-11 0l-11 0l-10.9 0l-11 0l-11 0l-11 0l-10.9 0l-11 0l-11 0l-11 0l-5.3 0l3.5 -10.7l1.8 -5.6l1.8 -5.2l4.2 -10.7l5 -7.9l3 -2.8l8 -4.4l11 -3.7l10.9 -2.6l0.4 0l10.6 -3.4l7 -7.4l1 -10.7l-0.6 -10.7l3.6 -9.3l1.3 -1.5l9.7 -4.8l7.5 -5.9l3.3 -10.7l-0.9 -10.7l-0.9 -10.8l0.3 -10.7l-0.2 -10.7l-0.5 -10.7l1.8 -10.8l0.5 -0.8l11 -6.6l6.1 -3.3l4.9 -5.4l2.6 -5.3l8.4 -9l1.9 -1.8l9.1 -9.8l0.8 -0.9l-0.1 -10.7l-0.7 -1.8l-2.7 -8.9l-0.6 -10.8l0.7 -10.7z"/>
<path fill="#30ffc7" stroke="#30ffc7" stroke-width="0.6" d="M761.5 361.4l7.1 0l-0.3 10.7l-0.4 10.8l-0.2 10.7l0.5 10.7l3.5 10.7l0.8 1l10.4 9.8l0.6 0.7l10.9 9.5l11 0.2l11 -1l6.3 1.3l4.7 4.9l1.9 5.8l0.5 10.8l-2.4 3.4l-11 4.6l-11 -0.8l-11 -0.5l-7 4l-3.9 2.9l-5.3 7.8l-5.7 6.1l-5.1 4.6l-5.9 8.4l-1.8 2.4l0.3 10.7l1.5 3.3l2.5 7.4l2.3 10.7l3 10.8l3.2 6l4.4 4.7l6.6 7.5l3 3.2l1.6 10.8l-1.3 10.7l-0.3 10.7l0.2 10.7l0.1 10.8l0 10.7l-3.3 0l-11 0l-11 0l-11 0l-10.7 0l0.6 -10.7l-0.5 -10.8l-0.4 -1.8l-1.7 -8.9l1 -10.7l0.7 -0.8l8.6 -9.9l2.4 -2.3l10.8 -8.5l-0.1 -10.7l-3.1 -10.7l-4.4 -10.8l-3.2 -4.9l-6.7 -5.8l-4.3 -6.3l-2.5 -4.4l0.7 -10.7l1.8 -4.4l3.8 -6.4l7.2 -5.4l7.3 -5.3l3.7 -3.6l4.5 -7.1l-0.6 -10.7l-3.9 -8.8l-1.4 -2l-9.6 -6l-7 -4.7l-3.8 -10.7l10.8 -9.5l1.4 -1.3l5.9 -10.7l-0.2 -10.7l-0.9 -10.7l0.1 -10.8l0.7 -10.7zM915.2 361.4l8.6 0l2.4 5.8l4.3 4.9l6.7 7.9l2.4 2.9l1 10.7l-1 10.7l5.3 10.7l3.2 1.3l11 4.7l4.1 4.8l1.7 10.7l-2.1 10.7l-3.4 10.8l0.1 10.7l7.5 10.7l3.1 2.6l11 6.9l1.4 1.2l5.8 10.8l3.8 5.1l5.5 5.6l5.4 2.2l11 6l2.1 2.5l5.8 10.7l1 10.8l-3.3 10.7l-5.6 7.3l-7.8 3.4l-3.2 2l-10.9 8.6l-0.2 0.2l-6.4 10.7l-4.4 4.3l-6.3 6.4l-4.7 4.3l-7 6.4l-4 8.9l-0.6 1.9l-0.5 10.7l-9.9 0l-4.6 0l-2.3 -10.7l-0.3 -10.8l7.2 -9.7l1 -1l10 -6.8l4 -3.9l6.9 -10.7l0.1 -0.1l9.9 -10.7l1.1 -0.5l11 -4.7l10.9 -3.5l4.1 -2l6.9 -7.7l1.1 -3l-1.1 -6.5l-1.1 -4.3l-9.9 -8.2l-6.1 -2.5l-4.8 -2.1l-11 -5.5l-5.1 -3.1l-5.9 -8.1l-2.4 -2.6l-8.6 -8.8l-1.6 -2l-9.4 -10.5l-0.2 -0.2l-6.5 -10.7l0.9 -10.7l0.2 -10.8l-5.3 -5.7l-11 -4l-1.5 -1l-6.6 -10.7l0.5 -10.8l2.3 -10.7l1.2 -10.7l-3.1 -10.7l-3.8 -10.3l-0.1 -0.5l-1.9 -10.7zM1288.5 361.4l8.4 0l-0.7 10.7l0.6 10.8l2.7 8.9l0.7 1.8l0.1 10.7l-0.8 0.9l-9.1 9.8l-1.9 1.8l-8.4 9l-2.6 5.3l-4.9 5.4l-6.1 3.3l-11 6.6l-0.5 0.8l-1.8 10.8l0.5 10.7l0.2 10.7l-0.3 10.7l0.9 10.8l0.9 10.7l-3.3 10.7l-7.5 5.9l-9.7 4.8l-1.3 1.5l-3.6 9.3l0.6 10.7l-1 10.7l-7 7.4l-10.6 3.4l-0.4 0l-10.9 2.6l-11 3.7l-8 4.4l-3 2.8l-5 7.9l-4.2 10.7l-1.8 5.2l-1.8 5.6l-3.5 10.7l-5.7 0l-9.3 0l4.5 -10.7l4.8 -6.6l2.1 -4.2l4.3 -10.7l4.6 -8.7l1.3 -2l9.7 -8.8l3.5 -1.9l7.5 -4l11 -4.4l5.6 -2.4l5.3 -7.4l1.7 -3.3l-1.7 -8.7l-0.5 -2l-3 -10.8l-0.5 -10.7l0.1 -10.7l-0.1 -10.7l0.1 -10.8l0.1 -10.7l-0.5 -10.7l-0.3 -10.7l1.8 -10.8l2.8 -3.3l11 -4.5l3.8 -2.9l6.6 -10.7l0.6 -1l11 -8.1l2.6 -1.7l7.7 -10.7l0.6 -1.1l11 -9.1l1.7 -0.5l9.3 -6.5l1.6 -4.2l0.4 -10.8l-0.6 -10.7z"/>
<path fill="#63ff94" stroke="#63ff94" stroke-width="0.6" d="M750.5 361.4l7 0l-0.7 10.7l-0.1 10.8l0.9 10.7l0.2 10.7l-5.9 10.7l-1.4 1.3l-10.8 9.5l3.8 10.7l7 4.7l9.6 6l1.4 2l3.9 8.8l0.6 10.7l-4.5 7.1l-3.7 3.6l-7.3 5.3l-7.2 5.4l-3.8 6.4l-1.8 4.4l-0.7 10.7l2.5 4.4l4.3 6.3l6.7 5.8l3.2 4.9l4.4 10.8l3.1 10.7l0.1 10.7l-10.8 8.5l-2.4 2.3l-8.6 9.9l-0.7 0.8l-1 10.7l1.7 8.9l0.4 1.8l0.5 10.8l-0.6 10.7l-0.3 0l-10.9 0l-11 0l-11 0l0 -10.7l0 -10.8l0 -10.7l0 -10.7l0 -10.7l0 -4.4l11 2.6l11 -0.9l10.7 -8.1l0.2 -0.3l5.9 -10.4l-1.6 -10.7l-4.3 -5.2l-5.9 -5.6l-5 -4l-6.3 -6.7l-4.4 -10.7l1.3 -10.7l-1.6 -9.8l-0.3 -1l-10.7 -6.1l0 -4.6l0 -10.7l0 -10.7l0 -10.8l0 -10.7l0 -10.7l0 -8l4.3 -2.8l6.7 -10.6l0 -0.1l11 -9.2l10.9 -1.1l0.5 -0.4l3.1 -10.7l-0.5 -10.8l-1.5 -10.7zM926.2 361.4l11 0l10.9 0l11 0l11 0l11 0l11 0l10.9 0l11 0l11 0l11 0l10.9 0l11 0l11 0l6.4 0l1.6 10.7l-1.3 10.8l-6.7 10l-1.1 0.7l-9.9 3.8l-11 -2.3l-10.9 1.5l-5.5 7.7l1.1 10.7l1.3 10.8l-7.9 9.5l-1.5 1.2l-9.5 8.3l-2.3 2.4l-2.7 10.8l0.4 10.7l-0.8 10.7l-1.2 10.7l3.7 10.8l2.9 2.3l7 8.4l4 5.1l2.4 5.6l2.6 10.7l-0.1 10.8l-2.6 10.7l-2.3 4.7l-4.4 6l-6.6 7l-5.1 3.8l-5.6 10.7l-0.3 0.9l-5.8 9.8l-5.1 4.1l-8.1 6.6l-2.9 2.5l-7.8 8.3l-3.2 6.1l-1.5 4.6l-9.5 0l-1.1 0l0.5 -10.7l0.6 -1.9l4 -8.9l7 -6.4l4.7 -4.3l6.3 -6.4l4.4 -4.3l6.4 -10.7l0.2 -0.2l10.9 -8.6l3.2 -2l7.8 -3.4l5.6 -7.3l3.3 -10.7l-1 -10.8l-5.8 -10.7l-2.1 -2.5l-11 -6l-5.4 -2.2l-5.5 -5.6l-3.8 -5.1l-5.8 -10.8l-1.4 -1.2l-11 -6.9l-3.1 -2.6l-7.5 -10.7l-0.1 -10.7l3.4 -10.8l2.1 -10.7l-1.7 -10.7l-4.1 -4.8l-11 -4.7l-3.2 -1.3l-5.3 -10.7l1 -10.7l-1 -10.7l-2.4 -2.9l-6.7 -7.9l-4.3 -4.9l-2.4 -5.8zM1233.6 361.4l11 0l10.9 0l11 0l11 0l1.4 0l0.6 10.7l-0.4 10.8l-1.6 4.2l-9.3 6.5l-1.7 0.5l-11 9.1l-0.6 1.1l-7.7 10.7l-2.6 1.7l-11 8.1l-0.6 1l-6.6 10.7l-3.8 2.9l-11 4.5l-2.8 3.3l-1.8 10.8l0.3 10.7l0.5 10.7l-0.1 10.7l-0.1 10.8l0.1 10.7l-0.1 10.7l0.5 10.7l3 10.8l0.5 2l1.7 8.7l-1.7 3.3l-5.3 7.4l-5.6 2.4l-11 4.4l-7.5 4l-3.5 1.9l-9.7 8.8l-1.3 2l-4.6 8.7l-4.3 10.7l-2.1 4.2l-4.8 6.6l-4.5 10.7l-1.6 0l-9.4 0l0.5 -10.7l5.3 -10.8l3.6 -3l5.7 -7.7l5.2 -7l1.8 -3.7l8.8 -10.7l0.4 -0.4l11 -8.1l4.5 -2.3l6.5 -7.8l2.4 -2.9l-2.4 -8.4l-0.7 -2.3l-2.6 -10.8l0.9 -10.7l0.9 -10.7l-0.2 -10.7l-0.3 -10.8l-0.1 -10.7l0.5 -10.7l0.4 -10.7l-1.5 -10.8l-1.7 -10.7l0.4 -10.7l4 -5.5l11 -3.7l2.5 -1.6l6.8 -10.7l1.6 -2.7l11 -7.8l0.4 -0.2l9 -10.7l0.3 -10.8l-1 -10.7z"/>
<path fill="#97ff60" stroke="#97ff60" stroke-width="0.6" d="M717.6 365.1l1.4 -3.7l9.6 0l10.9 0l1.6 0l1.5 10.7l0.5 10.8l-3.1 10.7l-0.5 0.4l-10.9 1.1l-11 9.2l0 0.1l-6.7 10.6l-4.3 2.8l0 -2.8l0 -10.7l0 -10.7l0 -10.7l0 -10.8l0 0zM1079.9 361.4l11 0l10.9 0l11 0l11 0l11 0l11 0l10.9 0l11 0l11 0l11 0l11 0l10.9 0l11 0l8.7 0l1 10.7l-0.3 10.8l-9 10.7l-0.4 0.2l-11 7.8l-1.6 2.7l-6.8 10.7l-2.5 1.6l-11 3.7l-4 5.5l-0.4 10.7l1.7 10.7l1.5 10.8l-0.4 10.7l-0.5 10.7l0.1 10.7l0.3 10.8l0.2 10.7l-0.9 10.7l-0.9 10.7l2.6 10.8l0.7 2.3l2.4 8.4l-2.4 2.9l-6.5 7.8l-4.5 2.3l-11 8.1l-0.4 0.4l-8.8 10.7l-1.8 3.7l-5.2 7l-5.7 7.7l-3.6 3l-5.3 10.8l-0.5 10.7l-1.6 0l-8.6 0l-1.2 -10.7l0.1 -10.8l5 -10.7l4.7 -5.7l6.9 -5l4.1 -3.2l6.6 -7.5l4.3 -5l5.6 -5.8l4.6 -10.7l-3.1 -10.7l-1.4 -10.8l1.3 -10.7l1 -10.7l-0.2 -10.7l-0.3 -10.8l-0.1 -10.7l0.1 -10.7l0.1 -10.7l0.5 -10.8l0.9 -10.7l-0.4 -10.7l-1.1 -10.8l0.1 -10.7l3.4 -5.5l11 -2.6l6 -2.6l3.2 -10.7l-7.6 -10.8l-1.6 -0.9l-4.1 0.9l-6.9 2.6l-4.4 8.2l-4.8 10.7l-1.8 0.8l-10.9 1.2l-11 0.7l-11 1.6l-11 0.6l-11 -2.4l-10.9 -1.7l-11 7.1l-2.7 2.8l-8.3 9.3l-3.1 1.4l-7.9 5.5l-3.9 5.3l-7.1 10.1l-0.4 0.6l-10.5 8l-3.4 2.7l-4.8 10.8l3.2 10.7l1.8 10.7l-1.7 10.7l0.9 10.8l2.8 10.7l1.2 5.3l1.1 5.4l1.3 10.7l-1.4 10.8l-1 2.3l-2.4 8.4l-4.8 10.7l-3.8 5.7l-4.9 5.1l-5.8 10.7l0.4 10.7l-0.7 4.7l-2.5 6l-8.5 4.9l-8.7 5.9l-2.2 3.1l-6.3 7.6l-4.7 0l-11 0l-1.5 0l1.5 -4.6l3.2 -6.1l7.8 -8.3l2.9 -2.5l8.1 -6.6l5.1 -4.1l5.8 -9.8l0.3 -0.9l5.6 -10.7l5.1 -3.8l6.6 -7l4.4 -6l2.3 -4.7l2.6 -10.7l0.1 -10.8l-2.6 -10.7l-2.4 -5.6l-4 -5.1l-7 -8.4l-2.9 -2.3l-3.7 -10.8l1.2 -10.7l0.8 -10.7l-0.4 -10.7l2.7 -10.8l2.3 -2.4l9.5 -8.3l1.5 -1.2l7.9 -9.5l-1.3 -10.8l-1.1 -10.7l5.5 -7.7l10.9 -1.5l11 2.3l9.9 -3.8l1.1 -0.7l6.7 -10l1.3 -10.8l-1.6 -10.7zM717.3 490.1l0.3 1l1.6 9.8l-1.3 10.7l4.4 10.7l6.3 6.7l5 4l5.9 5.6l4.3 5.2l1.6 10.7l-5.9 10.4l-0.2 0.3l-10.7 8.1l-11 0.9l-11 -2.6l0 -6.4l0 -10.3l2.9 -0.4l8.1 -4.4l2.4 -6.3l-2.4 -3.7l-4.8 -7.1l-6.2 -4.8l0 -5.9l0 -10.7l0 -10.7l0 -10.8l0 -6.1z"/>
<path fill="#caff2c" stroke="#caff2c" stroke-width="0.6" d="M717.6 361.4l1.4 0l-1.4 3.7l-11 7l0 -10.7zM1178.7 371.2l1.6 0.9l7.6 10.8l-3.2 10.7l-6 2.6l-11 2.6l-3.4 5.5l-0.1 10.7l1.1 10.8l0.4 10.7l-0.9 10.7l-0.5 10.8l-0.1 10.7l-0.1 10.7l0.1 10.7l0.3 10.8l0.2 10.7l-1 10.7l-1.3 10.7l1.4 10.8l3.1 10.7l-4.6 10.7l-5.6 5.8l-4.3 5l-6.6 7.5l-4.1 3.2l-6.9 5l-4.7 5.7l-5 10.7l-0.1 10.8l1.2 10.7l-2.4 0l-8.5 0l-0.7 -10.7l-0.1 -10.8l1.9 -10.7l4 -10.7l3.4 -6.7l3.5 -4l7.5 -5l6.5 -5.8l4.5 -6.5l1.8 -4.2l0.9 -10.7l-1 -10.8l-1.7 -8.6l-0.6 -2.1l-2.7 -10.7l0.6 -10.7l1.1 -10.8l0.1 -10.7l-0.3 -10.7l-0.7 -10.7l-0.8 -10.8l-0.5 -10.7l-0.7 -10.7l-6.5 -9l-3.2 -1.8l-7.8 -1.7l-11 -1.8l-11 -0.2l-10 3.7l-0.9 0.5l-10.5 10.3l-0.5 0.3l-11 8.2l-2 2.2l-7.6 10.7l-1.4 2l-8.3 8.8l-2.1 10.7l0.6 10.7l2.2 10.7l2.2 10.8l-1.5 10.7l-1.1 10.7l-0.2 10.7l-2.8 9.2l-0.2 1.6l-4.2 10.7l-6.5 10.3l-0.2 0.4l-6.1 10.8l-4.7 8.5l-1.3 2.2l0.2 10.7l-1.2 10.7l-8.7 10.2l-0.8 0.6l-9.7 10.7l-0.5 0l-10.9 0l-6.3 0l6.3 -7.6l2.2 -3.1l8.7 -5.9l8.5 -4.9l2.5 -6l0.7 -4.7l-0.4 -10.7l5.8 -10.7l4.9 -5.1l3.8 -5.7l4.8 -10.7l2.4 -8.4l1 -2.3l1.4 -10.8l-1.3 -10.7l-1.1 -5.4l-1.2 -5.3l-2.8 -10.7l-0.9 -10.8l1.7 -10.7l-1.8 -10.7l-3.2 -10.7l4.8 -10.8l3.4 -2.7l10.5 -8l0.4 -0.6l7.1 -10.1l3.9 -5.3l7.9 -5.5l3.1 -1.4l8.3 -9.3l2.7 -2.8l11 -7.1l10.9 1.7l11 2.4l11 -0.6l11 -1.6l11 -0.7l10.9 -1.2l1.8 -0.8l4.8 -10.7l4.4 -8.2l6.9 -2.6zM712.8 533l4.8 7.1l2.4 3.7l-2.4 6.3l-8.1 4.4l-2.9 0.4l0 -0.4l0 -10.7l0 -10.8l0 -4.8z"/>
<path fill="#feed00" stroke="#feed00" stroke-width="0.6" d="M1101.8 411.3l11 0.2l11 1.8l7.8 1.7l3.2 1.8l6.5 9l0.7 10.7l0.5 10.7l0.8 10.8l0.7 10.7l0.3 10.7l-0.1 10.7l-1.1 10.8l-0.6 10.7l2.7 10.7l0.6 2.1l1.7 8.6l1 10.8l-0.9 10.7l-1.8 4.2l-4.5 6.5l-6.5 5.8l-7.5 5l-3.5 4l-3.4 6.7l-4 10.7l-1.9 10.7l0.1 10.8l0.7 10.7l-2.5 0l-11 0l-2.9 0l1.5 -10.7l-0.2 -10.8l-9.3 -9.9l-0.9 -0.8l-10.1 -6.6l-4 -4.1l-7 -7.6l-4.6 -3.1l-6.4 -4.9l-11 -2.4l-4.9 7.3l-6 6.8l-2 3.9l-2.3 10.7l-1.5 10.7l-5.2 10.1l-0.5 0.7l-10.5 10.5l-0.1 0.2l-10.4 0l9.7 -10.7l0.8 -0.6l8.7 -10.2l1.2 -10.7l-0.2 -10.7l1.3 -2.2l4.7 -8.5l6.1 -10.8l0.2 -0.4l6.5 -10.3l4.2 -10.7l0.2 -1.6l2.8 -9.2l0.2 -10.7l1.1 -10.7l1.5 -10.7l-2.2 -10.8l-2.2 -10.7l-0.6 -10.7l2.1 -10.7l8.3 -8.8l1.4 -2l7.6 -10.7l2 -2.2l11 -8.2l0.5 -0.3l10.5 -10.3l0.9 -0.5zM1099 425.8l-8.1 4.9l-9.1 5.8l-1.9 1.2l-8.5 9.5l-2.5 4.4l-4.5 6.4l-5.8 10.7l1 10.7l9.3 7.9l11 -1.6l9 -6.3l2 -1.1l10.4 -9.6l0.5 -0.5l10.3 -10.2l0.7 -1.1l8.3 -9.7l2.7 -7.7l0.8 -3l-0.8 -2.6l-3.9 -8.1l-7.1 -3.3l-11 1.3zM1101.2 533l-2.2 10.8l2.8 3.9l11 6.7l0.3 0.1l10.7 1.9l4.7 -1.9l6.3 -4.3l2.6 -6.4l-1.7 -10.8l-0.9 -1.6l-11 -6.4l-11 1.2l-11 6.2z"/>
<path fill="#ffb200" stroke="#ffb200" stroke-width="0.6" d="M1101.8 423.8l11 -1.3l7.1 3.3l3.9 8.1l0.8 2.6l-0.8 3l-2.7 7.7l-8.3 9.7l-0.7 1.1l-10.3 10.2l-0.5 0.5l-10.4 9.6l-2 1.1l-9 6.3l-11 1.6l-9.3 -7.9l-1 -10.7l5.8 -10.7l4.5 -6.4l2.5 -4.4l8.5 -9.5l1.9 -1.2l9.1 -5.8l8.1 -4.9zM1082.4 447.2l-2.5 3.4l-3.2 7.4l3.2 9.3l11 -3.9l5.8 -5.4l5.1 -9.4l0.9 -1.4l-0.9 -2.3l-10.9 -2.6zM1101.8 532.4l11 -6.2l11 -1.2l11 6.4l0.9 1.6l1.7 10.8l-2.6 6.4l-6.3 4.3l-4.7 1.9l-10.7 -1.9l-0.3 -0.1l-11 -6.7l-2.8 -3.9l2.2 -10.8zM1046.9 568.7l11 2.4l6.4 4.9l4.6 3.1l7 7.6l4 4.1l10.1 6.6l0.9 0.8l9.3 9.9l0.2 10.8l-1.5 10.7l-8 0l-11 0l-3.8 0l1.4 -10.7l-2.1 -10.8l-6.5 -8.5l-1.8 -2.2l-9.2 -7.2l-11 0.1l-5.3 7.1l-4 10.7l-1.6 5.3l-1.5 5.5l-6.7 10.7l-2.8 0l-11 0l-0.1 0l0.1 -0.2l10.5 -10.5l0.5 -0.7l5.2 -10.1l1.5 -10.7l2.3 -10.7l2 -3.9l6 -6.8z"/>
<path fill="#ff7700" stroke="#ff7700" stroke-width="0.6" d="M1090.9 442.3l10.9 2.6l0.9 2.3l-0.9 1.4l-5.1 9.4l-5.8 5.4l-11 3.9l-3.2 -9.3l3.2 -7.4l2.5 -3.4zM1046.9 590.3l11 -0.1l9.2 7.2l1.8 2.2l6.5 8.5l2.1 10.8l-1.4 10.7l-7.2 0l-11 0l-11 0l-10.9 0l-8.2 0l6.7 -10.7l1.5 -5.5l1.6 -5.3l4 -10.7z"/>
<path fill="none" stroke="#000" stroke-width="1.05" stroke-linejoin="round" d="M702.1 395.4L706.6 398.5L715.5 405.2L728.1 411.5L737.9 408.8L751.3 404.3L760.2 403.9L769.2 405.2L777.2 408.3L787.1 404.3L796 399.8L804.9 397.2L811.2 394.5L820.1 393.6L829.1 392.7L838.9 394.5L845.2 403.4L849.6 411.5L859.5 411.5L872 409.7L878.2 416.8L882.7 428.4L880.9 438.3L876.5 447.2L879.1 456.2L885 467.8L892.6 477.6L900.6 487.5L905.1 497.3L909.5 508L914 520.5L917.6 533L918.5 542L917.6 551.8L912.2 564.3L907.8 574.2L905.1 587.6L902.4 598.3L903.3 609.9L905.1 618.9L908.6 626L912.2 634.1M1253.7 356.9L1250.2 361.4L1246.6 374.8L1235 388.2L1223.3 406.1L1211.7 413.3L1201 425.8L1193.8 431.1L1184.9 440.1L1177.7 447.2L1167.9 466L1158.1 473.1L1150.9 486.6L1146.4 492.8L1143.8 504.4L1147.3 511.6L1147.3 522.3L1150.9 535.7L1157.2 543.8L1158.1 553.6L1158.1 562.5L1159 576L1156.3 586.7L1149.1 596.5L1135.7 605.5L1126.8 609.9L1117.8 618.9L1110.7 626.9L1107.1 634.1M1236.7 558.1L1242.1 569.7L1245.7 586.7L1243 593.8L1240.3 601L1237.6 609.9L1234.1 620.7L1230.5 634.1L1192 634.1L1192 620.7L1189.4 611.7L1192 602.8L1193.8 596.5L1201 593.8L1209.9 591.2L1218 584.9L1224.2 577.7L1228.7 570.6L1234.1 561.7L1236.7 558.1M1080.3 453.5L1086.5 449L1095.5 448.1L1100.9 452.6L1100 459.7L1097.3 468.7L1091 473.1L1082.1 473.1L1078.5 464.2L1080.3 458L1080.3 453.5M1056.2 480.3L1058.8 480.3L1060.6 491L1063.3 503.5L1069.6 513.4L1074.9 525L1073.1 528.6L1068.7 525L1065.1 514.3L1059.7 505.3L1057 493.7L1056.2 480.3M1100.9 535.7L1103.5 536.6L1106.2 549.1L1108.9 558.1L1111.6 569.7L1110.7 578.6L1108 578.6L1104.4 569.7L1101.7 558.1L1100 546.5L1100.9 535.7M1068.7 440.1L1076.7 431.1L1074 430.2L1066.9 438.3L1068.7 440.1M1116.9 409.7L1120.5 421.3L1123.2 428.4L1119.6 424L1116.1 415L1116.9 409.7M1055.3 466L1057.9 466L1057.9 474L1055.3 472.3L1055.3 466M794.2 393.6L797.8 386.4L796 379.3L790.6 373.9L785.3 376.6L792.4 382.9L794.2 393.6M1050.8 527.7L1056.2 526.8L1057 534.8L1052.6 533.9L1050.8 527.7M1035.6 610.8L1046.3 604.6L1055.3 599.2L1051.7 601.9L1041.8 608.1L1035.6 610.8"/><path fill="none" stroke="#000" stroke-width="0.8" stroke-linejoin="round" d="M729 411.5L728.1 401.6L720.9 393.6L720 382.9L722.7 374.8L725.4 356.9M720 382.9L711.1 374.8L703.9 374.8L697.7 373M768.3 405.2L771 388.2L773.6 377.5L771.9 365.9L771 356.9M806.7 396.3L801.4 389.1L800.5 376.6L798.7 356.9M810.3 395.4L810.3 370.3L808.5 356.9M820.1 393.6L820.1 370.3L828.2 356.9M872.9 409.7L881.8 392.7L894.3 391.8L903.3 379.3L912.2 365.9L916.7 356.9M883.6 431.1L897 430.2L914.9 431.1L925.6 432L939 435.6L940.8 430.2L944.4 419.5L962.3 419.5M897 430.2L897 441.9L880.9 441.9M897 430.2L912.2 438.3L921.2 438.3L924.7 465.1L921.2 472.3L907.8 472.3L898.8 482.1L896.1 485.7M925.6 356.9L925.6 392.7L930.1 406.1L939 431.1M905.1 497.3L912.2 502.7L932.8 489.2L940.8 470.5L954.2 455.3L957.8 446.3L962.3 419.5L970.3 406.1L983.7 412.4L999.8 408.8L1015 405.2L1028.4 404.3L1041 405.2L1055.3 411.5L1072.2 419.5L1091 416.8L1100 413.3M909.5 504.4L939 504.4L943.5 517.8L952.5 523.2L965.9 522.3L970.3 513.4L990.9 516.1L990.9 535.7L995.4 549.1L1010.6 549.1L1022.2 550.9L1032.9 557.2L1039.2 554.5L1049.9 560.8L1055.3 570.6L1062.4 568.8L1062.4 559.9L1050.8 549.1L1050.8 535.7L1070.5 525M1010.6 549.1L1010.6 567L992.7 567L992.7 595.6L1004.3 607.2L1021.3 609.9M902.4 605.5L916.7 602.8L961.4 606.4L983.7 614.4L1004.3 607.2M983.7 614.4L983.7 647.5M1021.3 609.9L1037.4 610.8L1050.8 598.3L1067.8 590.3L1090.1 600.1L1090.1 616.2L1087.4 634.1M1021.3 609.9L1028.4 616.2L1041.8 634.1M1067.8 590.3L1066 581.3L1090.1 572.4L1092.8 562.5L1093.7 547.4L1091 535.7L1090.1 534.8L1074.9 527.7M1088.3 572.4L1099.1 579.5L1104.4 581.3L1111.6 594.7L1110.7 603.7L1116.1 593.8L1116.9 582.2L1111.6 571.5M1108 553.6L1126.8 554.5L1140.2 551.8L1157.2 543.8M1072.2 419.5L1075.8 431.1M1066.9 439.2L1063.3 446.3L1060.6 463.3L1055.3 463.3M1060.6 463.3L1068.7 459.7L1100 459.7L1132.1 477.6L1146.4 491.9M1068.7 459.7L1071.4 472.3L1067.8 476.7L1071.4 480.3L1064.2 489.2L1058.8 491M1055.3 472.3L1063.3 475.8L1067.8 476.7M1100 459.7L1100 449L1104.4 441.9L1108.9 432.9L1103.5 413.3L1116.9 409.7L1125 411.5L1135.7 418.6L1144.7 419.5L1153.6 413.3L1170.6 415L1162.5 424L1162.5 459.7L1167.9 466M1170.6 415L1184.9 410.6L1198.3 406.1L1211.7 392.7L1224.2 379.3L1207.2 375.7L1189.4 370.3L1178.6 361.4L1176 356.9M1116.9 409.7L1106.2 392.7L1091 381.1L1092.8 375.7L1100.9 373.9L1100.9 356.9M934.6 383.8L956.9 379.3L965.9 370.3L988.2 356.9M1006.1 373L1019.5 359.6L1028.4 356.9M1041 405.2L1024 388.2L1006.1 373L997.2 356.9"/>
<path fill="none" stroke="#000" stroke-width="1.7" d="M706.6 361.4l0 0.8M729 361.4l0 0.8M751.3 361.4l0 0.8M773.6 361.4l0 0.8M796 361.4l0 0.8M818.4 361.4l0 0.8M840.7 361.4l0 0.8M863 361.4l0 0.8M885.4 361.4l0 0.8M907.8 361.4l3.5 -0.2M930.1 361.4l13.7 -5.7M952.5 361.4l12 -8M974.8 361.4l10.5 -10.5M997.2 361.4l8 -8M1019.5 361.4l5.5 -5.5M1041.8 361.4l9.4 -5.7M1064.2 361.4l13.7 -5.7M1086.5 361.4l16.9 -7M1108.9 361.4l20.1 -8.3M1131.2 361.4l20.1 -8.3M1153.6 361.4l20.1 -8.3M1176 361.4l16.9 -7M1198.3 361.4l13.7 -5.7M1220.7 361.4l6.3 1.2M1243 361.4l3 7.2M1265.3 361.4l4.2 6.3M1287.7 361.4l5.5 5.5M1310 361.4l5.5 5.5M773.6 383.8l0.7 0.1M796 383.8l3.5 -0.2M818.4 383.8l5.2 -0.5M840.7 383.8l6.8 -1M863 383.8l0.7 0.3M885.4 383.8l0 0.8M907.8 383.8l3.5 -0.2M930.1 383.8l13.7 -5.7M952.5 383.8l12 -8M974.8 383.8l10.5 -10.5M997.2 383.8l9.2 -9.2M1019.5 383.8l8 -8M1041.8 383.8l8.7 -8.7M1064.2 383.8l9.3 -9.3M1086.5 383.8l14.5 -9M1108.9 383.8l20.1 -8.3M1131.2 383.8l20.1 -8.3M1153.6 383.8l20.1 -8.3M1176 383.8l16.6 -3.9M1198.3 383.8l13.2 0M1220.7 383.8l7.8 4.8M1243 383.8l4.3 10.4M1265.3 383.8l5 9.9M1287.7 383.8l5.7 9.4M1310 383.8l5.7 9.4M706.6 406.1l0.7 -0.3M729 406.1l0.7 -0.1M751.3 406.1l0.8 0M773.6 406.1l7.3 -2.2M796 406.1l13.7 -5.7M818.4 406.1l16.9 -7M840.7 406.1l20.1 -8.3M863 406.1l6.8 -1M885.4 406.1l0 0.8M907.8 406.1l3.5 -0.2M930.1 406.1l13.7 -5.7M952.5 406.1l12 -8M974.8 406.1l10.5 -10.5M997.2 406.1l10.5 -10.5M1019.5 406.1l10.5 -10.5M1041.8 406.1l8 -12M1064.2 406.1l5.7 -13.7M1086.5 406.1l12.3 -10.9M1108.9 406.1l20.1 -8.3M1131.2 406.1l20.1 -8.3M1153.6 406.1l20.1 -8.3M1176 406.1l16.4 -1M1198.3 406.1l13.7 5.7M1220.7 406.1l9.3 9.3M1243 406.1l5.7 13.7M1265.3 406.1l5.7 13.7M1287.7 406.1l5.7 13.7M1310 406.1l5.7 13.7M706.6 428.4l4 -1.6M729 428.4l4 -1.4M751.3 428.4l4 -1.1M773.6 428.4l9 -2M796 428.4l14.1 -2.8M818.4 428.4l15.8 -3.4M840.7 428.4l17.4 -4M863 428.4l8 -3.4M885.4 428.4l0.6 -1M907.8 428.4l7.1 -6M930.1 428.4l14.5 -10.3M952.5 428.4l14.8 -9.9M974.8 428.4l15.1 -9.5M997.2 428.4l5.3 -7.1M1019.5 428.4l-1.1 -5.4M1041.8 428.4l-1.2 -10.9M1064.2 428.4l-1 -16.4M1086.5 428.4l5.4 -13.1M1108.9 428.4l12.3 -10.9M1131.2 428.4l12.3 -10.9M1153.6 428.4l12.3 -10.9M1176 428.4l12.1 -2.3M1198.3 428.4l13.7 5.7M1220.7 428.4l11.9 9.9M1243 428.4l10.3 14.5M1265.3 428.4l9.2 13.3M1287.7 428.4l8 12M1310 428.4l8 12M706.6 450.8l7.2 -3M729 450.8l7.2 -3M751.3 450.8l7.2 -3M773.6 450.8l10.8 -1.7M796 450.8l14.8 0M818.4 450.8l14.8 0M840.7 450.8l14.8 0M863 450.8l9.4 -6.3M885.4 450.8l5.7 -13.7M907.8 450.8l10.3 -14.5M930.1 450.8l15.4 -15.4M952.5 450.8l17.7 -11.8M974.8 450.8l20.1 -8.3M997.2 450.8l1.2 -3.5M1019.5 450.8l-13.7 -5.7M1041.8 450.8l-10.9 -12.3M1064.2 450.8l-8.3 -20.1M1086.5 450.8l-1 -16.4M1108.9 450.8l5.7 -13.7M1131.2 450.8l5.7 -13.7M1153.6 450.8l5.7 -13.7M1176 450.8l8 -3.3M1198.3 450.8l13.7 5.7M1220.7 450.8l14.5 10.3M1243 450.8l15.4 15.4M1265.3 450.8l12.9 12.9M1287.7 450.8l10.5 10.5M1310 450.8l10.5 10.5M706.6 473.1l6.5 -7.6M729 473.1l5 -7.6M751.3 473.1l3.7 -7.6M773.6 473.1l4.8 -2.8M796 473.1l7.6 0.7M818.4 473.1l6.3 2.2M840.7 473.1l5.3 3.6M863 473.1l1.8 1M907.8 473.1l5.8 -4.5M930.1 473.1l12.9 -12.9M952.5 473.1l9.6 -5M974.8 473.1l6.8 0.9M1019.5 473.1l-4.8 -3.7M1041.8 473.1l-7.3 -9.1M1064.2 473.1l-9.5 -15.1M1086.5 473.1l-5.6 -13.1M1108.9 473.1l-2.2 -11M1131.2 473.1l0.2 -10.7M1153.6 473.1l2.6 -10.7M1176 473.1l2.9 -1.8M1198.3 473.1l6.7 3.6M1220.7 473.1l8.6 6.8M1243 473.1l10.5 10.5M1265.3 473.1l9.2 9.2M1287.7 473.1l8 8M1310 473.1l8 8M706.6 495.5l5.7 -13.7M729 495.5l2.8 -14.1M751.3 495.5l0 -14.8M773.6 495.5l1.2 -3.3M796 495.5l0.7 0.3M818.4 495.5l1 2.6M840.7 495.5l0 7.8M863 495.5l0 11.3M885.4 495.5l0 14.8M907.8 495.5l1.7 0.7M930.1 495.5l10.5 -10.5M952.5 495.5l1.2 -0.1M974.8 495.5l0 7.8M1019.5 495.5l0 -0.8M1041.8 495.5l-3.9 -5.8M1064.2 495.5l-10.5 -10.5M1086.5 495.5l-10.5 -10.5M1108.9 495.5l-10.5 -10.5M1131.2 495.5l-4.6 -8.9M1153.6 495.5l0 -7.8M1176 495.5l0.2 -0.5M1198.3 495.5l0.6 0.6M1220.7 495.5l3 3M1243 495.5l5.5 5.5M1265.3 495.5l5.5 5.5M1287.7 495.5l5.5 5.5M1310 495.5l5.5 5.5M706.6 517.8l2.8 -14.1M729 517.8l0 -14M751.3 517.8l-2.8 -14.1M773.6 517.8l-1.4 -8.2M796 517.8l-0.2 -2.2M840.7 517.8l0 7.8M863 517.8l1.8 12.6M885.4 517.8l4 17.4M907.8 517.8l4.3 12M930.1 517.8l4.2 6.9M952.5 517.8l2.5 13.3M974.8 517.8l0 20.4M997.2 517.8l-1.7 6.9M1019.5 517.8l-0.6 -0.1M1041.8 517.8l-4.2 -1.1M1064.2 517.8l-8 -2.7M1086.5 517.8l-6.8 -3.4M1108.9 517.8l-5.8 -3.9M1131.2 517.8l-3 -6.8M1153.6 517.8l0 -11.3M1176 517.8l0.1 -0.6M1198.3 517.8l0.2 0.6M1220.7 517.8l0.9 1.7M1243 517.8l1.8 3.1M1265.3 517.8l1.8 3.1M1287.7 517.8l1.8 3.1M1310 517.8l1.8 3.1M706.6 540.2l0 -14.8M729 540.2l-2.8 -14.1M751.3 540.2l-5.7 -13.7M773.6 540.2l-5.7 -13.7M796 540.2l-5.7 -13.7M840.7 540.2l0 7.8M863 540.2l3.7 13.9M885.4 540.2l8.3 20.1M907.8 540.2l4.4 26.4M930.1 540.2l0 33M952.5 540.2l0 33M974.8 540.2l0 33M997.2 540.2l-4.7 16.3M1019.5 540.2l-7.2 3M1041.8 540.2l-7.2 3M1064.2 540.2l-7.2 3M1086.5 540.2l-4 1.1M1108.9 540.2l-0.8 0M1131.2 540.2l-1.5 -4.6M1153.6 540.2l0 -14.8M1176 540.2l0 -0.8M1198.3 540.2l0 0.8M1220.7 540.2l0 0.8M1243 540.2l0 0.8M1265.3 540.2l0 0.8M1287.7 540.2l0 0.8M1310 540.2l0 0.8M706.6 562.5l1.7 -10.8M729 562.5l0.4 -10.4M751.3 562.5l-0.8 -10M773.6 562.5l-0.4 -11.6M796 562.5l0 -13.2M818.4 562.5l0.8 -2.7M840.7 562.5l0.5 0.2M863 562.5l5 6.3M885.4 562.5l9.5 15.1M907.8 562.5l5 20.9M930.1 562.5l0 27.4M952.5 562.5l0 27.4M974.8 562.5l0 27.4M997.2 562.5l-6.4 10.2M1019.5 562.5l-13.3 -1.8M1041.8 562.5l-10.6 -2.4M1064.2 562.5l-8 -2.7M1086.5 562.5l-5.6 -3.8M1108.9 562.5l-3.7 -4.8M1131.2 562.5l1.4 -6.7M1153.6 562.5l9 -11.1M1176 562.5l4.7 -2.9M1198.3 562.5l1.5 0.7M1220.7 562.5l0.3 0.5M1243 562.5l0 0.8M1265.3 562.5l0 0.8M1287.7 562.5l0 0.8M1310 562.5l0 0.8M706.6 584.9l3 -7.2M729 584.9l3 -7.2M751.3 584.9l3 -7.2M773.6 584.9l4.3 -10.4M796 584.9l5.7 -13.7M818.4 584.9l5.7 -9.4M840.7 584.9l5.5 -5.5M863 584.9l6.3 1.3M885.4 584.9l10.5 10.5M907.8 584.9l5.4 15.6M930.1 584.9l0 21.8M952.5 584.9l0 21.8M974.8 584.9l0 21.8M997.2 584.9l-7.8 5.2M1019.5 584.9l-20.1 -8.3M1041.8 584.9l-15.1 -9.5M1064.2 584.9l-10.5 -10.5M1086.5 584.9l-8 -12M1108.9 584.9l-5.7 -13.7M1131.2 584.9l5.8 -9.7M1153.6 584.9l20.1 -8.3M1176 584.9l13.9 -3.7M1198.3 584.9l7.8 0M1220.7 584.9l1.5 0.7M1243 584.9l0 0.8M1265.3 584.9l0 0.8M1287.7 584.9l0 0.8M1310 584.9l0 0.8M706.6 607.2l1.5 -7.4M729 607.2l1.6 -9.1M751.3 607.2l1.7 -10.8M773.6 607.2l3.6 -12.2M796 607.2l5.7 -13.7M818.4 607.2l6.9 -10.7M840.7 607.2l8 -8M863 607.2l7.4 0.7M885.4 607.2l10.5 10.5M907.8 607.2l5.2 13.9M930.1 607.2l0 18.3M952.5 607.2l0 18.3M974.8 607.2l0 18.3M997.2 607.2l-4.8 2.8M1019.5 607.2l-15.1 -9.5M1041.8 607.2l-12.7 -10M1064.2 607.2l-10.5 -10.5M1086.5 607.2l-8.7 -13.5M1108.9 607.2l-7 -16.9M1131.2 607.2l-1.9 -9.9M1153.6 607.2l1.2 -3.5M1176 607.2l1.6 -0.5M1198.3 607.2l6.2 2.6M1220.7 607.2l3.6 2.8M1243 607.2l1.8 3.1M1265.3 607.2l1.8 3.1M1287.7 607.2l1.8 3.1M1310 607.2l1.8 3.1M706.6 629.6l0 -7.8M729 629.6l0 -11.3M751.3 629.6l0 -14.8M773.6 629.6l2.8 -14.1M796 629.6l5.7 -13.7M818.4 629.6l8 -12M840.7 629.6l10.5 -10.5M863 629.6l8.6 0M885.4 629.6l10.5 10.5M907.8 629.6l5.1 12.2M930.1 629.6l0 14.8M952.5 629.6l0 14.8M974.8 629.6l0 14.8M997.2 629.6l-1.7 0.7M1019.5 629.6l-10.5 -10.5M1041.8 629.6l-10.5 -10.5M1064.2 629.6l-10.5 -10.5M1086.5 629.6l-9.5 -15.1M1108.9 629.6l-8.3 -20.1M1131.2 629.6l-10.9 -12.3M1153.6 629.6l-13.7 -5.7M1198.3 629.6l5.5 5.5M1220.7 629.6l5.5 5.5M1243 629.6l5.5 5.5M1265.3 629.6l5.5 5.5M1287.7 629.6l5.5 5.5M1310 629.6l5.5 5.5"/>
<path fill="#000" d="M706.6 368.4l-2.2 -6.2l4.4 -0zM729 368.4l-2.2 -6.2l4.4 -0zM751.3 368.4l-2.2 -6.2l4.4 -0zM773.6 368.4l-2.2 -6.2l4.4 -0zM796 368.4l-2.2 -6.2l4.4 -0zM818.4 368.4l-2.2 -6.2l4.4 -0zM840.7 368.4l-2.2 -6.2l4.4 -0zM863 368.4l-2.2 -6.2l4.4 -0zM885.4 368.4l-2.2 -6.2l4.4 -0zM917.5 360.9l-6.1 2.5l-0.2 -4.4zM949.5 353.4l-4.9 4.4l-1.7 -4.1zM969.6 350l-3.9 5.3l-2.4 -3.7zM989.6 346.6l-2.8 5.9l-3.1 -3.1zM1009.5 349l-2.8 5.9l-3.1 -3.1zM1029.4 351.5l-2.8 5.9l-3.1 -3.1zM1056.5 352.4l-4.1 5.1l-2.3 -3.8zM1083.6 353.4l-4.9 4.4l-1.7 -4.1zM1109.2 352l-4.9 4.4l-1.7 -4.1zM1134.8 350.7l-4.9 4.4l-1.7 -4.1zM1157.1 350.7l-4.9 4.4l-1.7 -4.1zM1179.5 350.7l-4.9 4.4l-1.7 -4.1zM1198.6 352l-4.9 4.4l-1.7 -4.1zM1217.7 353.4l-4.9 4.4l-1.7 -4.1zM1233 363.8l-6.5 1l0.9 -4.3zM1248.4 374.3l-4.4 -4.9l4.1 -1.7zM1273 372.8l-5.3 -3.9l3.7 -2.4zM1297.6 371.3l-5.9 -2.8l3.1 -3.1zM1319.9 371.3l-5.9 -2.8l3.1 -3.1zM709.8 385.9l-3.6 -0.9l1.4 -2.1zM732.3 386.6l-3.9 -1.5l1.8 -2.2zM754.8 387.2l-4.3 -2l2.2 -2.2zM780.3 385.2l-6.4 0.8l1 -4.2zM805.7 383.2l-6.1 2.5l-0.2 -4.4zM829.7 382.6l-5.9 2.8l-0.5 -4.4zM853.6 381.9l-5.8 3.1l-0.6 -4.4zM869.5 386.3l-6.6 -0.2l1.6 -4.1zM885.4 390.8l-2.2 -6.2l4.4 -0zM917.5 383.2l-6.1 2.5l-0.2 -4.4zM949.5 375.7l-4.9 4.4l-1.7 -4.1zM969.6 372.3l-3.9 5.3l-2.4 -3.7zM989.6 368.9l-2.8 5.9l-3.1 -3.1zM1010.8 370.1l-2.8 5.9l-3.1 -3.1zM1031.9 371.4l-2.8 5.9l-3.1 -3.1zM1054.9 370.7l-2.8 5.9l-3.1 -3.1zM1077.9 370l-2.8 5.9l-3.1 -3.1zM1106.3 371.5l-4.1 5.1l-2.3 -3.7zM1134.8 373l-4.9 4.4l-1.7 -4.1zM1157.1 373l-4.9 4.4l-1.7 -4.1zM1179.5 373l-4.9 4.4l-1.7 -4.1zM1198.6 378.4l-5.5 3.6l-1 -4.3zM1217.7 383.8l-6.2 2.2l-0 -4.4zM1233.7 391.8l-6.4 -1.4l2.3 -3.7zM1249.7 399.9l-4.4 -4.9l4.1 -1.7zM1273.2 399.2l-4.8 -4.5l3.9 -2zM1296.7 398.4l-5.1 -4.1l3.8 -2.3zM1319 398.4l-5.1 -4.1l3.8 -2.3zM713.1 403.4l-4.9 4.4l-1.7 -4.1zM735.7 404.8l-5.6 3.4l-0.9 -4.3zM758.3 406.1l-6.2 2.2l-0 -4.4zM786.9 402.1l-5.3 3.9l-1.3 -4.2zM815.4 398.1l-4.9 4.4l-1.7 -4.1zM841 396.7l-4.9 4.4l-1.7 -4.1zM866.6 395.4l-4.9 4.4l-1.7 -4.1zM876 404.2l-5.8 3.1l-0.6 -4.4zM885.4 413.1l-2.2 -6.2l4.4 -0zM917.5 405.6l-6.1 2.5l-0.2 -4.4zM949.5 398.1l-4.9 4.4l-1.7 -4.1zM969.6 394.7l-3.9 5.3l-2.4 -3.7zM989.6 391.3l-2.8 5.9l-3.1 -3.1zM1012 391.3l-2.8 5.9l-3.1 -3.1zM1034.3 391.3l-2.8 5.9l-3.1 -3.1zM1053.3 389l-1.6 6.4l-3.7 -2.4zM1072.2 386.7l-0.3 6.6l-4.1 -1.7zM1103.5 391l-3.2 5.8l-2.9 -3.3zM1134.8 395.4l-4.9 4.4l-1.7 -4.1zM1157.1 395.4l-4.9 4.4l-1.7 -4.1zM1179.5 395.4l-4.9 4.4l-1.7 -4.1zM1198.6 404.8l-6.1 2.6l-0.3 -4.4zM1217.7 414.1l-6.6 -0.3l1.7 -4.1zM1234.4 419.8l-5.9 -2.8l3.1 -3.1zM1251 425.5l-4.4 -4.9l4.1 -1.7zM1273.4 425.5l-4.4 -4.9l4.1 -1.7zM1295.7 425.5l-4.4 -4.9l4.1 -1.7zM1318.1 425.5l-4.4 -4.9l4.1 -1.7zM716.3 424.4l-4.9 4.4l-1.7 -4.1zM738.8 425.1l-5.2 4.1l-1.4 -4.2zM761.3 425.8l-5.4 3.7l-1.1 -4.2zM788.7 425.1l-5.6 3.5l-1 -4.3zM816.2 424.4l-5.7 3.4l-0.9 -4.3zM840.2 423.8l-5.6 3.5l-0.9 -4.3zM864.1 423.1l-5.6 3.5l-1 -4.3zM876.8 422.7l-4.9 4.4l-1.7 -4.1zM889.4 422.2l-1.5 6.4l-3.7 -2.4zM919.6 418.4l-3.3 5.7l-2.9 -3.3zM949.7 414.5l-3.8 5.4l-2.5 -3.6zM972.4 415.1l-3.9 5.3l-2.4 -3.7zM995.2 415.7l-4.1 5.2l-2.3 -3.7zM1006.2 416.3l-1.9 6.3l-3.5 -2.6zM1017.2 417l3.4 5.7l-4.3 0.9zM1040 411.4l2.8 5.9l-4.4 0.5zM1062.9 405.8l2.6 6.1l-4.4 0.3zM1094.4 409.6l-0.3 6.6l-4.1 -1.7zM1125.9 413.4l-3.2 5.8l-2.9 -3.3zM1148.2 413.4l-3.2 5.8l-2.9 -3.3zM1170.6 413.4l-3.2 5.8l-2.9 -3.3zM1194.1 424.9l-5.7 3.3l-0.8 -4.3zM1217.7 436.5l-6.6 -0.3l1.7 -4.1zM1237.3 442.3l-6.2 -2.3l2.8 -3.4zM1256.9 448.1l-5.4 -3.8l3.6 -2.5zM1278 446.8l-5.3 -3.9l3.6 -2.5zM1299.1 445.6l-5.3 -3.9l3.7 -2.4zM1321.5 445.6l-5.3 -3.9l3.7 -2.4zM719.5 445.4l-4.9 4.4l-1.7 -4.1zM741.9 445.4l-4.9 4.4l-1.7 -4.1zM764.2 445.4l-4.9 4.4l-1.7 -4.1zM790.6 448.1l-5.8 3.1l-0.7 -4.3zM817 450.8l-6.2 2.2l-0 -4.4zM839.4 450.8l-6.2 2.2l-0 -4.4zM861.7 450.8l-6.2 2.2l-0 -4.4zM877.6 441.1l-3.9 5.3l-2.4 -3.7zM893.4 431.4l-0.3 6.6l-4.1 -1.7zM921.7 431.2l-1.8 6.3l-3.6 -2.5zM949.9 431l-2.8 5.9l-3.1 -3.1zM975.3 435.5l-3.9 5.3l-2.4 -3.7zM1000.7 440.1l-4.9 4.4l-1.7 -4.1zM1000.4 441.4l0.1 6.6l-4.2 -1.4zM1000.1 442.8l6.6 0.3l-1.7 4.1zM1026.8 433.8l5.8 3.2l-3.3 2.9zM1053.5 424.9l4.4 4.9l-4.1 1.7zM1085.2 428.2l2.6 6.1l-4.4 0.3zM1116.9 431.4l-0.3 6.6l-4.1 -1.7zM1139.3 431.4l-0.3 6.6l-4.1 -1.7zM1161.6 431.4l-0.3 6.6l-4.1 -1.7zM1189.7 445.1l-4.9 4.4l-1.7 -4.1zM1217.7 458.8l-6.6 -0.3l1.7 -4.1zM1240.3 464.7l-6.3 -1.8l2.5 -3.6zM1262.8 470.6l-5.9 -2.8l3.1 -3.1zM1282.7 468.1l-5.9 -2.8l3.1 -3.1zM1302.5 465.6l-5.9 -2.8l3.1 -3.1zM1324.9 465.6l-5.9 -2.8l3.1 -3.1zM717.1 460.8l-2.3 6.2l-3.4 -2.8zM737.4 460.4l-1.6 6.4l-3.7 -2.4zM757.8 460l-0.8 6.5l-4 -1.9zM783.8 467.2l-4.2 5l-2.2 -3.8zM809.7 474.5l-6.4 1.6l0.4 -4.4zM830.5 477.3l-6.6 0.1l1.4 -4.2zM851.2 480.1l-6.4 -1.6l2.4 -3.7zM870.3 477l-6.5 -1l2.1 -3.9zM889.4 473.9l-3.9 0.6l0.5 -2.6zM918.4 464.9l-3.6 5.5l-2.7 -3.5zM947.4 455.8l-2.8 5.9l-3.1 -3.1zM967.6 465.3l-4.5 4.8l-2 -3.9zM987.7 474.8l-6.4 1.4l0.6 -4.4zM998.8 470.2l-0.5 3.2l-1.9 -1zM1009.8 465.6l6.2 2.1l-2.7 3.5zM1030.6 459.2l5.6 3.4l-3.4 2.8zM1051.4 452.8l5.2 4.1l-3.7 2.3zM1078.5 454.4l4.5 4.8l-4 1.7zM1105.5 456l3.4 5.7l-4.3 0.9zM1131.6 456.2l2.1 6.2l-4.4 -0.1zM1157.6 456.4l0.7 6.5l-4.3 -1zM1184 468l-4.1 5.2l-2.3 -3.7zM1210.5 479.6l-6.5 -1l2.1 -3.9zM1234.2 483.8l-6.2 -2.1l2.7 -3.5zM1257.8 488l-5.9 -2.8l3.1 -3.1zM1279 486.8l-5.9 -2.8l3.1 -3.1zM1300.1 485.5l-5.9 -2.8l3.1 -3.1zM1322.4 485.5l-5.9 -2.8l3.1 -3.1zM714.6 476.1l-0.3 6.6l-4.1 -1.7zM733 475.3l0.9 6.5l-4.3 -0.9zM751.3 474.5l2.2 6.2l-4.4 -0zM776.9 486.3l0 6.6l-4.1 -1.5zM802.5 498.2l-6.6 -0.3l1.7 -4.1zM821.6 503.8l-4.3 -5l4.1 -1.6zM840.7 509.5l-2.2 -6.2l4.4 -0zM863 513l-2.2 -6.2l4.4 -0zM885.4 516.5l-2.2 -6.2l4.4 -0zM915.2 498.6l-6.6 -0.3l1.7 -4.1zM944.9 480.7l-2.8 5.9l-3.1 -3.1zM959.9 495.1l-6.1 2.6l-0.3 -4.4zM974.8 509.5l-2.2 -6.2l4.4 -0zM997.2 499l-1.1 -3.1l2.2 -0zM1019.5 488.5l2.2 6.2l-4.4 -0zM1034.4 484.6l5.3 3.9l-3.6 2.5zM1049.4 480.7l5.9 2.8l-3.1 3.1zM1071.7 480.7l5.9 2.8l-3.1 3.1zM1094.1 480.7l5.9 2.8l-3.1 3.1zM1123.8 481.1l4.8 4.5l-3.9 2zM1153.6 481.5l2.2 6.2l-4.4 -0zM1178.4 491l-0.8 4.9l-2.9 -1.6zM1203.2 500.4l-5.9 -2.8l3.1 -3.1zM1228.1 502.9l-5.9 -2.8l3.1 -3.1zM1252.9 505.4l-5.9 -2.8l3.1 -3.1zM1275.2 505.4l-5.9 -2.8l3.1 -3.1zM1297.6 505.4l-5.9 -2.8l3.1 -3.1zM1319.9 505.4l-5.9 -2.8l3.1 -3.1zM710.6 497.6l0.9 6.5l-4.3 -0.9zM729 497.6l2.2 6.2l-4.4 -0zM747.3 497.6l3.4 5.7l-4.3 0.9zM771.2 503.6l3.2 5.7l-4.3 0.7zM795.2 509.5l2.8 6l-4.4 0.4zM818 520.7l-0.5 -2.7l1.8 0.3zM840.7 531.8l-2.2 -6.2l4.4 -0zM865.7 536.6l-3.1 -5.8l4.4 -0.6zM890.8 541.3l-3.5 -5.6l4.3 -1zM914.1 535.7l-4.2 -5.1l4.1 -1.5zM937.5 530l-5.1 -4.1l3.8 -2.3zM956.2 537.2l-3.3 -5.7l4.3 -0.8zM974.8 544.4l-2.2 -6.2l4.4 -0zM993.9 530.7l-0.6 -6.5l4.3 1.1zM1013 517l6.1 -1.3l-0.5 4.1zM1031.7 515.1l6.6 -0.5l-1.2 4.2zM1050.3 513.1l6.6 -0.1l-1.4 4.2zM1074.1 511.8l6.5 0.8l-1.9 4zM1098 510.4l6.4 1.7l-2.5 3.6zM1125.8 505.4l4.5 4.8l-4 1.8zM1153.6 500.3l2.2 6.2l-4.4 -0zM1177.2 512.1l0.7 5.6l-3.7 -0.8zM1200.8 523.8l-4.1 -4.6l3.8 -1.6zM1224.4 525.1l-4.8 -4.5l3.9 -2zM1247.9 526.3l-5 -4.2l3.8 -2.2zM1270.3 526.3l-5 -4.2l3.8 -2.2zM1292.6 526.3l-5 -4.2l3.8 -2.2zM1315 526.3l-5 -4.2l3.8 -2.2zM706.6 519.2l2.2 6.2l-4.4 -0zM724.9 520l3.4 5.7l-4.3 0.9zM743.3 520.8l4.4 4.9l-4.1 1.7zM765.6 520.8l4.4 4.9l-4.1 1.7zM788 520.8l4.4 4.9l-4.1 1.7zM814.3 537.5l4.5 1.1l-1.7 2.6zM840.7 554.2l-2.2 -6.2l4.4 -0zM868.4 560.1l-3.7 -5.4l4.2 -1.1zM896.1 566.1l-4.4 -4.9l4.1 -1.7zM913.1 572.7l-3.2 -5.8l4.3 -0.7zM930.1 579.4l-2.2 -6.2l4.4 -0zM952.5 579.4l-2.2 -6.2l4.4 -0zM974.8 579.4l-2.2 -6.2l4.4 -0zM990.7 562.5l-0.4 -6.6l4.2 1.2zM1006.6 545.6l4.9 -4.4l1.7 4.1zM1028.9 545.6l4.9 -4.4l1.7 4.1zM1051.3 545.6l4.9 -4.4l1.7 4.1zM1076.6 542.9l5.4 -3.7l1.1 4.2zM1101.9 540.2l6.2 -2.2l-0 4.4zM1127.8 529.7l4 5.2l-4.2 1.4zM1153.6 519.2l2.2 6.2l-4.4 -0zM1176 533.2l2.2 6.2l-4.4 -0zM1198.3 547.2l-2.2 -6.2l4.4 -0zM1220.7 547.2l-2.2 -6.2l4.4 -0zM1243 547.2l-2.2 -6.2l4.4 -0zM1265.3 547.2l-2.2 -6.2l4.4 -0zM1287.7 547.2l-2.2 -6.2l4.4 -0zM1310 547.2l-2.2 -6.2l4.4 -0zM709.3 545.6l1.2 6.5l-4.3 -0.7zM729.6 546l1.9 6.3l-4.4 -0.2zM750 546.4l2.7 6l-4.4 0.4zM773 544.8l2.4 6.1l-4.4 0.2zM796 543.1l2.2 6.2l-4.4 -0zM820.8 553.9l0.4 6.6l-4.2 -1.2zM845.6 564.6l-5.1 -0.3l1.3 -3.2zM871.9 573.8l-5.6 -3.5l3.5 -2.7zM898.2 582.9l-5.2 -4.1l3.7 -2.3zM914.1 589.5l-3.6 -5.5l4.3 -1zM930.1 596.1l-2.2 -6.2l4.4 -0zM952.5 596.1l-2.2 -6.2l4.4 -0zM974.8 596.1l-2.2 -6.2l4.4 -0zM987.4 578l1.4 -6.4l3.7 2.3zM1000.1 559.9l6.4 -1.3l-0.6 4.4zM1025.2 558.8l6.5 -0.8l-1 4.3zM1050.3 557.8l6.6 -0.1l-1.4 4.2zM1075.8 555.3l6.4 1.6l-2.5 3.6zM1101.4 552.8l5.5 3.6l-3.5 2.7zM1134 549.8l0.9 6.5l-4.3 -0.9zM1166.5 546.7l-2.2 6.2l-3.4 -2.8zM1185.9 556.4l-4.1 5.1l-2.3 -3.7zM1205.3 566l-6.5 -0.8l2 -3.9zM1224.2 567.8l-4.8 -3.6l3.4 -2.2zM1243 569.5l-2.2 -6.2l4.4 -0zM1265.3 569.5l-2.2 -6.2l4.4 -0zM1287.7 569.5l-2.2 -6.2l4.4 -0zM1310 569.5l-2.2 -6.2l4.4 -0zM712 572l-0.3 6.6l-4.1 -1.7zM734.3 572l-0.3 6.6l-4.1 -1.7zM756.7 572l-0.3 6.6l-4.1 -1.7zM780.3 568.7l-0.3 6.6l-4.1 -1.7zM804 565.5l-0.3 6.6l-4.1 -1.7zM827.3 570.2l-1.4 6.4l-3.8 -2.3zM850.6 575l-2.8 5.9l-3.1 -3.1zM875.4 587.4l-6.5 0.9l0.9 -4.3zM900.2 599.7l-5.9 -2.8l3.1 -3.1zM915.2 606.3l-4.1 -5.1l4.2 -1.4zM930.1 612.9l-2.2 -6.2l4.4 -0zM952.5 612.9l-2.2 -6.2l4.4 -0zM974.8 612.9l-2.2 -6.2l4.4 -0zM984.2 593.5l3.9 -5.3l2.4 3.7zM993.6 574.2l6.6 0.3l-1.7 4.1zM1021.5 572.1l6.4 1.4l-2.3 3.7zM1049.4 570.1l5.9 2.8l-3.1 3.1zM1075.1 567.8l5.3 3.9l-3.7 2.4zM1100.9 565.5l4.4 4.9l-4.1 1.7zM1140.2 569.8l-1.3 6.5l-3.8 -2.2zM1179.5 574.2l-4.9 4.4l-1.7 -4.1zM1195.9 579.5l-5.4 3.7l-1.1 -4.2zM1212.3 584.9l-6.2 2.2l-0 -4.4zM1227.7 588.4l-6.5 -0.8l2 -3.9zM1243 591.9l-2.2 -6.2l4.4 -0zM1265.3 591.9l-2.2 -6.2l4.4 -0zM1287.7 591.9l-2.2 -6.2l4.4 -0zM1310 591.9l-2.2 -6.2l4.4 -0zM709.3 593.8l0.9 6.5l-4.3 -0.9zM731.6 592l1.1 6.5l-4.3 -0.8zM754 590.3l1.2 6.5l-4.3 -0.7zM779 589.1l0.4 6.6l-4.2 -1.2zM804 587.8l-0.3 6.6l-4.1 -1.7zM828.6 591.4l-1.5 6.4l-3.7 -2.4zM853.1 594.9l-2.8 5.9l-3.1 -3.1zM876.7 608.5l-6.4 1.6l0.4 -4.4zM900.2 622.1l-5.9 -2.8l3.1 -3.1zM915.2 626.9l-4.2 -5l4.1 -1.6zM930.1 631.8l-2.2 -6.2l4.4 -0zM952.5 631.8l-2.2 -6.2l4.4 -0zM974.8 631.8l-2.2 -6.2l4.4 -0zM987 613.1l4.3 -5l2.2 3.8zM999.1 594.5l6.4 1.4l-2.3 3.7zM1024.2 593.4l6.2 2.1l-2.7 3.5zM1049.4 592.4l5.9 2.8l-3.1 3.1zM1074.4 588.5l5.2 4l-3.7 2.4zM1099.5 584.6l4.4 4.9l-4.1 1.7zM1128.2 591.2l3.3 5.7l-4.3 0.8zM1156.8 597.9l0.1 6.6l-4.2 -1.4zM1183.5 605l-5.3 3.8l-1.2 -4.2zM1210.2 612.2l-6.6 -0.3l1.7 -4.1zM1229.1 613.9l-6.2 -2.1l2.7 -3.4zM1247.9 615.7l-5 -4.2l3.8 -2.2zM1270.3 615.7l-5 -4.2l3.8 -2.2zM1292.6 615.7l-5 -4.2l3.8 -2.2zM1315 615.7l-5 -4.2l3.8 -2.2zM706.6 615.6l2.2 6.2l-4.4 -0zM729 612.1l2.2 6.2l-4.4 -0zM751.3 608.6l2.2 6.2l-4.4 -0zM777.7 609.4l0.9 6.5l-4.3 -0.9zM804 610.2l-0.3 6.6l-4.1 -1.7zM829.8 612.5l-1.6 6.4l-3.7 -2.4zM855.5 614.8l-2.8 5.9l-3.1 -3.1zM877.9 629.6l-6.2 2.2l-0 -4.4zM900.2 644.4l-5.9 -2.8l3.1 -3.1zM915.2 647.5l-4.4 -4.9l4.1 -1.7zM930.1 650.6l-2.2 -6.2l4.4 -0zM952.5 650.6l-2.2 -6.2l4.4 -0zM974.8 650.6l-2.2 -6.2l4.4 -0zM989.7 632.7l4.9 -4.4l1.7 4.1zM1004.7 614.8l5.9 2.8l-3.1 3.1zM1027 614.8l5.9 2.8l-3.1 3.1zM1049.4 614.8l5.9 2.8l-3.1 3.1zM1073.8 609.2l5.2 4.1l-3.7 2.3zM1098.2 603.7l4.4 4.9l-4.1 1.7zM1116.2 612.6l5.8 3.2l-3.3 2.9zM1134.2 621.6l6.6 0.3l-1.7 4.1zM1171.2 630.5l4 -2.4l0.6 3zM1208.2 639.5l-5.9 -2.8l3.1 -3.1zM1230.5 639.5l-5.9 -2.8l3.1 -3.1zM1252.9 639.5l-5.9 -2.8l3.1 -3.1zM1275.2 639.5l-5.9 -2.8l3.1 -3.1zM1297.6 639.5l-5.9 -2.8l3.1 -3.1zM1319.9 639.5l-5.9 -2.8l3.1 -3.1z"/>
<path stroke="#000" stroke-width="5.6" stroke-linecap="round" d="M773.6 361.4h0M796 361.4h0M818.4 361.4h0M840.7 361.4h0M863 361.4h0M885.4 361.4h0M907.8 361.4h0M773.6 383.8h0M796 383.8h0M818.4 383.8h0M840.7 383.8h0M863 383.8h0M885.4 383.8h0M907.8 383.8h0M840.7 406.1h0M863 406.1h0M885.4 406.1h0M907.8 406.1h0M773.6 428.4h0M796 428.4h0M818.4 428.4h0M840.7 428.4h0M863 428.4h0M885.4 428.4h0M907.8 428.4h0M930.1 428.4h0M1198.3 428.4h0M1220.7 428.4h0M1243 428.4h0M1265.3 428.4h0M773.6 450.8h0M796 450.8h0M818.4 450.8h0M840.7 450.8h0M863 450.8h0M885.4 450.8h0M907.8 450.8h0M930.1 450.8h0M1198.3 450.8h0M1220.7 450.8h0M1243 450.8h0M1265.3 450.8h0M773.6 473.1h0M796 473.1h0M818.4 473.1h0M840.7 473.1h0M863 473.1h0M885.4 473.1h0M907.8 473.1h0M930.1 473.1h0M1198.3 473.1h0M1220.7 473.1h0M1243 473.1h0M1265.3 473.1h0M840.7 495.5h0M863 495.5h0M885.4 495.5h0M907.8 495.5h0M1131.2 495.5h0M1153.6 495.5h0M1176 495.5h0M1198.3 495.5h0M706.6 517.8h0M729 517.8h0M751.3 517.8h0M773.6 517.8h0M796 517.8h0M818.4 517.8h0M840.7 517.8h0M863 517.8h0M885.4 517.8h0M907.8 517.8h0M930.1 517.8h0M1019.5 517.8h0M1108.9 517.8h0M706.6 540.2h0M729 540.2h0M751.3 540.2h0M773.6 540.2h0M796 540.2h0M818.4 540.2h0M840.7 540.2h0M863 540.2h0M885.4 540.2h0M907.8 540.2h0M930.1 540.2h0M1019.5 540.2h0M1108.9 540.2h0M706.6 562.5h0M729 562.5h0M751.3 562.5h0M773.6 562.5h0M796 562.5h0M818.4 562.5h0M840.7 562.5h0M863 562.5h0M885.4 562.5h0M907.8 562.5h0M930.1 562.5h0M1019.5 562.5h0M1108.9 562.5h0M1198.3 584.9h0M1220.7 584.9h0M1243 584.9h0M1265.3 584.9h0M1287.7 584.9h0M1310 584.9h0M1019.5 607.2h0M1041.8 607.2h0M1064.2 607.2h0M1086.5 607.2h0M1198.3 607.2h0M1220.7 607.2h0M1243 607.2h0M1265.3 607.2h0M1287.7 607.2h0M1310 607.2h0M1019.5 629.6h0M1041.8 629.6h0M1064.2 629.6h0M1086.5 629.6h0M1198.3 629.6h0M1220.7 629.6h0M1243 629.6h0M1265.3 629.6h0M1287.7 629.6h0M1310 629.6h0"/>
<rect x="1046.3" y="450.8" width="125.2" height="107.3" fill="none" stroke="#e3211c" stroke-width="2"/>
</g>
<rect x="706.6" y="361.4" width="612.4" height="268.2" fill="none" stroke="#000" stroke-width="1.3"/>
<line x1="703.1" y1="406.1" x2="706.6" y2="406.1" stroke="#000" stroke-width="1"/>
<text x="699.6" y="413.4" text-anchor="end" class="tk">5</text>
<line x1="703.1" y1="450.8" x2="706.6" y2="450.8" stroke="#000" stroke-width="1"/>
<text x="699.6" y="458.1" text-anchor="end" class="tk">0</text>
<line x1="703.1" y1="495.5" x2="706.6" y2="495.5" stroke="#000" stroke-width="1"/>
<text x="699.6" y="502.8" text-anchor="end" class="tk">-5</text>
<line x1="703.1" y1="540.2" x2="706.6" y2="540.2" stroke="#000" stroke-width="1"/>
<text x="699.6" y="547.5" text-anchor="end" class="tk">-10</text>
<line x1="703.1" y1="584.9" x2="706.6" y2="584.9" stroke="#000" stroke-width="1"/>
<text x="699.6" y="592.2" text-anchor="end" class="tk">-15</text>
<line x1="703.1" y1="629.6" x2="706.6" y2="629.6" stroke="#000" stroke-width="1"/>
<text x="699.6" y="636.9" text-anchor="end" class="tk">-20</text>
<line x1="706.6" y1="629.6" x2="706.6" y2="633.1" stroke="#000" stroke-width="1"/>
<text x="706.6" y="652.2" text-anchor="middle" class="tk">-10</text>
<line x1="796.0" y1="629.6" x2="796.0" y2="633.1" stroke="#000" stroke-width="1"/>
<text x="796.0" y="652.2" text-anchor="middle" class="tk">0</text>
<line x1="885.4" y1="629.6" x2="885.4" y2="633.1" stroke="#000" stroke-width="1"/>
<text x="885.4" y="652.2" text-anchor="middle" class="tk">10</text>
<line x1="974.8" y1="629.6" x2="974.8" y2="633.1" stroke="#000" stroke-width="1"/>
<text x="974.8" y="652.2" text-anchor="middle" class="tk">20</text>
<line x1="1064.2" y1="629.6" x2="1064.2" y2="633.1" stroke="#000" stroke-width="1"/>
<text x="1064.2" y="652.2" text-anchor="middle" class="tk">30</text>
<line x1="1153.6" y1="629.6" x2="1153.6" y2="633.1" stroke="#000" stroke-width="1"/>
<text x="1153.6" y="652.2" text-anchor="middle" class="tk">40</text>
<line x1="1243.0" y1="629.6" x2="1243.0" y2="633.1" stroke="#000" stroke-width="1"/>
<text x="1243.0" y="652.2" text-anchor="middle" class="tk">50</text>
<text x="708.1" y="355.0" class="tt">(E)_Day 0</text>
<clipPath id="cF"><rect x="1367.0" y="358.2" width="625.8" height="268.2"/></clipPath>
<g clip-path="url(#cF)">
<rect x="1367.0" y="358.2" width="625.8" height="268.2" fill="#97ff60"/>
<path fill="#0000ed" stroke="#0000ed" stroke-width="0.6" d="M1861.1 613.5l10.9 -1.1l11 3l0.4 0.3l8.5 10.7l-8.9 0l-11 0l-10.9 0l-11 0l-4.8 0l4.8 -5.4l7.6 -5.3z"/>
<path fill="#0020ff" stroke="#0020ff" stroke-width="0.6" d="M1861.1 589.4l10.9 -0.5l11 1.5l11 -0.1l11 -1.6l10.9 -1.4l11 2.3l5.5 4.6l5.5 9.1l1 1.6l10 9.7l1.3 1.1l9.7 9.1l1.2 1.6l-1.2 0l-11 0l-11 0l-11 0l-11 0l-10.9 0l-11 0l-2.1 0l-8.5 -10.7l-0.4 -0.3l-11 -3l-10.9 1.1l-3.4 2.2l-7.6 5.3l-4.8 5.4l-6.2 0l-8.3 0l5 -10.7l3.3 -4.2l6.6 -6.6l4.4 -7.2l3.3 -3.5z"/>
<path fill="#0060ff" stroke="#0060ff" stroke-width="0.6" d="M1850.1 580.3l11 -2.8l10.9 -0.2l11 0.7l11 0.2l11 -0.4l10.9 -0.5l11 0.8l11 3.7l3.1 1.7l7.9 9.3l1.3 1.4l9.7 10.3l0.5 0.4l10.4 9.1l1.7 1.7l7.3 10.7l-9 0l-9.7 0l-1.2 -1.6l-9.7 -9.1l-1.3 -1.1l-10 -9.7l-1 -1.6l-5.5 -9.1l-5.5 -4.6l-11 -2.3l-10.9 1.4l-11 1.6l-11 0.1l-11 -1.5l-10.9 0.5l-7.7 4.8l-3.3 3.5l-4.4 7.2l-6.6 6.6l-3.3 4.2l-5 10.7l-2.7 0l-5.2 0l1.2 -10.7l2.6 -10.8l1.4 -4.3l4.1 -6.4l6.9 -6.8l3.8 -3.9z"/>
<path fill="#00a0ff" stroke="#00a0ff" stroke-width="0.6" d="M1850.1 571.9l11 -2.2l10.9 -0.2l11 0.6l11 0.2l11 -0.2l10.9 -0.3l11 0.4l11 1.8l3.1 0.8l7.9 3.1l11 6.5l1.2 1.1l9.6 10.7l0.1 0.2l10.4 10.5l0.6 0.7l11 7.7l0 2.4l0 10.7l-11 0l-2 0l-7.3 -10.7l-1.7 -1.7l-10.4 -9.1l-0.5 -0.4l-9.7 -10.3l-1.3 -1.4l-7.9 -9.3l-3.1 -1.7l-11 -3.7l-11 -0.8l-10.9 0.5l-11 0.4l-11 -0.2l-11 -0.7l-10.9 0.2l-11 2.8l-7.2 3.2l-3.8 3.9l-6.9 6.8l-4.1 6.4l-1.4 4.3l-2.6 10.8l-1.2 10.7l-5.8 0l-0.6 0l0 -10.7l0.4 -10.8l0.2 -2l2.6 -8.7l6.7 -10.7l1.7 -1.4l11 -5.5l8.6 -3.8z"/>
<path fill="#00e0fb" stroke="#00e0fb" stroke-width="0.6" d="M1630.5 432.3l4.9 1l6.1 2.9l4.5 7.8l-3.5 10.8l-1 1l-11 5.4l-11 0.5l-11 -3.5l-3.6 -3.4l-1.7 -10.8l5.3 -6.2l11 -4.5l0 0zM1378 443.4l0.7 0.6l-0.7 6.1l-0.8 4.7l-10.2 6.5l0 -6.5l0 -10.8l0 -8.7zM1839.1 568.9l11 -3.8l11 -2.3l10.9 -0.2l11 0.5l11 0.2l11 -0.2l10.9 -0.1l11 0.2l11 0.5l11 0.9l11 1.3l10.9 3l5.1 3.9l5.2 10.7l0.7 0.9l9.6 9.8l1.4 1l0 9.7l0 8.4l-11 -7.7l-0.6 -0.7l-10.4 -10.5l-0.1 -0.2l-9.6 -10.7l-1.2 -1.1l-11 -6.5l-7.9 -3.1l-3.1 -0.8l-11 -1.8l-11 -0.4l-10.9 0.3l-11 0.2l-11 -0.2l-11 -0.6l-10.9 0.2l-11 2.2l-2.4 0.9l-8.6 3.8l-11 5.5l-1.7 1.4l-6.7 10.7l-2.6 8.7l-0.2 2l-0.4 10.8l0 10.7l-4.2 0l-0.2 -10.7l0.2 -10.8l1.2 -10.7l3.1 -10.7l0.5 -1l11 -8.8l1.8 -0.9z"/>
<path fill="#30ffc7" stroke="#30ffc7" stroke-width="0.6" d="M1378 358.2l0.3 0l-0.3 10.7l0.2 10.8l0.8 10.7l-0.4 10.7l-0.6 2.1l-2.5 8.6l0.4 10.8l2.1 2l9 8.7l2 1.8l8.6 8.9l-0.3 10.8l-8.3 7.2l-4.2 3.5l-6.8 5.1l-7.2 5.6l-3.8 4.4l0 -4.4l0 -10.7l0 -4.2l10.2 -6.5l0.8 -4.7l0.7 -6.1l-0.7 -0.6l-11 -8.1l0 -2l0 -10.7l0 -10.8l0 -10.7l0 -10.7l0 -10.7l0 -10.8l0 -10.7zM1476.8 358.2l11 0l4.3 0l-4.3 6.4l-10.8 4.3l-0.2 0.1l-0.2 -0.1l-10.6 -10.7zM1531.7 359.8l1.3 -1.6l9.7 0l10.9 0l6.2 0l4.8 8.4l3 2.3l8 3l11 1.9l11 4l3.1 1.9l7.8 6.8l6.5 3.9l4.5 4.6l4 6.1l3.4 10.7l3.6 3l11 2.3l11 -1.2l10.9 -2.6l11 -1.4l11 1.4l6.9 9.3l1 10.7l-0.1 10.7l-0.1 10.8l-0.1 10.7l-0.5 10.7l-0.2 10.7l1.6 10.8l1 10.7l-5.6 10.7l-3.9 3.3l-9.4 7.4l-1.6 1.8l-8.1 9l-2.9 1.5l-10.9 3.3l-11 4.1l-6.2 1.8l-4.8 1.1l-5.1 -1.1l-5.9 -1.9l-11 -2l-10.9 0.4l-11 0.3l-11 -0.6l-11 1.3l-10.9 2.5l-0.1 0l0 0l-10.9 -4.2l-5.8 -6.5l-5.2 -5.1l-7.2 -5.7l-3.8 -3l-8.3 -7.7l-0.7 -10.7l9 -5.7l11 0.3l11 1.1l10.9 -4.5l1.6 -1.9l2.5 -10.8l-0.4 -10.7l0.1 -10.7l0.6 -10.7l-2.6 -10.8l-1.8 -2l-10.9 -7.3l-2.2 -1.4l-5.6 -10.7l0.6 -10.8l-1.5 -10.7l-2.3 -2.5l-11 -6.5l-2.7 -1.7l-5.4 -10.7l8.1 -10.1l0.8 -0.7zM1619.5 433.3l0 0l-11 4.5l-5.3 6.2l1.7 10.8l3.6 3.4l11 3.5l11 -0.5l11 -5.4l1 -1l3.5 -10.8l-4.5 -7.8l-6.1 -2.9l-4.9 -1zM1981.8 358.2l11 0l0 10.7l0 10.8l0 10.7l0 2.7l-3.8 -2.7l-7.2 -7.2l-2.4 -3.5l-1.2 -10.8l1.6 -10.7zM1981.8 550.9l11 -4.3l0 4.7l0 10.7l0 10.8l0 10.7l0 10.7l0 1l-1.4 -1l-9.6 -9.8l-0.7 -0.9l-5.2 -10.7l-5.1 -3.9l-10.9 -3l-11 -1.3l-11 -0.9l-11 -0.5l-11 -0.2l-10.9 0.1l-11 0.2l-11 -0.2l-11 -0.5l-10.9 0.2l-11 2.3l-11 3.8l-9.2 3.9l-1.8 0.9l-11 8.8l-0.5 1l-3.1 10.7l-1.2 10.7l-0.2 10.8l0.2 10.7l-4.1 0l-0.4 -10.7l-0.1 -10.8l1 -10.7l2.3 -10.7l6 -10.7l0.1 -0.1l11 -6.4l11 -4.2l0.1 -0.1l10.9 -4.9l11 -3.1l10.9 -0.3l11 0.8l11 0l11 -0.2l10.9 0l11 0l11 -0.3l11 -0.2l11 0.2l10.9 -0.3l9.7 -2.4zM1373.5 594.2l4.5 8.2l0.8 2.5l10.2 10.6l0.3 0.2l10.6 9.6l0.7 1.1l-0.7 0l-10.9 0l-11 0l-11 0l0 -10.7l0 -10.8l0 -10.7l0 -3.1z"/>
<path fill="#63ff94" stroke="#63ff94" stroke-width="0.6" d="M1389 358.2l10.9 0l11 0l11 0l11 0l11 0l10.9 0l11 0l0.2 0l10.6 10.7l0.2 0.1l0.2 -0.1l10.8 -4.3l4.3 -6.4l6.6 0l11 0l11 0l11 0l1.3 0l-1.3 1.6l-10.2 9.1l-0.8 0.7l-8.1 10.1l5.4 10.7l2.7 1.7l11 6.5l2.3 2.5l1.5 10.7l-0.6 10.8l5.6 10.7l2.2 1.4l10.9 7.3l1.8 2l2.6 10.8l-0.6 10.7l-0.1 10.7l0.4 10.7l-2.5 10.8l-1.6 1.9l-10.9 4.5l-11 -1.1l-11 -0.3l-9 5.7l0.7 10.7l8.3 7.7l3.8 3l7.2 5.7l5.2 5.1l5.8 6.5l10.9 4.2l0 0l0.1 0l10.9 -2.5l11 -1.3l11 0.6l11 -0.3l10.9 -0.4l11 2l5.9 1.9l5.1 1.1l4.8 -1.1l6.2 -1.8l11 -4.1l10.9 -3.3l2.9 -1.5l8.1 -9l1.6 -1.8l9.4 -7.4l3.9 -3.3l5.6 -10.7l-1 -10.7l-1.6 -10.8l0.2 -10.7l0.5 -10.7l0.1 -10.7l0.1 -10.8l0.1 -10.7l-1 -10.7l-6.9 -9.3l-11 -1.4l-11 1.4l-10.9 2.6l-11 1.2l-11 -2.3l-3.6 -3l-3.4 -10.7l-4 -6.1l-4.5 -4.6l-6.5 -3.9l-7.8 -6.8l-3.1 -1.9l-11 -4l-11 -1.9l-8 -3l-3 -2.3l-4.8 -8.4l4.8 0l11 0l1.5 0l9.5 4.5l11 3l8.7 3.2l2.2 1l11 2.4l11 -2l6.1 -1.4l4.9 -0.9l11 -0.1l3.6 1l7.3 3.4l4.6 7.4l4.9 10.7l1.5 1.3l11 1.4l9.4 -2.7l1.6 -0.5l2.6 0.5l8.3 2.1l7.1 8.6l1.3 10.7l-3.5 10.8l-1.6 10.7l0.6 10.7l0.5 10.8l-0.1 10.7l-0.5 10.7l-0.2 10.7l1.5 10.8l1 10.7l-4.9 10.7l-1.2 1.3l-8.2 9.4l-2.7 3.1l-8.2 7.7l-2.8 4.5l-5.5 6.2l-5.5 2.1l-11 0.6l-10.9 2.2l-11 5.4l-0.9 0.4l-10.1 4.7l-7.7 6.1l-3.3 9.5l-0.4 1.2l-6.1 10.7l-4.5 4.5l-7.3 6.2l-3.6 3.1l-8 7.7l-3 4.5l-4.2 6.2l-6.8 0l-11 0l-8.4 0l0.4 -10.7l0.8 -10.8l0.6 -10.7l-0.4 -10.7l-4 -9.7l-0.9 -1l-10 -5.2l-6.9 -5.6l-4.1 -4.5l-4 -6.2l-7 -7.8l-3.4 -2.9l-7.6 -5.2l-6.5 -5.6l-4.5 -5.2l-4.4 -5.5l-6.4 -10.7l-0.1 -0.2l-11 -4.7l-11 1.2l-11 -0.4l-6.8 -6.6l-4.1 -8.3l-1.4 -2.5l-9.6 -6.9l-11 0.1l-11 0.5l-11 -2.7l-10.9 1.3l-7.1 7.7l-3.9 5.7l-4.7 5.1l-6.3 4.6l0 -4.6l0 -10.8l0 -6.3l3.8 -4.4l7.2 -5.6l6.8 -5.1l4.2 -3.5l8.3 -7.2l0.3 -10.8l-8.6 -8.9l-2 -1.8l-9 -8.7l-2.1 -2l-0.4 -10.8l2.5 -8.6l0.6 -2.1l0.4 -10.7l-0.8 -10.7l-0.2 -10.8l0.3 -10.7zM1423.9 422.6l1.7 10.7l7.3 4.7l11 5.3l0.7 0.7l8 10.8l2.2 2.5l11 5.7l11 1.3l11 -0.4l10.9 -2.5l8.7 -6.6l1.5 -10.8l-9.2 -10.7l-1 -0.6l-10.9 -9.2l-1.8 -0.9l-9.2 -6.4l-11 -1.1l-11 -0.7l-10.9 -2.2l-11 0.9zM1959.9 366.8l1.3 -8.6l9.6 0l9 0l-1.6 10.7l1.2 10.8l2.4 3.5l7.2 7.2l3.8 2.7l0 8l0 10.7l0 2.3l-2.9 -2.3l-8.1 -6.1l-3.6 -4.6l-7.4 -8l-2.4 -2.7l-7.6 -10.7l-0.9 -7.9l-0.5 -2.9zM1992.8 525.9l0 3.9l0 10.8l0 6l-11 4.3l-1.3 0.4l-9.7 2.4l-10.9 0.3l-11 -0.2l-11 0.2l-11 0.3l-11 0l-10.9 0l-11 0.2l-11 0l-11 -0.8l-10.9 0.3l-11 3.1l-10.9 4.9l-0.1 0.1l-11 4.2l-11 6.4l-0.1 0.1l-6 10.7l-2.3 10.7l-1 10.7l0.1 10.8l0.4 10.7l-2 0l-2.3 0l-0.4 -10.7l-0.1 -10.8l0.7 -10.7l1.4 -10.7l0.7 -3.6l2.2 -7.1l8.7 -9.4l2.9 -1.4l8.1 -4.3l11 -4.6l4 -1.8l7 -4l11 -4.8l10.9 -0.4l11 1.2l11 0l11 -0.3l10.9 0.1l11 -0.1l11 -0.5l11 0.1l11 0.9l10.9 -0.8l5.1 -2.1l5.9 -4.5l7.4 -6.3zM1378 570.3l11 -0.5l6.4 3l4.5 8.7l0.6 2l10.4 9.9l11 -2.4l11 -0.3l3.8 3.5l7.2 8.4l2.1 2.3l8.8 8l11 1.1l11 -0.3l6 2l5 4.8l2.2 5.9l-2.2 0l-11 0l-11 0l-11 0l-10.9 0l-11 0l-11 0l-11 0l-10.3 0l-0.7 -1.1l-10.6 -9.6l-0.3 -0.2l-10.2 -10.6l-0.8 -2.5l-4.5 -8.2l-6.5 -3.1l0 -7.6l0 -10.7l0 -0.2z"/>
<path fill="#97ff60" stroke="#97ff60" stroke-width="0.6" d="M1586.6 358.2l11 0l10.9 0l11 0l11 0l11 0l11 0l10.9 0l11 0l11 0l5.2 0l5.3 10.7l0.5 0.3l10.9 3.5l7.9 7l3.1 3l5.2 7.7l5.8 7.8l2.9 2.9l8.1 8.3l6.6 2.4l4.4 2.2l7.5 8.6l1.9 10.7l-0.1 10.7l-1.1 10.8l-1.1 10.7l-0.9 10.7l-0.1 10.7l1.7 10.8l1 10.7l-5.6 10.7l-3.2 3l-11 3.2l-11 -1.3l-11 4.5l-1.2 1.3l-7.4 10.8l-2.4 3.1l-6 7.6l-4.9 3.3l-9.9 7.4l-1.1 0.4l-11 1.4l-11 -0.2l-10.9 2.5l-11 5l-2.9 1.7l-8.1 8.2l-1.5 2.5l-1.8 10.7l-2 10.7l-5.7 5.9l-11 4.8l0 0.1l-9.9 10.7l-1 0l-11 0l-4.2 0l4.2 -6.2l3 -4.5l8 -7.7l3.6 -3.1l7.3 -6.2l4.5 -4.5l6.1 -10.7l0.4 -1.2l3.3 -9.5l7.7 -6.1l10.1 -4.7l0.9 -0.4l11 -5.4l10.9 -2.2l11 -0.6l5.5 -2.1l5.5 -6.2l2.8 -4.5l8.2 -7.7l2.7 -3.1l8.2 -9.4l1.2 -1.3l4.9 -10.7l-1 -10.7l-1.5 -10.8l0.2 -10.7l0.5 -10.7l0.1 -10.7l-0.5 -10.8l-0.6 -10.7l1.6 -10.7l3.5 -10.8l-1.3 -10.7l-7.1 -8.6l-8.3 -2.1l-2.6 -0.5l-1.6 0.5l-9.4 2.7l-11 -1.4l-1.5 -1.3l-4.9 -10.7l-4.6 -7.4l-7.3 -3.4l-3.6 -1l-11 0.1l-4.9 0.9l-6.1 1.4l-11 2l-11 -2.4l-2.2 -1l-8.7 -3.2l-11 -3l-9.5 -4.5zM1828.1 358.2l11 0l11 0l11 0l10.9 0l11 0l11 0l11 0l10.9 0l11 0l11 0l11 0l11 0l1.3 0l-1.3 8.6l-0.5 2.1l0.5 2.9l0.9 7.9l7.6 10.7l2.4 2.7l7.4 8l3.6 4.6l8.1 6.1l2.9 2.3l0 8.5l0 10.7l0 1.8l-1.8 -1.8l-9.2 -6.5l-5.2 -4.2l-5.8 -6.5l-4 -4.3l-6.9 -10.7l0 0l-11 -8.6l-11 -2l-11 1.9l-11 1.8l-10.9 0.4l-11 -0.6l-11 0.1l-11 2.3l-10.9 -0.4l-6.9 -5.6l-4.1 -6l-3.3 -4.7l-7.7 -7.4l-6.1 -3.4l-4.9 -4.8l-3.2 -5.9zM1432.9 413.1l11 -0.9l10.9 2.2l11 0.7l11 1.1l9.2 6.4l1.8 0.9l10.9 9.2l1 0.6l9.2 10.7l-1.5 10.8l-8.7 6.6l-10.9 2.5l-11 0.4l-11 -1.3l-11 -5.7l-2.2 -2.5l-8 -10.8l-0.7 -0.7l-11 -5.3l-7.3 -4.7l-1.7 -10.7zM1467.8 433.3l-2 1.6l-2.8 9.1l2.8 3.6l11 7l11 -3l4.6 -7.6l-4.6 -5.3l-7.6 -5.4l-3.4 -1.8zM1389 479.2l10.9 -1.3l11 2.7l11 -0.5l11 -0.1l9.6 6.9l1.4 2.5l4.1 8.3l6.8 6.6l11 0.4l11 -1.2l11 4.7l0.1 0.2l6.4 10.7l4.4 5.5l4.5 5.2l6.5 5.6l7.6 5.2l3.4 2.9l7 7.8l4 6.2l4.1 4.5l6.9 5.6l10 5.2l0.9 1l4 9.7l0.4 10.7l-0.6 10.7l-0.8 10.8l-0.4 10.7l-2.6 0l-10.9 0l-11 0l-11 0l-11 0l-11 0l-8.7 0l-2.2 -5.9l-5 -4.8l-6 -2l-11 0.3l-11 -1.1l-8.8 -8l-2.1 -2.3l-7.2 -8.4l-3.8 -3.5l-11 0.3l-11 2.4l-10.4 -9.9l-0.6 -2l-4.5 -8.7l-6.4 -3l-11 0.5l-11 2.3l0 -10.6l0 -10.7l0 -10.7l0 -10.8l0 -10.7l0 -10.7l0 -6.1l6.3 -4.6l4.7 -5.1l3.9 -5.7zM1403.5 529.8l-2.3 10.8l9.7 8.1l3.4 2.6l7.6 8.2l2.1 2.5l8.9 9.3l2.4 1.5l8.6 5.9l3.1 4.8l7.8 10.3l1.4 0.4l9.6 2.2l7.5 -2.2l3.5 -1.2l11 -0.4l10.9 0.3l11 -7l1.6 -2.4l2.9 -10.7l-1.3 -10.8l-3.2 -4.6l-3.6 -6.1l-7.4 -7l-3.5 -3.7l-7.4 -7.1l-5.8 -3.7l-5.2 -4.4l-11 -2.2l-11 1.3l-10.9 1.8l-11 0l-11 -1.9l-11 0.4zM1992.8 504.7l0 3.7l0 10.7l0 6.8l-3.6 3.9l-7.4 6.3l-5.9 4.5l-5.1 2.1l-10.9 0.8l-11 -0.9l-11 -0.1l-11 0.5l-11 0.1l-10.9 -0.1l-11 0.3l-11 0l-11 -1.2l-10.9 0.4l-11 4.8l-7 4l-4 1.8l-11 4.6l-8.1 4.3l-2.9 1.4l-8.7 9.4l-2.2 7.1l-0.7 3.6l-1.4 10.7l-0.7 10.7l0.1 10.8l0.4 10.7l-4.3 0l-0.3 -10.7l-0.1 -10.8l0.6 -10.7l0.7 -10.7l-0.3 -10.7l0.3 -10.8l5.7 -6.6l6.4 -4.1l4.5 -3.4l11 -3l11 -3.1l2.1 -1.2l8.9 -4.6l11 -5.2l10.9 -0.5l11 1.3l11 0.3l11 -0.2l10.9 -0.1l11 0.1l11 0l11 0.1l11 0l7.1 -2l3.8 -2.3l6 -8.4l5 -6.7l5.3 -4z"/>
<path fill="#caff2c" stroke="#caff2c" stroke-width="0.6" d="M1696.4 358.2l10.9 0l11 0l11 0l5.4 0l-2.6 10.7l0.3 10.8l7.3 10.7l0.6 0.5l11 1.7l2.7 -2.2l5.2 -10.7l0.9 -10.8l-0.4 -10.7l2.5 0l11 0l11 0l11 0l11 0l10.9 0l7.8 0l3.2 5.9l4.9 4.8l6.1 3.4l7.7 7.4l3.3 4.7l4.1 6l6.9 5.6l10.9 0.4l11 -2.3l11 -0.1l11 0.6l10.9 -0.4l11 -1.8l11 -1.9l11 2l11 8.6l0 0l6.9 10.7l4 4.3l5.8 6.5l5.2 4.2l9.2 6.5l1.8 1.8l0 8.9l0 10.8l0 10.7l0 10.7l0 10.7l0 10.8l0 7l-5.7 3.7l-5.3 4l-5 6.7l-6 8.4l-3.8 2.3l-7.1 2l-11 0l-11 -0.1l-11 0l-11 -0.1l-10.9 0.1l-11 0.2l-11 -0.3l-11 -1.3l-10.9 0.5l-11 5.2l-8.9 4.6l-2.1 1.2l-11 3.1l-11 3l-4.5 3.4l-6.4 4.1l-5.7 6.6l-0.3 10.8l0.3 10.7l-0.7 10.7l-0.6 10.7l0.1 10.8l0.3 10.7l-4.3 0l-0.1 -3.8l-0.5 -6.9l0 -10.8l0.5 -3.7l0.3 -7l-0.1 -10.7l-0.2 -1.2l-4.1 -9.5l-6.8 -10.8l3.4 -10.7l7.5 -6.3l4.6 -4.4l3.8 -10.8l-8.4 -5.1l-11 -1.7l-11 0.5l-9.1 6.3l-1.9 2.9l-3.7 7.9l1.5 10.7l-7.3 10.7l-1.4 0.5l-11 1.8l-11 -0.2l-11 -0.5l-11 0.8l-10.9 3.4l-11 2.2l-11 1.1l-9.7 1.7l-1.3 0.3l-10.9 4.7l-10.4 5.7l-0.6 1.5l-1.8 9.2l1.5 10.7l0.3 2.6l0.5 8.2l0.2 10.7l-0.7 0l-11 0l-11 0l-11 0l-9.9 0l9.9 -10.7l0 -0.1l11 -4.8l5.7 -5.9l2 -10.7l1.8 -10.7l1.5 -2.5l8.1 -8.2l2.9 -1.7l11 -5l10.9 -2.5l11 0.2l11 -1.4l1.1 -0.4l9.9 -7.4l4.9 -3.3l6 -7.6l2.4 -3.1l7.4 -10.8l1.2 -1.3l11 -4.5l11 1.3l11 -3.2l3.2 -3l5.6 -10.7l-1 -10.7l-1.7 -10.8l0.1 -10.7l0.9 -10.7l1.1 -10.7l1.1 -10.8l0.1 -10.7l-1.9 -10.7l-7.5 -8.6l-4.4 -2.2l-6.6 -2.4l-8.1 -8.3l-2.9 -2.9l-5.8 -7.8l-5.2 -7.7l-3.1 -3l-7.9 -7l-10.9 -3.5l-0.5 -0.3l-5.3 -10.7zM1827.9 390.4l-10.8 3.1l-10.9 -0.5l-11 -1.8l-11 5.7l-3.1 4.2l-1.4 10.7l0.8 10.8l-1.5 10.7l-1.1 10.7l4.1 10.8l2.2 1.9l11 2.8l8.7 6l1.6 10.7l-0.2 10.7l-0.1 10.8l0.4 10.7l0.3 10.7l0.3 0.8l10.9 8.1l4.4 1.8l6.6 2.1l11 -0.6l2.8 -1.5l8.2 -4.4l11 -5.6l10.9 -0.5l11 1.4l11 0.4l11 -0.3l10.9 -0.2l11 0.3l11 0.4l11 -0.5l5.2 -1.7l5.8 -3.3l6.3 -7.4l4.6 -6l4.4 -4.7l6.6 -9.1l1.4 -1.7l2.8 -10.7l1 -10.7l0.3 -10.7l-4 -10.8l-1.5 -1.4l-8.2 -9.3l-2.8 -2.4l-10.9 -7.1l-4.2 -1.2l-6.8 -4.6l-11 -1.2l-11 -0.7l-9.9 -4.3l-1.1 -0.3l-10.9 -2.8l-11 -0.7l-11 0.5l-11 0.7l-10.9 -0.8l-11 -4.1l-4.8 -3.2l-6.2 -7.2l-10.7 -3.5l-0.3 -0.1zM1476.8 431.5l3.4 1.8l7.6 5.4l4.6 5.3l-4.6 7.6l-11 3l-11 -7l-2.8 -3.6l2.8 -9.1l2 -1.6zM1410.9 524.8l11 -0.4l11 1.9l11 0l10.9 -1.8l11 -1.3l11 2.2l5.2 4.4l5.8 3.7l7.4 7.1l3.5 3.7l7.4 7l3.6 6.1l3.2 4.6l1.3 10.8l-2.9 10.7l-1.6 2.4l-11 7l-10.9 -0.3l-11 0.4l-3.5 1.2l-7.5 2.2l-9.6 -2.2l-1.4 -0.4l-7.8 -10.3l-3.1 -4.8l-8.6 -5.9l-2.4 -1.5l-8.9 -9.3l-2.1 -2.5l-7.6 -8.2l-3.4 -2.6l-9.7 -8.1l2.3 -10.8zM1468.5 551.3l-1.5 10.7l9.2 10.8l0.6 0.2l11 0.1l0.7 -0.3l4.8 -10.8l-5 -10.7l-0.5 -0.5l-11 -5.2z"/>
<path fill="#feed00" stroke="#feed00" stroke-width="0.6" d="M1740.3 358.2l11 0l8.4 0l0.4 10.7l-0.9 10.8l-5.2 10.7l-2.7 2.2l-11 -1.7l-0.6 -0.5l-7.3 -10.7l-0.3 -10.8l2.6 -10.7zM1828.1 390.3l0.3 0.1l10.7 3.5l6.2 7.2l4.8 3.2l11 4.1l10.9 0.8l11 -0.7l11 -0.5l11 0.7l10.9 2.8l1.1 0.3l9.9 4.3l11 0.7l11 1.2l6.8 4.6l4.2 1.2l10.9 7.1l2.8 2.4l8.2 9.3l1.5 1.4l4 10.8l-0.3 10.7l-1 10.7l-2.8 10.7l-1.4 1.7l-6.6 9.1l-4.4 4.7l-4.6 6l-6.3 7.4l-5.8 3.3l-5.2 1.7l-11 0.5l-11 -0.4l-11 -0.3l-10.9 0.2l-11 0.3l-11 -0.4l-11 -1.4l-10.9 0.5l-11 5.6l-8.2 4.4l-2.8 1.5l-11 0.6l-6.6 -2.1l-4.4 -1.8l-10.9 -8.1l-0.3 -0.8l-0.3 -10.7l-0.4 -10.7l0.1 -10.8l0.2 -10.7l-1.6 -10.7l-8.7 -6l-11 -2.8l-2.2 -1.9l-4.1 -10.8l1.1 -10.7l1.5 -10.7l-0.8 -10.8l1.4 -10.7l3.1 -4.2l11 -5.7l11 1.8l10.9 0.5l10.8 -3.1zM1807.6 411.8l-1.4 0.6l-4.8 10.2l3.7 10.7l1.1 0.8l10.9 5.1l5.8 4.8l2.9 10.8l-1.6 10.7l-0.8 10.7l0.6 10.7l-2 10.8l-1.7 10.7l5.9 10.7l1.9 1.1l11 0.7l3.1 -1.8l7.9 -6.6l7.1 -4.1l3.9 -2.9l10.9 -0.2l11 1.8l11 -0.7l11 -1.8l10.9 -0.7l11 1.4l11 2.3l11 -2.6l7.2 -7.3l3.8 -3.7l5.9 -7.1l5 -5.7l2.7 -5l3 -10.7l0.4 -10.7l-4 -10.8l-2.1 -2.2l-9.8 -8.5l-1.1 -0.8l-11 -4l-11 0.5l-11 1.6l-11 -4.1l-5.9 -3.9l-5 -2.7l-11 -1.2l-11 0.9l-11 0.2l-10.9 -0.8l-11 -1.5l-11 -3.5l-6.2 -2.2l-4.8 -1.4l-11 0zM1773.2 523.5l11 -0.5l11 1.7l8.4 5.1l-3.8 10.8l-4.6 4.4l-7.5 6.3l-3.4 10.7l6.8 10.8l4.1 9.5l0.2 1.2l0.1 10.7l-0.3 7l-0.5 3.7l0 10.8l0.5 6.9l0.1 3.8l-0.1 0l-11 0l-11 0l-8.5 0l-2.5 -6.5l-0.7 -4.2l-0.6 -10.8l1.3 -2.9l11 -7.5l11 4.1l1.2 -4.4l0.4 -10.7l-1.6 -3.2l-8.6 -7.5l-2.4 -2.1l-11 -1.8l-10.9 1.2l-11 0.4l-11 0.1l-11 1.4l-2.6 0.8l-8.4 2.6l-10.9 2.1l-11 0.3l-11 1.5l-9.6 4.2l-1.4 1.2l-9.1 9.5l-1.8 6l-1 4.7l0.1 10.8l0.5 10.7l-9.9 0l-0.2 -10.7l-0.5 -8.2l-0.3 -2.6l-1.5 -10.7l1.8 -9.2l0.6 -1.5l10.4 -5.7l10.9 -4.7l1.3 -0.3l9.7 -1.7l11 -1.1l11 -2.2l10.9 -3.4l11 -0.8l11 0.5l11 0.2l11 -1.8l1.4 -0.5l7.3 -10.7l-1.5 -10.7l3.7 -7.9l1.9 -2.9zM1476.8 545.6l11 5.2l0.5 0.5l5 10.7l-4.8 10.8l-0.7 0.3l-11 -0.1l-0.6 -0.2l-9.2 -10.8l1.5 -10.7z"/>
<path fill="#ffb200" stroke="#ffb200" stroke-width="0.6" d="M1817.1 410.4l11 0l4.8 1.4l6.2 2.2l11 3.5l11 1.5l10.9 0.8l11 -0.2l11 -0.9l11 1.2l5 2.7l5.9 3.9l11 4.1l11 -1.6l11 -0.5l11 4l1.1 0.8l9.8 8.5l2.1 2.2l4 10.8l-0.4 10.7l-3 10.7l-2.7 5l-5 5.7l-5.9 7.1l-3.8 3.7l-7.2 7.3l-11 2.6l-11 -2.3l-11 -1.4l-10.9 0.7l-11 1.8l-11 0.7l-11 -1.8l-10.9 0.2l-3.9 2.9l-7.1 4.1l-7.9 6.6l-3.1 1.8l-11 -0.7l-1.9 -1.1l-5.9 -10.7l1.7 -10.7l2 -10.8l-0.6 -10.7l0.8 -10.7l1.6 -10.7l-2.9 -10.8l-5.8 -4.8l-10.9 -5.1l-1.1 -0.8l-3.7 -10.7l4.8 -10.2l1.4 -0.6zM1875.8 433.3l-3.8 3.9l-2.6 6.8l2.6 5.1l3.2 5.7l7.8 6l5.5 4.7l5.5 8.1l2.3 2.6l8.7 6l10.9 0.2l11 -1.2l11 -0.5l11 -2.1l4 -2.4l7 -2.9l5.8 -7.8l2.4 -10.7l-4.2 -10.8l-4 -3.6l-11 -4.6l-11 1.2l-11 4l-11 0.7l-10.9 -7.1l-2.4 -1.3l-8.6 -2.4l-11 0.7zM1718.3 572l11 -1.4l11 -0.1l11 -0.4l10.9 -1.2l11 1.8l2.4 2.1l8.6 7.5l1.6 3.2l-0.4 10.7l-1.2 4.4l-11 -4.1l-11 7.5l-1.3 2.9l0.6 10.8l0.7 4.2l2.5 6.5l-2.5 0l-5.3 0l-2.8 -10.7l-2.3 -10.8l3.2 -10.7l3.4 -10.7l-7.1 -4.2l-11 -1.9l-11 0.2l-11 2.7l-7.9 3.2l-3.1 1.5l-10.9 2.1l-11 0.3l-11 4.8l-2.3 2l-5.3 10.7l-1.5 10.8l0.9 10.7l-2.8 0l-10.9 0l-0.4 0l-0.5 -10.7l-0.1 -10.8l1 -4.7l1.8 -6l9.1 -9.5l1.4 -1.2l9.6 -4.2l11 -1.5l11 -0.3l10.9 -2.1l8.4 -2.6z"/>
<path fill="#ff7700" stroke="#ff7700" stroke-width="0.6" d="M1883 431.6l11 -0.7l8.6 2.4l2.4 1.3l10.9 7.1l11 -0.7l11 -4l11 -1.2l11 4.6l4 3.6l4.2 10.8l-2.4 10.7l-5.8 7.8l-7 2.9l-4 2.4l-11 2.1l-11 0.5l-11 1.2l-10.9 -0.2l-8.7 -6l-2.3 -2.6l-5.5 -8.1l-5.5 -4.7l-7.8 -6l-3.2 -5.7l-2.6 -5.1l2.6 -6.8l3.8 -3.9zM1941.1 444l-3.2 2l-6.8 8.8l6.8 6.9l11 1.4l9.2 -8.3l-6.4 -10.8l-2.8 -1.3zM1718.3 580.3l11 -2.7l11 -0.2l11 1.9l7.1 4.2l-3.4 10.7l-3.2 10.7l2.3 10.8l2.8 10.7l-5.6 0l-1.1 0l-4.7 -10.7l-5.1 -10.8l0.6 -10.7l-0.7 -2.2l-11 -4l-11 4l-7.3 2.2l-3.7 1.2l-10.9 4l-6.4 5.5l-0.4 10.8l2.5 10.7l-6.7 0l-11 0l-8.2 0l-0.9 -10.7l1.5 -10.8l5.3 -10.7l2.3 -2l11 -4.8l11 -0.3l10.9 -2.1l3.1 -1.5z"/>
<path fill="#ff3b00" stroke="#ff3b00" stroke-width="0.6" d="M1948.9 442.7l2.8 1.3l6.4 10.8l-9.2 8.3l-11 -1.4l-6.8 -6.9l6.8 -8.8l3.2 -2zM1718.3 592l11 -4l11 4l0.7 2.2l-0.6 10.7l5.1 10.8l4.7 10.7l-8.5 0l-1.4 -2.8l-11 -7.7l-2.5 -0.2l-8.5 -1l-2 1l-4.5 10.7l-4.5 0l-10.9 0l-4.3 0l-2.5 -10.7l0.4 -10.8l6.4 -5.5l10.9 -4l3.7 -1.2z"/>
<path fill="#e80000" stroke="#e80000" stroke-width="0.6" d="M1718.3 614.7l8.5 1l2.5 0.2l11 7.7l1.4 2.8l-1.4 0l-11 0l-11 0l-6.5 0l4.5 -10.7z"/>
<path fill="none" stroke="#000" stroke-width="1.05" stroke-linejoin="round" d="M1362.5 392.2L1367 395.3L1375.9 402L1388.5 408.3L1398.3 405.6L1411.7 401.1L1420.6 400.7L1429.6 402L1437.6 405.1L1447.5 401.1L1456.4 396.6L1465.3 394L1471.6 391.3L1480.5 390.4L1489.5 389.5L1499.3 391.3L1505.6 400.2L1510 408.3L1519.9 408.3L1532.4 406.5L1538.6 413.6L1543.1 425.2L1541.3 435.1L1536.9 444L1539.5 453L1545.4 464.6L1553 474.4L1561 484.3L1565.5 494.1L1569.9 504.8L1574.4 517.3L1578 529.8L1578.9 538.8L1578 548.6L1572.6 561.1L1568.2 571L1565.5 584.4L1562.8 595.1L1563.7 606.7L1565.5 615.7L1569 622.8L1572.6 630.9M1914.1 353.7L1910.6 358.2L1907 371.6L1895.4 385L1883.7 402.9L1872.1 410.1L1861.4 422.6L1854.2 427.9L1845.3 436.9L1838.1 444L1828.3 462.8L1818.5 469.9L1811.3 483.4L1806.8 489.6L1804.2 501.2L1807.7 508.4L1807.7 519.1L1811.3 532.5L1817.6 540.6L1818.5 550.4L1818.5 559.3L1819.4 572.8L1816.7 583.5L1809.5 593.3L1796.1 602.3L1787.2 606.7L1778.2 615.7L1771.1 623.7L1767.5 630.9M1897.1 554.9L1902.5 566.5L1906.1 583.5L1903.4 590.6L1900.7 597.8L1898 606.7L1894.5 617.5L1890.9 630.9L1852.4 630.9L1852.4 617.5L1849.8 608.5L1852.4 599.6L1854.2 593.3L1861.4 590.6L1870.3 588L1878.4 581.7L1884.6 574.5L1889.1 567.4L1894.5 558.5L1897.1 554.9M1740.7 450.3L1747 445.8L1755.9 444.9L1761.3 449.4L1760.4 456.5L1757.7 465.5L1751.4 469.9L1742.5 469.9L1738.9 461L1740.7 454.8L1740.7 450.3M1716.6 477.1L1719.2 477.1L1721 487.8L1723.7 500.3L1730 510.2L1735.3 521.8L1733.5 525.4L1729.1 521.8L1725.5 511.1L1720.1 502.1L1717.4 490.5L1716.6 477.1M1761.3 532.5L1763.9 533.4L1766.6 545.9L1769.3 554.9L1772 566.5L1771.1 575.4L1768.4 575.4L1764.8 566.5L1762.1 554.9L1760.4 543.3L1761.3 532.5M1729.1 436.9L1737.1 427.9L1734.4 427L1727.3 435.1L1729.1 436.9M1777.3 406.5L1780.9 418.1L1783.6 425.2L1780 420.8L1776.5 411.8L1777.3 406.5M1715.7 462.8L1718.3 462.8L1718.3 470.8L1715.7 469.1L1715.7 462.8M1454.6 390.4L1458.2 383.2L1456.4 376.1L1451 370.7L1445.7 373.4L1452.8 379.7L1454.6 390.4M1711.2 524.5L1716.6 523.6L1717.4 531.6L1713 530.7L1711.2 524.5M1696 607.6L1706.7 601.4L1715.7 596L1712.1 598.7L1702.2 604.9L1696 607.6"/><path fill="none" stroke="#000" stroke-width="0.8" stroke-linejoin="round" d="M1389.3 408.3L1388.5 398.4L1381.3 390.4L1380.4 379.7L1383.1 371.6L1385.8 353.7M1380.4 379.7L1371.5 371.6L1364.3 371.6L1358.1 369.8M1428.7 402L1431.4 385L1434 374.3L1432.3 362.7L1431.4 353.7M1467.1 393.1L1461.8 385.9L1460.9 373.4L1459.1 353.7M1470.7 392.2L1470.7 367.1L1468.9 353.7M1480.5 390.4L1480.5 367.1L1488.6 353.7M1533.3 406.5L1542.2 389.5L1554.7 388.6L1563.7 376.1L1572.6 362.7L1577.1 353.7M1544 427.9L1557.4 427L1575.3 427.9L1586 428.8L1599.4 432.4L1601.2 427L1604.8 416.3L1622.7 416.3M1557.4 427L1557.4 438.7L1541.3 438.7M1557.4 427L1572.6 435.1L1581.6 435.1L1585.1 461.9L1581.6 469.1L1568.2 469.1L1559.2 478.9L1556.5 482.5M1586 353.7L1586 389.5L1590.5 402.9L1599.4 427.9M1565.5 494.1L1572.6 499.5L1593.2 486L1601.2 467.3L1614.6 452.1L1618.2 443.1L1622.7 416.3L1630.7 402.9L1644.1 409.2L1660.2 405.6L1675.4 402L1688.8 401.1L1701.4 402L1715.7 408.3L1732.6 416.3L1751.4 413.6L1760.4 410.1M1569.9 501.2L1599.4 501.2L1603.9 514.6L1612.8 520L1626.3 519.1L1630.7 510.2L1651.3 512.9L1651.3 532.5L1655.8 545.9L1671 545.9L1682.6 547.7L1693.3 554L1699.6 551.3L1710.3 557.6L1715.7 567.4L1722.8 565.6L1722.8 556.7L1711.2 545.9L1711.2 532.5L1730.9 521.8M1671 545.9L1671 563.8L1653.1 563.8L1653.1 592.4L1664.7 604L1681.7 606.7M1562.8 602.3L1577.1 599.6L1621.8 603.2L1644.1 611.2L1664.7 604M1644.1 611.2L1644.1 644.3M1681.7 606.7L1697.8 607.6L1711.2 595.1L1728.2 587.1L1750.5 596.9L1750.5 613L1747.8 630.9M1681.7 606.7L1688.8 613L1702.2 630.9M1728.2 587.1L1726.4 578.1L1750.5 569.2L1753.2 559.3L1754.1 544.2L1751.4 532.5L1750.5 531.6L1735.3 524.5M1748.7 569.2L1759.5 576.3L1764.8 578.1L1772 591.5L1771.1 600.5L1776.5 590.6L1777.3 579L1772 568.3M1768.4 550.4L1787.2 551.3L1800.6 548.6L1817.6 540.6M1732.6 416.3L1736.2 427.9M1727.3 436L1723.7 443.1L1721 460.1L1715.7 460.1M1721 460.1L1729.1 456.5L1760.4 456.5L1792.5 474.4L1806.8 488.7M1729.1 456.5L1731.8 469.1L1728.2 473.5L1731.8 477.1L1724.6 486L1719.2 487.8M1715.7 469.1L1723.7 472.6L1728.2 473.5M1760.4 456.5L1760.4 445.8L1764.8 438.7L1769.3 429.7L1763.9 410.1L1777.3 406.5L1785.4 408.3L1796.1 415.4L1805.1 416.3L1814 410.1L1831 411.8L1822.9 420.8L1822.9 456.5L1828.3 462.8M1831 411.8L1845.3 407.4L1858.7 402.9L1872.1 389.5L1884.6 376.1L1867.6 372.5L1849.8 367.1L1839 358.2L1836.3 353.7M1777.3 406.5L1766.6 389.5L1751.4 377.9L1753.2 372.5L1761.3 370.7L1761.3 353.7M1595 380.6L1617.3 376.1L1626.3 367.1L1648.6 353.7M1666.5 369.8L1679.9 356.4L1688.8 353.7M1701.4 402L1684.4 385L1666.5 369.8L1657.5 353.7"/>
<path fill="none" stroke="#000" stroke-width="1.7" d="M1367 358.2l13.7 -5.7M1389.3 358.2l13.7 -5.7M1411.7 358.2l13.7 -5.7M1434 358.2l13.7 -5.7M1456.4 358.2l13.7 -5.7M1478.8 358.2l6 -0.8M1501.1 358.2l0.6 0.6M1523.5 358.2l3 3M1545.8 358.2l5.5 5.5M1568.2 358.2l10.5 10.5M1590.5 358.2l15.4 15.4M1612.8 358.2l19.4 19.4M1635.2 358.2l23.3 23.3M1657.5 358.2l16.9 16.9M1679.9 358.2l10.5 10.5M1702.2 358.2l4.6 8.9M1724.6 358.2l0 7.8M1747 358.2l0 7.8M1769.3 358.2l0 7.8M1791.7 358.2l6.8 11.5M1814 358.2l15.4 15.4M1836.3 358.2l15.4 15.4M1858.7 358.2l15.4 15.4M1881 358.2l10.5 10.5M1903.4 358.2l5.5 5.5M1925.8 358.2l3 3M1948.1 358.2l0.6 0.6M1970.4 358.2l0.6 0.6M1992.8 358.2l0.6 0.6M1367 380.6l10 -0.8M1389.3 380.6l11.6 -0.4M1411.7 380.6l13.2 0M1434 380.6l13.2 0M1456.4 380.6l13.2 0M1478.8 380.6l8.1 1.5M1501.1 380.6l3.6 2.1M1523.5 380.6l5.9 4.8M1545.8 380.6l8 8M1568.2 380.6l13.7 13.7M1590.5 380.6l19.4 19.4M1612.8 380.6l22.7 22.7M1635.2 380.6l26.1 26.1M1657.5 380.6l10.1 13.9M1679.9 380.6l-0.7 1.7M1702.2 380.6l-0.5 2.9M1724.6 380.6l0 4.3M1747 380.6l1.1 5.2M1769.3 380.6l2.6 6.2M1791.7 380.6l10.5 13M1814 380.6l19.4 19.4M1836.3 380.6l19.4 19.4M1858.7 380.6l19.4 19.4M1881 380.6l13 10.5M1903.4 380.6l6.2 2.6M1925.8 380.6l3.2 1.3M1948.1 380.6l0.6 0.2M1970.4 380.6l0.6 0.2M1992.8 380.6l0.6 0.2M1367 402.9l7.2 3M1389.3 402.9l10.4 4.3M1411.7 402.9l13.7 5.7M1434 402.9l13.7 5.7M1456.4 402.9l13.7 5.7M1478.8 402.9l10.4 4.3M1501.1 402.9l7.2 3M1523.5 402.9l8.9 6.5M1545.8 402.9l10.5 10.5M1568.2 402.9l16.9 16.9M1590.5 402.9l23.3 23.3M1612.8 402.9l26.1 26.1M1635.2 402.9l28.9 28.9M1657.5 402.9l4 10.8M1679.9 402.9l-14.8 0M1702.2 402.9l-4.6 1.5M1724.6 402.9l0 0.8M1747 402.9l1.8 3.1M1769.3 402.9l5.5 5.5M1791.7 402.9l14.4 14.4M1814 402.9l23.3 23.3M1836.3 402.9l23.3 23.3M1858.7 402.9l23.3 23.3M1881 402.9l15.7 10.4M1903.4 402.9l7.8 0M1925.8 402.9l4.3 0M1948.1 402.9l0.8 0M1970.4 402.9l0.8 0M1992.8 402.9l0.8 0M1367 425.2l8.9 6.5M1389.3 425.2l11.7 8.4M1411.7 425.2l14.5 10.3M1434 425.2l18.2 9.8M1456.4 425.2l22.1 9.1M1478.8 425.2l22.3 9.2M1501.1 425.2l22.5 9.3M1523.5 425.2l23.1 11.3M1545.8 425.2l23.8 13.4M1568.2 425.2l27.1 16.4M1590.5 425.2l30.4 19.5M1612.8 425.2l31.8 20.8M1635.2 425.2l33.2 22.2M1657.5 425.2l4 7.4M1679.9 425.2l-18.3 0M1702.2 425.2l-9.6 1.1M1724.6 425.2l-1.5 0.7M1769.3 425.2l3.1 1.8M1791.7 425.2l11.5 10.2M1814 425.2l19.4 19.4M1836.3 425.2l21.4 21.4M1858.7 425.2l23.3 23.3M1881 425.2l18.7 13M1903.4 425.2l13.9 3.7M1925.8 425.2l12.6 1.8M1948.1 425.2l11.3 0M1970.4 425.2l11.3 0M1992.8 425.2l11.3 0M1367 447.6l10.5 10.5M1389.3 447.6l12.9 12.9M1411.7 447.6l15.4 15.4M1434 447.6l22.7 14.1M1456.4 447.6l30.5 12.6M1478.8 447.6l34.1 14.1M1501.1 447.6l37.7 15.6M1523.5 447.6l37.7 15.6M1545.8 447.6l37.7 15.6M1568.2 447.6l37.7 15.6M1590.5 447.6l37.7 15.6M1612.8 447.6l37.7 15.6M1635.2 447.6l37.7 15.6M1657.5 447.6l3.7 4.3M1679.9 447.6l-21.8 0M1702.2 447.6l-14.8 0M1724.6 447.6l-7.8 0M1769.3 447.6l0.8 0M1791.7 447.6l8.4 6.2M1814 447.6l15.4 15.4M1836.3 447.6l19.4 19.4M1858.7 447.6l23.3 23.3M1881 447.6l21.8 15.6M1903.4 447.6l20.1 8.3M1925.8 447.6l20.9 4.1M1948.1 447.6l21.8 0M1970.4 447.6l21.8 0M1992.8 447.6l21.8 0M1367 469.9l3.9 5.8M1389.3 469.9l5.9 6.9M1411.7 469.9l8 8M1434 469.9l13.2 8M1456.4 469.9l18.8 7.8M1478.8 469.9l26.5 11M1501.1 469.9l34.1 14.1M1523.5 469.9l34.1 14.1M1545.8 469.9l34.1 14.1M1568.2 469.9l34.1 14.1M1590.5 469.9l34.1 14.1M1612.8 469.9l34.1 14.1M1635.2 469.9l34.1 14.1M1657.5 469.9l2.3 3.2M1679.9 469.9l-21.8 0M1702.2 469.9l-16.2 -1.5M1724.6 469.9l-10.7 -2.6M1747 469.9l-2.3 -0.6M1791.7 469.9l3 3M1814 469.9l10.5 10.5M1836.3 469.9l16 13.1M1858.7 469.9l21.8 15.6M1881 469.9l20.9 11.9M1903.4 469.9l20.1 8.3M1925.8 469.9l20.5 6.2M1948.1 469.9l20.9 4.1M1970.4 469.9l20.9 4.1M1992.8 469.9l20.9 4.1M1367 492.3l0 0.8M1389.3 492.3l0.2 0.6M1411.7 492.3l0.6 0.6M1434 492.3l3.6 2.1M1456.4 492.3l7.2 3M1478.8 492.3l18.8 7.8M1501.1 492.3l30.5 12.6M1523.5 492.3l30.5 12.6M1545.8 492.3l30.5 12.6M1568.2 492.3l30.5 12.6M1590.5 492.3l30.5 12.6M1612.8 492.3l30.5 12.6M1635.2 492.3l30.5 12.6M1657.5 492.3l1.1 2.1M1679.9 492.3l-21.8 0M1702.2 492.3l-17.6 -3M1724.6 492.3l-13.7 -5.7M1747 492.3l-7.3 -2.2M1769.3 492.3l-0.8 0M1791.7 492.3l0.1 0.5M1814 492.3l5.5 5.5M1836.3 492.3l12.5 7.2M1858.7 492.3l20.1 8.3M1881 492.3l20.1 8.3M1903.4 492.3l20.1 8.3M1925.8 492.3l20.1 8.3M1948.1 492.3l20.1 8.3M1970.4 492.3l20.1 8.3M1992.8 492.3l20.1 8.3M1367 514.6l1.9 -1M1389.3 514.6l3.1 -1.6M1411.7 514.6l4.4 -2.2M1434 514.6l6.2 -2.5M1456.4 514.6l8 -2.7M1478.8 514.6l8.7 1.5M1501.1 514.6l10.4 6.6M1523.5 514.6l8.7 8.2M1545.8 514.6l7.1 9.9M1568.2 514.6l7.1 9.9M1590.5 514.6l7.1 9.9M1612.8 514.6l6.6 6.8M1635.2 514.6l6 4M1657.5 514.6l-0.5 0.4M1679.9 514.6l-14.8 0M1702.2 514.6l-12.5 -2.2M1724.6 514.6l-10.4 -4.3M1747 514.6l-3.7 -0.6M1791.7 514.6l1.4 1.6M1814 514.6l9.4 5.7M1836.3 514.6l14.7 7.1M1858.7 514.6l20.1 8.3M1881 514.6l20.1 8.3M1903.4 514.6l20.1 8.3M1925.8 514.6l20.1 8.3M1948.1 514.6l20.1 8.3M1970.4 514.6l20.1 8.3M1992.8 514.6l20.1 8.3M1367 537l10.5 -10.5M1389.3 537l10.5 -10.5M1411.7 537l10.5 -10.5M1434 537l10.5 -10.5M1456.4 537l10.5 -10.5M1478.8 537l0.6 -0.6M1501.1 537l-0.6 0.6M1523.5 537l-5.5 5.5M1545.8 537l-10.5 10.5M1568.2 537l-10.5 10.5M1590.5 537l-10.5 10.5M1612.8 537l-8.9 4.6M1635.2 537l-7.8 0M1657.5 537l-7.8 0M1679.9 537l-7.8 0M1702.2 537l-7.4 -1.5M1724.6 537l-7.2 -3M1747 537l-0.6 0.1M1769.3 537l0 0.8M1791.7 537l4.8 3.7M1814 537l13.7 5.7M1836.3 537l16.9 7M1858.7 537l20.1 8.3M1881 537l20.1 8.3M1903.4 537l20.1 8.3M1925.8 537l20.1 8.3M1948.1 537l20.1 8.3M1970.4 537l20.1 8.3M1992.8 537l20.1 8.3M1367 559.3l5.8 -3.9M1389.3 559.3l5.8 -3.9M1411.7 559.3l5.8 -3.9M1434 559.3l5.8 -3.9M1456.4 559.3l5.8 -3.9M1478.8 559.3l0.5 -0.1M1523.5 559.3l-0.2 0.5M1545.8 559.3l-0.6 0.6M1568.2 559.3l-4.3 4.3M1590.5 559.3l-8 8M1612.8 559.3l-7.1 5.1M1635.2 559.3l-6.2 2.6M1657.5 559.3l-10.3 1.6M1679.9 559.3l-14.8 0M1702.2 559.3l-12.8 -4.3M1724.6 559.3l-11.5 -8.8M1747 559.3l-5.1 -9M1769.3 559.3l0 -9.9M1791.7 559.3l8.8 -6.2M1814 559.3l21.7 -2.7M1836.3 559.3l20.7 -1.3M1858.7 559.3l19.7 0M1881 559.3l20.2 2.1M1903.4 559.3l20.9 4.1M1925.8 559.3l20.9 4.1M1948.1 559.3l20.9 4.1M1970.4 559.3l19.1 4.1M1992.8 559.3l17.4 4M1367 581.7l0.8 0M1389.3 581.7l0.8 0M1411.7 581.7l0.8 0M1434 581.7l0.8 0M1456.4 581.7l0.8 0M1478.8 581.7l0.6 0.2M1501.1 581.7l0.6 0.6M1545.8 581.7l0.6 -0.6M1590.5 581.7l-5.5 5.5M1612.8 581.7l-5.5 5.5M1635.2 581.7l-5.5 5.5M1657.5 581.7l-13 3.4M1679.9 581.7l-21.8 0M1702.2 581.7l-18.2 -7.5M1724.6 581.7l-15.4 -15.4M1747 581.7l-7.9 -23.6M1769.3 581.7l0 -33M1791.7 581.7l14.7 -21.9M1814 581.7l30.5 -12.6M1836.3 581.7l25.3 -10.5M1858.7 581.7l20.1 -8.3M1881 581.7l20.9 -4.1M1903.4 581.7l21.8 0M1925.8 581.7l21.8 0M1948.1 581.7l21.8 0M1970.4 581.7l18.3 0M1992.8 581.7l14.8 0M1367 604l3.1 1.8M1389.3 604l3.1 1.8M1411.7 604l3.1 1.8M1434 604l3.1 1.8M1456.4 604l3.1 1.8M1478.8 604l1.7 1.3M1501.1 604l0.6 0.6M1523.5 604l0.5 0.1M1545.8 604l0.6 -0.2M1568.2 604l-0.1 0.6M1590.5 604l-5.7 9.4M1612.8 604l-5.7 9.4M1635.2 604l-5.7 9.4M1657.5 604l-11.1 4.8M1679.9 604l-18.3 0M1702.2 604l-14.5 -8.3M1724.6 604l-11.8 -17.7M1747 604l-6.1 -25M1769.3 604l0 -33M1791.7 604l10.5 -26.6M1814 604l21.2 -21.2M1836.3 604l20.7 -14.6M1858.7 604l20.1 -8.3M1881 604l20.9 -4.1M1903.4 604l21.8 0M1925.8 604l21.8 0M1948.1 604l21.8 0M1970.4 604l18.3 0M1992.8 604l14.8 0M1367 626.4l5.5 5.5M1389.3 626.4l5.5 5.5M1411.7 626.4l5.5 5.5M1434 626.4l5.5 5.5M1456.4 626.4l5.5 5.5M1478.8 626.4l3 3M1501.1 626.4l0.6 0.6M1523.5 626.4l0.6 0.2M1545.8 626.4l0.8 0M1568.2 626.4l-0.2 3.5M1590.5 626.4l-5.7 13.7M1612.8 626.4l-5.7 13.7M1635.2 626.4l-5.7 13.7M1657.5 626.4l-9.4 6.3M1679.9 626.4l-14.8 0M1702.2 626.4l-11.1 -9M1724.6 626.4l-8.3 -20.1M1747 626.4l-4.4 -26.4M1769.3 626.4l0 -33M1791.7 626.4l6.3 -31.6M1814 626.4l12.6 -30.5M1836.3 626.4l16.4 -18.8M1858.7 626.4l20.1 -8.3M1881 626.4l20.9 -4.1M1903.4 626.4l21.8 0M1925.8 626.4l21.8 0M1948.1 626.4l21.8 0M1970.4 626.4l18.3 0M1992.8 626.4l14.8 0"/>
<path fill="#000" d="M1386.4 350.2l-4.9 4.4l-1.7 -4.1zM1408.8 350.2l-4.9 4.4l-1.7 -4.1zM1431.1 350.2l-4.9 4.4l-1.7 -4.1zM1453.5 350.2l-4.9 4.4l-1.7 -4.1zM1475.8 350.2l-4.9 4.4l-1.7 -4.1zM1490.9 356.7l-5.9 3l-0.6 -4.4zM1506 363.1l-5.9 -2.8l3.1 -3.1zM1530.9 365.6l-5.9 -2.8l3.1 -3.1zM1555.7 368.1l-5.9 -2.8l3.1 -3.1zM1583 373l-5.9 -2.8l3.1 -3.1zM1610.3 378l-5.9 -2.8l3.1 -3.1zM1636.6 382l-5.9 -2.8l3.1 -3.1zM1662.9 385.9l-5.9 -2.8l3.1 -3.1zM1678.8 379.5l-5.9 -2.8l3.1 -3.1zM1694.7 373l-5.9 -2.8l3.1 -3.1zM1709.7 372.6l-4.8 -4.5l3.9 -2zM1724.6 372.2l-2.2 -6.2l4.4 -0zM1747 372.2l-2.2 -6.2l4.4 -0zM1769.3 372.2l-2.2 -6.2l4.4 -0zM1801.5 375.1l-5 -4.2l3.8 -2.2zM1833.8 378l-5.9 -2.8l3.1 -3.1zM1856.1 378l-5.9 -2.8l3.1 -3.1zM1878.5 378l-5.9 -2.8l3.1 -3.1zM1895.9 373l-5.9 -2.8l3.1 -3.1zM1913.3 368.1l-5.9 -2.8l3.1 -3.1zM1933.2 365.6l-5.9 -2.8l3.1 -3.1zM1953 363.1l-5.9 -2.8l3.1 -3.1zM1975.4 363.1l-5.9 -2.8l3.1 -3.1zM1997.7 363.1l-5.9 -2.8l3.1 -3.1zM1383.2 379.2l-6 2.7l-0.4 -4.4zM1407.1 379.9l-6.1 2.4l-0.2 -4.4zM1431.1 380.6l-6.2 2.2l-0 -4.4zM1453.5 380.6l-6.2 2.2l-0 -4.4zM1475.8 380.6l-6.2 2.2l-0 -4.4zM1492.9 383.1l-6.5 1.1l0.8 -4.3zM1510 385.7l-6.5 -1.2l2.2 -3.8zM1534.1 389.3l-6.2 -2.2l2.8 -3.4zM1558.2 392.9l-5.9 -2.8l3.1 -3.1zM1586.2 398.6l-5.9 -2.8l3.1 -3.1zM1614.3 404.3l-5.9 -2.8l3.1 -3.1zM1640 407.7l-5.9 -2.8l3.1 -3.1zM1665.7 411l-5.9 -2.8l3.1 -3.1zM1671.3 399.5l-5.4 -3.7l3.6 -2.6zM1676.8 388l0.3 -6.6l4.1 1.7zM1700.7 389.5l-1.1 -6.5l4.3 0.7zM1724.6 391.1l-2.2 -6.2l4.4 -0zM1749.4 391.8l-3.5 -5.6l4.3 -0.9zM1774.2 392.5l-4.4 -4.9l4.1 -1.7zM1806 398.4l-5.6 -3.5l3.4 -2.8zM1837.8 404.3l-5.9 -2.8l3.1 -3.1zM1860.1 404.3l-5.9 -2.8l3.1 -3.1zM1882.5 404.3l-5.9 -2.8l3.1 -3.1zM1898.9 394.9l-6.2 -2.2l2.8 -3.4zM1915.3 385.5l-6.6 -0.3l1.7 -4.1zM1934.7 384.3l-6.6 -0.3l1.7 -4.1zM1954.1 383l-6.2 -0.3l1.6 -3.8zM1976.4 383l-6.2 -0.3l1.6 -3.8zM1998.8 383l-6.2 -0.3l1.6 -3.8zM1379.9 408.3l-6.6 -0.3l1.7 -4.1zM1405.5 409.6l-6.6 -0.3l1.7 -4.1zM1431.1 410.9l-6.6 -0.3l1.7 -4.1zM1453.5 410.9l-6.6 -0.3l1.7 -4.1zM1475.8 410.9l-6.6 -0.3l1.7 -4.1zM1494.9 409.6l-6.6 -0.3l1.7 -4.1zM1514 408.3l-6.6 -0.3l1.7 -4.1zM1537.3 413l-6.3 -1.9l2.6 -3.6zM1560.6 417.7l-5.9 -2.8l3.1 -3.1zM1589.4 424.2l-5.9 -2.8l3.1 -3.1zM1618.2 430.6l-5.9 -2.8l3.1 -3.1zM1643.3 433.4l-5.9 -2.8l3.1 -3.1zM1668.5 436.2l-5.9 -2.8l3.1 -3.1zM1663.7 419.5l-4.2 -5.1l4.1 -1.5zM1658.9 402.9l6.2 -2.2l-0 4.4zM1691.8 406.4l5.2 -4l1.4 4.2zM1724.6 409.9l-2.2 -6.2l4.4 -0zM1751.9 411.3l-5 -4.2l3.8 -2.2zM1779.2 412.8l-5.9 -2.8l3.1 -3.1zM1810.5 421.7l-5.9 -2.8l3.1 -3.1zM1841.7 430.6l-5.9 -2.8l3.1 -3.1zM1864.1 430.6l-5.9 -2.8l3.1 -3.1zM1886.4 430.6l-5.9 -2.8l3.1 -3.1zM1901.9 416.8l-6.4 -1.6l2.4 -3.7zM1917.4 402.9l-6.2 2.2l-0 -4.4zM1936.2 402.9l-6.2 2.2l-0 -4.4zM1955.1 402.9l-6.2 2.2l-0 -4.4zM1977.4 402.9l-6.2 2.2l-0 -4.4zM1999.8 402.9l-6.2 2.2l-0 -4.4zM1380.9 435.4l-6.3 -1.9l2.6 -3.6zM1406.1 437.3l-6.3 -1.8l2.6 -3.6zM1431.3 439.2l-6.3 -1.8l2.5 -3.6zM1457.8 438l-6.5 -1l2.1 -3.9zM1484.2 436.8l-6.6 -0.3l1.7 -4.1zM1506.8 436.8l-6.6 -0.3l1.7 -4.1zM1529.3 436.9l-6.6 -0.3l1.7 -4.1zM1552.1 439.3l-6.5 -0.8l1.9 -4zM1575 441.7l-6.5 -1.1l2.2 -3.8zM1600.5 444.9l-6.4 -1.3l2.3 -3.8zM1626.1 448.1l-6.4 -1.5l2.4 -3.7zM1649.8 449.5l-6.4 -1.6l2.4 -3.7zM1673.6 450.9l-6.4 -1.6l2.4 -3.7zM1664.5 438.1l-4.9 -4.4l3.9 -2.1zM1655.4 425.2l6.2 -2.2l-0 4.4zM1686.5 427l5.9 -2.9l0.5 4.4zM1717.6 428.8l4.6 -4.7l2 3.9zM1747.7 429.5l-2 -3.6l2.7 -0.5zM1777.7 430.2l-6.5 -1.2l2.2 -3.8zM1807.8 439.6l-6.1 -2.5l2.9 -3.3zM1837.8 449l-5.9 -2.8l3.1 -3.1zM1862.1 451l-5.9 -2.8l3.1 -3.1zM1886.4 453l-5.9 -2.8l3.1 -3.1zM1904.9 441.8l-6.3 -1.7l2.5 -3.6zM1923.3 430.6l-6.6 0.5l1.1 -4.2zM1944.5 427.9l-6.4 1.3l0.6 -4.4zM1965.6 425.2l-6.2 2.2l-0 -4.4zM1987.9 425.2l-6.2 2.2l-0 -4.4zM2010.3 425.2l-6.2 2.2l-0 -4.4zM1381.8 462.4l-5.9 -2.8l3.1 -3.1zM1406.7 464.9l-5.9 -2.8l3.1 -3.1zM1431.5 467.4l-5.9 -2.8l3.1 -3.1zM1462.1 465l-6.4 -1.4l2.3 -3.7zM1492.6 462.6l-6.6 -0.3l1.7 -4.1zM1518.6 464.1l-6.6 -0.3l1.7 -4.1zM1544.6 465.6l-6.6 -0.3l1.7 -4.1zM1566.9 465.6l-6.6 -0.3l1.7 -4.1zM1589.3 465.6l-6.6 -0.3l1.7 -4.1zM1611.6 465.6l-6.6 -0.3l1.7 -4.1zM1634 465.6l-6.6 -0.3l1.7 -4.1zM1656.3 465.6l-6.6 -0.3l1.7 -4.1zM1678.7 465.6l-6.6 -0.3l1.7 -4.1zM1665.3 456.6l-5.7 -3.3l3.3 -2.9zM1651.9 447.6l6.2 -2.2l-0 4.4zM1681.2 447.6l6.2 -2.2l-0 4.4zM1710.6 447.6l6.2 -2.2l-0 4.4zM1743.5 447.6l3.2 -1.1l-0 2.2zM1776.3 447.6l-6.2 2.2l-0 -4.4zM1805 457.5l-6.3 -1.9l2.6 -3.5zM1833.8 467.4l-5.9 -2.8l3.1 -3.1zM1860.1 471.4l-5.9 -2.8l3.1 -3.1zM1886.4 475.3l-5.9 -2.8l3.1 -3.1zM1907.8 466.8l-6.3 -1.8l2.6 -3.6zM1929.3 458.3l-6.6 -0.3l1.7 -4.1zM1952.7 453l-6.5 0.9l0.9 -4.3zM1976.1 447.6l-6.2 2.2l-0 -4.4zM1998.4 447.6l-6.2 2.2l-0 -4.4zM2020.8 447.6l-6.2 2.2l-0 -4.4zM1374.4 480.9l-5.3 -3.9l3.6 -2.5zM1399.2 481.6l-5.7 -3.3l3.4 -2.8zM1424.1 482.3l-5.9 -2.8l3.1 -3.1zM1452.5 481.2l-6.4 -1.4l2.3 -3.8zM1481 480.1l-6.6 -0.3l1.7 -4.1zM1511 483.3l-6.6 -0.3l1.7 -4.1zM1540.9 486.5l-6.6 -0.3l1.7 -4.1zM1563.3 486.5l-6.6 -0.3l1.7 -4.1zM1585.6 486.5l-6.6 -0.3l1.7 -4.1zM1608 486.5l-6.6 -0.3l1.7 -4.1zM1630.3 486.5l-6.6 -0.3l1.7 -4.1zM1652.7 486.5l-6.6 -0.3l1.7 -4.1zM1675 486.5l-6.6 -0.3l1.7 -4.1zM1663.5 478.2l-5.4 -3.8l3.6 -2.6zM1651.9 469.9l6.2 -2.2l-0 4.4zM1679.9 467.9l6.4 -1.6l-0.4 4.4zM1707.9 465.9l6.5 -0.7l-1 4.3zM1738.6 467.9l6.5 -0.7l-1 4.3zM1799.1 477.4l-5.9 -2.8l3.1 -3.1zM1828.8 484.8l-5.9 -2.8l3.1 -3.1zM1857.2 487l-6.2 -2.2l2.8 -3.4zM1885.5 489.2l-6.3 -1.8l2.6 -3.6zM1907.4 484.9l-6.5 -1.2l2.2 -3.8zM1929.3 480.7l-6.6 -0.3l1.7 -4.1zM1952.2 478l-6.6 0.3l1.3 -4.2zM1975 475.3l-6.5 0.9l0.9 -4.3zM1997.4 475.3l-6.5 0.9l0.9 -4.3zM2019.7 475.3l-6.5 0.9l0.9 -4.3zM1367 499.3l-2.2 -6.2l4.4 -0zM1391.8 498.3l-4.1 -4.6l3.8 -1.6zM1416.6 497.2l-5.9 -2.8l3.1 -3.1zM1443 497.5l-6.5 -1.2l2.2 -3.8zM1469.3 497.7l-6.6 -0.3l1.7 -4.1zM1503.3 502.5l-6.6 -0.3l1.7 -4.1zM1537.3 507.3l-6.6 -0.3l1.7 -4.1zM1559.7 507.3l-6.6 -0.3l1.7 -4.1zM1582 507.3l-6.6 -0.3l1.7 -4.1zM1604.4 507.3l-6.6 -0.3l1.7 -4.1zM1626.7 507.3l-6.6 -0.3l1.7 -4.1zM1649.1 507.3l-6.6 -0.3l1.7 -4.1zM1671.4 507.3l-6.6 -0.3l1.7 -4.1zM1661.7 499.8l-4.9 -4.4l3.9 -2.1zM1651.9 492.3l6.2 -2.2l-0 4.4zM1678.5 488.3l6.5 -1.1l-0.7 4.3zM1705.2 484.3l6.6 0.3l-1.7 4.1zM1733.7 488.3l6.6 -0.3l-1.3 4.2zM1762.3 492.3l6.2 -2.2l-0 4.4zM1793.1 497.2l-2.9 -4l3.2 -0.9zM1823.9 502.2l-5.9 -2.8l3.1 -3.1zM1854.2 502.6l-6.5 -1.2l2.2 -3.8zM1884.6 503l-6.6 -0.3l1.7 -4.1zM1906.9 503l-6.6 -0.3l1.7 -4.1zM1929.3 503l-6.6 -0.3l1.7 -4.1zM1951.6 503l-6.6 -0.3l1.7 -4.1zM1974 503l-6.6 -0.3l1.7 -4.1zM1996.3 503l-6.6 -0.3l1.7 -4.1zM2018.7 503l-6.6 -0.3l1.7 -4.1zM1374.4 510.7l-4.5 4.8l-2.1 -3.9zM1398 510.2l-4.5 4.8l-2 -3.9zM1421.6 509.7l-4.6 4.7l-2 -3.9zM1445.9 509.8l-4.9 4.4l-1.7 -4.1zM1470.3 509.9l-5.2 4.1l-1.4 -4.2zM1493.5 517.3l-6.5 1.1l0.8 -4.3zM1516.7 524.6l-6.4 -1.5l2.4 -3.7zM1536.6 527.1l-6 -2.7l3 -3.2zM1556.5 529.6l-5.4 -3.8l3.6 -2.6zM1578.8 529.6l-5.4 -3.8l3.6 -2.6zM1601.2 529.6l-5.4 -3.8l3.6 -2.6zM1623.7 525.9l-5.9 -2.9l3.2 -3.1zM1646.3 522.2l-6.4 -1.6l2.5 -3.6zM1652.6 518.4l3.3 -5l2.4 3.2zM1658.9 514.6l6.2 -2.2l-0 4.4zM1683.7 511.3l6.5 -1.1l-0.8 4.3zM1708.4 508l6.6 0.3l-1.7 4.1zM1737.1 513.1l6.5 -1.2l-0.7 4.3zM1765.8 518.1l2 -4.3l2.2 2.2zM1797.2 520.9l-5.8 -3.2l3.3 -2.9zM1828.7 523.6l-6.4 -1.4l2.3 -3.8zM1856.6 524.5l-6.5 -0.7l1.9 -4zM1884.6 525.4l-6.6 -0.3l1.7 -4.1zM1906.9 525.4l-6.6 -0.3l1.7 -4.1zM1929.3 525.4l-6.6 -0.3l1.7 -4.1zM1951.6 525.4l-6.6 -0.3l1.7 -4.1zM1974 525.4l-6.6 -0.3l1.7 -4.1zM1996.3 525.4l-6.6 -0.3l1.7 -4.1zM2018.7 525.4l-6.6 -0.3l1.7 -4.1zM1381.8 522.2l-2.8 5.9l-3.1 -3.1zM1404.2 522.2l-2.8 5.9l-3.1 -3.1zM1426.5 522.2l-2.8 5.9l-3.1 -3.1zM1448.9 522.2l-2.8 5.9l-3.1 -3.1zM1471.2 522.2l-2.8 5.9l-3.1 -3.1zM1483.7 532.1l-2.8 5.9l-3.1 -3.1zM1496.2 541.9l2.8 -5.9l3.1 3.1zM1513.6 546.9l2.8 -5.9l3.1 3.1zM1531 551.8l2.8 -5.9l3.1 3.1zM1553.3 551.8l2.8 -5.9l3.1 3.1zM1575.7 551.8l2.8 -5.9l3.1 3.1zM1598.4 544.4l4.5 -4.8l2 3.9zM1621.2 537l6.2 -2.2l-0 4.4zM1643.5 537l6.2 -2.2l-0 4.4zM1665.9 537l6.2 -2.2l-0 4.4zM1688.8 534.3l6.5 -0.9l-0.9 4.3zM1711.7 531.6l6.6 0.3l-1.7 4.1zM1740.5 537.8l5.6 -2.8l0.5 4.1zM1769.3 544l-2.2 -6.2l4.4 -0zM1801.4 544.5l-6.2 -2.1l2.7 -3.5zM1833.4 545l-6.6 -0.3l1.7 -4.1zM1859 546.4l-6.6 -0.3l1.7 -4.1zM1884.6 547.7l-6.6 -0.3l1.7 -4.1zM1906.9 547.7l-6.6 -0.3l1.7 -4.1zM1929.3 547.7l-6.6 -0.3l1.7 -4.1zM1951.6 547.7l-6.6 -0.3l1.7 -4.1zM1974 547.7l-6.6 -0.3l1.7 -4.1zM1996.3 547.7l-6.6 -0.3l1.7 -4.1zM2018.7 547.7l-6.6 -0.3l1.7 -4.1zM1377.9 551.9l-3.9 5.3l-2.5 -3.6zM1400.3 551.9l-3.9 5.3l-2.5 -3.6zM1422.6 551.9l-3.9 5.3l-2.5 -3.6zM1445 551.9l-3.9 5.3l-2.5 -3.6zM1467.3 551.9l-3.9 5.3l-2.5 -3.6zM1484.2 558.1l-4.5 2.9l-0.8 -3.5zM1501.1 564.3l-1.6 -4.5l3.2 -0zM1521 564.3l0.6 -5.2l3.2 1.6zM1540.9 564.3l2.8 -5.9l3.1 3.1zM1559.5 568l2.8 -5.9l3.1 3.1zM1578.1 571.7l2.8 -5.9l3.1 3.1zM1600.7 568l3.8 -5.4l2.6 3.6zM1623.3 564.3l4.9 -4.4l1.7 4.1zM1641.1 561.8l5.8 -3.1l0.7 4.4zM1658.9 559.3l6.2 -2.2l-0 4.4zM1683.6 553.1l6.6 -0.1l-1.4 4.2zM1708.2 546.8l6.3 2l-2.7 3.5zM1738.8 545l5 4.3l-3.8 2.2zM1769.3 543.2l2.2 6.2l-4.4 -0zM1805.6 549.6l-3.8 5.4l-2.5 -3.6zM1841.8 555.9l-5.9 3l-0.5 -4.4zM1863.2 557.6l-6 2.6l-0.3 -4.4zM1884.6 559.3l-6.2 2.2l-0 -4.4zM1907.5 562l-6.4 1.6l0.4 -4.4zM1930.3 564.7l-6.5 0.9l0.9 -4.3zM1952.7 564.7l-6.5 0.9l0.9 -4.3zM1975 564.7l-6.5 0.9l0.9 -4.3zM1995.6 564.7l-6.5 0.9l0.9 -4.3zM2016.2 564.7l-6.5 0.8l1 -4.3zM1374 581.7l-6.2 2.2l-0 -4.4zM1396.3 581.7l-6.2 2.2l-0 -4.4zM1418.7 581.7l-6.2 2.2l-0 -4.4zM1441 581.7l-6.2 2.2l-0 -4.4zM1463.4 581.7l-6.2 2.2l-0 -4.4zM1484.7 584.2l-6.2 -0.3l1.6 -3.8zM1506 586.6l-5.9 -2.8l3.1 -3.1zM1528.4 581.7l-4.5 1.6l-0 -3.2zM1550.7 576.8l-2.8 5.9l-3.1 -3.1zM1565.7 584.2l1.4 -3l1.6 1.6zM1580.6 591.6l2.8 -5.9l3.1 3.1zM1603 591.6l2.8 -5.9l3.1 3.1zM1625.3 591.6l2.8 -5.9l3.1 3.1zM1638.6 586.6l5.4 -3.7l1.1 4.3zM1651.9 581.7l6.2 -2.2l-0 4.4zM1678.4 571.8l6.6 0.3l-1.7 4.1zM1704.8 561.9l5.9 2.8l-3.1 3.1zM1737.1 552.2l4.1 5.2l-4.2 1.4zM1769.3 542.5l2.2 6.2l-4.4 -0zM1809.8 554.6l-1.6 6.4l-3.7 -2.4zM1850.2 566.7l-4.9 4.4l-1.7 -4.1zM1867.4 568.8l-4.9 4.4l-1.7 -4.1zM1884.6 571l-4.9 4.4l-1.7 -4.1zM1908 576.3l-5.7 3.4l-0.9 -4.3zM1931.4 581.7l-6.2 2.2l-0 -4.4zM1953.8 581.7l-6.2 2.2l-0 -4.4zM1976.1 581.7l-6.2 2.2l-0 -4.4zM1994.9 581.7l-6.2 2.2l-0 -4.4zM2013.8 581.7l-6.2 2.2l-0 -4.4zM1375.4 609l-6.5 -1.2l2.2 -3.8zM1397.8 609l-6.5 -1.2l2.2 -3.8zM1420.1 609l-6.5 -1.2l2.2 -3.8zM1442.5 609l-6.5 -1.2l2.2 -3.8zM1464.8 609l-6.5 -1.2l2.2 -3.8zM1485.4 609l-6.3 -1.9l2.6 -3.5zM1506 609l-5.9 -2.8l3.1 -3.1zM1528.9 605.3l-5.3 0.6l0.8 -3.5zM1551.8 601.6l-4.6 4.1l-1.6 -3.8zM1566.7 610.1l-0.6 -6l3.9 1zM1581.5 618.7l1.4 -6.4l3.8 2.3zM1603.9 618.7l1.4 -6.4l3.8 2.3zM1626.2 618.7l1.4 -6.4l3.8 2.3zM1640.8 611.4l4.8 -4.5l1.8 4zM1655.4 604l6.2 -2.2l-0 4.4zM1682.4 592.6l6.5 1.2l-2.2 3.8zM1709.3 581.2l5.3 3.9l-3.7 2.4zM1739.3 573l3.6 5.5l-4.3 1.1zM1769.3 564.8l2.2 6.2l-4.4 -0zM1804.5 571.6l-0.2 6.6l-4.1 -1.6zM1839.6 578.4l-2.8 5.9l-3.1 -3.1zM1862.1 585.9l-3.8 5.4l-2.5 -3.6zM1884.6 593.3l-4.9 4.4l-1.7 -4.1zM1908 598.7l-5.7 3.4l-0.9 -4.3zM1931.4 604l-6.2 2.2l-0 -4.4zM1953.8 604l-6.2 2.2l-0 -4.4zM1976.1 604l-6.2 2.2l-0 -4.4zM1994.9 604l-6.2 2.2l-0 -4.4zM2013.8 604l-6.2 2.2l-0 -4.4zM1376.9 636.3l-5.9 -2.8l3.1 -3.1zM1399.2 636.3l-5.9 -2.8l3.1 -3.1zM1421.6 636.3l-5.9 -2.8l3.1 -3.1zM1443.9 636.3l-5.9 -2.8l3.1 -3.1zM1466.3 636.3l-5.9 -2.8l3.1 -3.1zM1486.2 633.8l-5.9 -2.8l3.1 -3.1zM1506 631.3l-5.9 -2.8l3.1 -3.1zM1529.4 628.9l-6.2 -0.3l1.6 -3.8zM1552.8 626.4l-6.2 2.2l-0 -4.4zM1567.6 636.1l-1.9 -6.3l4.4 0.2zM1582.5 645.8l0.3 -6.6l4.1 1.7zM1604.8 645.8l0.3 -6.6l4.1 1.7zM1627.2 645.8l0.3 -6.6l4.1 1.7zM1643 636.1l3.9 -5.3l2.4 3.7zM1658.9 626.4l6.2 -2.2l-0 4.4zM1686.4 613.5l6.2 2.2l-2.8 3.4zM1713.9 600.5l4.4 4.9l-4.1 1.7zM1741.6 593.9l3.2 5.8l-4.3 0.7zM1769.3 587.2l2.2 6.2l-4.4 -0zM1799.2 588.7l0.9 6.5l-4.3 -0.9zM1829 590.2l-0.3 6.6l-4.1 -1.7zM1856.8 602.9l-2.4 6.1l-3.3 -2.9zM1884.6 615.7l-4.9 4.4l-1.7 -4.1zM1908 621l-5.7 3.4l-0.9 -4.3zM1931.4 626.4l-6.2 2.2l-0 -4.4zM1953.8 626.4l-6.2 2.2l-0 -4.4zM1976.1 626.4l-6.2 2.2l-0 -4.4zM1994.9 626.4l-6.2 2.2l-0 -4.4zM2013.8 626.4l-6.2 2.2l-0 -4.4z"/>
<path stroke="#000" stroke-width="5.6" stroke-linecap="round" d="M1590.5 358.2h0M1590.5 380.6h0M1590.5 402.9h0M1679.9 402.9h0M1702.2 402.9h0M1724.6 402.9h0M1747 402.9h0M1769.3 402.9h0M1881 402.9h0M1903.4 402.9h0M1925.8 402.9h0M1948.1 402.9h0M1523.5 425.2h0M1545.8 425.2h0M1568.2 425.2h0M1590.5 425.2h0M1702.2 425.2h0M1724.6 425.2h0M1747 425.2h0M1769.3 425.2h0M1523.5 447.6h0M1545.8 447.6h0M1568.2 447.6h0M1590.5 447.6h0M1702.2 447.6h0M1724.6 447.6h0M1747 447.6h0M1769.3 447.6h0M1523.5 469.9h0M1545.8 469.9h0M1568.2 469.9h0M1590.5 469.9h0M1702.2 469.9h0M1724.6 469.9h0M1747 469.9h0M1769.3 469.9h0M1367 492.3h0M1389.3 492.3h0M1411.7 492.3h0M1434 492.3h0M1456.4 492.3h0M1478.8 492.3h0M1523.5 492.3h0M1545.8 492.3h0M1568.2 492.3h0M1590.5 492.3h0M1612.8 492.3h0M1635.2 492.3h0M1657.5 492.3h0M1679.9 492.3h0M1702.2 492.3h0M1724.6 492.3h0M1747 492.3h0M1769.3 492.3h0M1791.7 492.3h0M1814 492.3h0M1836.3 492.3h0M1367 514.6h0M1389.3 514.6h0M1411.7 514.6h0M1434 514.6h0M1456.4 514.6h0M1478.8 514.6h0M1501.1 514.6h0M1523.5 514.6h0M1545.8 514.6h0M1568.2 514.6h0M1590.5 514.6h0M1612.8 514.6h0M1635.2 514.6h0M1657.5 514.6h0M1367 537h0M1389.3 537h0M1411.7 537h0M1434 537h0M1456.4 537h0M1478.8 537h0M1501.1 537h0M1523.5 537h0M1545.8 537h0M1568.2 537h0M1590.5 537h0M1612.8 537h0M1635.2 537h0M1657.5 537h0M1367 559.3h0M1389.3 559.3h0M1411.7 559.3h0M1434 559.3h0M1456.4 559.3h0M1478.8 559.3h0M1501.1 559.3h0M1523.5 559.3h0M1545.8 559.3h0M1568.2 559.3h0M1590.5 559.3h0M1612.8 559.3h0M1635.2 559.3h0M1657.5 559.3h0M1858.7 581.7h0"/>
<rect x="1706.7" y="447.6" width="125.2" height="107.3" fill="none" stroke="#e3211c" stroke-width="2"/>
</g>
<rect x="1367.0" y="358.2" width="625.8" height="268.2" fill="none" stroke="#000" stroke-width="1.3"/>
<line x1="1363.5" y1="402.9" x2="1367.0" y2="402.9" stroke="#000" stroke-width="1"/>
<text x="1360.0" y="410.2" text-anchor="end" class="tk">5</text>
<line x1="1363.5" y1="447.6" x2="1367.0" y2="447.6" stroke="#000" stroke-width="1"/>
<text x="1360.0" y="454.9" text-anchor="end" class="tk">0</text>
<line x1="1363.5" y1="492.3" x2="1367.0" y2="492.3" stroke="#000" stroke-width="1"/>
<text x="1360.0" y="499.6" text-anchor="end" class="tk">-5</text>
<line x1="1363.5" y1="537.0" x2="1367.0" y2="537.0" stroke="#000" stroke-width="1"/>
<text x="1360.0" y="544.3" text-anchor="end" class="tk">-10</text>
<line x1="1363.5" y1="581.7" x2="1367.0" y2="581.7" stroke="#000" stroke-width="1"/>
<text x="1360.0" y="589.0" text-anchor="end" class="tk">-15</text>
<line x1="1363.5" y1="626.4" x2="1367.0" y2="626.4" stroke="#000" stroke-width="1"/>
<text x="1360.0" y="633.7" text-anchor="end" class="tk">-20</text>
<line x1="1367.0" y1="626.4" x2="1367.0" y2="629.9" stroke="#000" stroke-width="1"/>
<text x="1367.0" y="649.0" text-anchor="middle" class="tk">-10</text>
<line x1="1456.4" y1="626.4" x2="1456.4" y2="629.9" stroke="#000" stroke-width="1"/>
<text x="1456.4" y="649.0" text-anchor="middle" class="tk">0</text>
<line x1="1545.8" y1="626.4" x2="1545.8" y2="629.9" stroke="#000" stroke-width="1"/>
<text x="1545.8" y="649.0" text-anchor="middle" class="tk">10</text>
<line x1="1635.2" y1="626.4" x2="1635.2" y2="629.9" stroke="#000" stroke-width="1"/>
<text x="1635.2" y="649.0" text-anchor="middle" class="tk">20</text>
<line x1="1724.6" y1="626.4" x2="1724.6" y2="629.9" stroke="#000" stroke-width="1"/>
<text x="1724.6" y="649.0" text-anchor="middle" class="tk">30</text>
<line x1="1814.0" y1="626.4" x2="1814.0" y2="629.9" stroke="#000" stroke-width="1"/>
<text x="1814.0" y="649.0" text-anchor="middle" class="tk">40</text>
<line x1="1903.4" y1="626.4" x2="1903.4" y2="629.9" stroke="#000" stroke-width="1"/>
<text x="1903.4" y="649.0" text-anchor="middle" class="tk">50</text>
<text x="1368.5" y="351.8" class="tt">(F)_Day +2</text>
<clipPath id="cG"><rect x="46.6" y="684.4" width="612.4" height="268.2"/></clipPath>
<g clip-path="url(#cG)">
<rect x="46.6" y="684.4" width="612.4" height="268.2" fill="#97ff60"/>
<path fill="#0000ed" stroke="#0000ed" stroke-width="0.6" d="M518.7 939l11 -2.5l11 3.3l2.3 2.1l7.1 10.7l-9.4 0l-11 0l-11 0l-10.4 0l5.9 -10.7z"/>
<path fill="#0020ff" stroke="#0020ff" stroke-width="0.6" d="M518.7 918.3l5.1 2.1l5.9 1.6l11 3.8l9.5 5.3l1.4 1.3l11 8.8l1.4 0.7l8.2 10.7l-9.6 0l-11 0l-1.5 0l-7.1 -10.7l-2.3 -2.1l-11 -3.3l-11 2.5l-4.5 2.9l-5.9 10.7l-0.6 0l-9.6 0l-1.4 -10.3l0 -0.4l0 -0.5l2.4 -10.3l8.6 -10.5l0.9 -0.2z"/>
<path fill="#0060ff" stroke="#0060ff" stroke-width="0.6" d="M507.7 905.2l11 -3.1l11 6.4l1.5 1.2l9.5 5.1l10.9 3.4l11 1.4l11 -4.1l11 1.3l4.5 3.6l6.4 8.7l1.3 2l-0.8 10.8l-0.5 1l-3.1 9.7l-7.8 0l-11 0l-1.4 0l-8.2 -10.7l-1.4 -0.7l-11 -8.8l-1.4 -1.3l-9.5 -5.3l-11 -3.8l-5.9 -1.6l-5.1 -2.1l-10.1 2.1l-0.9 0.2l-8.6 10.5l-2.4 10.3l0 0.5l0 0.4l1.4 10.3l-1.4 0l-7 0l-0.9 -10.7l1.9 -10.8l5.1 -10.7l0.9 -1.7l7.6 -9z"/>
<path fill="#00a0ff" stroke="#00a0ff" stroke-width="0.6" d="M57.6 684.4l2.1 0l-2.1 1.8l-11 4.1l0 -5.9zM507.7 893.5l11 -2.8l11 2.3l11 5.5l10.9 -1.9l11 -0.7l8.6 3.1l2.4 0.5l11 3.7l10.9 5.9l1 0.6l10 9.5l1.5 1.2l7.1 10.7l2.4 3.8l10.5 7l0.5 0.2l10.7 10.5l-10.7 0l-11 0l-11 0l-11 0l-3.1 0l3.1 -9.7l0.5 -1l0.8 -10.8l-1.3 -2l-6.4 -8.7l-4.5 -3.6l-11 -1.3l-11 4.1l-11 -1.4l-10.9 -3.4l-9.5 -5.1l-1.5 -1.2l-11 -6.4l-11 3.1l-3.4 4.5l-7.6 9l-0.9 1.7l-5.1 10.7l-1.9 10.8l0.9 10.7l-3.9 0l-3.8 0l0 -10.7l2.2 -10.8l1.6 -2.8l4.4 -7.9l5.6 -10.7l0.9 -2.5l6 -8.2z"/>
<path fill="#00e0fb" stroke="#00e0fb" stroke-width="0.6" d="M57.6 686.2l2.1 -1.8l8.9 0l9.3 0l-7.6 10.7l-1.7 1.7l-11 4.4l-11 0.1l0 -6.2l0 -4.8zM507.7 881.7l11 -2.2l11 -0.5l11 -0.7l10.9 -0.7l11 1.9l11 7.1l2.2 1.6l8.8 4l10.9 2.1l11 1.1l11 -0.7l11 -0.7l11 0l10.9 0.3l11 0l11 0l0 4.7l0 10.7l0 10.7l0 10.7l0 10.8l0 10.7l-11 0l-11 0l-10.9 0l-0.3 0l-10.7 -10.5l-0.5 -0.2l-10.5 -7l-2.4 -3.8l-7.1 -10.7l-1.5 -1.2l-10 -9.5l-1 -0.6l-10.9 -5.9l-11 -3.7l-2.4 -0.5l-8.6 -3.1l-11 0.7l-10.9 1.9l-11 -5.5l-11 -2.3l-11 2.8l-5 5.5l-6 8.2l-0.9 2.5l-5.6 10.7l-4.4 7.9l-1.6 2.8l-2.2 10.8l0 10.7l-7.2 0l-0.1 0l0.1 -0.8l1.1 -9.9l3.1 -10.8l5.7 -10.7l1.1 -2l4.8 -8.7l3.5 -10.7l2.6 -8l2.4 -2.8zM48.7 920.4l8.4 10.7l0.5 2.8l1.4 8l0.3 10.7l-1.7 0l-11 0l0 -10.7l0 -10.8l0 -10.7l0 -1.1z"/>
<path fill="#30ffc7" stroke="#30ffc7" stroke-width="0.6" d="M79.5 684.4l11 0l11 0l11 0l11 0l2.7 0l-2.7 3.3l-8 7.4l-3 2.5l-11 -0.4l-11 0.1l-10 8.6l-1 1l-7.6 9.7l-3.3 3.3l-11 1.3l-11 -3.5l0 -1.1l0 -10.7l0 -4.6l11 -0.1l11 -4.4l1.7 -1.7l7.6 -10.7zM507.7 684.4l11 0l11 0l11 0l10.9 0l11 0l11 0l11 0l10.9 0l0.6 0l-0.6 2l-7.2 8.7l-3.7 1.4l-11 7.2l-1.6 2.2l-8 10.7l-1.4 1.6l-11 2.2l-10.9 -1.4l-11 8.1l-0.2 0.2l-10.8 7.3l-11 -1l-6.5 -6.3l-0.4 -10.7l2.7 -10.7l1 -10.8l-0.6 -10.7zM57.6 870.6l11 1.8l6.3 5.1l4.6 6.4l2.6 4.3l-0.9 10.8l0.7 10.7l8.6 7.4l2.9 3.3l4.1 10.7l-5.2 10.8l-1.8 2.1l-10.8 8.6l-0.2 0l-10.9 0l-9.3 0l-0.3 -10.7l-1.4 -8l-0.5 -2.8l-8.4 -10.7l-2.1 -1.1l0 -9.6l0 -10.7l0 -10.8l0 -10.7l0 -5.3zM496.7 871.4l11 -2.7l11 -0.3l11 -0.3l11 -0.2l10.9 0l11 0.1l11 0.8l11 6.4l4.5 2.3l6.4 1.9l11 0.5l11 -0.3l11 -0.4l11 0l10.9 0.1l11 0.1l11 -0.1l0 8.9l0 6.1l-11 0l-11 0l-10.9 -0.3l-11 0l-11 0.7l-11 0.7l-11 -1.1l-10.9 -2.1l-8.8 -4l-2.2 -1.6l-11 -7.1l-11 -1.9l-10.9 0.7l-11 0.7l-11 0.5l-11 2.2l-8.6 6.5l-2.4 2.8l-2.6 8l-3.5 10.7l-4.8 8.7l-1.1 2l-5.7 10.7l-3.1 10.8l-1.1 9.9l-0.1 0.8l-6.8 0l1.5 -10.7l4.1 -10.8l1.3 -1.6l5 -9.1l5.6 -10.7l0.4 -1.7l1.9 -9l0.1 -10.8l3.1 -10.7z"/>
<path fill="#63ff94" stroke="#63ff94" stroke-width="0.6" d="M123.5 687.7l2.7 -3.3l8.2 0l11 0l2.7 0l-2.7 4.1l-8.2 6.6l-2.8 1.5l-8.6 9.3l-2.3 4.1l-9.1 6.6l-1.9 0.9l-7.9 -0.9l-3.1 -0.3l-1.8 0.3l-9.2 1.8l-8 8.9l-3 1.9l-10.9 5.1l-11 0.8l-11 -0.7l0 -7.1l0 -9.6l11 3.5l11 -1.3l3.3 -3.3l7.6 -9.7l1 -1l10 -8.6l11 -0.1l11 0.4l3 -2.5zM485.8 684.4l10.9 0l7.2 0l0.6 10.7l-1 10.8l-2.7 10.7l0.4 10.7l6.5 6.3l11 1l10.8 -7.3l0.2 -0.2l11 -8.1l10.9 1.4l11 -2.2l1.4 -1.6l8 -10.7l1.6 -2.2l11 -7.2l3.7 -1.4l7.2 -8.7l0.6 -2l10.4 0l8.2 0l2.6 10.7l0 10.8l-8.3 10.7l-2.5 2.2l-11 -0.2l-10.9 -1.8l-11 10.2l-0.2 0.3l-10.5 10.7l-0.3 0.3l-11 2.5l-10.9 -1.7l-11 4l-11 2.7l-11 -0.1l-11 -2l-10.9 -3.6l-2.5 -2.1l0.4 -10.7l-0.1 -10.7l-0.8 -10.7l-1.1 -10.8l-0.7 -10.7zM244.2 784.8l11 -1.5l11 0.5l11 0.4l10.9 -0.1l11 -0.3l11 0.1l11 0.7l11 0.2l10.9 -2.2l11 -1.4l11 7.2l2.8 3.3l5 10.7l-0.8 10.7l-3.5 10.8l-3.5 4l-11 3.5l-11 -0.4l-10.9 -0.7l-11 0.4l-11 0.4l-11 0.1l-11 -0.4l-10.9 -0.2l-11 0.9l-11 1l-11 -3.2l-6.9 -5.4l-4.1 -7l-1.2 -3.8l1 -10.7l0.2 -0.8l4 -9.9zM57.6 853.4l11 0.7l3.8 1.9l7.1 4.3l4.7 6.5l6.3 6.5l5 4.2l6 7.2l2.9 3.5l-0.1 10.8l0 10.7l3.1 10.7l1.1 10.7l-1.5 10.8l-4.5 10.7l-1 0l-11 0l-10.8 0l10.8 -8.6l1.8 -2.1l5.2 -10.8l-4.1 -10.7l-2.9 -3.3l-8.6 -7.4l-0.7 -10.7l0.9 -10.8l-2.6 -4.3l-4.6 -6.4l-6.3 -5.1l-11 -1.8l-11 1.6l0 -5.4l0 -10.8l0 -1.7zM485.8 854.7l10.9 -1.2l6.6 2.5l4.4 1l11 1.8l11 0.1l11 -0.1l10.9 0.1l11 -0.3l11 -1.1l11 0.9l10.9 5.9l4.5 2.5l6.5 2.4l11 0.1l11 -1.2l11 -0.2l10.9 0.4l11 0.1l11 -0.1l0 9.2l0 1.8l-11 0.1l-11 -0.1l-10.9 -0.1l-11 0l-11 0.4l-11 0.3l-11 -0.5l-6.4 -1.9l-4.5 -2.3l-11 -6.4l-11 -0.8l-11 -0.1l-10.9 0l-11 0.2l-11 0.3l-11 0.3l-11 2.7l-5.8 6.1l-3.1 10.7l-0.1 10.8l-1.9 9l-0.4 1.7l-5.6 10.7l-5 9.1l-1.3 1.6l-4.1 10.8l-1.5 10.7l-4.1 0l-2.9 0l1.6 -10.7l1.3 -3l2.7 -7.8l8.3 -10.5l0.1 -0.2l5.3 -10.7l1 -10.7l-3.3 -10.8l-1.9 -10.7l3.2 -10.7l5.5 -10.8z"/>
<path fill="#97ff60" stroke="#97ff60" stroke-width="0.6" d="M145.4 688.5l2.7 -4.1l8.3 0l8 0l2.4 10.7l0.6 1.5l3.5 9.3l7.4 9.1l3.4 1.6l7.6 2.6l11 2.3l11 4.2l2.5 1.6l8.5 7.8l3.2 2.9l7.7 8.9l1.7 1.9l7.6 10.7l1.7 1.7l11 3.6l11 -1.3l11 -1.1l10.9 0.4l11 0.2l11 -0.5l11 -0.2l11 0.1l10.9 0.2l11 0.8l11 4.1l2.6 2.7l8.4 9.9l1 0.9l9.9 6.3l11 -0.5l11 -2.2l11 -0.1l11 2.3l5 4.9l5.9 9l1.1 1.7l9.9 8.5l2.3 2.2l8.7 9.8l1.7 1l9.3 4.7l11 -1.2l10.9 0.8l4.9 6.4l6.1 8.7l1.8 2l9.2 3.4l11 0.3l11 -0.7l10.9 0l11 0l11 -0.5l11 -0.3l10.9 0.7l11 6.5l2.3 1.3l8.7 2.3l11 0.4l11 -0.2l10.9 -0.3l11 -0.1l11 0.1l0 8.6l0 1.5l-11 0.1l-11 -0.1l-10.9 -0.4l-11 0.2l-11 1.2l-11 -0.1l-6.5 -2.4l-4.5 -2.5l-10.9 -5.9l-11 -0.9l-11 1.1l-11 0.3l-10.9 -0.1l-11 0.1l-11 -0.1l-11 -1.8l-4.4 -1l-6.6 -2.5l-10.9 1.2l-1.1 1.3l-5.5 10.8l-3.2 10.7l1.9 10.7l3.3 10.8l-1 10.7l-5.3 10.7l-0.1 0.2l-8.3 10.5l-2.7 7.8l-1.3 3l-1.6 10.7l-7.4 0l0.6 -10.7l2 -10.8l7.7 -8.3l1.7 -2.4l9.3 -10.5l0.1 -0.2l-0.1 -3.6l-0.8 -7.1l-8.7 -10.8l-1.5 -5.4l-1.9 -5.3l0.4 -10.7l-5 -10.8l-4.5 -3.2l-11 -2.1l-10.9 0.5l-11 1.2l-11 1.1l-11 0.7l-11 -0.1l-10.9 -0.7l-11 -1l-11 -0.3l-11 0.1l-10.9 -0.3l-11 -1l-11 -0.4l-11 0l-11 -0.2l-10.9 -0.3l-11 1.2l-11 1.4l-11 -4.4l-3 -2.9l-8 -6l-5 -4.7l-5.9 -8.5l-1.1 -2.2l-2.7 -10.8l-2.4 -10.7l-1.4 -10.7l1 -10.7l-2.4 -10.8l-2 -2.6l-11 -6.6l-11 1.1l-11 1.3l-10.9 -2.4l-4.9 -1.5l-6.1 -2.5l-11 -7.5l-1.2 -0.7l-9.8 -6.9l-10.9 -1l-11 -0.2l-11 -2.2l-11 0.7l-11 3.9l-10.9 2l-11 0.3l-11 -0.2l0 -7.2l0 -3.6l11 0.7l11 -0.8l10.9 -5.1l3 -1.9l8 -8.9l9.2 -1.8l1.8 -0.3l3.1 0.3l7.9 0.9l1.9 -0.9l9.1 -6.6l2.3 -4.1l8.6 -9.3l2.8 -1.5zM237.2 791.7l-4 9.9l-0.2 0.8l-1 10.7l1.2 3.8l4.1 7l6.9 5.4l11 3.2l11 -1l11 -0.9l10.9 0.2l11 0.4l11 -0.1l11 -0.4l11 -0.4l10.9 0.7l11 0.4l11 -3.5l3.5 -4l3.5 -10.8l0.8 -10.7l-5 -10.7l-2.8 -3.3l-11 -7.2l-11 1.4l-10.9 2.2l-11 -0.2l-11 -0.7l-11 -0.1l-11 0.3l-10.9 0.1l-11 -0.4l-11 -0.5l-11 1.5zM463.8 694.2l1.8 -9.8l9.2 0l6.2 0l0.7 10.7l1.1 10.8l0.8 10.7l0.1 10.7l-0.4 10.7l2.5 2.1l10.9 3.6l11 2l11 0.1l11 -2.7l11 -4l10.9 1.7l11 -2.5l0.3 -0.3l10.5 -10.7l0.2 -0.3l11 -10.2l10.9 1.8l11 0.2l2.5 -2.2l8.3 -10.7l0 -10.8l-2.6 -10.7l2.8 0l11 0l11 0l10.9 0l11 0l11 0l0 10.7l0 10.8l0 10.7l0 4.1l-11 0.7l-11 -0.6l-10.9 -2.7l-11 0.8l-9.6 8.4l-1.4 1.5l-9.3 9.2l-1.7 1.7l-11 0.7l-10.9 -0.4l-10.8 8.8l-0.2 0.2l-8.9 10.5l-2.1 2.5l-11 4.1l-10.9 -2l-11 -1.4l-11 -1.2l-7.1 -2l-3.9 -0.6l-11 -1.3l-10.9 0l-11 0.1l-11 -3.3l-4.8 -5.6l-0.5 -10.8l1 -10.7l-0.7 -10.7l1.5 -10.7l3.3 -10.8zM57.6 806.8l11 0.4l10.5 5.9l0.4 0.5l5.8 10.3l5.2 4.7l9.4 6l1.6 1.5l5 9.2l-2.5 10.7l1.7 10.8l6.8 6.4l2.9 4.3l5.6 10.7l-0.5 10.8l-1.2 10.7l1 10.7l2.4 10.7l0.8 4.7l1.5 6.1l0.2 10.7l-1.7 0l-11 0l-10 0l4.5 -10.7l1.5 -10.8l-1.1 -10.7l-3.1 -10.7l0 -10.7l0.1 -10.8l-2.9 -3.5l-6 -7.2l-5 -4.2l-6.3 -6.5l-4.7 -6.5l-7.1 -4.3l-3.8 -1.9l-11 -0.7l-11 0.9l0 -9l0 -10.7l0 -10.7l0 -10.8l0 -5.8z"/>
<path fill="#caff2c" stroke="#caff2c" stroke-width="0.6" d="M167.4 684.4l8 0l2.9 8.5l1 2.2l10 10.7l0.1 0.1l10.9 4.7l11 3.5l6.1 2.5l4.9 3.1l9.9 7.6l1 1l11 7.9l5.5 1.8l5.5 3.1l11 -0.3l11 -1.1l10.9 -0.1l11 0.6l11 1.2l11 1.3l11 0l10.1 -4.7l0.8 -0.8l4.7 -9.9l6.3 -8.9l11 2.7l5.6 6.2l5.4 6.9l8.5 3.8l2.4 1.1l11 -0.3l11 0l11 1.4l11 -0.2l3.7 -2l4.5 -10.7l-2.2 -10.7l1.2 -10.7l3.7 -3.4l6.9 -7.4l4.1 -5.7l2 -5l9 0l1.8 0l-1.8 9.8l-0.2 0.9l-3.3 10.8l-1.5 10.7l0.7 10.7l-1 10.7l0.5 10.8l4.8 5.6l11 3.3l11 -0.1l10.9 0l11 1.3l3.9 0.6l7.1 2l11 1.2l11 1.4l10.9 2l11 -4.1l2.1 -2.5l8.9 -10.5l0.2 -0.2l10.8 -8.8l10.9 0.4l11 -0.7l1.7 -1.7l9.3 -9.2l1.4 -1.5l9.6 -8.4l11 -0.8l10.9 2.7l11 0.6l11 -0.7l0 6.6l0 7.4l-11 0l-11 0l-10.9 0.1l-8.7 3.2l-2.3 1.3l-7.5 9.5l-3.5 4.1l-9.1 6.6l-1.9 1.4l-11 0l-10.9 0.1l-9.9 9.2l-1.1 1.2l-11 9.6l0 0l-11 1.9l-10.9 -1.1l-11 2.1l-11 0.1l-3.5 -3l-7.5 -4.8l-9.5 -6l-1.5 -0.7l-10.9 -2.4l-11 0.3l-10.3 2.8l-0.7 0.6l-6.2 10.2l0.6 10.7l5.6 7.8l1.9 2.9l9.1 8.6l7.9 2.1l3.1 0.6l7.4 -0.6l3.5 -0.2l11 -2.2l11 -3.5l11 -0.4l11 1.4l10.9 0.4l11 -1l11 -1.7l11 0.9l6.7 6.3l4.2 9.9l0.5 0.9l10.5 7.3l4.6 3.4l6.4 6.8l3.6 3.9l7.4 3l11 0.2l10.9 -1.2l11 -0.3l11 0.3l0 8.7l0 2.2l-11 -0.1l-11 0.1l-10.9 0.3l-11 0.2l-11 -0.4l-8.7 -2.3l-2.3 -1.3l-11 -6.5l-10.9 -0.7l-11 0.3l-11 0.5l-11 0l-10.9 0l-11 0.7l-11 -0.3l-9.2 -3.4l-1.8 -2l-6.1 -8.7l-4.9 -6.4l-10.9 -0.8l-11 1.2l-9.3 -4.7l-1.7 -1l-8.7 -9.8l-2.3 -2.2l-9.9 -8.5l-1.1 -1.7l-5.9 -9l-5 -4.9l-11 -2.3l-11 0.1l-11 2.2l-11 0.5l-9.9 -6.3l-1 -0.9l-8.4 -9.9l-2.6 -2.7l-11 -4.1l-11 -0.8l-10.9 -0.2l-11 -0.1l-11 0.2l-11 0.5l-11 -0.2l-10.9 -0.4l-11 1.1l-11 1.3l-11 -3.6l-1.7 -1.7l-7.6 -10.7l-1.7 -1.9l-7.7 -8.9l-3.2 -2.9l-8.5 -7.8l-2.5 -1.6l-11 -4.2l-11 -2.3l-7.6 -2.6l-3.4 -1.6l-7.4 -9.1l-3.5 -9.3l-0.6 -1.5l-2.4 -10.7zM57.6 745.4l11 -0.3l10.9 -2l11 -3.9l11 -0.7l11 2.2l11 0.2l10.9 1l9.8 6.9l1.2 0.7l11 7.5l6.1 2.5l4.9 1.5l10.9 2.4l11 -1.3l11 -1.1l11 6.6l2 2.6l2.4 10.8l-1 10.7l1.4 10.7l2.4 10.7l2.7 10.8l1.1 2.2l5.9 8.5l5 4.7l8 6l3 2.9l11 4.4l11 -1.4l11 -1.2l10.9 0.3l11 0.2l11 0l11 0.4l11 1l10.9 0.3l11 -0.1l11 0.3l11 1l10.9 0.7l11 0.1l11 -0.7l11 -1.1l11 -1.2l10.9 -0.5l11 2.1l4.5 3.2l5 10.8l-0.4 10.7l1.9 5.3l1.5 5.4l8.7 10.8l0.8 7.1l0.1 3.6l-0.1 0.2l-9.3 10.5l-1.7 2.4l-7.7 8.3l-2 10.8l-0.6 10.7l-0.7 0l-10.6 0l-0.4 -6.3l-0.6 -4.4l-1.7 -10.8l-0.9 -10.7l-1.7 -10.7l-6 -9.1l-2 -1.6l-9 -6.9l-3.4 -3.9l-5.4 -10.7l-2.2 -2.3l-11 -3.6l-11 0.5l-10.9 1.1l-11 0.2l-11 -0.8l-11 -0.3l-10.9 2.7l-3.2 2.5l-3 10.7l0.7 10.8l-1.3 10.7l-4.2 4.9l-8.7 5.8l-2.3 1.7l-6.5 9l-0.8 10.8l0.9 10.7l-4.6 0l-11 0l-10.9 0l-11 0l-11 0l-11 0l-11 0l-10.9 0l-7.8 0l7.8 -9.1l2.4 -1.6l8.5 -6.8l3 -4l1.8 -10.7l-0.7 -10.7l-0.8 -10.7l0.2 -10.8l1.6 -10.7l-0.1 -10.7l-5 -9l-1.3 -1.8l-9.6 -7.7l-4.4 -3l-5.9 -10.7l-0.7 -3.3l-1.2 -7.4l-3.7 -10.8l-6.1 -8.2l-2.9 -2.5l-8.1 -8.4l-2.2 -2.3l-8.8 -9.2l-1.1 -1.5l-9.8 -8.1l-5.2 -2.7l-5.8 -2.3l-11 -3l-11 -4.9l-3.5 -0.5l-7.4 -0.8l-3.6 0.8l-7.4 2.1l-9.1 8.6l-1.2 10.8l0.4 10.7l-1.1 4.2l-1.7 6.5l-1.6 10.7l3.3 5.2l4.9 5.6l6.1 4.4l4.8 6.3l1.4 10.7l-0.4 10.7l3 10.8l2.2 3l4.5 7.7l3.5 10.7l-0.7 10.8l-0.1 10.7l3.7 7.7l2.7 3l8.3 9.1l1.6 1.6l1.2 10.8l-2.7 10.7l-0.1 0l-11 0l-9.2 0l-0.2 -10.7l-1.5 -6.1l-0.8 -4.7l-2.4 -10.7l-1 -10.7l1.2 -10.7l0.5 -10.8l-5.6 -10.7l-2.9 -4.3l-6.8 -6.4l-1.7 -10.8l2.5 -10.7l-5 -9.2l-1.6 -1.5l-9.4 -6l-5.2 -4.7l-5.8 -10.3l-0.4 -0.5l-10.5 -5.9l-11 -0.4l-11 0.5l0 -4.9l0 -10.7l0 -10.7l0 -10.8l0 -10.7l0 -10.7l0 -3.6z"/>
<path fill="#feed00" stroke="#feed00" stroke-width="0.6" d="M178.3 684.4l8.2 0l2.8 5.4l3.4 5.3l7.6 5.5l11 4.8l1.4 0.5l9.6 3.9l10.9 6.3l1 0.5l10 5.8l11 0.9l11 -4.1l11 -1.8l10.9 2.2l9.6 -3l1.4 -0.8l5.4 -9.9l5.6 -7.4l4.8 -3.4l6.2 -4l5.5 -6.7l5.5 0l10.9 0l11 0l11 0l7.3 0l-2.6 10.7l1 10.8l5.3 7.3l3.2 3.4l7.7 5.4l11 -1.5l9.4 -3.9l1.6 -0.9l8 -9.8l3 -3l7.1 -7.8l3.9 -4.2l8.2 -6.5l2.7 0l11 0l2 0l-2 5l-4.1 5.7l-6.9 7.4l-3.7 3.4l-1.2 10.7l2.2 10.7l-4.5 10.7l-3.7 2l-11 0.2l-11 -1.4l-11 0l-11 0.3l-2.4 -1.1l-8.5 -3.8l-5.4 -6.9l-5.6 -6.2l-11 -2.7l-6.3 8.9l-4.7 9.9l-0.8 0.8l-10.1 4.7l-11 0l-11 -1.3l-11 -1.2l-11 -0.6l-10.9 0.1l-11 1.1l-11 0.3l-5.5 -3.1l-5.5 -1.8l-11 -7.9l-1 -1l-9.9 -7.6l-4.9 -3.1l-6.1 -2.5l-11 -3.5l-10.9 -4.7l-0.1 -0.1l-10 -10.7l-1 -2.2l-2.9 -8.5zM639.5 734.8l10.9 -0.1l11 0l11 0l0 3.3l0 7.7l-11 -0.5l-11 0.4l-9.7 3.2l-1.2 0.6l-10 10.1l-1 1.3l-7.5 9.4l-3.5 8.7l-1.1 2.1l0.8 10.7l0.3 0.7l4.6 10l6.4 4.6l6.5 6.1l4.5 7.5l2.7 3.3l8.2 7l11 0.5l11 -0.6l0 3.8l0 10.7l0 2l-11 -0.3l-11 0.3l-10.9 1.2l-11 -0.2l-7.4 -3l-3.6 -3.9l-6.4 -6.8l-4.6 -3.4l-10.5 -7.3l-0.5 -0.9l-4.2 -9.9l-6.7 -6.3l-11 -0.9l-11 1.7l-11 1l-10.9 -0.4l-11 -1.4l-11 0.4l-11 3.5l-11 2.2l-3.5 0.2l-7.4 0.6l-3.1 -0.6l-7.9 -2.1l-9.1 -8.6l-1.9 -2.9l-5.6 -7.8l-0.6 -10.7l6.2 -10.2l0.7 -0.6l10.3 -2.8l11 -0.3l10.9 2.4l1.5 0.7l9.5 6l7.5 4.8l3.5 3l11 -0.1l11 -2.1l10.9 1.1l11 -1.9l0 0l11 -9.6l1.1 -1.2l9.9 -9.2l10.9 -0.1l11 0l1.9 -1.4l9.1 -6.6l3.5 -4.1l7.5 -9.5l2.3 -1.3zM477.7 781l-0.3 10.7l8.4 10.1l3.1 0.6l7.8 0.7l1.7 -0.7l7.3 -10.7l-9 -10.1l-1.4 -0.6l-9.5 -2.6zM123.5 758.7l7.4 0.8l3.5 0.5l11 4.9l11 3l5.8 2.3l5.2 2.7l9.8 8.1l1.1 1.5l8.8 9.2l2.2 2.3l8.1 8.4l2.9 2.5l6.1 8.2l3.7 10.8l1.2 7.4l0.7 3.3l5.9 10.7l4.4 3l9.6 7.7l1.3 1.8l5 9l0.1 10.7l-1.6 10.7l-0.2 10.8l0.8 10.7l0.7 10.7l-1.8 10.7l-3 4l-8.5 6.8l-2.4 1.6l-7.8 9.1l-3.2 0l-11 0l-11 0l-11 0l-10.9 0l-11 0l-10.9 0l2.7 -10.7l-1.2 -10.8l-1.6 -1.6l-8.3 -9.1l-2.7 -3l-3.7 -7.7l0.1 -10.7l0.7 -10.8l-3.5 -10.7l-4.5 -7.7l-2.2 -3l-3 -10.8l0.4 -10.7l-1.4 -10.7l-4.8 -6.3l-6.1 -4.4l-4.9 -5.6l-3.3 -5.2l1.6 -10.7l1.7 -6.5l1.1 -4.2l-0.4 -10.7l1.2 -10.8l9.1 -8.6l7.4 -2.1zM155.1 781l-8.7 10.7l0.9 10.7l1 10.7l-2.7 10.8l-0.2 0.1l-11 7.1l-2.5 3.5l-3.1 10.7l-0.1 10.7l3.6 10.8l2.1 3.7l3.5 7l2.9 10.7l0.8 10.8l3.8 10.5l0.2 0.2l10.8 6.8l11 3.7l10.9 -0.5l11 -8l1.4 -2l1 -10.7l-2.4 -9.8l-0.1 -1l-1 -10.7l0.6 -10.7l0.5 -4.9l1 -5.9l2 -10.7l2.8 -10.7l1.2 -10.7l-6.6 -10.8l-0.4 -0.3l-11 -9.3l-0.9 -1.1l-7.9 -10.7l-2.1 -2.7l-10.4 -8l-0.6 -0.4zM332.1 875l10.9 -2.7l11 0.3l11 0.8l11 -0.2l10.9 -1.1l11 -0.5l11 3.6l2.2 2.3l5.4 10.7l3.4 3.9l9 6.9l2 1.6l6 9.1l1.7 10.7l0.9 10.7l1.7 10.8l0.6 4.4l0.4 6.3l-0.4 0l-10.9 0l-11 0l-11 0l-11 0l-11 0l-10.9 0l-11 0l-11 0l-11 0l-10.9 0l-11 0l-11 0l-6.4 0l-0.9 -10.7l0.8 -10.8l6.5 -9l2.3 -1.7l8.7 -5.8l4.2 -4.9l1.3 -10.7l-0.7 -10.8l3 -10.7z"/>
<path fill="#ffb200" stroke="#ffb200" stroke-width="0.6" d="M189.3 684.4l8.5 0l2.5 3.4l6.1 7.3l4.9 2.8l11 4.4l9.2 3.6l1.7 0.9l11 4.9l11 -1.6l5.6 -4.2l5.4 -5.7l7.5 -5.1l3.5 -5.2l2.7 -5.5l8.2 0l11 0l11 0l11 0l5.5 0l-5.5 6.7l-6.2 4l-4.8 3.4l-5.6 7.4l-5.4 9.9l-1.4 0.8l-9.6 3l-10.9 -2.2l-11 1.8l-11 4.1l-11 -0.9l-10 -5.8l-1 -0.5l-10.9 -6.3l-9.6 -3.9l-1.4 -0.5l-11 -4.8l-7.6 -5.5l-3.4 -5.3l-2.8 -5.4zM376 684.4l10.9 0l3.5 0l3.5 10.7l4 2.8l7.8 -2.8l3.2 -1.1l8.4 -9.6l2.6 0l11 0l8.2 0l-8.2 6.5l-3.9 4.2l-7.1 7.8l-3 3l-8 9.8l-1.6 0.9l-9.4 3.9l-11 1.5l-7.7 -5.4l-3.2 -3.4l-5.3 -7.3l-1 -10.8l2.6 -10.7zM650.4 745.6l11 -0.4l11 0.5l0 3.1l0 10.6l-11 -1.2l-11 1.1l-0.3 0.2l-10.6 10l-0.5 0.7l-4.9 10.8l0.5 10.7l4.9 6.4l4.1 4.3l6.8 5.9l11 2l11 -2.2l0 5l0 10.8l0 6.9l-11 0.6l-11 -0.5l-8.2 -7l-2.7 -3.3l-4.5 -7.5l-6.5 -6.1l-6.4 -4.6l-4.6 -10l-0.3 -0.7l-0.8 -10.7l1.1 -2.1l3.5 -8.7l7.5 -9.4l1 -1.3l10 -10.1l1.2 -0.6zM156.4 780.6l0.6 0.4l10.4 8l2.1 2.7l7.9 10.7l0.9 1.1l11 9.3l0.4 0.3l6.6 10.8l-1.2 10.7l-2.8 10.7l-2 10.7l-1 5.9l-0.5 4.9l-0.6 10.7l1 10.7l0.1 1l2.4 9.8l-1 10.7l-1.4 2l-11 8l-10.9 0.5l-11 -3.7l-10.8 -6.8l-0.2 -0.2l-3.8 -10.5l-0.8 -10.8l-2.9 -10.7l-3.5 -7l-2.1 -3.7l-3.6 -10.8l0.1 -10.7l3.1 -10.7l2.5 -3.5l11 -7.1l0.2 -0.1l2.7 -10.8l-1 -10.7l-0.9 -10.7l8.7 -10.7zM142.9 856l1.1 10.8l1.4 4.1l2.6 6.6l3.8 10.7l4.6 8.6l8.5 2.2l2.5 0.6l0.9 -0.6l4.6 -10.8l0.6 -10.7l-0.6 -10.7l-5.3 -10.8l-0.2 -0.2l-11 -4.1l-11 -0.5zM485.8 778.4l9.5 2.6l1.4 0.6l9 10.1l-7.3 10.7l-1.7 0.7l-7.8 -0.7l-3.1 -0.6l-8.4 -10.1l0.3 -10.7z"/>
<path fill="#ff7700" stroke="#ff7700" stroke-width="0.6" d="M200.3 684.4l7.1 0l3.9 4.3l9.5 6.4l1.5 0.7l10.9 2.8l11 1l7.5 -4.5l3.5 -5.9l2.9 -4.8l8.1 0l11 0l2.7 0l-2.7 5.5l-3.5 5.2l-7.5 5.1l-5.4 5.7l-5.6 4.2l-11 1.6l-11 -4.9l-1.7 -0.9l-9.2 -3.6l-11 -4.4l-4.9 -2.8l-6.1 -7.3l-2.5 -3.4zM397.9 684.4l11 0l8.4 0l-8.4 9.6l-3.2 1.1l-7.8 2.8l-4 -2.8l-3.5 -10.7zM650.4 759.3l11 -1.1l11 1.2l0 0.1l0 10.7l0 10.8l0 10.7l0 10.7l0 5.7l-11 2.2l-11 -2l-6.8 -5.9l-4.1 -4.3l-4.9 -6.4l-0.5 -10.7l4.9 -10.8l0.5 -0.7l10.6 -10zM145.4 851.2l11 0.5l11 4.1l0.2 0.2l5.3 10.8l0.6 10.7l-0.6 10.7l-4.6 10.8l-0.9 0.6l-2.5 -0.6l-8.5 -2.2l-4.6 -8.6l-3.8 -10.7l-2.6 -6.6l-1.4 -4.1l-1.1 -10.8z"/>
<path fill="#ff3b00" stroke="#ff3b00" stroke-width="0.6" d="M211.3 684.4l6.6 0l4.4 3.2l10.9 1.2l6.6 -4.4l4.4 0l11 0l2.9 0l-2.9 4.8l-3.5 5.9l-7.5 4.5l-11 -1l-10.9 -2.8l-1.5 -0.7l-9.5 -6.4l-3.9 -4.3z"/>
<path fill="#e80000" stroke="#e80000" stroke-width="0.6" d="M222.3 684.4l10.9 0l6.6 0l-6.6 4.4l-10.9 -1.2l-4.4 -3.2z"/>
<path fill="none" stroke="#000" stroke-width="1.05" stroke-linejoin="round" d="M42.1 718.4L46.6 721.5L55.5 728.2L68.1 734.5L77.9 731.8L91.3 727.3L100.2 726.9L109.2 728.2L117.2 731.3L127.1 727.3L136 722.8L144.9 720.2L151.2 717.5L160.1 716.6L169.1 715.7L178.9 717.5L185.2 726.4L189.6 734.5L199.5 734.5L212 732.7L218.2 739.8L222.7 751.4L220.9 761.3L216.5 770.2L219.1 779.2L225 790.8L232.6 800.6L240.6 810.5L245.1 820.3L249.5 831L254 843.5L257.6 856L258.5 865L257.6 874.8L252.2 887.3L247.7 897.2L245.1 910.6L242.4 921.3L243.3 932.9L245.1 941.9L248.6 949L252.2 957.1M593.7 679.9L590.2 684.4L586.6 697.8L575 711.2L563.3 729.1L551.7 736.3L541 748.8L533.8 754.1L524.9 763.1L517.7 770.2L507.9 789L498.1 796.1L490.9 809.6L486.4 815.8L483.8 827.4L487.3 834.6L487.3 845.3L490.9 858.7L497.2 866.8L498.1 876.6L498.1 885.5L499 899L496.3 909.7L489.1 919.5L475.7 928.5L466.8 932.9L457.8 941.9L450.7 949.9L447.1 957.1M576.7 881.1L582.1 892.7L585.7 909.7L583 916.8L580.3 924L577.6 932.9L574.1 943.7L570.5 957.1L532 957.1L532 943.7L529.4 934.7L532 925.8L533.8 919.5L541 916.8L549.9 914.2L558 907.9L564.2 900.7L568.7 893.6L574.1 884.7L576.7 881.1M420.3 776.5L426.6 772L435.5 771.1L440.9 775.6L440 782.7L437.3 791.7L431 796.1L422.1 796.1L418.5 787.2L420.3 781L420.3 776.5M396.2 803.3L398.8 803.3L400.6 814L403.3 826.5L409.6 836.4L414.9 848L413.1 851.6L408.7 848L405.1 837.3L399.7 828.3L397 816.7L396.2 803.3M440.9 858.7L443.5 859.6L446.2 872.1L448.9 881.1L451.6 892.7L450.7 901.6L448 901.6L444.4 892.7L441.7 881.1L440 869.5L440.9 858.7M408.7 763.1L416.7 754.1L414 753.2L406.9 761.3L408.7 763.1M456.9 732.7L460.5 744.3L463.2 751.4L459.6 747L456.1 738L456.9 732.7M395.3 789L397.9 789L397.9 797L395.3 795.3L395.3 789M134.2 716.6L137.8 709.4L136 702.3L130.6 696.9L125.3 699.6L132.4 705.9L134.2 716.6M390.8 850.7L396.2 849.8L397 857.8L392.6 856.9L390.8 850.7M375.6 933.8L386.3 927.6L395.3 922.2L391.7 924.9L381.9 931.1L375.6 933.8"/><path fill="none" stroke="#000" stroke-width="0.8" stroke-linejoin="round" d="M69 734.5L68.1 724.6L60.9 716.6L60 705.9L62.7 697.8L65.4 679.9M60 705.9L51.1 697.8L43.9 697.8L37.7 696M108.3 728.2L111 711.2L113.7 700.5L111.9 688.9L111 679.9M146.7 719.3L141.4 712.1L140.5 699.6L138.7 679.9M150.3 718.4L150.3 693.3L148.5 679.9M160.1 716.6L160.1 693.3L168.2 679.9M212.9 732.7L221.8 715.7L234.3 714.8L243.3 702.3L252.2 688.9L256.7 679.9M223.6 754.1L237 753.2L254.9 754.1L265.6 755L279 758.6L280.8 753.2L284.4 742.5L302.3 742.5M237 753.2L237 764.9L220.9 764.9M237 753.2L252.2 761.3L261.2 761.3L264.7 788.1L261.2 795.3L247.7 795.3L238.8 805.1L236.1 808.7M265.6 679.9L265.6 715.7L270.1 729.1L279 754.1M245.1 820.3L252.2 825.7L272.8 812.2L280.8 793.5L294.2 778.3L297.8 769.3L302.3 742.5L310.3 729.1L323.7 735.4L339.8 731.8L355 728.2L368.4 727.3L381 728.2L395.3 734.5L412.2 742.5L431 739.8L440 736.3M249.5 827.4L279 827.4L283.5 840.8L292.4 846.2L305.9 845.3L310.3 836.4L330.9 839.1L330.9 858.7L335.4 872.1L350.6 872.1L362.2 873.9L372.9 880.2L379.2 877.5L389.9 883.8L395.3 893.6L402.4 891.8L402.4 882.9L390.8 872.1L390.8 858.7L410.5 848M350.6 872.1L350.6 890L332.7 890L332.7 918.6L344.3 930.2L361.3 932.9M242.4 928.5L256.7 925.8L301.4 929.4L323.7 937.4L344.3 930.2M323.7 937.4L323.7 970.5M361.3 932.9L377.4 933.8L390.8 921.3L407.8 913.3L430.1 923.1L430.1 939.2L427.4 957.1M361.3 932.9L368.4 939.2L381.9 957.1M407.8 913.3L406 904.3L430.1 895.4L432.8 885.5L433.7 870.4L431 858.7L430.1 857.8L414.9 850.7M428.3 895.4L439.1 902.5L444.4 904.3L451.6 917.7L450.7 926.7L456.1 916.8L456.9 905.2L451.6 894.5M448 876.6L466.8 877.5L480.2 874.8L497.2 866.8M412.2 742.5L415.8 754.1M406.9 762.2L403.3 769.3L400.6 786.3L395.3 786.3M400.6 786.3L408.7 782.7L440 782.7L472.1 800.6L486.4 814.9M408.7 782.7L411.4 795.3L407.8 799.7L411.4 803.3L404.2 812.2L398.8 814M395.3 795.3L403.3 798.8L407.8 799.7M440 782.7L440 772L444.4 764.9L448.9 755.9L443.5 736.3L456.9 732.7L465 734.5L475.7 741.6L484.7 742.5L493.6 736.3L510.6 738L502.5 747L502.5 782.7L507.9 789M510.6 738L524.9 733.6L538.3 729.1L551.7 715.7L564.2 702.3L547.2 698.7L529.4 693.3L518.6 684.4L515.9 679.9M456.9 732.7L446.2 715.7L431 704.1L432.8 698.7L440.9 696.9L440.9 679.9M274.6 706.8L296.9 702.3L305.9 693.3L328.2 679.9M346.1 696L359.5 682.6L368.4 679.9M381 728.2L364 711.2L346.1 696L337.2 679.9"/>
<path fill="none" stroke="#000" stroke-width="1.7" d="M46.6 684.4l15.4 -15.4M69 684.4l15.4 -15.4M91.3 684.4l15.4 -15.4M113.7 684.4l15.4 -15.4M136 684.4l15.4 -15.4M158.3 684.4l7.2 -14.8M180.7 684.4l0 -14.8M203 684.4l0 -11.3M225.4 684.4l0 -7.8M247.7 684.4l-4.6 -8.9M270.1 684.4l-10.5 -10.5M292.4 684.4l-10.5 -10.5M314.8 684.4l-10.5 -10.5M337.2 684.4l-14.2 -1.4M359.5 684.4l-20.1 8.3M381.9 684.4l-20.1 8.3M404.2 684.4l-20.1 8.3M426.6 684.4l-15.1 9.5M448.9 684.4l-10.5 10.5M471.2 684.4l-5.1 12.2M493.6 684.4l0 14.8M515.9 684.4l4.5 3M538.3 684.4l13.7 -5.7M560.6 684.4l16.9 -7M583 684.4l20.1 -8.3M605.4 684.4l20.1 -8.3M627.7 684.4l20.1 -8.3M650 684.4l20.1 -8.3M46.6 706.8l17.7 -11.8M69 706.8l17.7 -11.8M91.3 706.8l17.7 -11.8M113.7 706.8l17.7 -11.8M136 706.8l17.7 -11.8M158.3 706.8l6.5 -12.3M180.7 706.8l-2.8 -14.1M203 706.8l-3.8 -11.4M225.4 706.8l-4.6 -8.9M247.7 706.8l-7 -12M270.1 706.8l-9.5 -15.1M292.4 706.8l-9.5 -15.1M314.8 706.8l-9.5 -15.1M337.2 706.8l-11.8 -3.7M359.5 706.8l-16.9 7M381.9 706.8l-17.3 9.4M404.2 706.8l-17.7 11.8M426.6 706.8l-15.3 12.4M448.9 706.8l-12.9 12.9M471.2 706.8l-6.3 15.2M493.6 706.8l0 18.3M515.9 706.8l5 4.2M538.3 706.8l13.7 -5.7M560.6 706.8l16.9 -7M583 706.8l20.1 -8.3M605.4 706.8l20.1 -8.3M627.7 706.8l20.1 -8.3M650 706.8l20.1 -8.3M46.6 729.1l20.1 -8.3M69 729.1l20.1 -8.3M91.3 729.1l20.1 -8.3M113.7 729.1l20.1 -8.3M136 729.1l20.1 -8.3M158.3 729.1l5.8 -9.7M180.7 729.1l-5.7 -13.7M203 729.1l-8 -12M225.4 729.1l-10.5 -10.5M247.7 729.1l-9.5 -15.1M270.1 729.1l-8.3 -20.1M292.4 729.1l-8.3 -20.1M314.8 729.1l-8.3 -20.1M337.2 729.1l-9.7 -5.8M359.5 729.1l-13.7 5.7M381.9 729.1l-14.5 10.3M404.2 729.1l-15.4 15.4M426.6 729.1l-15.4 15.4M448.9 729.1l-15.4 15.4M471.2 729.1l-7.5 18.2M493.6 729.1l0 21.8M515.9 729.1l5.4 5.5M538.3 729.1l13.7 -5.7M560.6 729.1l16.9 -7M583 729.1l20.1 -8.3M605.4 729.1l20.1 -8.3M627.7 729.1l20.1 -8.3M650 729.1l20.1 -8.3M46.6 751.4l14.2 1.4M69 751.4l14.2 1.4M91.3 751.4l14.2 1.4M113.7 751.4l12.9 0.6M136 751.4l11.7 -0.3M158.3 751.4l3 -3.7M180.7 751.4l-2.6 -10.7M203 751.4l-5.8 -12.9M225.4 751.4l-9.5 -15.1M247.7 751.4l-8.9 -17.6M270.1 751.4l-8.3 -20.1M292.4 751.4l-9.8 -14.3M314.8 751.4l-11.1 -9M337.2 751.4l-10.3 -2.8M359.5 751.4l-10.7 2.6M381.9 751.4l-13.1 8.5M404.2 751.4l-15.4 15.4M426.6 751.4l-15.4 15.4M448.9 751.4l-15.4 15.4M471.2 751.4l-7.4 16.5M493.6 751.4l0 18.3M515.9 751.4l5 4.2M538.3 751.4l13.7 -5.7M560.6 751.4l16.9 -7M583 751.4l20.1 -8.3M605.4 751.4l20.1 -8.3M627.7 751.4l20.1 -8.3M650 751.4l18.9 -10.1M46.6 773.8l10.5 10.5M69 773.8l10.5 10.5M91.3 773.8l10.5 10.5M113.7 773.8l8 8M136 773.8l5.5 5.5M158.3 773.8l0.5 -0.2M180.7 773.8l0 -7.8M203 773.8l-3.7 -13.9M225.4 773.8l-8.3 -20.1M247.7 773.8l-8.3 -20.1M270.1 773.8l-8.3 -20.1M292.4 773.8l-11.1 -9M314.8 773.8l-14.8 0M337.2 773.8l-11.3 0M359.5 773.8l-7.8 0M381.9 773.8l-11.5 6.8M404.2 773.8l-15.4 15.4M426.6 773.8l-15.4 15.4M448.9 773.8l-15.4 15.4M471.2 773.8l-7.2 14.8M493.6 773.8l0 14.8M515.9 773.8l4.5 3M538.3 773.8l13.7 -5.7M560.6 773.8l16.9 -7M583 773.8l20.1 -8.3M605.4 773.8l20.1 -8.3M627.7 773.8l20.1 -8.3M650 773.8l17.7 -11.8M46.6 796.1l8 12M69 796.1l8 12M91.3 796.1l8 12M113.7 796.1l6.8 8.6M136 796.1l5.5 5.5M158.3 796.1l0.7 0.1M180.7 796.1l0.7 -1.5M203 796.1l-0.6 -9M225.4 796.1l-4 -17.4M247.7 796.1l-12.9 -13.7M270.1 796.1l-23.2 -10.4M292.4 796.1l-25.4 -5.2M314.8 796.1l-27.8 0M337.2 796.1l-26.1 0M359.5 796.1l-24.3 0M381.9 796.1l-23.9 3.9M404.2 796.1l-23.6 7.9M426.6 796.1l-15.8 7.3M448.9 796.1l-8.4 6.2M471.2 796.1l0.1 4M493.6 796.1l9 6.8M515.9 796.1l17.5 2.4M538.3 796.1l27.1 -3.3M560.6 796.1l28.7 -3.9M583 796.1l30.3 -4.5M605.4 796.1l28.4 -4.4M627.7 796.1l26.4 -4.4M650 796.1l21.9 -8.1M46.6 818.5l5.7 13.7M69 818.5l5.7 13.7M91.3 818.5l5.7 13.7M113.7 818.5l5.7 9.4M136 818.5l5.5 5.5M158.3 818.5l3.1 1.8M180.7 818.5l0.8 0M203 818.5l1.5 -4.6M225.4 818.5l0 -14.8M247.7 818.5l-17.9 -8M270.1 818.5l-40.8 0M292.4 818.5l-40.8 0M314.8 818.5l-40.8 0M337.2 818.5l-40.8 0M359.5 818.5l-40.8 0M381.9 818.5l-36.9 0M404.2 818.5l-33 0M426.6 818.5l-16.9 0M448.9 818.5l-0.8 0M471.2 818.5l4.3 0M493.6 818.5l21.8 0M515.9 818.5l31.3 0M538.3 818.5l40.8 0M560.6 818.5l40.8 0M583 818.5l40.8 0M605.4 818.5l36.9 0M627.7 818.5l33 0M650 818.5l26.4 -4.4M46.6 840.8l8 12M69 840.8l8 12M91.3 840.8l8 12M113.7 840.8l8 9.9M136 840.8l8 8M158.3 840.8l4.4 3.5M180.7 840.8l0.6 0.2M203 840.8l0.7 -0M225.4 840.8l1.7 -0.7M247.7 840.8l-8.9 -0.9M270.1 840.8l-31.3 0M292.4 840.8l-31.3 0M314.8 840.8l-31.3 0M337.2 840.8l-30.8 -2.2M359.5 840.8l-30.3 -4.5M381.9 840.8l-22.1 -6.2M404.2 840.8l-14.1 -7.6M426.6 840.8l-5.3 -5.6M448.9 840.8l0.2 -3.5M471.2 840.8l8.3 -4.5M493.6 840.8l20.9 -4.1M515.9 840.8l28.1 0.9M538.3 840.8l35.5 6.4M560.6 840.8l33.5 9.1M583 840.8l31.6 11.7M605.4 840.8l25.5 10.9M627.7 840.8l19.5 10.1M650 840.8l16 7.6M46.6 863.2l10.5 10.5M69 863.2l10.5 10.5M91.3 863.2l10.5 10.5M113.7 863.2l10.5 10.5M136 863.2l10.5 10.5M158.3 863.2l5.5 5.5M180.7 863.2l0.6 0.6M203 863.2l5.5 5.5M225.4 863.2l10.5 10.5M247.7 863.2l-2.5 2.8M270.1 863.2l-21.8 0M292.4 863.2l-21.8 0M314.8 863.2l-21.8 0M337.2 863.2l-20.9 -4.1M359.5 863.2l-20.1 -8.3M381.9 863.2l-9 -11.1M404.2 863.2l0 -14.8M426.6 863.2l2.8 -14.1M448.9 863.2l5.7 -13.7M471.2 863.2l12.3 -10.9M493.6 863.2l20.1 -8.3M515.9 863.2l24.9 1.7M538.3 863.2l30.5 12.6M560.6 863.2l26.8 17.9M583 863.2l23.3 23.3M605.4 863.2l15.6 21.8M627.7 863.2l8.3 20.1M650 863.2l8.3 20.1M46.6 885.5l10.5 10.5M69 885.5l10.5 10.5M91.3 885.5l10.5 10.5M113.7 885.5l10.5 10.5M136 885.5l10.5 10.5M158.3 885.5l5.6 4.7M180.7 885.5l0.6 0.2M203 885.5l3.1 1.8M225.4 885.5l5.8 3.9M247.7 885.5l-2.9 1.2M270.1 885.5l-21.8 0M292.4 885.5l-21.8 0M314.8 885.5l-21.8 0M337.2 885.5l-19.5 -5.8M359.5 885.5l-17.7 -11.8M381.9 885.5l-12.2 -13.3M404.2 885.5l-7.2 -14.8M426.6 885.5l-5.6 -14.2M448.9 885.5l-4.1 -13.7M471.2 885.5l2.3 -11.6M493.6 885.5l9 -11.1M515.9 885.5l16.3 2M538.3 885.5l26.8 17.9M560.6 885.5l25.1 20.6M583 885.5l23.3 23.3M605.4 885.5l19.4 22.6M627.7 885.5l15.6 21.8M650 885.5l15.6 21.8M46.6 907.9l10.5 10.5M69 907.9l10.5 10.5M91.3 907.9l10.5 10.5M113.7 907.9l10.5 10.5M136 907.9l10.5 10.5M158.3 907.9l5.8 3.9M180.7 907.9l0.8 0M203 907.9l0.8 0M225.4 907.9l0.8 0M247.7 907.9l-4.3 0M270.1 907.9l-21.8 0M292.4 907.9l-21.8 0M314.8 907.9l-21.8 0M337.2 907.9l-18.2 -7.5M359.5 907.9l-15.4 -15.4M381.9 907.9l-15.4 -15.4M404.2 907.9l-15.4 -15.4M426.6 907.9l-15.4 -15.4M448.9 907.9l-15.4 -15.4M471.2 907.9l-7.2 -14.8M493.6 907.9l0 -14.8M515.9 907.9l7.8 1.9M538.3 907.9l23.3 23.3M560.6 907.9l23.3 23.3M583 907.9l23.3 23.3M605.4 907.9l23.3 23.3M627.7 907.9l23.3 23.3M650 907.9l23.3 23.3M46.6 930.2l12 8M69 930.2l12 8M91.3 930.2l12 8M113.7 930.2l12 8M136 930.2l12 8M158.3 930.2l6.5 3.1M180.7 930.2l0.8 0M225.4 930.2l-0.8 0M247.7 930.2l-11.3 0M270.1 930.2l-21.8 0M292.4 930.2l-21.8 0M314.8 930.2l-21.8 0M337.2 930.2l-16.9 -6.4M359.5 930.2l-12.9 -12.9M381.9 930.2l-12.9 -12.9M404.2 930.2l-12.9 -12.9M426.6 930.2l-11.6 -13.7M448.9 930.2l-10.3 -14.5M471.2 930.2l-4.9 -14.4M493.6 930.2l0 -14.8M515.9 930.2l3.1 -3.9M538.3 930.2l7.8 1.9M560.6 930.2l14.9 8.3M583 930.2l21.8 15.6M605.4 930.2l20.6 17.5M627.7 930.2l19.4 19.4M650 930.2l19.4 19.4M46.6 952.6l13.7 5.7M69 952.6l13.7 5.7M91.3 952.6l13.7 5.7M113.7 952.6l13.7 5.7M136 952.6l13.7 5.7M158.3 952.6l7.3 2.2M180.7 952.6l0.8 0M203 952.6l-0.8 0M225.4 952.6l-14.8 0M247.7 952.6l-18.3 0M270.1 952.6l-21.8 0M292.4 952.6l-21.8 0M314.8 952.6l-21.8 0M337.2 952.6l-15.6 -5.4M359.5 952.6l-10.5 -10.5M381.9 952.6l-10.5 -10.5M404.2 952.6l-10.5 -10.5M426.6 952.6l-8 -12M448.9 952.6l-5.7 -13.7M471.2 952.6l-2.8 -14.1M493.6 952.6l0 -14.8M515.9 952.6l0 -14.8M538.3 952.6l0 -14.8M560.6 952.6l7.2 -2.9M583 952.6l20.1 8.3M605.4 952.6l17.7 11.8M627.7 952.6l15.4 15.4M650 952.6l15.4 15.4"/>
<path fill="#000" d="M66.4 664.6l-2.8 5.9l-3.1 -3.1zM88.7 664.6l-2.8 5.9l-3.1 -3.1zM111.1 664.6l-2.8 5.9l-3.1 -3.1zM133.4 664.6l-2.8 5.9l-3.1 -3.1zM155.8 664.6l-2.8 5.9l-3.1 -3.1zM168.2 664l-0.7 6.5l-4 -1.9zM180.7 663.4l2.2 6.2l-4.4 -0zM203 666.9l2.2 6.2l-4.4 -0zM225.4 670.4l2.2 6.2l-4.4 -0zM240.3 670l4.8 4.5l-3.9 2zM255.3 669.6l5.9 2.8l-3.1 3.1zM277.6 669.6l5.9 2.8l-3.1 3.1zM300 669.6l5.9 2.8l-3.1 3.1zM316.8 682.3l6.4 -1.6l-0.4 4.4zM333.6 695.1l4.9 -4.4l1.7 4.1zM356 695.1l4.9 -4.4l1.7 4.1zM378.3 695.1l4.9 -4.4l1.7 4.1zM406.2 697.2l4.1 -5.2l2.3 3.7zM434.1 699.2l2.8 -5.9l3.1 3.1zM463.8 702.3l0.3 -6.6l4.1 1.7zM493.6 705.4l-2.2 -6.2l4.4 -0zM525.7 690.9l-6.4 -1.6l2.4 -3.7zM557.7 676.4l-4.9 4.4l-1.7 -4.1zM583.3 675l-4.9 4.4l-1.7 -4.1zM608.9 673.7l-4.9 4.4l-1.7 -4.1zM631.2 673.7l-4.9 4.4l-1.7 -4.1zM653.6 673.7l-4.9 4.4l-1.7 -4.1zM675.9 673.7l-4.9 4.4l-1.7 -4.1zM69.4 691.5l-3.9 5.3l-2.4 -3.7zM91.8 691.5l-3.9 5.3l-2.4 -3.7zM114.1 691.5l-3.9 5.3l-2.4 -3.7zM136.5 691.5l-3.9 5.3l-2.4 -3.7zM158.8 691.5l-3.9 5.3l-2.4 -3.7zM167.8 689l-1 6.5l-3.9 -2.1zM176.7 686.5l3.4 5.7l-4.3 0.9zM197.3 689.4l4 5.2l-4.2 1.4zM218 692.3l4.8 4.5l-3.9 2zM237.6 689.4l5 4.3l-3.8 2.2zM257.3 686.4l5.2 4.1l-3.7 2.3zM279.7 686.4l5.2 4.1l-3.7 2.3zM302 686.4l5.2 4.1l-3.7 2.3zM319.4 701.3l6.6 -0.3l-1.3 4.2zM336.9 716.1l4.9 -4.4l1.7 4.1zM359.1 719.1l4.4 -4.9l2.1 3.9zM381.4 722l3.9 -5.3l2.4 3.7zM406.5 723l3.4 -5.6l2.8 3.4zM431.6 724.1l2.8 -5.9l3.1 3.1zM462.6 727.7l0.3 -6.6l4.1 1.7zM493.6 731.2l-2.2 -6.2l4.4 -0zM525.7 715l-6.2 -2.3l2.8 -3.4zM557.7 698.7l-4.9 4.4l-1.7 -4.1zM583.3 697.4l-4.9 4.4l-1.7 -4.1zM608.9 696l-4.9 4.4l-1.7 -4.1zM631.2 696l-4.9 4.4l-1.7 -4.1zM653.6 696l-4.9 4.4l-1.7 -4.1zM675.9 696l-4.9 4.4l-1.7 -4.1zM72.5 718.4l-4.9 4.4l-1.7 -4.1zM94.8 718.4l-4.9 4.4l-1.7 -4.1zM117.2 718.4l-4.9 4.4l-1.7 -4.1zM139.5 718.4l-4.9 4.4l-1.7 -4.1zM161.9 718.4l-4.9 4.4l-1.7 -4.1zM167.3 714l-1.3 6.5l-3.8 -2.2zM172.7 709.7l4.4 4.9l-4.1 1.7zM191.6 712l5.3 3.9l-3.7 2.4zM210.6 714.3l5.9 2.8l-3.1 3.1zM235 708.7l5.2 4.1l-3.7 2.3zM259.4 703.2l4.4 4.9l-4.1 1.7zM281.7 703.2l4.4 4.9l-4.1 1.7zM304.1 703.2l4.4 4.9l-4.1 1.7zM322.1 720.2l6.5 1.3l-2.2 3.8zM340.1 737.1l4.9 -4.4l1.7 4.1zM362.2 743l3.8 -5.4l2.5 3.6zM384.4 748.9l2.8 -5.9l3.1 3.1zM406.8 748.9l2.8 -5.9l3.1 3.1zM429.1 748.9l2.8 -5.9l3.1 3.1zM461.4 753l0.3 -6.6l4.1 1.7zM493.6 757.1l-2.2 -6.2l4.4 -0zM525.7 739.1l-5.9 -2.9l3.2 -3.1zM557.7 721.1l-4.9 4.4l-1.7 -4.1zM583.3 719.7l-4.9 4.4l-1.7 -4.1zM608.9 718.4l-4.9 4.4l-1.7 -4.1zM631.2 718.4l-4.9 4.4l-1.7 -4.1zM653.6 718.4l-4.9 4.4l-1.7 -4.1zM675.9 718.4l-4.9 4.4l-1.7 -4.1zM67 753.5l-6.4 1.6l0.4 -4.4zM89.3 753.5l-6.4 1.6l0.4 -4.4zM111.7 753.5l-6.4 1.6l0.4 -4.4zM132.8 752.3l-6.3 1.9l0.2 -4.4zM153.9 751l-6.1 2.3l-0.1 -4.4zM165.3 742.9l-2.2 6.2l-3.4 -2.8zM176.7 734.7l3.6 5.5l-4.3 1zM194.6 732.9l4.6 4.7l-4 1.8zM212.6 731.1l5.2 4.1l-3.7 2.3zM236 728.3l4.8 4.5l-3.9 2zM259.4 725.6l4.4 4.9l-4.1 1.7zM279.2 732l5.3 3.9l-3.6 2.5zM298.9 738.5l6.2 2.2l-2.8 3.4zM320.9 747l6.6 -0.5l-1.2 4.2zM342.8 755.5l5.5 -3.6l1 4.3zM363.6 763.4l4 -5.2l2.4 3.7zM384.4 771.2l2.8 -5.9l3.1 3.1zM406.8 771.2l2.8 -5.9l3.1 3.1zM429.1 771.2l2.8 -5.9l3.1 3.1zM461.4 773.6l0.5 -6.6l4 1.8zM493.6 775.9l-2.2 -6.2l4.4 -0zM525.7 759.7l-6.2 -2.3l2.8 -3.4zM557.7 743.4l-4.9 4.4l-1.7 -4.1zM583.3 742.1l-4.9 4.4l-1.7 -4.1zM608.9 740.7l-4.9 4.4l-1.7 -4.1zM631.2 740.7l-4.9 4.4l-1.7 -4.1zM653.6 740.7l-4.9 4.4l-1.7 -4.1zM674.4 738.5l-4.4 4.9l-2.1 -3.9zM61.4 788.6l-5.9 -2.8l3.1 -3.1zM83.8 788.6l-5.9 -2.8l3.1 -3.1zM106.1 788.6l-5.9 -2.8l3.1 -3.1zM126 786.2l-5.9 -2.8l3.1 -3.1zM145.9 783.7l-5.9 -2.8l3.1 -3.1zM163.3 771.7l-3.8 3.4l-1.3 -3.2zM180.7 759.8l2.2 6.2l-4.4 -0zM197.7 753.9l3.7 5.4l-4.2 1.1zM214.7 747.9l4.4 4.9l-4.1 1.7zM237 747.9l4.4 4.9l-4.1 1.7zM259.4 747.9l4.4 4.9l-4.1 1.7zM276.6 760.9l6.2 2.2l-2.8 3.4zM293.8 773.8l6.2 -2.2l-0 4.4zM319.7 773.8l6.2 -2.2l-0 4.4zM345.5 773.8l6.2 -2.2l-0 4.4zM365 783.7l4.2 -5l2.2 3.8zM384.4 793.6l2.8 -5.9l3.1 3.1zM406.8 793.6l2.8 -5.9l3.1 3.1zM429.1 793.6l2.8 -5.9l3.1 3.1zM461.4 794.2l0.7 -6.5l4 1.9zM493.6 794.8l-2.2 -6.2l4.4 -0zM525.7 780.3l-6.4 -1.6l2.4 -3.7zM557.7 765.8l-4.9 4.4l-1.7 -4.1zM583.3 764.4l-4.9 4.4l-1.7 -4.1zM608.9 763.1l-4.9 4.4l-1.7 -4.1zM631.2 763.1l-4.9 4.4l-1.7 -4.1zM653.6 763.1l-4.9 4.4l-1.7 -4.1zM672.9 758.5l-3.9 5.3l-2.4 -3.7zM58 813.3l-5.3 -3.9l3.7 -2.4zM80.4 813.3l-5.3 -3.9l3.7 -2.4zM102.7 813.3l-5.3 -3.9l3.7 -2.4zM124.3 809.7l-5.6 -3.5l3.5 -2.7zM145.9 806l-5.9 -2.8l3.1 -3.1zM165 797.6l-6.5 0.8l0.9 -4.3zM184.2 789.1l-0.8 6.5l-3.9 -2zM202.1 780.9l2.6 6.1l-4.4 0.3zM220 772.7l3.5 5.6l-4.3 1zM230.6 778l5.9 3l-3.2 3zM241.2 783.2l6.6 0.5l-1.8 4zM261 789.7l6.5 -0.9l-0.9 4.3zM280.8 796.1l6.2 -2.2l-0 4.4zM304.9 796.1l6.2 -2.2l-0 4.4zM329 796.1l6.2 -2.2l-0 4.4zM351.8 801.1l5.8 -3.2l0.7 4.3zM374.7 806l5.2 -4.1l1.4 4.2zM405.1 806l4.7 -4.6l1.8 4zM435.5 806l3.7 -5.5l2.6 3.5zM471.6 806.3l-2.4 -6.1l4.4 -0.1zM507.6 806.6l-6.3 -2l2.6 -3.5zM539.6 799.4l-6.4 1.3l0.6 -4.4zM571.5 792.1l-5.9 2.9l-0.5 -4.4zM595.5 791.5l-5.9 3l-0.6 -4.4zM619.5 790.8l-5.8 3.1l-0.6 -4.4zM639.8 790.8l-5.8 3.1l-0.7 -4.3zM660.2 790.8l-5.8 3.2l-0.7 -4.3zM677.7 785.8l-5 4.2l-1.5 -4.1zM54.6 837.9l-4.4 -4.9l4.1 -1.7zM77 837.9l-4.4 -4.9l4.1 -1.7zM99.3 837.9l-4.4 -4.9l4.1 -1.7zM122.6 833.2l-5.1 -4.1l3.8 -2.3zM145.9 828.4l-5.9 -2.8l3.1 -3.1zM166.8 823.4l-6.5 -1.2l2.2 -3.8zM187.7 818.5l-6.2 2.2l-0 -4.4zM206.5 808l0.1 6.6l-4.2 -1.4zM225.4 797.5l2.2 6.2l-4.4 -0zM224.2 808l6.6 0.5l-1.8 4zM223.1 818.5l6.2 -2.2l-0 4.4zM245.4 818.5l6.2 -2.2l-0 4.4zM267.8 818.5l6.2 -2.2l-0 4.4zM290.1 818.5l6.2 -2.2l-0 4.4zM312.5 818.5l6.2 -2.2l-0 4.4zM338.7 818.5l6.2 -2.2l-0 4.4zM365 818.5l6.2 -2.2l-0 4.4zM403.4 818.5l6.2 -2.2l-0 4.4zM441.9 818.5l6.2 -2.2l-0 4.4zM481.8 818.5l-6.2 2.2l-0 -4.4zM521.6 818.5l-6.2 2.2l-0 -4.4zM553.5 818.5l-6.2 2.2l-0 -4.4zM585.3 818.5l-6.2 2.2l-0 -4.4zM607.7 818.5l-6.2 2.2l-0 -4.4zM630 818.5l-6.2 2.2l-0 -4.4zM648.5 818.5l-6.2 2.2l-0 -4.4zM666.9 818.5l-6.2 2.2l-0 -4.4zM682.6 813.1l-5.8 3.2l-0.7 -4.3zM58 858l-5.3 -3.9l3.7 -2.4zM80.4 858l-5.3 -3.9l3.7 -2.4zM102.7 858l-5.3 -3.9l3.7 -2.4zM125.6 855.6l-5.6 -3.4l3.4 -2.8zM148.4 853.2l-5.9 -2.8l3.1 -3.1zM167.5 848.3l-6.2 -2.2l2.8 -3.4zM186.7 843.3l-6.2 -0.3l1.6 -3.8zM209.7 840.5l-5.9 2.4l-0.2 -4.3zM232.8 837.8l-4.9 4.4l-1.7 -4.1zM232.7 839.3l6.4 -1.6l-0.4 4.4zM232.6 840.8l6.2 -2.2l-0 4.4zM254.9 840.8l6.2 -2.2l-0 4.4zM277.3 840.8l6.2 -2.2l-0 4.4zM300.2 838.2l6.3 -1.7l-0.3 4.4zM323 835.5l6.5 -1.3l-0.6 4.4zM353.8 832.9l6.6 -0.4l-1.2 4.2zM384.6 830.3l6.5 1l-2.1 3.9zM417 830.7l5.9 3l-3.2 3zM449.4 831.1l1.9 6.3l-4.4 -0.2zM485 833.3l-4.4 4.9l-2.1 -3.9zM520.5 835.5l-5.7 3.4l-0.9 -4.3zM550.2 841.9l-6.3 2l0.1 -4.4zM579.9 848.4l-6.5 1.1l0.8 -4.3zM600.2 851.5l-6.6 0.5l1.1 -4.2zM620.4 854.7l-6.6 -0.1l1.5 -4.1zM636.5 854.2l-6.6 -0.4l1.7 -4zM652.7 853.8l-6.5 -0.9l2 -3.9zM671.7 851.1l-6.5 -0.7l1.9 -4zM61.4 878l-5.9 -2.8l3.1 -3.1zM83.8 878l-5.9 -2.8l3.1 -3.1zM106.1 878l-5.9 -2.8l3.1 -3.1zM128.5 878l-5.9 -2.8l3.1 -3.1zM150.8 878l-5.9 -2.8l3.1 -3.1zM168.2 873.1l-5.9 -2.8l3.1 -3.1zM185.6 868.1l-5.9 -2.8l3.1 -3.1zM212.9 873.1l-5.9 -2.8l3.1 -3.1zM240.2 878l-5.9 -2.8l3.1 -3.1zM241.2 870.6l2.5 -6.1l3.3 2.9zM242.1 863.2l6.2 -2.2l-0 4.4zM264.4 863.2l6.2 -2.2l-0 4.4zM286.8 863.2l6.2 -2.2l-0 4.4zM310.2 857.8l6.5 -0.9l-0.9 4.3zM333.6 852.5l6.6 0.3l-1.7 4.1zM368.9 847.3l5.6 3.4l-3.4 2.8zM404.2 842.2l2.2 6.2l-4.4 -0zM430.6 843l0.9 6.5l-4.3 -0.9zM456.9 843.8l-0.3 6.6l-4.1 -1.7zM488.2 848.1l-3.2 5.8l-2.9 -3.3zM519.5 852.5l-4.9 4.4l-1.7 -4.1zM547 865.3l-6.3 1.8l0.3 -4.4zM574.5 878.2l-6.6 -0.3l1.7 -4.1zM592.6 884.6l-6.4 -1.6l2.4 -3.7zM610.7 890.9l-5.9 -2.8l3.1 -3.1zM624.6 890l-5.4 -3.8l3.6 -2.6zM638.4 889.1l-4.4 -4.9l4.1 -1.7zM660.8 889.1l-4.4 -4.9l4.1 -1.7zM61.4 900.4l-5.9 -2.8l3.1 -3.1zM83.8 900.4l-5.9 -2.8l3.1 -3.1zM106.1 900.4l-5.9 -2.8l3.1 -3.1zM128.5 900.4l-5.9 -2.8l3.1 -3.1zM150.8 900.4l-5.9 -2.8l3.1 -3.1zM168.8 894.2l-6.2 -2.3l2.8 -3.4zM186.7 888l-6.2 -0.3l1.6 -3.8zM211.5 890.5l-6.5 -1.2l2.2 -3.8zM236.3 893l-6.4 -1.7l2.5 -3.6zM239.2 889.3l4.8 -4.5l1.8 4zM242.1 885.5l6.2 -2.2l-0 4.4zM264.4 885.5l6.2 -2.2l-0 4.4zM286.8 885.5l6.2 -2.2l-0 4.4zM311.7 877.9l6.6 -0.3l-1.3 4.2zM336.7 870.3l6.4 1.6l-2.4 3.7zM365.5 867.7l5.8 3.1l-3.2 3zM394.3 865.2l4.7 4.6l-4 1.9zM418.7 865.6l4.3 5l-4.1 1.6zM443 865.9l3.9 5.3l-4.2 1.3zM474.8 867.8l0.9 6.5l-4.3 -0.9zM506.5 869.7l-2.2 6.2l-3.4 -2.8zM538.4 888.3l-6.4 1.4l0.5 -4.4zM570.3 906.9l-6.4 -1.6l2.4 -3.7zM590.5 910.1l-6.2 -2.2l2.8 -3.4zM610.7 913.3l-5.9 -2.8l3.1 -3.1zM628.8 912.8l-5.7 -3.3l3.3 -2.9zM646.9 912.3l-5.4 -3.8l3.6 -2.6zM669.3 912.3l-5.4 -3.8l3.6 -2.6zM61.4 922.7l-5.9 -2.8l3.1 -3.1zM83.8 922.7l-5.9 -2.8l3.1 -3.1zM106.1 922.7l-5.9 -2.8l3.1 -3.1zM128.5 922.7l-5.9 -2.8l3.1 -3.1zM150.8 922.7l-5.9 -2.8l3.1 -3.1zM169.3 915.3l-6.4 -1.7l2.5 -3.6zM187.7 907.9l-6.2 2.2l-0 -4.4zM210 907.9l-6.2 2.2l-0 -4.4zM232.4 907.9l-6.2 2.2l-0 -4.4zM237.2 907.9l6.2 -2.2l-0 4.4zM242.1 907.9l6.2 -2.2l-0 4.4zM264.4 907.9l6.2 -2.2l-0 4.4zM286.8 907.9l6.2 -2.2l-0 4.4zM313.3 898l6.6 0.3l-1.7 4.1zM339.7 888.1l5.9 2.8l-3.1 3.1zM362.1 888.1l5.9 2.8l-3.1 3.1zM384.4 888.1l5.9 2.8l-3.1 3.1zM406.8 888.1l5.9 2.8l-3.1 3.1zM429.1 888.1l5.9 2.8l-3.1 3.1zM461.4 887.5l4.7 4.6l-4 1.9zM493.6 886.9l2.2 6.2l-4.4 -0zM529.8 911.3l-6.5 0.7l1 -4.3zM566 935.6l-5.9 -2.8l3.1 -3.1zM588.4 935.6l-5.9 -2.8l3.1 -3.1zM610.7 935.6l-5.9 -2.8l3.1 -3.1zM633.1 935.6l-5.9 -2.8l3.1 -3.1zM655.4 935.6l-5.9 -2.8l3.1 -3.1zM677.8 935.6l-5.9 -2.8l3.1 -3.1zM63.7 941.7l-6.4 -1.6l2.4 -3.7zM86.1 941.7l-6.4 -1.6l2.4 -3.7zM108.4 941.7l-6.4 -1.6l2.4 -3.7zM130.8 941.7l-6.4 -1.6l2.4 -3.7zM153.1 941.7l-6.4 -1.6l2.4 -3.7zM170.4 936l-6.5 -0.7l1.9 -4zM187.7 930.2l-6.2 2.2l-0 -4.4zM218.4 930.2l6.2 -2.2l-0 4.4zM230.2 930.2l6.2 -2.2l-0 4.4zM242.1 930.2l6.2 -2.2l-0 4.4zM264.4 930.2l6.2 -2.2l-0 4.4zM286.8 930.2l6.2 -2.2l-0 4.4zM314.5 921.6l6.6 0.2l-1.6 4.1zM342.2 912.9l5.9 2.8l-3.1 3.1zM364.5 912.9l5.9 2.8l-3.1 3.1zM386.9 912.9l5.9 2.8l-3.1 3.1zM410.9 911.8l5.7 3.3l-3.4 2.8zM435 910.6l5.4 3.8l-3.6 2.5zM464.3 909.9l4.1 5.2l-4.2 1.4zM493.6 909.2l2.2 6.2l-4.4 -0zM522.9 921.4l-2.1 6.2l-3.5 -2.7zM552.2 933.6l-6.5 0.7l1 -4.3zM581 941.5l-6.5 -1.1l2.1 -3.8zM609.8 949.5l-6.3 -1.8l2.6 -3.6zM630.6 951.7l-6.1 -2.3l2.8 -3.4zM651.5 954l-5.9 -2.8l3.1 -3.1zM673.8 954l-5.9 -2.8l3.1 -3.1zM66 960.6l-6.6 -0.3l1.7 -4.1zM88.4 960.6l-6.6 -0.3l1.7 -4.1zM110.7 960.6l-6.6 -0.3l1.7 -4.1zM133.1 960.6l-6.6 -0.3l1.7 -4.1zM155.4 960.6l-6.6 -0.3l1.7 -4.1zM171.6 956.6l-6.6 0.3l1.3 -4.2zM187.7 952.6l-6.2 2.2l-0 -4.4zM196 952.6l6.2 -2.2l-0 4.4zM204.4 952.6l6.2 -2.2l-0 4.4zM223.2 952.6l6.2 -2.2l-0 4.4zM242.1 952.6l6.2 -2.2l-0 4.4zM264.4 952.6l6.2 -2.2l-0 4.4zM286.8 952.6l6.2 -2.2l-0 4.4zM315.7 945.2l6.6 -0l-1.4 4.2zM344.7 937.8l5.9 2.8l-3.1 3.1zM367 937.8l5.9 2.8l-3.1 3.1zM389.4 937.8l5.9 2.8l-3.1 3.1zM415.1 935.5l5.3 3.9l-3.7 2.4zM440.9 933.2l4.4 4.9l-4.1 1.7zM467.2 932.4l3.4 5.7l-4.3 0.9zM493.6 931.6l2.2 6.2l-4.4 -0zM515.9 931.6l2.2 6.2l-4.4 -0zM538.3 931.6l2.2 6.2l-4.4 -0zM573.6 947.5l-4.9 4.3l-1.6 -4.1zM608.9 963.3l-6.6 -0.3l1.7 -4.1zM628.2 967.9l-6.4 -1.6l2.4 -3.7zM647.5 972.4l-5.9 -2.8l3.1 -3.1zM669.8 972.4l-5.9 -2.8l3.1 -3.1z"/>
<path stroke="#000" stroke-width="5.6" stroke-linecap="round" d="M203 729.1h0M225.4 729.1h0M247.7 729.1h0M359.5 729.1h0M381.9 729.1h0M404.2 729.1h0M426.6 729.1h0M538.3 729.1h0M560.6 729.1h0M583 729.1h0M605.4 729.1h0M627.7 729.1h0M650 729.1h0M359.5 751.4h0M359.5 773.8h0M359.5 796.1h0M381.9 840.8h0M404.2 840.8h0M426.6 840.8h0M560.6 840.8h0M583 840.8h0M605.4 840.8h0M627.7 840.8h0M650 840.8h0M381.9 863.2h0M404.2 863.2h0M426.6 863.2h0M560.6 863.2h0M583 863.2h0M605.4 863.2h0M627.7 863.2h0M650 863.2h0M381.9 885.5h0M404.2 885.5h0M426.6 885.5h0M560.6 885.5h0M583 885.5h0M605.4 885.5h0M627.7 885.5h0M650 885.5h0M180.7 907.9h0M359.5 907.9h0M381.9 907.9h0M404.2 907.9h0M426.6 907.9h0M448.9 907.9h0M471.2 907.9h0M493.6 907.9h0M515.9 907.9h0M538.3 907.9h0M560.6 907.9h0M583 907.9h0M605.4 907.9h0M627.7 907.9h0M359.5 930.2h0M381.9 930.2h0M404.2 930.2h0M426.6 930.2h0M448.9 930.2h0M471.2 930.2h0M493.6 930.2h0M515.9 930.2h0M538.3 930.2h0M560.6 930.2h0M583 930.2h0M605.4 930.2h0M627.7 930.2h0M359.5 952.6h0M381.9 952.6h0M404.2 952.6h0M426.6 952.6h0M448.9 952.6h0M471.2 952.6h0M493.6 952.6h0M515.9 952.6h0M538.3 952.6h0M560.6 952.6h0M583 952.6h0M605.4 952.6h0M627.7 952.6h0"/>
<rect x="386.3" y="773.8" width="125.2" height="107.3" fill="none" stroke="#e3211c" stroke-width="2"/>
</g>
<rect x="46.6" y="684.4" width="612.4" height="268.2" fill="none" stroke="#000" stroke-width="1.3"/>
<line x1="43.1" y1="729.1" x2="46.6" y2="729.1" stroke="#000" stroke-width="1"/>
<text x="39.6" y="736.4" text-anchor="end" class="tk">5</text>
<line x1="43.1" y1="773.8" x2="46.6" y2="773.8" stroke="#000" stroke-width="1"/>
<text x="39.6" y="781.1" text-anchor="end" class="tk">0</text>
<line x1="43.1" y1="818.5" x2="46.6" y2="818.5" stroke="#000" stroke-width="1"/>
<text x="39.6" y="825.8" text-anchor="end" class="tk">-5</text>
<line x1="43.1" y1="863.2" x2="46.6" y2="863.2" stroke="#000" stroke-width="1"/>
<text x="39.6" y="870.5" text-anchor="end" class="tk">-10</text>
<line x1="43.1" y1="907.9" x2="46.6" y2="907.9" stroke="#000" stroke-width="1"/>
<text x="39.6" y="915.2" text-anchor="end" class="tk">-15</text>
<line x1="43.1" y1="952.6" x2="46.6" y2="952.6" stroke="#000" stroke-width="1"/>
<text x="39.6" y="959.9" text-anchor="end" class="tk">-20</text>
<line x1="46.6" y1="952.6" x2="46.6" y2="956.1" stroke="#000" stroke-width="1"/>
<text x="46.6" y="975.2" text-anchor="middle" class="tk">-10</text>
<line x1="136.0" y1="952.6" x2="136.0" y2="956.1" stroke="#000" stroke-width="1"/>
<text x="136.0" y="975.2" text-anchor="middle" class="tk">0</text>
<line x1="225.4" y1="952.6" x2="225.4" y2="956.1" stroke="#000" stroke-width="1"/>
<text x="225.4" y="975.2" text-anchor="middle" class="tk">10</text>
<line x1="314.8" y1="952.6" x2="314.8" y2="956.1" stroke="#000" stroke-width="1"/>
<text x="314.8" y="975.2" text-anchor="middle" class="tk">20</text>
<line x1="404.2" y1="952.6" x2="404.2" y2="956.1" stroke="#000" stroke-width="1"/>
<text x="404.2" y="975.2" text-anchor="middle" class="tk">30</text>
<line x1="493.6" y1="952.6" x2="493.6" y2="956.1" stroke="#000" stroke-width="1"/>
<text x="493.6" y="975.2" text-anchor="middle" class="tk">40</text>
<line x1="583.0" y1="952.6" x2="583.0" y2="956.1" stroke="#000" stroke-width="1"/>
<text x="583.0" y="975.2" text-anchor="middle" class="tk">50</text>
<text x="48.1" y="678.0" class="tt">(G)_Day +4</text>
<clipPath id="cH"><rect x="706.6" y="684.6" width="612.4" height="268.2"/></clipPath>
<g clip-path="url(#cH)">
<rect x="706.6" y="684.6" width="612.4" height="268.2" fill="#97ff60"/>
<path fill="#0020ff" stroke="#0020ff" stroke-width="0.6" d="M1123.8 723.2l11 0.5l1.7 3.8l-1.7 7.1l-11 0.4l-2.6 -7.5z"/>
<path fill="#0060ff" stroke="#0060ff" stroke-width="0.6" d="M1123.8 712.3l11 -0.5l5.4 5l3.2 10.7l-1.4 10.7l-7.2 8.5l-11 -0.8l-8.3 -7.7l-2.7 -9.7l-0.2 -1l0.2 -0.7l4.6 -10zM1121.2 727.5l2.6 7.5l11 -0.4l1.7 -7.1l-1.7 -3.8l-11 -0.5z"/>
<path fill="#00a0ff" stroke="#00a0ff" stroke-width="0.6" d="M1123.8 704.2l11 -1.7l8.8 3.6l2.2 1.8l4.3 8.9l0.6 10.7l-0.2 10.7l-3 10.8l-1.7 1.8l-11 5.2l-11 -1.2l-10.1 -5.8l-0.9 -0.8l-6.7 -10l-1.8 -10.7l2 -10.7l6.5 -6.7l6.8 -4zM1117.4 716.8l-4.6 10l-0.2 0.7l0.2 1l2.7 9.7l8.3 7.7l11 0.8l7.2 -8.5l1.4 -10.7l-3.2 -10.7l-5.4 -5l-11 0.5zM1123.8 831l11 -1.9l7 5.7l4 5.7l1.8 5l-0.9 10.7l-0.9 5.6l-1.2 5.2l-0.2 10.7l-3.1 10.7l-6.5 7.2l-5.8 3.6l-5.2 2l-11 0.1l-5.5 -2.1l-4.3 -10.8l3.6 -10.7l6.2 -8l3 -2.7l2.2 -10.8l-2.3 -10.7l4.4 -10.7z"/>
<path fill="#00e0fb" stroke="#00e0fb" stroke-width="0.6" d="M1134.8 690.8l11 0.1l6.6 4.4l4.3 3.4l7.3 7.4l0.4 10.7l-3.4 10.7l2.2 10.7l2.2 10.8l-7.8 10.7l-0.9 0.7l-10.9 6.3l-11 0.4l-11 -1.7l-11 -3.2l-7.1 -2.5l-3.9 -2.5l-4.8 -8.2l-2.2 -10.8l-1.3 -10.7l-0.3 -10.7l6.7 -10.7l1.9 -1l11 -4.9l11 -4.5l1.5 -0.4zM1119.6 706.1l-6.8 4l-6.5 6.7l-2 10.7l1.8 10.7l6.7 10l0.9 0.8l10.1 5.8l11 1.2l11 -5.2l1.7 -1.8l3 -10.8l0.2 -10.7l-0.6 -10.7l-4.3 -8.9l-2.2 -1.8l-8.8 -3.6l-11 1.7zM1123.8 810.5l11 -1.5l5.6 4.3l5.4 4.5l3.5 6.3l7 10.7l0.4 1.1l3.2 9.6l2.1 10.7l4.2 10.8l1.5 6.5l0.8 4.2l-0.8 1.6l-4.6 9.1l-6.4 6.7l-3.3 4.1l-7.6 7.6l-3.6 3.1l-7.4 7.1l-11 3l-11 -2.7l-11 1.3l-7.3 2l-3.6 1l-2.7 -1l-8.3 -4.6l-4.3 -6.1l4.3 -10.6l0.1 -0.1l10.9 -8l1.3 -2.8l2 -10.7l2 -10.7l5.2 -10.8l0.4 -1.8l1.4 -8.9l3.1 -10.7l6.5 -10.7l0 -0.2l8.7 -10.6zM1120.1 834.8l-4.4 10.7l2.3 10.7l-2.2 10.8l-3 2.7l-6.2 8l-3.6 10.7l4.3 10.8l5.5 2.1l11 -0.1l5.2 -2l5.8 -3.6l6.5 -7.2l3.1 -10.7l0.2 -10.7l1.2 -5.2l0.9 -5.6l0.9 -10.7l-1.8 -5l-4 -5.7l-7 -5.7l-11 1.9zM711 899.2l6.6 7.3l2.5 3.4l-0.1 10.7l-0.4 10.7l9 10.5l0.2 0.3l10.7 8.9l1.8 1.8l-1.8 0l-10.9 0l-11 0l-11 0l0 -10.7l0 -10.8l0 -10.7l0 -10.7l0 -10.7l0 -3.8zM1003 914.7l11 1.8l11 1.3l11 -1.3l10.7 4.1l0.2 0.2l6.8 10.5l4.2 5.1l6.9 5.7l4.1 3.4l5.9 7.3l-5.9 0l-11 0l-11 0l-10.9 0l-11 0l-11 0l-11 0l-10.9 0l-1.6 0l-0.9 -10.7l0.6 -10.8l1.9 -4.9l4.5 -5.8z"/>
<path fill="#30ffc7" stroke="#30ffc7" stroke-width="0.6" d="M1090.9 693.8l10.9 -1.5l11 -2.8l8 -4.9l3 0l11 0l11 0l10.9 0l7.5 0l3.5 3.6l8.2 7.1l2.8 2.8l6.9 8l1.5 10.7l-0.6 10.7l0.1 10.7l-0.4 10.8l-5.6 10.7l-1.9 1.4l-11 8.5l-0.9 0.8l-4.5 10.8l1.4 10.7l0.2 10.7l-1.8 10.7l1.8 10.8l3.1 10.7l0.7 2.4l3.9 8.3l7.1 9.7l1.4 1l7 10.8l0.6 10.7l-3.3 10.7l-5.7 5.7l-5.6 5.1l-5.4 4.5l-6.3 6.2l-4.7 4.6l-5.8 6.1l-5.1 6.1l-4.2 4.6l-6.8 6.7l-6.6 4.1l-4.4 4.7l-3.5 6l-7.5 0l-11 0l-10.9 0l-11 0l-5.1 0l-5.9 -7.3l-4.1 -3.4l-6.9 -5.7l-4.2 -5.1l-6.8 -10.5l-0.2 -0.2l-10.7 -4.1l-11 1.3l-11 -1.3l-11 -1.8l-6.4 5.9l-4.5 5.8l-1.9 4.9l-0.6 10.8l0.9 10.7l-9.4 0l-1 0l-1.2 -10.7l0.9 -10.8l1.3 -2.5l3.2 -8.2l5.2 -10.7l2.6 -6.3l4.5 -4.4l6.4 -5.2l11 1l11 4.1l0.6 0.1l10.4 1l4.5 -1l6.4 -3.1l4.3 -7.7l5.7 -10.7l1 -0.8l11 -3.5l6.3 -6.4l4.7 -7.6l1.7 -3.2l9.3 -9.1l0.8 -1.6l3.5 -10.7l3.1 -10.7l3.3 -10.8l-1.6 -10.7l-4.3 -10.7l-4.8 -4.4l-10.8 -6.3l-0.2 -0.2l-4.8 -10.6l0.5 -10.7l1.6 -10.7l0.2 -10.8l-2.1 -10.7l-2.6 -10.7l3.1 -10.7l4.1 -4.2l8.7 -6.6zM1125.3 695.3l-1.5 0.4l-11 4.5l-11 4.9l-1.9 1l-6.7 10.7l0.3 10.7l1.3 10.7l2.2 10.8l4.8 8.2l3.9 2.5l7.1 2.5l11 3.2l11 1.7l11 -0.4l10.9 -6.3l0.9 -0.7l7.8 -10.7l-2.2 -10.8l-2.2 -10.7l3.4 -10.7l-0.4 -10.7l-7.3 -7.4l-4.3 -3.4l-6.6 -4.4l-11 -0.1zM1121.5 813.3l-8.7 10.6l0 0.2l-6.5 10.7l-3.1 10.7l-1.4 8.9l-0.4 1.8l-5.2 10.8l-2 10.7l-2 10.7l-1.3 2.8l-10.9 8l-0.1 0.1l-4.3 10.6l4.3 6.1l8.3 4.6l2.7 1l3.6 -1l7.3 -2l11 -1.3l11 2.7l11 -3l7.4 -7.1l3.6 -3.1l7.6 -7.6l3.3 -4.1l6.4 -6.7l4.6 -9.1l0.8 -1.6l-0.8 -4.2l-1.5 -6.5l-4.2 -10.8l-2.1 -10.7l-3.2 -9.6l-0.4 -1.1l-7 -10.7l-3.5 -6.3l-5.4 -4.5l-5.6 -4.3l-11 1.5zM805.4 724.1l11 -7.3l11 3.3l3.3 7.4l-2.1 10.7l-1.2 1.4l-11 2.9l-6 -4.3l-5 -7.5l-1.5 -3.2zM893.2 785.5l11 -3.6l11 7.9l1.9 2.1l6.8 10.7l-6.5 10.7l-2.2 0.3l-1.1 -0.3l-9.9 -4.2l-6.3 -6.5l-4.7 -8.5l-1.2 -2.2zM709.8 877.7l7.8 7.2l2.4 3.5l8.6 7.8l5.1 3l5.7 10.7l-1.4 10.7l1.5 9.3l0.4 1.4l10.6 9.5l1.6 1.3l9.4 8.5l1.9 2.2l-1.9 0l-11 0l-9.2 0l-1.8 -1.8l-10.7 -8.9l-0.2 -0.3l-9 -10.5l0.4 -10.7l0.1 -10.7l-2.5 -3.4l-6.6 -7.3l-4.4 -3.8l0 -7l0 -10.7l0 -2.3z"/>
<path fill="#63ff94" stroke="#63ff94" stroke-width="0.6" d="M761.5 690.8l1.5 -6.2l9.5 0l11 0l10.9 0l11 0l11 0l11 0l3.6 0l7.3 9.3l1.5 1.4l9.5 7.5l3.3 3.3l7.7 8.7l2.8 2l8.2 5.3l5.3 5.4l1 10.7l-2.8 10.8l-3.5 10l-0.7 0.7l-10.3 3.4l-11 0.7l-11 1.3l-10.9 0.9l-11 -3.9l-2.5 -2.4l-8.5 -7.5l-2.6 -3.2l-8.4 -9.5l-1.2 -1.3l-8.9 -10.7l-0.8 -0.9l-11 -7.7l-2.7 -2.1l-8.3 -9.6l-0.8 -1.1l-0.4 -10.8zM803.9 727.5l1.5 3.2l5 7.5l6 4.3l11 -2.9l1.2 -1.4l2.1 -10.7l-3.3 -7.4l-11 -3.3l-11 7.3zM1068.9 691.8l6.3 -7.2l4.7 0l11 0l10.9 0l11 0l8 0l-8 4.9l-11 2.8l-10.9 1.5l-2.3 1.5l-8.7 6.6l-4.1 4.2l-3.1 10.7l2.6 10.7l2.1 10.7l-0.2 10.8l-1.6 10.7l-0.5 10.7l4.8 10.6l0.2 0.2l10.8 6.3l4.8 4.4l4.3 10.7l1.6 10.7l-3.3 10.8l-3.1 10.7l-3.5 10.7l-0.8 1.6l-9.3 9.1l-1.7 3.2l-4.7 7.6l-6.3 6.4l-11 3.5l-1 0.8l-5.7 10.7l-4.3 7.7l-6.4 3.1l-4.5 1l-10.4 -1l-0.6 -0.1l-11 -4.1l-11 -1l-6.4 5.2l-4.5 4.4l-2.6 6.3l-5.2 10.7l-3.2 8.2l-1.3 2.5l-0.9 10.8l1.2 10.7l-10 0l-4.3 0l-2.8 -10.7l2.1 -10.8l5 -4.3l3.4 -6.4l5.7 -10.7l1.9 -8.9l0.4 -1.8l2 -10.8l8.6 -9.7l2.7 -1l8.2 -2.8l11 0.6l11 -2.3l3.9 -6.2l7 -10.8l0.1 -0.1l10.9 -7.4l3.4 -3.2l3 -10.7l0.9 -10.7l0.7 -10.8l0 -10.7l-2.6 -10.7l-5.4 -5.4l-10.9 -3.4l-3.4 -1.9l-2.6 -10.8l-0.2 -10.7l1.8 -10.7l4.4 -5.1l10.9 -4.7l1.6 -1l6 -10.7l-1 -10.7l-0.2 -10.7l4.6 -5.7l5.7 -5.1zM1167.7 684.6l11 0l11 0l11 0l10.9 0l11 0l11 0l11 0l10.9 0l11 0l11 0l11 0l10.3 0l-1.6 10.7l-8.7 3.4l-10.7 7.4l-0.3 0.1l-11 5.9l-11 3.1l-7.7 1.6l-3.2 0.8l-10.3 9.9l-0.5 10.7l0.4 10.8l-0.6 1.9l-6.3 8.8l-4.7 2.4l-11 7.1l-0.8 1.2l-2.3 10.8l0.5 10.7l0 10.7l-0.2 10.7l2.8 8.8l1 2l10 6.2l11 -0.3l11 0.2l5.6 4.6l5.3 9.2l0.9 1.5l10.1 7.7l4.5 3l6.5 8.5l1.4 2.3l9.6 8.4l3.2 2.3l7.8 9.1l1.1 1.6l9.8 8.8l11 1l11 -1.1l0 2.1l0 10.7l0 10.7l0 10.7l0 10.8l0 10.7l-11 0l-11 0l-10.9 0l-11 0l-11 0l-11 0l-11 0l-10.9 0l-11 0l-11 0l-11 0l-10.9 0l-11 0l-11 0l-11 0l-11 0l-10.9 0l-11 0l-11 0l-3.5 0l3.5 -6l4.4 -4.7l6.6 -4.1l6.8 -6.7l4.2 -4.6l5.1 -6.1l5.8 -6.1l4.7 -4.6l6.3 -6.2l5.4 -4.5l5.6 -5.1l5.7 -5.7l3.3 -10.7l-0.6 -10.7l-7 -10.8l-1.4 -1l-7.1 -9.7l-3.9 -8.3l-0.7 -2.4l-3.1 -10.7l-1.8 -10.8l1.8 -10.7l-0.2 -10.7l-1.4 -10.7l4.5 -10.8l0.9 -0.8l11 -8.5l1.9 -1.4l5.6 -10.7l0.4 -10.8l-0.1 -10.7l0.6 -10.7l-1.5 -10.7l-6.9 -8l-2.8 -2.8l-8.2 -7.1l-3.5 -3.6zM904.2 759.5l0.5 0.2l10.5 9.7l0.7 1l9.2 10.8l1.1 1.2l11 6l10.9 -1.7l11 -1.9l11 -0.2l11 -0.1l11 -0.4l10.9 0.2l11 0.7l11 2.2l3.1 4.7l2.3 10.7l1.2 10.7l-3.5 10.8l-3.1 3.2l-11 1.1l-3 -4.3l-7 -10.8l-1 -1l-10.9 -2.7l-3.5 3.7l-7.5 7.9l-5.5 2.9l-5.5 1.2l-11 -1.2l-0.5 0l-10.5 -2l-10.9 -0.3l-11 1.3l-6.9 1l-4.1 0.4l-5.6 -0.4l-5.4 -0.7l-11 -7.9l-2.6 -2.2l-8.3 -8l-4.5 -2.7l-3.3 -10.7l-0.2 -10.7l1 -10.8l7 -6l10.9 -2.9l9.7 -1.8zM892 791.9l1.2 2.2l4.7 8.5l6.3 6.5l9.9 4.2l1.1 0.3l2.2 -0.3l6.5 -10.7l-6.8 -10.7l-1.9 -2.1l-11 -7.9l-11 3.6zM717.6 847.4l11 1.4l8.3 7.4l2.6 3.8l4.8 7l6.2 5.7l6.1 5l4.9 4.3l4.9 6.4l0.4 10.8l-3.6 10.7l-1.7 8.1l-0.7 2.6l0.7 1.7l2.9 9l8.1 8.5l1.3 2.3l6.1 10.7l-7.4 0l-9.1 0l-1.9 -2.2l-9.4 -8.5l-1.6 -1.3l-10.6 -9.5l-0.4 -1.4l-1.5 -9.3l1.4 -10.7l-5.7 -10.7l-5.1 -3l-8.6 -7.8l-2.4 -3.5l-7.8 -7.2l-3.2 -2.3l0 -8.4l0 -10.8l0 -5.7z"/>
<path fill="#97ff60" stroke="#97ff60" stroke-width="0.6" d="M717.6 684.6l11 0l10.9 0l11 0l11 0l1.5 0l-1.5 6.2l-1.2 4.5l0.4 10.8l0.8 1.1l8.3 9.6l2.7 2.1l11 7.7l0.8 0.9l8.9 10.7l1.2 1.3l8.4 9.5l2.6 3.2l8.5 7.5l2.5 2.4l11 3.9l10.9 -0.9l11 -1.3l11 -0.7l10.3 -3.4l0.7 -0.7l3.5 -10l2.8 -10.8l-1 -10.7l-5.3 -5.4l-8.2 -5.3l-2.8 -2l-7.7 -8.7l-3.3 -3.3l-9.5 -7.5l-1.5 -1.4l-7.3 -9.3l7.3 0l11 0l2.1 0l8.9 9.9l0.6 0.8l10.4 10.2l0.7 0.6l10.3 7l3.8 3.7l4.4 10.7l2.7 10.7l0 0.2l11 6.9l10.4 3.7l0.6 0.3l11 8.7l4.9 1.7l6.1 3.4l10.9 -1.9l11 0.5l11 1.8l10.2 -3.8l0.8 -0.4l6.1 -10.3l4.9 -5.9l5.1 -4.9l5.8 -5l5.6 -5.7l5.4 -5.2l9.1 -5.5l1.9 -2l5.8 -8.7l-0.3 -10.8l-1.5 -10.7l7 0l10.9 0l11 0l11 0l6.3 0l-6.3 7.2l-5.3 3.5l-5.7 5.1l-4.6 5.7l0.2 10.7l1 10.7l-6 10.7l-1.6 1l-10.9 4.7l-4.4 5.1l-1.8 10.7l0.2 10.7l2.6 10.8l3.4 1.9l10.9 3.4l5.4 5.4l2.6 10.7l0 10.7l-0.7 10.8l-0.9 10.7l-3 10.7l-3.4 3.2l-10.9 7.4l-0.1 0.1l-7 10.8l-3.9 6.2l-11 2.3l-11 -0.6l-8.2 2.8l-2.7 1l-8.6 9.7l-2 10.8l-0.4 1.8l-1.9 8.9l-5.7 10.7l-3.4 6.4l-5 4.3l-2.1 10.8l2.8 10.7l-6.7 0l-11 0l-7.4 0l-0.5 -10.7l0.5 -10.8l7.4 -10.1l1 -0.6l10 -3.9l7.3 -6.8l0.4 -10.7l-3.5 -10.8l6.3 -10.7l0.5 -0.4l10.8 -10.3l0.2 -0.4l5.8 -10.4l-0.5 -10.7l-5.3 -7l-5.9 -3.7l-5.1 -1.2l-11 -2.5l-11 -1.7l-10.9 -0.3l-11 1.2l-11 2.6l-7.8 1.9l-3.2 1.2l-11 0.1l-3.8 -1.3l-7.1 -4.7l-11 -4.2l-11 -1.6l-1 -0.2l-10 -5.9l-2.8 -4.9l2.2 -10.7l0.6 -2.3l3.6 -8.4l-3.6 -7l-11 -2l-10.9 -0.4l-5.5 -1.3l-5.5 -1.6l-11 -6.6l-4.1 -2.6l-6.9 -7.8l-2.7 -2.9l-8.2 -10.3l-0.4 -0.4l-10.6 -10.3l-0.5 -0.5l-10.5 -8.9l-1.7 -1.8l-9.3 -8.8l-1.9 -1.9l-9.1 -10.5l-0.2 -0.2l-10.7 -9.2l-1.6 -1.6l-9.4 -10.3l-0.4 -0.4zM902.9 759.7l-9.7 1.8l-10.9 2.9l-7 6l-1 10.8l0.2 10.7l3.3 10.7l4.5 2.7l8.3 8l2.6 2.2l11 7.9l5.4 0.7l5.6 0.4l4.1 -0.4l6.9 -1l11 -1.3l10.9 0.3l10.5 2l0.5 0l11 1.2l5.5 -1.2l5.5 -2.9l7.5 -7.9l3.5 -3.7l10.9 2.7l1 1l7 10.8l3 4.3l11 -1.1l3.1 -3.2l3.5 -10.8l-1.2 -10.7l-2.3 -10.7l-3.1 -4.7l-11 -2.2l-11 -0.7l-10.9 -0.2l-11 0.4l-11 0.1l-11 0.2l-11 1.9l-10.9 1.7l-11 -6l-1.1 -1.2l-9.2 -10.8l-0.7 -1l-10.5 -9.7l-0.5 -0.2zM1299.5 684.6l10.9 0l11 0l11 0l0 10.7l0 10.8l0 4.4l-11 0.1l-11 0l-10.9 -0.3l-11 1.4l-10.3 5.1l-0.7 0.4l-11 5.8l-10.8 4.5l-0.2 0.3l-5.4 10.4l2.5 10.8l2.9 9.3l0.5 1.4l0.5 10.7l-1 5.8l-0.9 5l-1.2 10.7l2.1 6.4l2.6 4.3l8.4 5l8.8 5.7l2.2 3.3l3.5 7.5l7.5 6.4l4.5 4.3l6.5 7.4l4.2 3.3l6.7 4.7l11 0.7l11 -0.8l0 6.1l0 10.8l0 10.7l0 10.7l0 8.7l-11 1.1l-11 -1l-9.8 -8.8l-1.1 -1.6l-7.8 -9.1l-3.2 -2.3l-9.6 -8.4l-1.4 -2.3l-6.5 -8.5l-4.5 -3l-10.1 -7.7l-0.9 -1.5l-5.3 -9.2l-5.6 -4.6l-11 -0.2l-11 0.3l-10 -6.2l-1 -2l-2.8 -8.8l0.2 -10.7l0 -10.7l-0.5 -10.7l2.3 -10.8l0.8 -1.2l11 -7.1l4.7 -2.4l6.3 -8.8l0.6 -1.9l-0.4 -10.8l0.5 -10.7l10.3 -9.9l3.2 -0.8l7.7 -1.6l11 -3.1l11 -5.9l0.3 -0.1l10.7 -7.4l8.7 -3.4l1.6 -10.7zM717.6 834.3l6.4 0.5l4.6 0.4l10.9 5.6l5.9 4.7l5.1 6.2l4.2 4.5l6.8 8l2.7 2.8l8.3 6.8l3.9 3.9l4.2 10.7l0.4 10.8l-1.3 10.7l-1.3 10.7l2 10.7l3.1 5.2l2.6 5.6l4.8 10.7l-7.4 0l-3.6 0l-6.1 -10.7l-1.3 -2.3l-8.1 -8.5l-2.9 -9l-0.7 -1.7l0.7 -2.6l1.7 -8.1l3.6 -10.7l-0.4 -10.8l-4.9 -6.4l-4.9 -4.3l-6.1 -5l-6.2 -5.7l-4.8 -7l-2.6 -3.8l-8.3 -7.4l-11 -1.4l-11 3.1l0 -5l0 -10.5l2.6 -0.2z"/>
<path fill="#caff2c" stroke="#caff2c" stroke-width="0.6" d="M717.6 685l9.4 10.3l1.6 1.6l10.7 9.2l0.2 0.2l9.1 10.5l1.9 1.9l9.3 8.8l1.7 1.8l10.5 8.9l0.5 0.5l10.6 10.3l0.4 0.4l8.2 10.3l2.7 2.9l6.9 7.8l4.1 2.6l11 6.6l5.5 1.6l5.5 1.3l10.9 0.4l11 2l3.6 7l-3.6 8.4l-0.6 2.3l-2.2 10.7l2.8 4.9l10 5.9l1 0.2l11 1.6l11 4.2l7.1 4.7l3.8 1.3l11 -0.1l3.2 -1.2l7.8 -1.9l11 -2.6l11 -1.2l10.9 0.3l11 1.7l11 2.5l5.1 1.2l5.9 3.7l5.3 7l0.5 10.7l-5.8 10.4l-0.2 0.4l-10.8 10.3l-0.5 0.4l-6.3 10.7l3.5 10.8l-0.4 10.7l-7.3 6.8l-10 3.9l-1 0.6l-7.4 10.1l-0.5 10.8l0.5 10.7l-3.5 0l-11 0l-7 0l0 -10.7l-0.6 -10.8l-1 -10.7l1 -10.7l7.6 -10.2l0.8 -0.5l10.2 -6.2l3.9 -4.6l5.6 -10.7l1.4 -1.4l11 -7.9l1.8 -1.4l9.2 -9.7l0.7 -1.1l-0.6 -10.7l-0.1 -0.1l-11 -5.8l-11 -3.1l-10.9 -0.6l-11 2.8l-11 5.8l-2.6 1l-8.4 4.2l-11 -1.8l-9.8 -2.4l-1.1 -0.3l-11 -5.7l-7.9 -4.7l-3.1 -1.1l-11 -1.9l-11 -3.5l-2.2 -4.2l-0.9 -10.8l-1.4 -10.7l-6.4 -6.9l-6.9 -3.8l-4.1 -1.6l-11 -5.6l-7.2 -3.5l-3.8 -2.5l-10.9 -6l-3.4 -2.3l-7.6 -8.1l-2.5 -2.6l-8.5 -8.5l-2.3 -2.2l-8.7 -9.6l-0.9 -1.2l-9.7 -10.7l-0.4 -0.3l-10.9 -9.4l-1.3 -1l-8.8 -10.7l-0.9 -1l-10.9 -9.8l-0.1 0l0 -10.7l10.6 0zM860.3 684.6l11 0l3 0l7.6 10.7l0.4 0.3l10.9 6.7l4.7 3.8l2.8 10.7l0.7 10.7l2.8 4.6l7.3 6.1l3.7 1.8l11 4.5l11 2.3l10.9 -0.7l11 -0.6l11 -2.1l6 -5.2l5 -4.4l7.4 -6.3l3.6 -2.9l8.2 -7.8l2.7 -3.7l5.9 -7l1.9 -10.8l-1.9 -10.7l5.1 0l11 0l4 0l1.5 10.7l0.3 10.8l-5.8 8.7l-1.9 2l-9.1 5.5l-5.4 5.2l-5.6 5.7l-5.8 5l-5.1 4.9l-4.9 5.9l-6.1 10.3l-0.8 0.4l-10.2 3.8l-11 -1.8l-11 -0.5l-10.9 1.9l-6.1 -3.4l-4.9 -1.7l-11 -8.7l-0.6 -0.3l-10.4 -3.7l-11 -6.9l0 -0.2l-2.7 -10.7l-4.4 -10.7l-3.8 -3.7l-10.3 -7l-0.7 -0.6l-10.4 -10.2l-0.6 -0.8l-8.9 -9.9zM1288.5 711.7l11 -1.4l10.9 0.3l11 0l11 -0.1l0 6.3l0 1.4l-11 -0.1l-11 0.1l-10.9 0.8l-11 3.5l-9.2 5l-1.8 3.3l-5 7.4l3.8 10.8l1 10.7l-1 10.7l1.2 5.3l2.4 5.5l8.6 4.3l7.5 6.4l3.5 9.5l0.4 1.2l-0.4 1.3l-2.9 9.4l2.9 8.1l1.2 2.7l9.7 8.2l11 2.2l11 -2.4l0 2.7l0 10.7l0 4.6l-11 0.8l-11 -0.7l-6.7 -4.7l-4.2 -3.3l-6.5 -7.4l-4.5 -4.3l-7.5 -6.4l-3.5 -7.5l-2.2 -3.3l-8.8 -5.7l-8.4 -5l-2.6 -4.3l-2.1 -6.4l1.2 -10.7l0.9 -5l1 -5.8l-0.5 -10.7l-0.5 -1.4l-2.9 -9.3l-2.5 -10.8l5.4 -10.4l0.2 -0.3l10.8 -4.5l11 -5.8l0.7 -0.4zM717.6 824.2l11 0.3l10.9 1.9l11 3l11 -1.2l11 -1l11 4.2l10.9 3.1l8.1 0.3l2.9 0.1l2.8 -0.1l8.2 -0.2l2.8 0.2l8.2 3.4l2.8 7.3l-2.8 5l-5 5.7l-6 2.4l-11 5.9l-3.5 2.5l-7.5 8.9l-1.2 1.8l-2.3 10.7l0.1 10.8l-0.1 10.7l-0.9 10.7l1.3 10.7l3.1 6.8l1.8 4l4.9 10.7l-6.7 0l-3.5 0l-4.8 -10.7l-2.6 -5.6l-3.1 -5.2l-2 -10.7l1.3 -10.7l1.3 -10.7l-0.4 -10.8l-4.2 -10.7l-3.9 -3.9l-8.3 -6.8l-2.7 -2.8l-6.8 -8l-4.2 -4.5l-5.1 -6.2l-5.9 -4.7l-10.9 -5.6l-4.6 -0.4l-6.4 -0.5l-8.4 0.5l-2.6 0.2l0 -0.2l0 -10.4z"/>
<path fill="#feed00" stroke="#feed00" stroke-width="0.6" d="M706.7 695.3l10.9 9.8l0.9 1l8.8 10.7l1.3 1l10.9 9.4l0.4 0.3l9.7 10.7l0.9 1.2l8.7 9.6l2.3 2.2l8.5 8.5l2.5 2.6l7.6 8.1l3.4 2.3l10.9 6l3.8 2.5l7.2 3.5l11 5.6l4.1 1.6l6.9 3.8l6.4 6.9l1.4 10.7l0.9 10.8l2.2 4.2l11 3.5l11 1.9l3.1 1.1l7.9 4.7l11 5.7l1.1 0.3l9.8 2.4l11 1.8l8.4 -4.2l2.6 -1l11 -5.8l11 -2.8l10.9 0.6l11 3.1l11 5.8l0.1 0.1l0.6 10.7l-0.7 1.1l-9.2 9.7l-1.8 1.4l-11 7.9l-1.4 1.4l-5.6 10.7l-3.9 4.6l-10.2 6.2l-0.8 0.5l-7.6 10.2l-1 10.7l1 10.7l0.6 10.8l0 10.7l-4 0l-11 0l-8 0l1.8 -10.7l0.3 -10.8l-5.1 -10.3l-0.7 -0.4l-10.2 -2.7l-9.9 -8l0.2 -10.7l1.8 -10.8l7.9 -9.4l2.8 -1.3l8.1 -4.1l5.5 -6.6l-5.5 -7.4l-7.4 -3.4l-3.5 -0.6l-2.4 0.6l-8.6 10.7l-0.1 0.1l-10.9 9.3l-5.2 1.4l-5.8 1.3l-4.1 -1.3l-6.9 -2.9l-10.9 -6.7l-11 0.7l-11 7.5l-1.2 1.4l-4.4 10.7l0.2 10.8l0.8 10.7l-0.7 10.7l1 10.7l4.3 9.5l0.7 1.3l6.1 10.7l-6.8 0l-4.3 0l-4.9 -10.7l-1.8 -4l-3.1 -6.8l-1.3 -10.7l0.9 -10.7l0.1 -10.7l-0.1 -10.8l2.3 -10.7l1.2 -1.8l7.5 -8.9l3.5 -2.5l11 -5.9l6 -2.4l5 -5.7l2.8 -5l-2.8 -7.3l-8.2 -3.4l-2.8 -0.2l-8.2 0.2l-2.8 0.1l-2.9 -0.1l-8.1 -0.3l-10.9 -3.1l-11 -4.2l-11 1l-11 1.2l-11 -3l-10.9 -1.9l-11 -0.3l-11 0.2l0 -0.3l0 -10.8l0 -2.6l11 0l11 -0.2l10.9 -0.7l11 -1.2l11 -0.7l11 1.9l4.9 3.5l6.1 3.4l10.9 7.3l0.2 0.1l10.8 2.4l11 -0.8l3.5 -1.6l5.2 -10.8l-6 -10.7l-2.7 -1.8l-11 -5.8l-6.2 -3.1l-4.8 -2.2l-10.9 -3.1l-11 -4.7l-0.9 -0.7l-10.1 -9.8l-1 -1l-10 -9.2l-1.8 -1.5l-8.9 -10.7l-0.3 -0.4l-10.9 -9.7l-11 -0.5l-11 2.6l0 -2.8l0 -10.7l0 -10.7l0 -10.7l0 -10.8l0 0zM882.3 684.6l10.9 0l3.6 0l7.4 6.5l3.3 4.2l5.4 10.8l-0.1 10.7l1.5 10.7l0.9 0.8l11 5.3l11 2.3l10.9 -0.4l11 -2.9l7.6 -5.1l3.4 -3.3l8.1 -7.4l2.9 -4l5.1 -6.7l1.1 -10.8l-1.7 -10.7l6.5 0l10.9 0l5.9 0l1.9 10.7l-1.9 10.8l-5.9 7l-2.7 3.7l-8.2 7.8l-3.6 2.9l-7.4 6.3l-5 4.4l-6 5.2l-11 2.1l-11 0.6l-10.9 0.7l-11 -2.3l-11 -4.5l-3.7 -1.8l-7.3 -6.1l-2.8 -4.6l-0.7 -10.7l-2.8 -10.7l-4.7 -3.8l-10.9 -6.7l-0.4 -0.3l-7.6 -10.7zM1288.5 722.5l11 -3.5l10.9 -0.8l11 -0.1l11 0.1l0 7l-11 -0.4l-11 0.4l-10.3 2.3l-0.6 0.7l-5.9 10l3.1 10.8l0.2 10.7l-0.8 10.7l3.4 4.6l5.5 6.2l5.4 4.3l11 1.8l11 -2l0 6.6l0 10.7l0 10.7l0 10.8l0 8l-11 2.4l-11 -2.2l-9.7 -8.2l-1.2 -2.7l-2.9 -8.1l2.9 -9.4l0.4 -1.3l-0.4 -1.2l-3.5 -9.5l-7.5 -6.4l-8.6 -4.3l-2.4 -5.5l-1.2 -5.3l1 -10.7l-1 -10.7l-3.8 -10.8l5 -7.4l1.8 -3.3z"/>
<path fill="#ffb200" stroke="#ffb200" stroke-width="0.6" d="M904.2 684.6l11 0l2.8 0l3.7 10.7l1.9 10.8l2.2 10.7l0.4 0.6l11 6.3l10.9 -0.7l9.8 -6.2l1.2 -1.7l5.4 -9l1.3 -10.8l-1.2 -10.7l5.5 0l11 0l4.5 0l1.7 10.7l-1.1 10.8l-5.1 6.7l-2.9 4l-8.1 7.4l-3.4 3.3l-7.6 5.1l-11 2.9l-10.9 0.4l-11 -2.3l-11 -5.3l-0.9 -0.8l-1.5 -10.7l0.1 -10.7l-5.4 -10.8l-3.3 -4.2l-7.4 -6.5zM1310.4 725.2l11 -0.4l11 0.4l0 2.3l0 10.7l0 10.8l0 10.7l0 10.7l0 10.8l0 4.1l-11 2l-11 -1.8l-5.4 -4.3l-5.5 -6.2l-3.4 -4.6l0.8 -10.7l-0.2 -10.7l-3.1 -10.8l5.9 -10l0.6 -0.7zM717.6 738.4l11 0.5l10.9 9.7l0.3 0.4l8.9 10.7l1.8 1.5l10 9.2l1 1l10.1 9.8l0.9 0.7l11 4.7l10.9 3.1l4.8 2.2l6.2 3.1l11 5.8l2.7 1.8l6 10.7l-5.2 10.8l-3.5 1.6l-11 0.8l-10.8 -2.4l-0.2 -0.1l-10.9 -7.3l-6.1 -3.4l-4.9 -3.5l-11 -1.9l-11 0.7l-11 1.2l-10.9 0.7l-11 0.2l-11 0l0 -8.1l0 -10.7l0 -10.7l0 -10.8l0 -10.7l0 -10.7l0 -8zM882.3 855.6l3.5 0.6l7.4 3.4l5.5 7.4l-5.5 6.6l-8.1 4.1l-2.8 1.3l-7.9 9.4l-1.8 10.8l-0.2 10.7l9.9 8l10.2 2.7l0.7 0.4l5.1 10.3l-0.3 10.8l-1.8 10.7l-3 0l-10.9 0l-7 0l-4 -7.1l-5.9 -3.6l-5.1 -2l-9.1 -8.8l-0.2 -10.7l1.9 -10.7l-2.4 -10.7l-1.2 -0.7l-11 -5l-4.4 -5.1l-6.5 -6.4l-11 -2.7l-6.8 9.1l0.4 10.8l1.7 10.7l-0.8 10.7l1.1 10.7l4.4 7.8l2.9 3l7.6 10.7l-10.5 0l-4.2 0l-6.1 -10.7l-0.7 -1.3l-4.3 -9.5l-1 -10.7l0.7 -10.7l-0.8 -10.7l-0.2 -10.8l4.4 -10.7l1.2 -1.4l11 -7.5l11 -0.7l10.9 6.7l6.9 2.9l4.1 1.3l5.8 -1.3l5.2 -1.4l10.9 -9.3l0.1 -0.1l8.6 -10.7z"/>
<path fill="#ff7700" stroke="#ff7700" stroke-width="0.6" d="M926.2 684.6l11 0l10.9 0l11 0l5.5 0l1.2 10.7l-1.3 10.8l-5.4 9l-1.2 1.7l-9.8 6.2l-10.9 0.7l-11 -6.3l-0.4 -0.6l-2.2 -10.7l-1.9 -10.8l-3.7 -10.7zM816.4 879.3l11 2.7l6.5 6.4l4.4 5.1l11 5l1.2 0.7l2.4 10.7l-1.9 10.7l0.2 10.7l9.1 8.8l5.1 2l5.9 3.6l4 7.1l-4 0l-11 0l-11 0l-11 0l-10.9 0l-0.5 0l-7.6 -10.7l-2.9 -3l-4.4 -7.8l-1.1 -10.7l0.8 -10.7l-1.7 -10.7l-0.4 -10.8z"/>
<path fill="none" stroke="#000" stroke-width="1.05" stroke-linejoin="round" d="M702.1 718.6L706.6 721.7L715.5 728.4L728.1 734.7L737.9 732L751.3 727.5L760.2 727.1L769.2 728.4L777.2 731.5L787.1 727.5L796 723L804.9 720.4L811.2 717.7L820.1 716.8L829.1 715.9L838.9 717.7L845.2 726.6L849.6 734.7L859.5 734.7L872 732.9L878.2 740L882.7 751.6L880.9 761.5L876.5 770.4L879.1 779.4L885 791L892.6 800.8L900.6 810.7L905.1 820.5L909.5 831.2L914 843.7L917.6 856.2L918.5 865.2L917.6 875L912.2 887.5L907.8 897.4L905.1 910.8L902.4 921.5L903.3 933.1L905.1 942.1L908.6 949.2L912.2 957.3M1253.7 680.1L1250.2 684.6L1246.6 698L1235 711.4L1223.3 729.3L1211.7 736.5L1201 749L1193.8 754.3L1184.9 763.3L1177.7 770.4L1167.9 789.2L1158.1 796.4L1150.9 809.8L1146.4 816L1143.8 827.6L1147.3 834.8L1147.3 845.5L1150.9 858.9L1157.2 867L1158.1 876.8L1158.1 885.8L1159 899.2L1156.3 909.9L1149.1 919.7L1135.7 928.7L1126.8 933.1L1117.8 942.1L1110.7 950.1L1107.1 957.3M1236.7 881.3L1242.1 892.9L1245.7 909.9L1243 917L1240.3 924.2L1237.6 933.1L1234.1 943.9L1230.5 957.3L1192 957.3L1192 943.9L1189.4 934.9L1192 926L1193.8 919.7L1201 917L1209.9 914.4L1218 908.1L1224.2 900.9L1228.7 893.8L1234.1 884.9L1236.7 881.3M1080.3 776.7L1086.5 772.2L1095.5 771.3L1100.9 775.8L1100 782.9L1097.3 791.9L1091 796.4L1082.1 796.4L1078.5 787.4L1080.3 781.2L1080.3 776.7M1056.2 803.5L1058.8 803.5L1060.6 814.2L1063.3 826.7L1069.6 836.6L1074.9 848.2L1073.1 851.8L1068.7 848.2L1065.1 837.5L1059.7 828.5L1057 816.9L1056.2 803.5M1100.9 858.9L1103.5 859.8L1106.2 872.3L1108.9 881.3L1111.6 892.9L1110.7 901.8L1108 901.8L1104.4 892.9L1101.7 881.3L1100 869.7L1100.9 858.9M1068.7 763.3L1076.7 754.3L1074 753.4L1066.9 761.5L1068.7 763.3M1116.9 732.9L1120.5 744.5L1123.2 751.6L1119.6 747.2L1116.1 738.2L1116.9 732.9M1055.3 789.2L1057.9 789.2L1057.9 797.2L1055.3 795.5L1055.3 789.2M794.2 716.8L797.8 709.6L796 702.5L790.6 697.1L785.3 699.8L792.4 706.1L794.2 716.8M1050.8 850.9L1056.2 850L1057 858L1052.6 857.1L1050.8 850.9M1035.6 934L1046.3 927.8L1055.3 922.4L1051.7 925.1L1041.8 931.3L1035.6 934"/><path fill="none" stroke="#000" stroke-width="0.8" stroke-linejoin="round" d="M729 734.7L728.1 724.8L720.9 716.8L720 706.1L722.7 698L725.4 680.1M720 706.1L711.1 698L703.9 698L697.7 696.2M768.3 728.4L771 711.4L773.6 700.7L771.9 689.1L771 680.1M806.7 719.5L801.4 712.3L800.5 699.8L798.7 680.1M810.3 718.6L810.3 693.5L808.5 680.1M820.1 716.8L820.1 693.5L828.2 680.1M872.9 732.9L881.8 715.9L894.3 715L903.3 702.5L912.2 689.1L916.7 680.1M883.6 754.3L897 753.4L914.9 754.3L925.6 755.2L939 758.8L940.8 753.4L944.4 742.7L962.3 742.7M897 753.4L897 765.1L880.9 765.1M897 753.4L912.2 761.5L921.2 761.5L924.7 788.3L921.2 795.5L907.8 795.5L898.8 805.3L896.1 808.9M925.6 680.1L925.6 715.9L930.1 729.3L939 754.3M905.1 820.5L912.2 825.9L932.8 812.4L940.8 793.7L954.2 778.5L957.8 769.5L962.3 742.7L970.3 729.3L983.7 735.6L999.8 732L1015 728.4L1028.4 727.5L1041 728.4L1055.3 734.7L1072.2 742.7L1091 740L1100 736.5M909.5 827.6L939 827.6L943.5 841L952.5 846.4L965.9 845.5L970.3 836.6L990.9 839.3L990.9 858.9L995.4 872.3L1010.6 872.3L1022.2 874.1L1032.9 880.4L1039.2 877.7L1049.9 884L1055.3 893.8L1062.4 892L1062.4 883.1L1050.8 872.3L1050.8 858.9L1070.5 848.2M1010.6 872.3L1010.6 890.2L992.7 890.2L992.7 918.8L1004.3 930.5L1021.3 933.1M902.4 928.7L916.7 926L961.4 929.6L983.7 937.6L1004.3 930.5M983.7 937.6L983.7 970.7M1021.3 933.1L1037.4 934L1050.8 921.5L1067.8 913.5L1090.1 923.3L1090.1 939.4L1087.4 957.3M1021.3 933.1L1028.4 939.4L1041.8 957.3M1067.8 913.5L1066 904.5L1090.1 895.6L1092.8 885.8L1093.7 870.6L1091 858.9L1090.1 858L1074.9 850.9M1088.3 895.6L1099.1 902.7L1104.4 904.5L1111.6 917.9L1110.7 926.9L1116.1 917L1116.9 905.4L1111.6 894.7M1108 876.8L1126.8 877.7L1140.2 875L1157.2 867M1072.2 742.7L1075.8 754.3M1066.9 762.4L1063.3 769.5L1060.6 786.5L1055.3 786.5M1060.6 786.5L1068.7 782.9L1100 782.9L1132.1 800.8L1146.4 815.1M1068.7 782.9L1071.4 795.5L1067.8 799.9L1071.4 803.5L1064.2 812.4L1058.8 814.2M1055.3 795.5L1063.3 799L1067.8 799.9M1100 782.9L1100 772.2L1104.4 765.1L1108.9 756.1L1103.5 736.5L1116.9 732.9L1125 734.7L1135.7 741.8L1144.7 742.7L1153.6 736.5L1170.6 738.2L1162.5 747.2L1162.5 782.9L1167.9 789.2M1170.6 738.2L1184.9 733.8L1198.3 729.3L1211.7 715.9L1224.2 702.5L1207.2 698.9L1189.4 693.5L1178.6 684.6L1176 680.1M1116.9 732.9L1106.2 715.9L1091 704.3L1092.8 698.9L1100.9 697.1L1100.9 680.1M934.6 707L956.9 702.5L965.9 693.5L988.2 680.1M1006.1 696.2L1019.5 682.8L1028.4 680.1M1041 728.4L1024 711.4L1006.1 696.2L997.2 680.1"/>
<path fill="none" stroke="#000" stroke-width="1.7" d="M706.6 684.6l0 -14.8M729 684.6l0 -14.8M751.3 684.6l0 -14.8M773.6 684.6l2.8 -14.1M796 684.6l5.7 -13.7M818.4 684.6l5.7 -13.7M840.7 684.6l5.7 -13.7M863 684.6l2.6 -10.7M885.4 684.6l0 -7.8M907.8 684.6l0 -7.8M930.1 684.6l0 -7.8M952.5 684.6l0 -7.8M974.8 684.6l0 -7.8M997.2 684.6l2.6 -2.6M1019.5 684.6l7.8 0M1041.8 684.6l7.8 0M1064.2 684.6l7.8 0M1086.5 684.6l7.4 -1.5M1108.9 684.6l7.2 -3M1131.2 684.6l6.5 -7.6M1153.6 684.6l5.7 -13.7M1198.3 684.6l0 7.8M1220.7 684.6l2.6 2.6M1243 684.6l7.8 0M1265.3 684.6l7.8 0M1287.7 684.6l7.8 0M1310 684.6l7.8 0M706.6 707l-4 -17.4M729 707l-4.6 -14.8M751.3 707l-5.1 -12.2M773.6 707l-3.6 -11.6M796 707l-2.2 -11M818.4 707l-2.2 -5.6M840.7 707l-1.3 -1.3M863 707l-0.3 -0.5M952.5 707l0 -2.5M974.8 707l0 -7.8M997.2 707l3.9 -3.1M1019.5 707l11.3 0M1041.8 707l11.3 0M1064.2 707l11.3 0M1086.5 707l10.8 -2.1M1108.9 707l10.4 -4.3M1131.2 707l7.9 -8.5M1153.6 707l5.7 -13.7M1176 707l4.1 -2.8M1198.3 707l5.3 3.6M1220.7 707l8 2M1243 707l11.3 0M1265.3 707l11.3 0M1287.7 707l11.3 0M1310 707l11.3 0M706.6 729.3l-8.3 -20.1M729 729.3l-9.5 -15.1M751.3 729.3l-10.5 -10.5M773.6 729.3l-10.5 -10.5M796 729.3l-10.5 -10.5M818.4 729.3l-11 -2.2M840.7 729.3l-13.7 5.7M863 729.3l-4.8 3.7M885.4 729.3l0 0.8M907.8 729.3l0 0.8M930.1 729.3l0 0.8M974.8 729.3l0 -7.8M997.2 729.3l5.3 -3.6M1019.5 729.3l14.8 0M1041.8 729.3l14.8 0M1064.2 729.3l14.8 0M1086.5 729.3l14.1 -2.8M1108.9 729.3l13.7 -5.7M1131.2 729.3l9.3 -9.3M1153.6 729.3l5.7 -13.7M1176 729.3l9.4 -6.3M1198.3 729.3l14.8 0M1220.7 729.3l14.8 0M1243 729.3l14.8 0M1265.3 729.3l14.8 0M1287.7 729.3l14.8 0M1310 729.3l14.8 0M706.6 751.6l-7 -16.9M729 751.6l-8.7 -13.5M751.3 751.6l-10.5 -10.5M773.6 751.6l-12.7 -10M796 751.6l-15.1 -9.5M818.4 751.6l-18.7 -3.3M840.7 751.6l-23.2 3.2M863 751.6l-12.1 2.5M885.4 751.6l-1.5 0.7M907.8 751.6l-0.5 0.4M997.2 751.6l0.6 -0.1M1019.5 751.6l6.9 1.3M1041.8 751.6l7.3 0.7M1064.2 751.6l7.8 0M1086.5 751.6l7.5 -1.1M1108.9 751.6l7.3 -2.2M1131.2 751.6l5.2 -3.4M1153.6 751.6l3.7 -4.8M1176 751.6l5.1 -2.7M1198.3 751.6l7.6 -0.7M1220.7 751.6l9.2 -1.2M1243 751.6l10.8 -1.7M1265.3 751.6l10.8 -1.7M1287.7 751.6l10.8 -1.7M1310 751.6l12.6 2.4M706.6 774l-5.7 -13.7M729 774l-8 -12M751.3 774l-10.5 -10.5M773.6 774l-15.1 -9.5M796 774l-20.1 -8.3M818.4 774l-26.4 -4.4M840.7 774l-33 0M863 774l-20.4 0M885.4 774l-7.8 0M907.8 774l-4.3 0M930.1 774l-0.8 0M974.8 774l0 0.8M997.2 774l0.2 0.6M1019.5 774l0.6 0.6M1041.8 774l0.6 0.2M1064.2 774l0.8 0M1086.5 774l0.8 0M1108.9 774l0.8 0M1131.2 774l0.8 0M1153.6 774l0.8 0M1176 774l0.7 -0.1M1198.3 774l0.7 -0.3M1220.7 774l4 -1.6M1243 774l7.2 -3M1265.3 774l7.2 -3M1287.7 774l7.2 -3M1310 774l10.7 4.7M706.6 796.4l-3.7 -4.8M729 796.4l-6.1 -4.7M751.3 796.4l-8.9 -4.6M773.6 796.4l-12.5 -3M796 796.4l-16.4 -1M818.4 796.4l-20.2 -0.5M840.7 796.4l-23.9 0M863 796.4l-16.1 -2.7M885.4 796.4l-8.9 -4.6M907.8 796.4l-7 -6.1M930.1 796.4l-5.4 -7.8M974.8 796.4l1.1 4M997.2 796.4l1.9 3.3M1019.5 796.4l3 3M1041.8 796.4l1.1 1.1M1086.5 796.4l2.2 -0.1M1108.9 796.4l7.3 -2.2M1131.2 796.4l7.3 -2.2M1153.6 796.4l7.3 -2.2M1176 796.4l9.1 -1.6M1198.3 796.4l11.1 -0.9M1220.7 796.4l12.7 -1.4M1243 796.4l14.3 -1.9M1265.3 796.4l13.7 0M1287.7 796.4l13.3 1.8M1310 796.4l15.4 6.5M706.6 818.7l-0.8 0M729 818.7l-4.3 0M751.3 818.7l-7.8 0M773.6 818.7l-10.7 2.6M796 818.7l-13.7 5.7M818.4 818.7l-14.1 2.8M840.7 818.7l-14.8 0M863 818.7l-12.2 -5.1M885.4 818.7l-10.5 -10.5M907.8 818.7l-9.5 -15.1M930.1 818.7l-8.3 -20.1M952.5 818.7l-0.3 -0.7M974.8 818.7l3 7.2M997.2 818.7l4.2 6.3M1019.5 818.7l5.5 5.5M1041.8 818.7l1.8 3.1M1064.2 818.7l0 0.8M1086.5 818.7l3.5 -0.2M1108.9 818.7l13.7 -5.7M1131.2 818.7l13.7 -5.7M1153.6 818.7l13.7 -5.7M1176 818.7l17.6 -3M1198.3 818.7l21.8 0M1220.7 818.7l21.8 0M1243 818.7l21.8 0M1265.3 818.7l20.9 4.1M1287.7 818.7l20.1 8.3M1310 818.7l20.1 8.3M706.6 841l-1.5 4.6M729 841l-3.6 5.1M751.3 841l-6.4 5.6M773.6 841l-9.1 6.8M796 841l-12 8M818.4 841l-14.6 6M840.7 841l-17.4 4M863 841l-14.4 -4.2M885.4 841l-12.9 -12.9M907.8 841l-10.6 -16.4M930.1 841l-8.3 -20.1M952.5 841l-1.2 -8.4M974.8 841l1.1 -0.5M997.2 841l3.6 -1.1M1019.5 841l6.3 -1.3M1041.8 841l4 -1.3M1064.2 841l1.9 -1M1086.5 841l7 -4.4M1108.9 841l12 -8M1131.2 841l12.8 -6.8M1153.6 841l13.7 -5.7M1176 841l10.5 0.8M1198.3 841l9 6.8M1220.7 841l9 6.8M1243 841l9 6.8M1265.3 841l7.3 8.2M1287.7 841l5.8 9.7M1310 841l4.4 8.4M706.6 863.4l0 14.8M729 863.4l-2.8 14.1M751.3 863.4l-5.7 13.7M773.6 863.4l-8 12M796 863.4l-10.5 10.5M818.4 863.4l-15.1 9.5M840.7 863.4l-20.1 8.3M863 863.4l-16.8 -3.3M885.4 863.4l-15.4 -15.4M907.8 863.4l-11.8 -17.7M930.1 863.4l-8.3 -20.1M952.5 863.4l-1 -16.4M974.8 863.4l5.7 -13.7M997.2 863.4l8 -12M1019.5 863.4l10.5 -10.5M1041.8 863.4l10.5 -10.5M1064.2 863.4l10.5 -10.5M1086.5 863.4l10.5 -10.5M1108.9 863.4l10.5 -10.5M1131.2 863.4l12 -8M1153.6 863.4l13.7 -5.7M1176 863.4l4.5 3M1198.3 863.4l0 14.8M1220.7 863.4l0 14.8M1243 863.4l0 14.8M1265.3 863.4l-2.8 14.1M1287.7 863.4l-5.7 13.7M1310 863.4l-8 12M706.6 885.8l0 14.8M729 885.8l-1.4 14.4M751.3 885.8l-2.8 14.1M773.6 885.8l-5.4 12.9M796 885.8l-8 12M818.4 885.8l-13.7 10.2M840.7 885.8l-20.1 8.3M863 885.8l-16.8 -3.3M885.4 885.8l-15.4 -15.4M907.8 885.8l-13 -20.2M930.1 885.8l-10.5 -25.3M952.5 885.8l-5.5 -20.8M974.8 885.8l-1 -16.4M997.2 885.8l4.1 -10.6M1019.5 885.8l8.9 -6.5M1041.8 885.8l8.4 -7.2M1064.2 885.8l8 -8M1086.5 885.8l9.2 -9.2M1108.9 885.8l10.5 -10.5M1131.2 885.8l4.6 -4.9M1176 885.8l0.4 2.4M1198.3 885.8l0 14.8M1220.7 885.8l0 16.5M1243 885.8l0 18.3M1265.3 885.8l0.5 17.4M1287.7 885.8l1 16.4M1310 885.8l-2.2 15.9M706.6 908.1l0 14.8M729 908.1l0 14.8M751.3 908.1l0 14.8M773.6 908.1l-2.8 14.1M796 908.1l-5.7 13.7M818.4 908.1l-12.3 10.9M840.7 908.1l-20.1 8.3M863 908.1l-16.8 -3.3M885.4 908.1l-15.4 -15.4M907.8 908.1l-14.1 -22.7M930.1 908.1l-12.6 -30.5M952.5 908.1l-10.5 -25.3M974.8 908.1l-8.3 -20.1M997.2 908.1l0.7 -9.4M1019.5 908.1l7.2 -3M1041.8 908.1l6.3 -4.2M1064.2 908.1l5.5 -5.5M1086.5 908.1l8 -8M1108.9 908.1l10.5 -10.5M1131.2 908.1l0.1 -1.2M1153.6 908.1l-7.8 0M1176 908.1l-3.6 5.3M1198.3 908.1l0 14.8M1220.7 908.1l0 18.3M1243 908.1l0 21.8M1265.3 908.1l4.1 20.9M1287.7 908.1l8.3 20.1M1310 908.1l4.1 20.9M706.6 930.5l4 17.4M729 930.5l1.9 16.1M751.3 930.5l0 14.8M773.6 930.5l-2.8 14.1M796 930.5l-5.7 13.7M818.4 930.5l-10.1 11.4M840.7 930.5l-15.1 9.5M863 930.5l-14 -2.4M885.4 930.5l-15.4 -15.4M907.8 930.5l-14.1 -22.7M930.1 930.5l-12.6 -30.5M952.5 930.5l-10.5 -25.3M974.8 930.5l-8.3 -20.1M997.2 930.5l0.8 -8.1M1019.5 930.5l7.4 -1.5M1041.8 930.5l6.8 -2M1064.2 930.5l6.2 -2.6M1086.5 930.5l7.6 -3.6M1108.9 930.5l8.9 -4.6M1131.2 930.5l1.7 -0.9M1176 930.5l0.8 4M1198.3 930.5l2.8 14.1M1220.7 930.5l1.5 17.9M1243 930.5l0 21.8M1265.3 930.5l4.1 20.9M1287.7 930.5l8.3 20.1M1310 930.5l4.1 20.9M706.6 952.8l8.3 20.1M729 952.8l4 17.4M751.3 952.8l0 14.8M773.6 952.8l-2.8 14.1M796 952.8l-5.7 13.7M818.4 952.8l-8 12M840.7 952.8l-10.5 10.5M863 952.8l-11.2 -1.6M885.4 952.8l-15.4 -15.4M907.8 952.8l-14.1 -22.7M930.1 952.8l-12.6 -30.5M952.5 952.8l-10.5 -25.3M974.8 952.8l-8.3 -20.1M997.2 952.8l0.9 -6.8M1019.5 952.8l7.8 0M1041.8 952.8l7.8 0M1064.2 952.8l7.8 0M1086.5 952.8l7.8 0M1108.9 952.8l7.8 0M1131.2 952.8l7.8 0M1153.6 952.8l7.8 0M1176 952.8l6.4 5.6M1198.3 952.8l5.7 13.7M1220.7 952.8l3 17.6M1243 952.8l0 21.8M1265.3 952.8l4.1 20.9M1287.7 952.8l8.3 20.1M1310 952.8l4.1 20.9"/>
<path fill="#000" d="M706.6 663.6l2.2 6.2l-4.4 -0zM729 663.6l2.2 6.2l-4.4 -0zM751.3 663.6l2.2 6.2l-4.4 -0zM777.7 664.4l0.9 6.5l-4.3 -0.9zM804 665.2l-0.3 6.6l-4.1 -1.7zM826.4 665.2l-0.3 6.6l-4.1 -1.7zM848.7 665.2l-0.3 6.6l-4.1 -1.7zM867.1 667.9l0.7 6.5l-4.3 -1zM885.4 670.6l2.2 6.2l-4.4 -0zM907.8 670.6l2.2 6.2l-4.4 -0zM930.1 670.6l2.2 6.2l-4.4 -0zM952.5 670.6l2.2 6.2l-4.4 -0zM974.8 670.6l2.2 6.2l-4.4 -0zM1004.2 677.6l-2.8 5.9l-3.1 -3.1zM1033.5 684.6l-6.2 2.2l-0 -4.4zM1055.8 684.6l-6.2 2.2l-0 -4.4zM1078.2 684.6l-6.2 2.2l-0 -4.4zM1100 681.9l-5.7 3.4l-0.9 -4.3zM1121.8 679.2l-4.9 4.4l-1.7 -4.1zM1141.7 672.2l-2.3 6.2l-3.4 -2.8zM1161.6 665.2l-0.3 6.6l-4.1 -1.7zM1180 681.9l-2.8 3.7l-1.7 -2.6zM1198.3 698.6l-2.2 -6.2l4.4 -0zM1227.7 691.6l-5.9 -2.8l3.1 -3.1zM1257 684.6l-6.2 2.2l-0 -4.4zM1279.3 684.6l-6.2 2.2l-0 -4.4zM1301.7 684.6l-6.2 2.2l-0 -4.4zM1324 684.6l-6.2 2.2l-0 -4.4zM701.2 683.5l3.5 5.6l-4.3 1zM722.6 686.3l3.9 5.3l-4.2 1.3zM743.9 689l4.4 4.9l-4.1 1.7zM768.2 689.4l3.9 5.3l-4.2 1.3zM792.6 689.8l3.4 5.7l-4.3 0.9zM813.8 695.5l4.3 4.9l-4.1 1.6zM835 701.3l5.9 2.8l-3.1 3.1zM860.2 702.4l4 3.2l-2.9 1.8zM885.4 703.5l1.1 3.1l-2.2 -0zM907.8 703.5l1.1 3.1l-2.2 -0zM930.1 703.5l1.1 3.1l-2.2 -0zM952.5 698.2l2.2 6.2l-4.4 -0zM974.8 693l2.2 6.2l-4.4 -0zM1005.9 700l-3.5 5.6l-2.7 -3.4zM1037 707l-6.2 2.2l-0 -4.4zM1059.3 707l-6.2 2.2l-0 -4.4zM1081.7 707l-6.2 2.2l-0 -4.4zM1103.4 703.6l-5.7 3.4l-0.9 -4.3zM1125.1 700.3l-4.9 4.4l-1.7 -4.1zM1143.4 693.9l-2.6 6l-3.2 -3zM1161.6 687.5l-0.3 6.6l-4.1 -1.7zM1185.2 700.7l-3.9 5.3l-2.4 -3.7zM1208.8 714l-6.4 -1.6l2.4 -3.7zM1234.7 710.5l-6.5 0.6l1.1 -4.3zM1260.5 707l-6.2 2.2l-0 -4.4zM1282.8 707l-6.2 2.2l-0 -4.4zM1305.2 707l-6.2 2.2l-0 -4.4zM1327.5 707l-6.2 2.2l-0 -4.4zM695.9 703.4l4.4 4.9l-4.1 1.7zM716.2 708.9l5.2 4.1l-3.7 2.3zM736.5 714.5l5.9 2.8l-3.1 3.1zM758.8 714.5l5.9 2.8l-3.1 3.1zM781.2 714.5l5.9 2.8l-3.1 3.1zM801.2 725.9l6.5 -0.9l-0.9 4.3zM821.3 737.3l4.9 -4.4l1.7 4.1zM853.3 736.8l3.6 -5.5l2.7 3.5zM885.4 736.3l-2.2 -6.2l4.4 -0zM907.8 736.3l-2.2 -6.2l4.4 -0zM930.1 736.3l-2.2 -6.2l4.4 -0zM952.5 725.8l1.1 3.1l-2.2 -0zM974.8 715.3l2.2 6.2l-4.4 -0zM1007.7 722.3l-3.9 5.3l-2.4 -3.7zM1040.5 729.3l-6.2 2.2l-0 -4.4zM1062.8 729.3l-6.2 2.2l-0 -4.4zM1085.2 729.3l-6.2 2.2l-0 -4.4zM1106.8 725.3l-5.7 3.4l-0.9 -4.3zM1128.3 721.3l-4.9 4.4l-1.7 -4.1zM1145 715.6l-2.8 5.9l-3.1 -3.1zM1161.6 709.9l-0.3 6.6l-4.1 -1.7zM1190.5 719.6l-3.9 5.3l-2.4 -3.7zM1219.3 729.3l-6.2 2.2l-0 -4.4zM1241.7 729.3l-6.2 2.2l-0 -4.4zM1264 729.3l-6.2 2.2l-0 -4.4zM1286.3 729.3l-6.2 2.2l-0 -4.4zM1308.7 729.3l-6.2 2.2l-0 -4.4zM1331 729.3l-6.2 2.2l-0 -4.4zM697.2 729l4.4 4.9l-4.1 1.7zM716.8 732.9l5.2 4l-3.7 2.4zM736.5 736.8l5.9 2.8l-3.1 3.1zM756 737.8l6.2 2.1l-2.7 3.5zM775.6 738.9l6.4 1.4l-2.3 3.7zM793.5 747.3l6.5 -1.1l-0.8 4.3zM811.4 755.7l5.8 -3l0.6 4.4zM844.9 755.4l5.6 -3.4l0.9 4.3zM878.4 755.1l4.6 -4.7l2 3.9zM902.5 755.1l3.6 -4.8l2.2 3.4zM926.6 755.1l2 -4.3l2.2 2.2zM950.7 751.6l1.6 -0.6l-0 1.1zM974.8 748.1l1.1 3.1l-2.2 -0zM1003.6 751.1l-5.7 2.5l-0.3 -4.1zM1032.5 754.1l-6.5 1l0.8 -4.3zM1055.3 752.9l-6.4 1.6l0.4 -4.4zM1078.2 751.6l-6.2 2.2l-0 -4.4zM1100.2 749.6l-5.8 3.1l-0.6 -4.4zM1122.1 747.6l-5.3 3.9l-1.3 -4.2zM1141.6 744.8l-4 5.3l-2.4 -3.7zM1161.1 741.9l-2.1 6.2l-3.5 -2.7zM1186.6 746.1l-4.5 4.8l-2 -3.9zM1212 750.3l-6 2.8l-0.4 -4.4zM1236 749.6l-5.9 3l-0.6 -4.4zM1260 749l-5.8 3.1l-0.7 -4.3zM1282.3 749l-5.8 3.1l-0.7 -4.3zM1304.7 749l-5.8 3.1l-0.7 -4.3zM1328.7 755.3l-6.5 1l0.8 -4.3zM698.6 754.6l4.4 4.9l-4.1 1.7zM717.5 756.9l5.3 3.9l-3.7 2.4zM736.5 759.2l5.9 2.8l-3.1 3.1zM753.3 761.2l6.4 1.4l-2.3 3.7zM770.1 763.3l6.6 0.3l-1.7 4.1zM785.8 768.6l6.5 -1.2l-0.7 4.3zM801.5 774l6.2 -2.2l-0 4.4zM836.4 774l6.2 -2.2l-0 4.4zM871.4 774l6.2 -2.2l-0 4.4zM897.2 774l6.2 -2.2l-0 4.4zM923.1 774l6.2 -2.2l-0 4.4zM949 777.5l2 -4.3l2.2 2.2zM974.8 781l-2.2 -6.2l4.4 -0zM999.6 780l-4.1 -4.6l3.8 -1.6zM1024.4 778.9l-5.9 -2.8l3.1 -3.1zM1047.8 776.5l-6.2 -0.3l1.6 -3.8zM1071.2 774l-6.2 2.2l-0 -4.4zM1093.5 774l-6.2 2.2l-0 -4.4zM1115.9 774l-6.2 2.2l-0 -4.4zM1138.2 774l-6.2 2.2l-0 -4.4zM1160.6 774l-6.2 2.2l-0 -4.4zM1182.7 772.7l-5.6 3.4l-0.9 -4.3zM1204.8 771.3l-4.9 4.4l-1.7 -4.1zM1230.4 770l-4.9 4.4l-1.7 -4.1zM1255.9 768.6l-4.9 4.4l-1.7 -4.1zM1278.3 768.6l-4.9 4.4l-1.7 -4.1zM1300.6 768.6l-4.9 4.4l-1.7 -4.1zM1326.4 781.2l-6.6 -0.5l1.8 -4zM699.1 786.6l5.5 3.6l-3.5 2.7zM718 787.8l6.2 2.1l-2.7 3.5zM736.9 788.9l6.5 0.9l-2 3.9zM755.1 792l6.5 -0.7l-1 4.3zM773.4 795l6.3 -1.8l-0.3 4.4zM792 795.7l6.3 -2l-0.1 4.4zM810.6 796.4l6.2 -2.2l-0 4.4zM840.8 792.6l6.5 -1.2l-0.7 4.3zM871 788.9l6.5 0.9l-2 3.9zM896.1 786.2l6.1 2.4l-2.9 3.3zM921.2 783.4l5.3 3.9l-3.6 2.5zM949.4 794.9l3.3 0.3l-0.9 2zM977.5 806.3l-3.7 -5.4l4.2 -1.1zM1002.2 805l-5 -4.3l3.8 -2.2zM1026.9 803.8l-5.9 -2.8l3.1 -3.1zM1047.3 801.8l-5.9 -2.8l3.1 -3.1zM1067.7 799.9l-4.3 -2l2.2 -2.2zM1094.9 796.1l-6.1 2.4l-0.1 -4.4zM1122.1 792.3l-5.3 3.9l-1.3 -4.2zM1144.5 792.3l-5.3 3.9l-1.3 -4.2zM1166.8 792.3l-5.3 3.9l-1.3 -4.2zM1191.2 793.7l-5.7 3.2l-0.8 -4.3zM1215.5 795l-6 2.7l-0.3 -4.4zM1239.5 794.3l-5.9 2.8l-0.5 -4.4zM1263.5 793.7l-5.9 3l-0.6 -4.4zM1285.3 796.4l-6.2 2.2l-0 -4.4zM1307.1 799l-6.4 1.3l0.6 -4.4zM1331.2 805.3l-6.6 -0.4l1.7 -4zM699.6 818.7l6.2 -2.2l-0 4.4zM718.5 818.7l6.2 -2.2l-0 4.4zM737.3 818.7l6.2 -2.2l-0 4.4zM756.9 822.7l5.5 -3.6l1 4.3zM776.6 826.7l4.9 -4.4l1.7 4.1zM798.1 822.7l5.7 -3.4l0.9 4.3zM819.7 818.7l6.2 -2.2l-0 4.4zM845.1 811.3l6.6 0.3l-1.7 4.1zM870.6 803.9l5.9 2.8l-3.1 3.1zM895 798.3l5.2 4.1l-3.7 2.3zM919.4 792.8l4.4 4.9l-4.1 1.7zM949.8 812.2l4.4 4.9l-4.1 1.7zM980.2 831.6l-4.4 -4.9l4.1 -1.7zM1004.8 830.1l-5.3 -3.9l3.7 -2.4zM1029.4 828.6l-5.9 -2.8l3.1 -3.1zM1046.8 827.1l-5 -4.2l3.8 -2.2zM1064.2 825.7l-2.2 -6.2l4.4 -0zM1096.3 818.2l-6.1 2.5l-0.2 -4.4zM1128.3 810.7l-4.9 4.4l-1.7 -4.1zM1150.7 810.7l-4.9 4.4l-1.7 -4.1zM1173 810.7l-4.9 4.4l-1.7 -4.1zM1199.7 814.7l-5.7 3.2l-0.7 -4.3zM1226.3 818.7l-6.2 2.2l-0 -4.4zM1248.7 818.7l-6.2 2.2l-0 -4.4zM1271 818.7l-6.2 2.2l-0 -4.4zM1292.3 824.1l-6.5 0.9l0.9 -4.3zM1313.6 829.4l-6.6 -0.3l1.7 -4.1zM1335.9 829.4l-6.6 -0.3l1.7 -4.1zM703.1 851.5l-0.1 -6.6l4.2 1.4zM721.7 851.2l1.8 -6.3l3.6 2.6zM740.3 850.8l3.2 -5.7l2.9 3.3zM759.6 851.6l3.6 -5.5l2.6 3.5zM778.9 852.5l3.9 -5.3l2.4 3.7zM798.1 849.5l4.9 -4.4l1.7 4.1zM817.3 846.4l5.6 -3.5l1 4.3zM842.7 835.1l6.6 -0.4l-1.2 4.2zM868.1 823.7l5.9 2.8l-3.1 3.1zM893.7 819.5l5.2 4l-3.7 2.4zM919.4 815.2l4.4 4.9l-4.1 1.7zM950.4 826.5l3 5.8l-4.4 0.6zM981.5 837.8l-4.6 4.7l-1.9 -4zM1006.7 838.2l-5.3 3.9l-1.3 -4.2zM1031.9 838.6l-5.6 3.4l-0.9 -4.3zM1051.7 837.9l-5.2 4l-1.4 -4.2zM1071.6 837.1l-4.5 4.8l-2.1 -3.9zM1098.8 833.4l-4.1 5.2l-2.3 -3.7zM1126 829.6l-3.9 5.3l-2.4 -3.7zM1149.5 831.3l-4.4 4.9l-2.1 -3.9zM1173 833l-4.9 4.4l-1.7 -4.1zM1192.7 842.3l-6.3 1.7l0.3 -4.4zM1212.3 851.5l-6.3 -2l2.6 -3.5zM1234.7 851.5l-6.3 -2l2.6 -3.5zM1257 851.5l-6.3 -2l2.6 -3.5zM1276.8 853.8l-5.8 -3.1l3.3 -2.9zM1296.6 856.1l-5.1 -4.2l3.8 -2.2zM1317.3 855l-4.8 -4.5l3.9 -2zM706.6 884.4l-2.2 -6.2l4.4 -0zM724.9 883.6l-0.9 -6.5l4.3 0.9zM743.3 882.8l0.3 -6.6l4.1 1.7zM762.2 880.5l1.6 -6.4l3.7 2.4zM781.2 878.2l2.8 -5.9l3.1 3.1zM798 876.2l4.1 -5.2l2.3 3.7zM814.8 874.1l4.9 -4.4l1.7 4.1zM840.2 858.9l6.5 -0.9l-0.9 4.3zM865.6 843.6l5.9 2.8l-3.1 3.1zM892.5 840.6l5.3 3.9l-3.7 2.4zM919.4 837.5l4.4 4.9l-4.1 1.7zM951.1 840.8l2.6 6.1l-4.4 0.3zM982.8 844l-0.3 6.6l-4.1 -1.7zM1008.6 846.3l-1.6 6.4l-3.7 -2.4zM1034.3 848.6l-2.8 5.9l-3.1 -3.1zM1056.7 848.6l-2.8 5.9l-3.1 -3.1zM1079 848.6l-2.8 5.9l-3.1 -3.1zM1101.4 848.6l-2.8 5.9l-3.1 -3.1zM1123.7 848.6l-2.8 5.9l-3.1 -3.1zM1148.4 852l-3.9 5.3l-2.4 -3.7zM1173 855.4l-4.9 4.4l-1.7 -4.1zM1185.7 869.9l-6.4 -1.6l2.4 -3.7zM1198.3 884.4l-2.2 -6.2l4.4 -0zM1220.7 884.4l-2.2 -6.2l4.4 -0zM1243 884.4l-2.2 -6.2l4.4 -0zM1261.3 883.6l-0.9 -6.5l4.3 0.9zM1279.7 882.8l0.3 -6.6l4.1 1.7zM1298.6 880.5l1.6 -6.4l3.7 2.4zM706.6 906.8l-2.2 -6.2l4.4 -0zM726.9 906.4l-1.6 -6.4l4.4 0.4zM747.3 906l-0.9 -6.5l4.3 0.9zM765.9 904.4l0.3 -6.6l4.1 1.7zM784.6 902.9l1.6 -6.4l3.7 2.4zM799.7 899.7l3.7 -5.5l2.6 3.5zM814.8 896.5l4.9 -4.4l1.7 4.1zM840.2 881.2l6.5 -0.9l-0.9 4.3zM865.6 866l5.9 2.8l-3.1 3.1zM891.4 860.3l5.2 4l-3.7 2.4zM917.2 854.7l4.4 4.9l-4.1 1.7zM945.4 858.9l3.7 5.4l-4.3 1.1zM973.5 863.1l2.6 6.1l-4.4 0.3zM1003.4 869.4l-0.2 6.6l-4.1 -1.6zM1033.4 875.6l-3.7 5.4l-2.6 -3.6zM1055 874.5l-3.3 5.7l-2.9 -3.3zM1076.6 873.4l-2.8 5.9l-3.1 -3.1zM1100.2 872.1l-2.8 5.9l-3.1 -3.1zM1123.7 870.9l-2.8 5.9l-3.1 -3.1zM1140 876.3l-2.6 6l-3.2 -3zM1156.3 881.7l-1.1 4.5l-2.6 -1.7zM1177.3 894.2l-3.1 -5.8l4.3 -0.7zM1198.3 906.8l-2.2 -6.2l4.4 -0zM1220.7 908.5l-2.2 -6.2l4.4 -0zM1243 910.2l-2.2 -6.2l4.4 -0zM1266 909.3l-2.4 -6.1l4.4 -0.1zM1289 908.4l-2.6 -6.1l4.4 -0.3zM1307 907.8l-1.3 -6.4l4.4 0.6zM706.6 929.1l-2.2 -6.2l4.4 -0zM729 929.1l-2.2 -6.2l4.4 -0zM751.3 929.1l-2.2 -6.2l4.4 -0zM769.6 928.3l-0.9 -6.5l4.3 0.9zM788 927.5l0.3 -6.6l4.1 1.7zM801.4 923.2l3.2 -5.8l2.9 3.3zM814.8 918.8l4.9 -4.4l1.7 4.1zM840.2 903.6l6.5 -0.9l-0.9 4.3zM865.6 888.3l5.9 2.8l-3.1 3.1zM890.3 880.1l5.1 4.1l-3.7 2.3zM915.1 871.9l4.4 4.9l-4.1 1.7zM939.6 877.1l4.4 4.9l-4.1 1.7zM964.1 882.2l4.4 4.9l-4.1 1.7zM998.3 892.5l1.8 6.3l-4.4 -0.3zM1032.4 902.7l-4.9 4.4l-1.7 -4.1zM1053.3 900.5l-3.9 5.3l-2.4 -3.7zM1074.1 898.2l-2.8 5.9l-3.1 -3.1zM1098.9 895.7l-2.8 5.9l-3.1 -3.1zM1123.7 893.3l-2.8 5.9l-3.1 -3.1zM1131.7 900.7l1.8 6.3l-4.4 -0.3zM1139.6 908.1l6.2 -2.2l-0 4.4zM1169 918.6l1.6 -6.4l3.7 2.4zM1198.3 929.1l-2.2 -6.2l4.4 -0zM1220.7 932.6l-2.2 -6.2l4.4 -0zM1243 936.1l-2.2 -6.2l4.4 -0zM1270.7 935l-3.4 -5.7l4.3 -0.9zM1298.4 934l-4.4 -4.9l4.1 -1.7zM1315.4 935l-3.4 -5.7l4.3 -0.9zM712 953.9l-3.5 -5.6l4.3 -1zM731.6 952.7l-2.9 -5.9l4.4 -0.5zM751.3 951.5l-2.2 -6.2l4.4 -0zM769.6 950.7l-0.9 -6.5l4.3 0.9zM788 949.9l0.3 -6.6l4.1 1.7zM804.2 946.5l2.5 -6.1l3.3 2.9zM820.3 943.2l4.1 -5.2l2.3 3.7zM843 926.9l6.5 -1.1l-0.8 4.3zM865.6 910.7l5.9 2.8l-3.1 3.1zM890.3 902.4l5.1 4.1l-3.7 2.3zM915.1 894.2l4.4 4.9l-4.1 1.7zM939.6 899.4l4.4 4.9l-4.1 1.7zM964.1 904.6l4.4 4.9l-4.1 1.7zM998.5 916.2l1.6 6.4l-4.4 -0.4zM1033 927.8l-5.7 3.4l-0.9 -4.3zM1054.6 926.6l-5.3 3.9l-1.3 -4.2zM1076.1 925.5l-4.9 4.4l-1.7 -4.1zM1099.7 924.3l-4.7 4.6l-1.9 -4zM1123.3 923l-4.5 4.8l-2 -3.9zM1138.5 926.7l-4.5 4.8l-2 -3.9zM1178 940.6l-3.4 -5.7l4.3 -0.9zM1202.3 950.7l-3.4 -5.7l4.3 -0.9zM1222.7 954.6l-2.7 -6l4.4 -0.4zM1243 958.5l-2.2 -6.2l4.4 -0zM1270.7 957.4l-3.4 -5.7l4.3 -0.9zM1298.4 956.3l-4.4 -4.9l4.1 -1.7zM1315.4 957.4l-3.4 -5.7l4.3 -0.9zM717.3 978.7l-4.4 -4.9l4.1 -1.7zM734.3 976.2l-3.5 -5.6l4.3 -1zM751.3 973.8l-2.2 -6.2l4.4 -0zM769.6 973l-0.9 -6.5l4.3 0.9zM788 972.2l0.3 -6.6l4.1 1.7zM806.9 969.9l1.6 -6.4l3.7 2.4zM825.9 967.6l2.8 -5.9l3.1 3.1zM845.7 950.3l6.4 -1.3l-0.6 4.4zM865.6 933l5.9 2.8l-3.1 3.1zM890.3 924.8l5.1 4.1l-3.7 2.3zM915.1 916.6l4.4 4.9l-4.1 1.7zM939.6 921.8l4.4 4.9l-4.1 1.7zM964.1 926.9l4.4 4.9l-4.1 1.7zM998.8 939.9l1.4 6.4l-4.4 -0.6zM1033.5 952.8l-6.2 2.2l-0 -4.4zM1055.8 952.8l-6.2 2.2l-0 -4.4zM1078.2 952.8l-6.2 2.2l-0 -4.4zM1100.5 952.8l-6.2 2.2l-0 -4.4zM1122.9 952.8l-6.2 2.2l-0 -4.4zM1145.2 952.8l-6.2 2.2l-0 -4.4zM1167.6 952.8l-6.2 2.2l-0 -4.4zM1187 962.5l-6.1 -2.4l2.9 -3.3zM1206.3 972.2l-4.4 -4.9l4.1 -1.7zM1224.7 976.5l-3.2 -5.7l4.3 -0.7zM1243 980.8l-2.2 -6.2l4.4 -0zM1270.7 979.7l-3.4 -5.7l4.3 -0.9zM1298.4 978.7l-4.4 -4.9l4.1 -1.7zM1315.4 979.7l-3.4 -5.7l4.3 -0.9z"/>
<path stroke="#000" stroke-width="5.6" stroke-linecap="round" d="M952.5 684.6h0M974.8 684.6h0M997.2 684.6h0M952.5 707h0M974.8 707h0M997.2 707h0M840.7 729.3h0M863 729.3h0M885.4 729.3h0M907.8 729.3h0M1019.5 729.3h0M1041.8 729.3h0M1064.2 729.3h0M1086.5 729.3h0M1108.9 729.3h0M1131.2 729.3h0M1153.6 729.3h0M1176 729.3h0M1198.3 729.3h0M1220.7 729.3h0M1243 729.3h0M1265.3 729.3h0M1287.7 729.3h0M1310 729.3h0M1019.5 751.6h0M1041.8 751.6h0M1064.2 751.6h0M1086.5 751.6h0M1108.9 751.6h0M1131.2 751.6h0M1153.6 751.6h0M1176 751.6h0M1198.3 751.6h0M1220.7 751.6h0M1243 751.6h0M1265.3 751.6h0M1287.7 751.6h0M1019.5 774h0M1041.8 774h0M1064.2 774h0M1086.5 774h0M1108.9 774h0M1131.2 774h0M1153.6 774h0M1176 774h0M1198.3 774h0M1220.7 774h0M1243 774h0M1265.3 774h0M1287.7 774h0M1019.5 796.4h0M1041.8 796.4h0M1064.2 796.4h0M1086.5 796.4h0M1108.9 796.4h0M1131.2 796.4h0M1153.6 796.4h0M1176 796.4h0M1198.3 796.4h0M1220.7 796.4h0M1243 796.4h0M1265.3 796.4h0M1287.7 796.4h0M1019.5 818.7h0M1041.8 818.7h0M1064.2 818.7h0M1086.5 818.7h0M1108.9 818.7h0M1131.2 818.7h0M1153.6 818.7h0M1176 818.7h0M1198.3 818.7h0M1220.7 818.7h0M1243 818.7h0M1265.3 818.7h0M1287.7 818.7h0M773.6 841h0M796 841h0M818.4 841h0M840.7 841h0M1019.5 841h0M1041.8 841h0M1064.2 841h0M1086.5 841h0M1108.9 841h0M1131.2 841h0M1153.6 841h0M1176 841h0M1198.3 841h0M1220.7 841h0M1243 841h0M1265.3 841h0M1287.7 841h0M1310 841h0M773.6 863.4h0M796 863.4h0M818.4 863.4h0M840.7 863.4h0M1019.5 863.4h0M1041.8 863.4h0M1064.2 863.4h0M1086.5 863.4h0M1108.9 863.4h0M1131.2 863.4h0M1153.6 863.4h0M1176 863.4h0M1198.3 863.4h0M1220.7 863.4h0M1243 863.4h0M1265.3 863.4h0M1287.7 863.4h0M1310 863.4h0M773.6 885.8h0M796 885.8h0M818.4 885.8h0M840.7 885.8h0M1019.5 885.8h0M1041.8 885.8h0M1064.2 885.8h0M1086.5 885.8h0M1108.9 885.8h0M1131.2 885.8h0M1153.6 885.8h0M1176 885.8h0M1198.3 885.8h0M1220.7 885.8h0M1243 885.8h0M1265.3 885.8h0M1287.7 885.8h0M1310 885.8h0M840.7 908.1h0M1019.5 908.1h0M1041.8 908.1h0M1064.2 908.1h0M1086.5 908.1h0M1108.9 908.1h0M1131.2 908.1h0M1153.6 908.1h0M1176 908.1h0M1198.3 908.1h0M1220.7 908.1h0M1243 908.1h0M1265.3 908.1h0M1287.7 908.1h0M1310 908.1h0M1019.5 930.5h0M1041.8 930.5h0M1064.2 930.5h0M1086.5 930.5h0M1108.9 930.5h0M1131.2 930.5h0M1153.6 930.5h0M1176 930.5h0M1198.3 930.5h0M1220.7 930.5h0M1243 930.5h0M1265.3 930.5h0M1287.7 930.5h0M1310 930.5h0M1019.5 952.8h0M1041.8 952.8h0M1064.2 952.8h0M1086.5 952.8h0M1108.9 952.8h0M1131.2 952.8h0M1153.6 952.8h0M1176 952.8h0M1198.3 952.8h0M1220.7 952.8h0M1243 952.8h0M1265.3 952.8h0M1287.7 952.8h0M1310 952.8h0"/>
<rect x="1046.3" y="774.0" width="125.2" height="107.3" fill="none" stroke="#e3211c" stroke-width="2"/>
</g>
<rect x="706.6" y="684.6" width="612.4" height="268.2" fill="none" stroke="#000" stroke-width="1.3"/>
<line x1="703.1" y1="729.3" x2="706.6" y2="729.3" stroke="#000" stroke-width="1"/>
<text x="699.6" y="736.6" text-anchor="end" class="tk">5</text>
<line x1="703.1" y1="774.0" x2="706.6" y2="774.0" stroke="#000" stroke-width="1"/>
<text x="699.6" y="781.3" text-anchor="end" class="tk">0</text>
<line x1="703.1" y1="818.7" x2="706.6" y2="818.7" stroke="#000" stroke-width="1"/>
<text x="699.6" y="826.0" text-anchor="end" class="tk">-5</text>
<line x1="703.1" y1="863.4" x2="706.6" y2="863.4" stroke="#000" stroke-width="1"/>
<text x="699.6" y="870.7" text-anchor="end" class="tk">-10</text>
<line x1="703.1" y1="908.1" x2="706.6" y2="908.1" stroke="#000" stroke-width="1"/>
<text x="699.6" y="915.4" text-anchor="end" class="tk">-15</text>
<line x1="703.1" y1="952.8" x2="706.6" y2="952.8" stroke="#000" stroke-width="1"/>
<text x="699.6" y="960.1" text-anchor="end" class="tk">-20</text>
<line x1="706.6" y1="952.8" x2="706.6" y2="956.3" stroke="#000" stroke-width="1"/>
<text x="706.6" y="975.4" text-anchor="middle" class="tk">-10</text>
<line x1="796.0" y1="952.8" x2="796.0" y2="956.3" stroke="#000" stroke-width="1"/>
<text x="796.0" y="975.4" text-anchor="middle" class="tk">0</text>
<line x1="885.4" y1="952.8" x2="885.4" y2="956.3" stroke="#000" stroke-width="1"/>
<text x="885.4" y="975.4" text-anchor="middle" class="tk">10</text>
<line x1="974.8" y1="952.8" x2="974.8" y2="956.3" stroke="#000" stroke-width="1"/>
<text x="974.8" y="975.4" text-anchor="middle" class="tk">20</text>
<line x1="1064.2" y1="952.8" x2="1064.2" y2="956.3" stroke="#000" stroke-width="1"/>
<text x="1064.2" y="975.4" text-anchor="middle" class="tk">30</text>
<line x1="1153.6" y1="952.8" x2="1153.6" y2="956.3" stroke="#000" stroke-width="1"/>
<text x="1153.6" y="975.4" text-anchor="middle" class="tk">40</text>
<line x1="1243.0" y1="952.8" x2="1243.0" y2="956.3" stroke="#000" stroke-width="1"/>
<text x="1243.0" y="975.4" text-anchor="middle" class="tk">50</text>
<text x="708.1" y="678.2" class="tt">(H)_Day +6</text>
<clipPath id="cI"><rect x="1367.0" y="685.5" width="625.8" height="268.2"/></clipPath>
<g clip-path="url(#cI)">
<rect x="1367.0" y="685.5" width="625.8" height="268.2" fill="#97ff60"/>
<path fill="#0000ed" stroke="#0000ed" stroke-width="0.6" d="M1773.2 807.9l8.9 6.3l2.1 10.8l-1.8 10.7l1.2 10.7l0.6 1.5l2.3 9.2l-2.3 6.2l-2.4 4.6l-8.6 8.7l-11 -1.5l-4.1 -7.2l-4.5 -10.8l-0.6 -10.7l4.2 -10.7l3.2 -10.7l1.8 -6.5l3.1 -4.3z"/>
<path fill="#0020ff" stroke="#0020ff" stroke-width="0.6" d="M1784.2 714.5l6.3 3.2l4.7 3l3.1 7.7l1 10.7l-0.4 10.8l-1 10.7l-0.3 10.7l1.5 10.8l4.5 10.7l2.6 7.8l0.7 2.9l-0.7 4.8l-1.5 5.9l-1.4 10.8l1.1 10.7l-1.2 10.7l-3 10.7l-5 9.6l-0.6 1.2l-10.4 10.7l0 0l-10.1 10.7l-0.9 0.9l-11 2.4l-4.8 -3.3l-6.1 -7.1l-3.3 -3.6l-7.7 -8.3l-3.5 -2.4l-1.3 -10.8l3.6 -10.7l1.2 -2.7l3.8 -8l6.2 -10.7l1 -3.1l1.8 -7.7l0.8 -10.7l3.5 -10.7l3.6 -10.7l1.2 -3.1l3.1 -7.7l6 -10.7l1.9 -4.8l3.3 -5.9l0.2 -10.8l-1 -10.7l2.8 -10.7zM1765.3 814.2l-3.1 4.3l-1.8 6.5l-3.2 10.7l-4.2 10.7l0.6 10.7l4.5 10.8l4.1 7.2l11 1.5l8.6 -8.7l2.4 -4.6l2.3 -6.2l-2.3 -9.2l-0.6 -1.5l-1.2 -10.7l1.8 -10.7l-2.1 -10.8l-8.9 -6.3z"/>
<path fill="#0060ff" stroke="#0060ff" stroke-width="0.6" d="M1389 685.5l10.9 0l11 0l11 0l2.4 0l-2.4 1.8l-11 4.6l-11 1.3l-10.9 -1.5l-10.4 -6.2zM1773.2 693.4l11 -0.3l3.2 3.1l7.8 4.8l7.7 6l3.3 4.5l2.5 6.2l0.5 10.7l0.3 10.7l-0.1 10.8l-1 10.7l-0.3 10.7l3.6 10.8l5.4 9l1 1.7l2.6 10.7l-0.4 10.7l-0.1 10.8l0.4 10.7l-1.8 10.7l-1.7 3.1l-4.4 7.6l-6.5 9.5l-0.8 1.3l-10.2 10.2l-0.5 0.5l-10.1 10.7l-0.4 0.5l-9.5 10.3l-1.5 1.3l-11 3.4l-10.9 -2.7l-2.3 -2l-8.7 -10.7l-0.1 -0.1l-10.9 -7l-4.9 -3.7l-6.1 -10l-0.2 -0.7l0.2 -0.8l3.6 -10l6.2 -10.7l1.2 -4.6l2 -6.1l2.5 -10.7l5.7 -10.8l0.8 -5.8l0.3 -4.9l1.8 -10.7l5.4 -10.7l3.5 -4.2l3.5 -6.6l5.6 -10.7l1.8 -4.6l2.7 -6.1l0.5 -10.8l-1.7 -10.7l-1.5 -6.8l-0.8 -3.9l0.8 -10.4l0.1 -0.3l8.9 -10.8zM1778.5 717.7l-2.8 10.7l1 10.7l-0.2 10.8l-3.3 5.9l-1.9 4.8l-6 10.7l-3.1 7.7l-1.2 3.1l-3.6 10.7l-3.5 10.7l-0.8 10.7l-1.8 7.7l-1 3.1l-6.2 10.7l-3.8 8l-1.2 2.7l-3.6 10.7l1.3 10.8l3.5 2.4l7.7 8.3l3.3 3.6l6.1 7.1l4.8 3.3l11 -2.4l0.9 -0.9l10.1 -10.7l0 0l10.4 -10.7l0.6 -1.2l5 -9.6l3 -10.7l1.2 -10.7l-1.1 -10.7l1.4 -10.8l1.5 -5.9l0.7 -4.8l-0.7 -2.9l-2.6 -7.8l-4.5 -10.7l-1.5 -10.8l0.3 -10.7l1 -10.7l0.4 -10.8l-1 -10.7l-3.1 -7.7l-4.7 -3l-6.3 -3.2zM1992.8 685.5l0 10.7l0 2.3l-1.7 -2.3l-3.9 -10.7zM1663.4 914.4l11 0.7l7.7 6.4l3.3 3.6l5.7 7.1l5.3 5.6l10.9 4.3l2.4 0.9l5.6 10.7l-8 0l-10.9 0l-11 0l-11 0l-11 0l-10.9 0l-11 0l-11 0l-2.5 0l2.5 -8l1.6 -2.7l9.4 -9.6l1.4 -1.2l9.6 -7.7l3.2 -3z"/>
<path fill="#00a0ff" stroke="#00a0ff" stroke-width="0.6" d="M1378 685.5l0.6 0l10.4 6.2l10.9 1.5l11 -1.3l11 -4.6l2.4 -1.8l8.6 0l10.2 0l-8.3 10.7l-1.9 1.3l-11 3.9l-11 1.3l-11 0.4l-10.9 -0.4l-11 -1.6l-11 -2.6l0 -2.3l0 -10.7zM1762.2 686.5l0.7 -1l10.3 0l11 0l11 0l6.8 0l4.2 4.6l7.6 6.1l3.3 3.1l6.3 7.7l0.5 10.7l-1.8 10.7l-0.4 10.7l0.4 10.8l-1.3 10.7l0 10.7l4.7 10.8l2.6 5.9l1.9 4.8l1.3 10.7l-0.1 10.7l-0.2 10.8l0.1 10.7l-0.4 10.7l-2.5 10.7l-0.1 0.2l-7.7 10.6l-3.3 3.4l-6.2 7.3l-4.7 3.9l-9.7 6.8l-1.3 1.3l-6.1 9.5l-4.9 6.5l-5.1 4.2l-5.9 4.7l-11 3.4l-10.9 0.1l-11 -1l-4 -7.2l-5.1 -10.7l-1.9 -2l-11 -8.3l-0.5 -0.5l-9.1 -10.7l-1.4 -9.3l-0.1 -1.4l0.1 -0.5l3.6 -10.3l6.7 -10.7l0.7 -3.2l1.7 -7.5l-1.7 -10.4l0 -0.3l0 -0.4l2.2 -10.4l7.7 -10.7l1.1 -3.3l1.8 -7.4l0.5 -10.7l8.7 -10.4l0.3 -0.4l9.1 -10.7l1.6 -3.2l2.5 -7.5l0.7 -10.8l-1.7 -10.7l-1.5 -8.8l-0.4 -1.9l0.4 -3.2l0.7 -7.5l5.4 -10.8zM1771.2 696.2l-8.9 10.8l-0.1 0.3l-0.8 10.4l0.8 3.9l1.5 6.8l1.7 10.7l-0.5 10.8l-2.7 6.1l-1.8 4.6l-5.6 10.7l-3.5 6.6l-3.5 4.2l-5.4 10.7l-1.8 10.7l-0.3 4.9l-0.8 5.8l-5.7 10.8l-2.5 10.7l-2 6.1l-1.2 4.6l-6.2 10.7l-3.6 10l-0.2 0.8l0.2 0.7l6.1 10l4.9 3.7l10.9 7l0.1 0.1l8.7 10.7l2.3 2l10.9 2.7l11 -3.4l1.5 -1.3l9.5 -10.3l0.4 -0.5l10.1 -10.7l0.5 -0.5l10.2 -10.2l0.8 -1.3l6.5 -9.5l4.4 -7.6l1.7 -3.1l1.8 -10.7l-0.4 -10.7l0.1 -10.8l0.4 -10.7l-2.6 -10.7l-1 -1.7l-5.4 -9l-3.6 -10.8l0.3 -10.7l1 -10.7l0.1 -10.8l-0.3 -10.7l-0.5 -10.7l-2.5 -6.2l-3.3 -4.5l-7.7 -6l-7.8 -4.8l-3.2 -3.1l-11 0.3zM1981.8 685.5l5.4 0l3.9 10.7l1.7 2.3l0 8.5l0 10.2l-11 -9l-0.8 -1.2l-3.7 -10.8l-1.2 -10.7zM1663.4 894.8l11 0.8l7.3 4.5l3.7 2.6l6.7 8.1l4.3 5.4l7.1 5.3l3.8 2l11 -1.2l9 -0.8l2 -0.3l1.2 0.3l5.3 10.7l-0.8 10.8l-1.5 10.7l-4.2 0l-11 0l-3 0l-5.6 -10.7l-2.4 -0.9l-10.9 -4.3l-5.3 -5.6l-5.7 -7.1l-3.3 -3.6l-7.7 -6.4l-11 -0.7l-7.7 7.1l-3.2 3l-9.6 7.7l-1.4 1.2l-9.4 9.6l-1.6 2.7l-2.5 8l-8.5 0l-2 0l2 -6.9l1.3 -3.8l7.1 -10.8l2.6 -2.3l10.8 -8.4l0.2 -0.1l8.7 -10.6l2.3 -5.3l5 -5.4z"/>
<path fill="#00e0fb" stroke="#00e0fb" stroke-width="0.6" d="M1443.9 685.5l10.9 0l11 0l11 0l11 0l4.2 0l0.7 10.7l-0.8 10.8l-4.1 7l-5.6 3.7l-5.4 2.3l-9.3 8.4l-0.8 10.7l0.6 10.8l-1.5 3.4l-4.7 7.3l-6.3 4.4l-7.1 6.3l-3.8 5.2l-5 5.6l-6 4.3l-11 2.1l-11 -1.1l-7.7 -5.3l-1.3 -10.8l9 -8.7l2.9 -2l8.1 -7l2.8 -3.7l0.4 -10.8l-2 -10.7l-1.2 -3.6l-5.2 -7.1l-5.8 -1.9l-11 -0.7l-10.9 0.5l-11 0.8l-11 0.7l0 -10.1l0 -8.5l11 2.6l11 1.6l10.9 0.4l11 -0.4l11 -1.3l11 -3.9l1.9 -1.3l8.3 -10.7zM1751.3 688.1l1.3 -2.6l9.6 0l0.7 0l-0.7 1l-4.8 9.7l-5.4 10.8l-0.7 7.5l-0.4 3.2l0.4 1.9l1.5 8.8l1.7 10.7l-0.7 10.8l-2.5 7.5l-1.6 3.2l-9.1 10.7l-0.3 0.4l-8.7 10.4l-0.5 10.7l-1.8 7.4l-1.1 3.3l-7.7 10.7l-2.2 10.4l0 0.4l0 0.3l1.7 10.4l-1.7 7.5l-0.7 3.2l-6.7 10.7l-3.6 10.3l-0.1 0.5l0.1 1.4l1.4 9.3l9.1 10.7l0.5 0.5l11 8.3l1.9 2l5.1 10.7l4 7.2l11 1l10.9 -0.1l11 -3.4l5.9 -4.7l5.1 -4.2l4.9 -6.5l6.1 -9.5l1.3 -1.3l9.7 -6.8l4.7 -3.9l6.2 -7.3l3.3 -3.4l7.7 -10.6l0.1 -0.2l2.5 -10.7l0.4 -10.7l-0.1 -10.7l0.2 -10.8l0.1 -10.7l-1.3 -10.7l-1.9 -4.8l-2.6 -5.9l-4.7 -10.8l0 -10.7l1.3 -10.7l-0.4 -10.8l0.4 -10.7l1.8 -10.7l-0.5 -10.7l-6.3 -7.7l-3.3 -3.1l-7.6 -6.1l-4.2 -4.6l4.2 0l10.9 0l11 0l11 0l11 0l11 0l10.9 0l11 0l11 0l11 0l10.9 0l11 0l11 0l11 0l11 0l10.9 0l5.3 0l1.2 10.7l3.7 10.8l0.8 1.2l11 9l0 0.5l0 10.7l0 10.7l0 10.8l0 10.7l0 10.7l0 10.8l0 3.8l-6.4 -3.8l-4.6 -6l-2.4 -4.8l-8.6 -7.6l-4.4 -3.1l-6.5 -7.3l-2.3 -3.4l-8.7 -8.5l-11 -1.3l-11 1l-11 -0.7l-10.9 0.3l-11 8.3l-0.6 0.9l-7.7 10.7l-2.7 2l-10.5 8.7l-0.5 0.6l-7.2 10.2l-3.7 3l-11 4.2l-3.6 3.5l-2.9 10.7l0.4 10.7l0.2 10.8l-0.4 10.7l1.6 10.7l3 10.7l-2.4 10.8l-6.9 6.6l-4.7 4.1l-6.3 5.7l-4.9 5l-6.1 6l-6.3 4.8l-4.6 4.2l-5.1 6.5l-5.9 6.6l-3.8 4.1l-7.2 7.7l-2.7 3l-4.5 10.8l-1 10.7l-2.8 0l-11 0l-10.9 0l-11 0l-6.8 0l1.5 -10.7l0.8 -10.8l-5.3 -10.7l-1.2 -0.3l-2 0.3l-9 0.8l-11 1.2l-3.8 -2l-7.1 -5.3l-4.3 -5.4l-6.7 -8.1l-3.7 -2.6l-7.3 -4.5l-11 -0.8l-5.9 5.3l-5 5.4l-2.3 5.3l-8.7 10.6l-0.2 0.1l-10.8 8.4l-2.6 2.3l-7.1 10.8l-1.3 3.8l-2 6.9l-9 0l-0.5 0l0.5 -1.2l3.3 -9.5l5.4 -10.8l2.3 -3.3l8.5 -7.4l2.5 -2l9.1 -8.7l1.9 -6.1l1.4 -4.6l1.4 -10.8l8.2 -9.8l1.5 -0.9l9.4 -5.2l11 1l11 0l6.4 -6.5l4.6 -4.7l2.8 -6.1l7.2 -10.7l0.9 -2.8l2.2 -7.9l-0.9 -10.7l-0.7 -10.8l2.8 -10.7l6.9 -10.7l0.7 -10.7l0 -0.1l2.1 -10.7l8.3 -10.7l0.6 -0.8l9.5 -9.9l0.2 -10.8l-1.4 -10.7l1.9 -10.7l0.8 -2.3l1.9 -8.4l4.7 -10.8zM1375.6 814.2l2.4 6.9l0.9 3.9l-0.7 10.7l-0.2 4.5l-0.4 6.2l0.4 3.3l0.8 7.4l1.3 10.8l0.8 10.7l0.2 10.7l-0.1 10.8l-0.2 10.7l-0.1 10.7l0.1 10.7l0.2 10.8l0.1 10.7l-3.1 0l-11 0l0 -10.7l0 -10.8l0 -10.7l0 -10.7l0 -10.7l0 -10.8l0 -10.7l0 -10.7l0 -10.8l0 -10.7l0 -10.7l0 -10.7l0 -10.8l0 -5.8z"/>
<path fill="#30ffc7" stroke="#30ffc7" stroke-width="0.6" d="M1498.7 685.5l11 0l0.3 0l-0.3 4.5l-0.2 6.2l0.2 8.1l0.1 2.7l2.3 10.7l2.1 10.7l0.7 10.7l-0.3 10.8l-0.6 10.7l-0.3 10.7l0.7 10.8l0.2 10.7l-3.5 10.7l-1.4 1.4l-11 4.9l-5.6 4.4l-5.3 10.4l-0.2 0.4l-9 10.7l-1.8 0.7l-11 0.4l-5.2 -1.1l-5.8 -2.4l-10.9 -2.4l-11 2.1l-3.2 2.7l-7.8 8.2l-2.1 2.5l-8.9 8.9l-3.1 1.8l-7.9 7.3l-1.7 3.5l-2.7 10.7l-0.8 10.7l0.3 10.8l0.5 10.7l0.1 10.7l-0.2 10.7l-0.4 10.8l-0.2 10.7l-5.8 0l-7.9 0l-0.1 -10.7l-0.2 -10.8l-0.1 -10.7l0.1 -10.7l0.2 -10.7l0.1 -10.8l-0.2 -10.7l-0.8 -10.7l-1.3 -10.8l-0.8 -7.4l-0.4 -3.3l0.4 -6.2l0.2 -4.5l0.7 -10.7l-0.9 -3.9l-2.4 -6.9l-8.6 -5.8l0 -4.9l0 -10.7l0 -10.7l0 -10.8l0 -10.7l0 -10.7l0 -10.8l0 -10.7l0 -10.7l0 -0.6l11 -0.7l11 -0.8l10.9 -0.5l11 0.7l5.8 1.9l5.2 7.1l1.2 3.6l2 10.7l-0.4 10.8l-2.8 3.7l-8.1 7l-2.9 2l-9 8.7l1.3 10.8l7.7 5.3l11 1.1l11 -2.1l6 -4.3l5 -5.6l3.8 -5.2l7.1 -6.3l6.3 -4.4l4.7 -7.3l1.5 -3.4l-0.6 -10.8l0.8 -10.7l9.3 -8.4l5.4 -2.3l5.6 -3.7l4.1 -7l0.8 -10.8l-0.7 -10.7zM1740.3 685.5l11 0l1.3 0l-1.3 2.6l-4.4 8.1l-4.7 10.8l-1.9 8.4l-0.8 2.3l-1.9 10.7l1.4 10.7l-0.2 10.8l-9.5 9.9l-0.6 0.8l-8.3 10.7l-2.1 10.7l0 0.1l-0.7 10.7l-6.9 10.7l-2.8 10.7l0.7 10.8l0.9 10.7l-2.2 7.9l-0.9 2.8l-7.2 10.7l-2.8 6.1l-4.6 4.7l-6.4 6.5l-11 0l-11 -1l-9.4 5.2l-1.5 0.9l-8.2 9.8l-1.4 10.8l-1.4 4.6l-1.9 6.1l-9.1 8.7l-2.5 2l-8.5 7.4l-2.3 3.3l-5.4 10.8l-3.3 9.5l-0.5 1.2l-10.4 0l-0.4 0l0.4 -0.4l4.9 -10.3l5.4 -10.8l0.6 -1.7l5 -9l6 -7.2l4.9 -3.5l3.1 -10.7l-4.5 -10.8l1.7 -10.7l5.8 -2.1l11 -5.7l3 -2.9l6.2 -10.8l1.8 -2.2l10.9 -1.9l11 1.8l11 -2.9l5.1 -5.5l5.5 -10.7l-1.1 -10.7l-3.9 -10.8l-1.4 -10.7l2.6 -10.7l4.2 -3.2l9 -7.5l1.9 -2.6l2.5 -8.2l1.9 -10.7l0.6 -10.7l-2.5 -10.8l4.2 -10.7l4.3 -3.5l6.8 -7.2l4.2 -6.5l1.9 -4.2l3.1 -10.8l3.9 -10.7zM1894 749l11 -8.3l10.9 -0.3l11 0.7l11 -1l11 1.3l8.7 8.5l2.3 3.4l6.5 7.3l4.4 3.1l8.6 7.6l2.4 4.8l4.6 6l6.4 3.8l0 6.9l0 10.7l0 10.7l0 10.8l0 9.3l-9.5 -9.3l-1.5 -3.5l-3.3 -7.3l-7.7 -5.7l-6.4 -5l-4.5 -6.3l-3.4 -4.4l-7.6 -5.9l-11 -0.7l-11 0.5l-11 -0.3l-10.9 0.1l-11 5.6l-0.4 0.7l-2.2 10.7l0.2 10.7l1.7 10.8l0.6 10.7l-4.1 10.7l-6.8 7.2l-5 3.5l-6 4.4l-5.5 6.4l-5.4 6.2l-4.1 4.5l-6.9 6l-6 4.7l-5 5l-5.2 5.8l-5.8 6.7l-4.2 4l-6.8 6.6l-3.9 4.1l-7 6.4l-4.9 4.3l-6.1 4.9l-4.5 5.9l-4.1 10.7l-2.4 0l-8.2 0l1 -10.7l4.5 -10.8l2.7 -3l7.2 -7.7l3.8 -4.1l5.9 -6.6l5.1 -6.5l4.6 -4.2l6.3 -4.8l6.1 -6l4.9 -5l6.3 -5.7l4.7 -4.1l6.9 -6.6l2.4 -10.8l-3 -10.7l-1.6 -10.7l0.4 -10.7l-0.2 -10.8l-0.4 -10.7l2.9 -10.7l3.6 -3.5l11 -4.2l3.7 -3l7.2 -10.2l0.5 -0.6l10.5 -8.7l2.7 -2l7.7 -10.7z"/>
<path fill="#63ff94" stroke="#63ff94" stroke-width="0.6" d="M1509.7 690l0.3 -4.5l10.7 0l11 0l11 0l10.9 0l6.7 0l0.1 10.7l-1.3 10.8l-5.5 8.6l-4.1 2.1l-6.8 2.5l-9.9 8.2l-1.1 5.9l-0.6 4.8l0.6 9.7l0.1 1.1l0.9 10.7l0.2 10.7l-0.2 10.8l-0.1 10.7l0.6 10.7l1 10.7l2.6 10.8l-4.4 10.7l-0.7 0.1l-11 0.2l-3.5 -0.3l-7.5 -2l-6 2l-5 0.7l-10.9 5.5l-10.5 4.5l-0.5 0.2l-11 1.1l-11 -0.1l-10.9 0.1l-11 6l-2.9 3.4l-8.1 8.1l-3.3 2.7l-7.7 6.8l-2.5 3.9l-2.8 10.7l0.2 10.8l0.8 10.7l0.1 10.7l-0.2 10.7l-0.4 10.8l-0.2 10.7l-6 0l-5.1 0l0.2 -10.7l0.4 -10.8l0.2 -10.7l-0.1 -10.7l-0.5 -10.7l-0.3 -10.8l0.8 -10.7l2.7 -10.7l1.7 -3.5l7.9 -7.3l3.1 -1.8l8.9 -8.9l2.1 -2.5l7.8 -8.2l3.2 -2.7l11 -2.1l10.9 2.4l5.8 2.4l5.2 1.1l11 -0.4l1.8 -0.7l9 -10.7l0.2 -0.4l5.3 -10.4l5.6 -4.4l11 -4.9l1.4 -1.4l3.5 -10.7l-0.2 -10.7l-0.7 -10.8l0.3 -10.7l0.6 -10.7l0.3 -10.8l-0.7 -10.7l-2.1 -10.7l-2.3 -10.7l-0.1 -2.7l-0.2 -8.1zM1718.3 685.5l11 0l8.9 0l-3.9 10.7l-3.1 10.8l-1.9 4.2l-4.2 6.5l-6.8 7.2l-4.3 3.5l-4.2 10.7l2.5 10.8l-0.6 10.7l-1.9 10.7l-2.5 8.2l-1.9 2.6l-9 7.5l-4.2 3.2l-2.6 10.7l1.4 10.7l3.9 10.8l1.1 10.7l-5.5 10.7l-5.1 5.5l-11 2.9l-11 -1.8l-10.9 1.9l-1.8 2.2l-6.2 10.8l-3 2.9l-11 5.7l-5.8 2.1l-1.7 10.7l4.5 10.8l-3.1 10.7l-4.9 3.5l-6 7.2l-5 9l-0.6 1.7l-5.4 10.8l-4.9 10.3l-0.4 0.4l-10.6 0l-6 0l6 -6.7l2.7 -4l8.3 -9.9l0.4 -0.9l1.7 -10.7l0.9 -10.7l4.5 -10.7l1.9 -10.8l-0.6 -10.7l-0.6 -10.7l2.7 -10.8l0 0l11 -8.4l2.2 -2.3l5.8 -10.7l3 -3.4l11 -2.4l11 1.7l10.9 -0.9l4.8 -5.7l2 -10.8l0.5 -10.7l-1.5 -10.7l-1.7 -10.7l1.7 -10.8l5.2 -5.6l11 -3l4.1 -2.1l3.4 -10.7l-0.4 -10.8l0.7 -10.7l3.2 -4.6l7.7 -6.1l3.2 -1.7l9.7 -9l0 -10.8l-4.4 -10.7zM1894 792.1l11 -5.6l10.9 -0.1l11 0.3l11 -0.5l11 0.7l7.6 5.9l3.4 4.4l4.5 6.3l6.4 5l7.7 5.7l3.3 7.3l1.5 3.5l9.5 9.3l0 1.4l0 10.7l0 1.3l-11 1.1l-11 0.9l-10.9 -0.3l-11 -0.8l-11 -0.2l-11 0.2l-11 0.4l-10.9 4.5l-3.7 3.6l-7.3 6.1l-6.4 4.7l-4.6 3.5l-7.6 7.2l-3.4 5.8l-3.9 4.9l-7 6.7l-5.5 4.1l-5.5 3.9l-5.6 6.8l-5.4 6.8l-3.5 3.9l-7.5 7.1l-3.9 3.6l-7.1 6.3l-6 4.5l-4.9 4.5l-5.6 6.2l-5.4 0l-8.6 0l4.1 -10.7l4.5 -5.9l6.1 -4.9l4.9 -4.3l7 -6.4l3.9 -4.1l6.8 -6.6l4.2 -4l5.8 -6.7l5.2 -5.8l5 -5l6 -4.7l6.9 -6l4.1 -4.5l5.4 -6.2l5.5 -6.4l6 -4.4l5 -3.5l6.8 -7.2l4.1 -10.7l-0.6 -10.7l-1.7 -10.8l-0.2 -10.7l2.2 -10.7z"/>
<path fill="#97ff60" stroke="#97ff60" stroke-width="0.6" d="M1564.6 685.5l8.7 0l1.2 10.7l1.1 5.8l1.6 5l2.7 10.7l-0.1 10.7l-1 10.7l0.3 10.8l5.6 10.7l1.9 1.5l11 2.6l10.9 -0.7l11 -0.1l11 0.5l11 -2.7l1.2 -1.1l3.7 -10.7l-0.7 -10.8l1.2 -10.7l5.6 -5.9l6.9 -4.8l4 -3.3l5.6 -7.4l5.4 -6.5l7.6 -4.3l3.4 -2.2l7 -8.5l4 0l10.9 0l5.3 0l4.4 10.7l0 10.8l-9.7 9l-3.2 1.7l-7.7 6.1l-3.2 4.6l-0.7 10.7l0.4 10.8l-3.4 10.7l-4.1 2.1l-11 3l-5.2 5.6l-1.7 10.8l1.7 10.7l1.5 10.7l-0.5 10.7l-2 10.8l-4.8 5.7l-10.9 0.9l-11 -1.7l-11 2.4l-3 3.4l-5.8 10.7l-2.2 2.3l-11 8.4l0 0l-2.7 10.8l0.6 10.7l0.6 10.7l-1.9 10.8l-4.5 10.7l-0.9 10.7l-1.7 10.7l-0.4 0.9l-8.3 9.9l-2.7 4l-6 6.7l-5 0l-11 0l-8.3 0l-2.4 -10.7l0.8 -10.8l8.7 -10.7l1.2 -0.9l11 -6.6l2.5 -3.2l8.5 -9.5l0.8 -1.2l7.8 -10.8l2.1 -10.7l-1 -10.7l-3.4 -10.8l-6.3 -5.7l-11 -2.3l-11 -1.3l-11 -0.9l-10.9 -0.5l-0.3 0l-10.7 -0.3l-11 -0.7l-11 -0.7l-9.8 1.7l-1.2 0.2l-10.9 3.5l-11 3.5l-11 2.4l-5.5 1.1l-5.5 1.9l-10.9 6.8l-2.3 2.1l-8.7 9l-2.4 1.7l-8.6 7.1l-2.5 3.6l-2.2 10.8l-0.3 10.7l-0.2 10.7l0.3 10.7l1.6 10.8l2.6 10.7l-10.3 0l-5 0l0.2 -10.7l0.4 -10.8l0.2 -10.7l-0.1 -10.7l-0.8 -10.7l-0.2 -10.8l2.8 -10.7l2.5 -3.9l7.7 -6.8l3.3 -2.7l8.1 -8.1l2.9 -3.4l11 -6l10.9 -0.1l11 0.1l11 -1.1l0.5 -0.2l10.5 -4.5l10.9 -5.5l5 -0.7l6 -2l7.5 2l3.5 0.3l11 -0.2l0.7 -0.1l4.4 -10.7l-2.6 -10.8l-1 -10.7l-0.6 -10.7l0.1 -10.7l0.2 -10.8l-0.2 -10.7l-0.9 -10.7l-0.1 -1.1l-0.6 -9.7l0.6 -4.8l1.1 -5.9l9.9 -8.2l6.8 -2.5l4.1 -2.1l5.5 -8.6l1.3 -10.8l-0.1 -10.7zM1905 853.5l10.9 -4.5l11 -0.4l11 -0.2l11 0.2l11 0.8l10.9 0.3l11 -0.9l11 -1.1l0 9.4l0 1.5l-11 0.9l-11 0.5l-10.9 -0.1l-11 -0.6l-11 -0.9l-11 0.6l-11 3.6l-7.1 5.3l-3.8 4l-7.6 6.7l-3.4 8.3l-1.1 2.4l1.1 3.1l1.9 7.7l-1.9 7.5l-1.3 3.2l-9.7 3.8l-11 1.4l-10.9 3.1l-2.9 2.4l-8.1 7.5l-3.2 3.2l-7.8 6.4l-4.9 4.4l-6.1 8.3l-1.9 2.4l-9.1 0l-10.9 0l-5.6 0l5.6 -6.2l4.9 -4.5l6 -4.5l7.1 -6.3l3.9 -3.6l7.5 -7.1l3.5 -3.9l5.4 -6.8l5.6 -6.8l5.5 -3.9l5.5 -4.1l7 -6.7l3.9 -4.9l3.4 -5.8l7.6 -7.2l4.6 -3.5l6.4 -4.7l7.3 -6.1z"/>
<path fill="#caff2c" stroke="#caff2c" stroke-width="0.6" d="M1575.6 685.5l8.5 0l2.5 6.5l4.8 4.2l6.2 3.7l10.9 -1.2l5 -2.5l6 -4.9l3.9 -5.8l7.1 0l11 0l11 0l10.9 0l11 0l11 0l7 0l-7 8.5l-3.4 2.2l-7.6 4.3l-5.4 6.5l-5.6 7.4l-4 3.3l-6.9 4.8l-5.6 5.9l-1.2 10.7l0.7 10.8l-3.7 10.7l-1.2 1.1l-11 2.7l-11 -0.5l-11 0.1l-10.9 0.7l-11 -2.6l-1.9 -1.5l-5.6 -10.7l-0.3 -10.8l1 -10.7l0.1 -10.7l-2.7 -10.7l-1.6 -5l-1.1 -5.8l-1.2 -10.7zM1509.7 844.7l11 0.7l11 0.7l10.7 0.3l0.3 0l10.9 0.5l11 0.9l11 1.3l11 2.3l6.3 5.7l3.4 10.8l1 10.7l-2.1 10.7l-7.8 10.8l-0.8 1.2l-8.5 9.5l-2.5 3.2l-11 6.6l-1.2 0.9l-8.7 10.7l-0.8 10.8l2.4 10.7l-2.7 0l-10.9 0l-6.7 0l-2.6 -10.7l0.9 -10.8l8.4 -10l0.4 -0.7l10.5 -10.3l0.6 -0.4l10.4 -8.7l2.3 -2l8.7 -8.5l2.5 -2.3l7.9 -10.7l-1.6 -10.7l-8.8 -6.1l-10.6 -4.7l-0.4 0l-11 -2.9l-10.9 -1.3l-11 -0.2l-11 -0.3l-11 -0.5l-11 1.3l-10.9 3.5l-1.3 0.4l-9.7 4.4l-11 4.4l-3.9 2l-7.1 8.2l-2 2.5l-8.9 10l-0.9 0.7l-10.1 8.8l-1.4 2l-3.9 10.7l-0.9 10.7l1.6 10.7l4.6 8.4l2 2.4l9 10.3l0.3 0.4l-0.3 0l-11 0l-11 0l-0.7 0l-2.6 -10.7l-1.6 -10.8l-0.3 -10.7l0.2 -10.7l0.3 -10.7l2.2 -10.8l2.5 -3.6l8.6 -7.1l2.4 -1.7l8.7 -9l2.3 -2.1l10.9 -6.8l5.5 -1.9l5.5 -1.1l11 -2.4l11 -3.5l10.9 -3.5l1.2 -0.2zM1915.9 862.6l11 -3.6l11 -0.6l11 0.9l11 0.6l10.9 0.1l11 -0.5l11 -0.9l0 9.3l0 4.8l-11 -3.3l-11 -1l-10.9 1.1l-11 2.7l-11 -0.5l-11 0.2l-9.8 6.7l-1.2 1.7l-3.8 9l0.5 10.8l-0.3 10.7l-7.3 8.7l-4.3 2l-6.7 2l-11 1.9l-11 3.8l-4.5 3l-6.4 6.8l-4.7 4l-6.3 5.9l-4.1 4.8l-6.9 0l-11 0l-1.9 0l1.9 -2.4l6.1 -8.3l4.9 -4.4l7.8 -6.4l3.2 -3.2l8.1 -7.5l2.9 -2.4l10.9 -3.1l11 -1.4l9.7 -3.8l1.3 -3.2l1.9 -7.5l-1.9 -7.7l-1.1 -3.1l1.1 -2.4l3.4 -8.3l7.6 -6.7l3.8 -4z"/>
<path fill="#feed00" stroke="#feed00" stroke-width="0.6" d="M1586.6 685.5l11 0l10.9 0l11 0l3.9 0l-3.9 5.8l-6 4.9l-5 2.5l-10.9 1.2l-6.2 -3.7l-4.8 -4.2l-2.5 -6.5zM1487.8 856.7l10.9 -3.5l11 -1.3l11 0.5l11 0.3l11 0.2l10.9 1.3l11 2.9l0.4 0l10.6 4.7l8.8 6.1l1.6 10.7l-7.9 10.7l-2.5 2.3l-8.7 8.5l-2.3 2l-10.4 8.7l-0.6 0.4l-10.5 10.3l-0.4 0.7l-8.4 10l-0.9 10.8l2.6 10.7l-4.3 0l-11 0l-11 0l-11 0l-10.9 0l-11 0l-11 0l-11 0l-10.6 0l-0.3 -0.4l-9 -10.3l-2 -2.4l-4.6 -8.4l-1.6 -10.7l0.9 -10.7l3.9 -10.7l1.4 -2l10.1 -8.8l0.9 -0.7l8.9 -10l2 -2.5l7.1 -8.2l3.9 -2l11 -4.4l9.7 -4.4zM1482.2 867.9l-5.4 4.9l-6 5.8l-5 8.3l-1.5 2.4l-9.5 9.1l-2.1 1.7l-8.8 7.4l-2.4 3.3l-2.3 10.7l3.7 10.7l1 1.2l10.9 7.9l7.8 1.7l3.2 0.8l7.5 -0.8l3.5 -0.4l11 0.2l10.9 0l11 -5.3l3.4 -5.3l7.6 -9.2l1.4 -1.5l9.6 -8l2.8 -2.7l8.2 -9.7l1.1 -1l9.8 -8.8l2 -2l7.3 -10.7l-1.1 -10.7l-8.2 -4.6l-10.9 -2.9l-11 -0.2l-11 0l-11 -0.6l-11 1.6l-10.9 4.2zM1926.9 871.9l11 -0.2l11 0.5l11 -2.7l10.9 -1.1l11 1l11 3.3l0 5.9l0 10.7l0 10.8l0 10.7l0 10.7l0 10.7l0 10.8l0 10.7l-11 0l-11 0l-10.9 0l-11 0l-11 0l-11 0l-11 0l-10.9 0l-11 0l-11 0l-11 0l-10.9 0l-11 0l-4.1 0l4.1 -4.8l6.3 -5.9l4.7 -4l6.4 -6.8l4.5 -3l11 -3.8l11 -1.9l6.7 -2l4.3 -2l7.3 -8.7l0.3 -10.7l-0.5 -10.8l3.8 -9l1.2 -1.7zM1967.4 878.6l-7.5 6.8l-2.4 3.9l2.4 4.3l10.6 6.5l0.3 0.1l0.4 -0.1l10.6 -6.7l2.1 -4.1l-2.1 -3.4l-7.7 -7.3l-3.3 -0.9z"/>
<path fill="#ffb200" stroke="#ffb200" stroke-width="0.6" d="M1487.8 865.4l10.9 -4.2l11 -1.6l11 0.6l11 0l11 0.2l10.9 2.9l8.2 4.6l1.1 10.7l-7.3 10.7l-2 2l-9.8 8.8l-1.1 1l-8.2 9.7l-2.8 2.7l-9.6 8l-1.4 1.5l-7.6 9.2l-3.4 5.3l-11 5.3l-10.9 0l-11 -0.2l-3.5 0.4l-7.5 0.8l-3.2 -0.8l-7.8 -1.7l-10.9 -7.9l-1 -1.2l-3.7 -10.7l2.3 -10.7l2.4 -3.3l8.8 -7.4l2.1 -1.7l9.5 -9.1l1.5 -2.4l5 -8.3l6 -5.8l5.4 -4.9zM1970.8 877.7l3.3 0.9l7.7 7.3l2.1 3.4l-2.1 4.1l-10.6 6.7l-0.4 0.1l-0.3 -0.1l-10.6 -6.5l-2.4 -4.3l2.4 -3.9l7.5 -6.8z"/>
<path fill="none" stroke="#000" stroke-width="1.05" stroke-linejoin="round" d="M1362.5 719.5L1367 722.6L1375.9 729.3L1388.5 735.6L1398.3 732.9L1411.7 728.4L1420.6 728L1429.6 729.3L1437.6 732.4L1447.5 728.4L1456.4 723.9L1465.3 721.3L1471.6 718.6L1480.5 717.7L1489.5 716.8L1499.3 718.6L1505.6 727.5L1510 735.6L1519.9 735.6L1532.4 733.8L1538.6 740.9L1543.1 752.5L1541.3 762.4L1536.9 771.3L1539.5 780.3L1545.4 791.9L1553 801.7L1561 811.6L1565.5 821.4L1569.9 832.1L1574.4 844.6L1578 857.1L1578.9 866.1L1578 875.9L1572.6 888.4L1568.2 898.3L1565.5 911.7L1562.8 922.4L1563.7 934L1565.5 943L1569 950.1L1572.6 958.2M1914.1 681L1910.6 685.5L1907 698.9L1895.4 712.3L1883.7 730.2L1872.1 737.4L1861.4 749.9L1854.2 755.2L1845.3 764.2L1838.1 771.3L1828.3 790.1L1818.5 797.2L1811.3 810.7L1806.8 816.9L1804.2 828.5L1807.7 835.7L1807.7 846.4L1811.3 859.8L1817.6 867.9L1818.5 877.7L1818.5 886.6L1819.4 900.1L1816.7 910.8L1809.5 920.6L1796.1 929.6L1787.2 934L1778.2 943L1771.1 951L1767.5 958.2M1897.1 882.2L1902.5 893.8L1906.1 910.8L1903.4 917.9L1900.7 925.1L1898 934L1894.5 944.8L1890.9 958.2L1852.4 958.2L1852.4 944.8L1849.8 935.8L1852.4 926.9L1854.2 920.6L1861.4 917.9L1870.3 915.3L1878.4 909L1884.6 901.8L1889.1 894.7L1894.5 885.8L1897.1 882.2M1740.7 777.6L1747 773.1L1755.9 772.2L1761.3 776.7L1760.4 783.8L1757.7 792.8L1751.4 797.2L1742.5 797.2L1738.9 788.3L1740.7 782.1L1740.7 777.6M1716.6 804.4L1719.2 804.4L1721 815.1L1723.7 827.6L1730 837.5L1735.3 849.1L1733.5 852.7L1729.1 849.1L1725.5 838.4L1720.1 829.4L1717.4 817.8L1716.6 804.4M1761.3 859.8L1763.9 860.7L1766.6 873.2L1769.3 882.2L1772 893.8L1771.1 902.7L1768.4 902.7L1764.8 893.8L1762.1 882.2L1760.4 870.6L1761.3 859.8M1729.1 764.2L1737.1 755.2L1734.4 754.3L1727.3 762.4L1729.1 764.2M1777.3 733.8L1780.9 745.4L1783.6 752.5L1780 748.1L1776.5 739.1L1777.3 733.8M1715.7 790.1L1718.3 790.1L1718.3 798.1L1715.7 796.4L1715.7 790.1M1454.6 717.7L1458.2 710.5L1456.4 703.4L1451 698L1445.7 700.7L1452.8 707L1454.6 717.7M1711.2 851.8L1716.6 850.9L1717.4 858.9L1713 858L1711.2 851.8M1696 934.9L1706.7 928.7L1715.7 923.3L1712.1 926L1702.2 932.2L1696 934.9"/><path fill="none" stroke="#000" stroke-width="0.8" stroke-linejoin="round" d="M1389.3 735.6L1388.5 725.7L1381.3 717.7L1380.4 707L1383.1 698.9L1385.8 681M1380.4 707L1371.5 698.9L1364.3 698.9L1358.1 697.1M1428.7 729.3L1431.4 712.3L1434 701.6L1432.3 690L1431.4 681M1467.1 720.4L1461.8 713.2L1460.9 700.7L1459.1 681M1470.7 719.5L1470.7 694.4L1468.9 681M1480.5 717.7L1480.5 694.4L1488.6 681M1533.3 733.8L1542.2 716.8L1554.7 715.9L1563.7 703.4L1572.6 690L1577.1 681M1544 755.2L1557.4 754.3L1575.3 755.2L1586 756.1L1599.4 759.7L1601.2 754.3L1604.8 743.6L1622.7 743.6M1557.4 754.3L1557.4 766L1541.3 766M1557.4 754.3L1572.6 762.4L1581.6 762.4L1585.1 789.2L1581.6 796.4L1568.2 796.4L1559.2 806.2L1556.5 809.8M1586 681L1586 716.8L1590.5 730.2L1599.4 755.2M1565.5 821.4L1572.6 826.8L1593.2 813.3L1601.2 794.6L1614.6 779.4L1618.2 770.4L1622.7 743.6L1630.7 730.2L1644.1 736.5L1660.2 732.9L1675.4 729.3L1688.8 728.4L1701.4 729.3L1715.7 735.6L1732.6 743.6L1751.4 740.9L1760.4 737.4M1569.9 828.5L1599.4 828.5L1603.9 842L1612.8 847.3L1626.3 846.4L1630.7 837.5L1651.3 840.2L1651.3 859.8L1655.8 873.2L1671 873.2L1682.6 875L1693.3 881.3L1699.6 878.6L1710.3 884.9L1715.7 894.7L1722.8 892.9L1722.8 884L1711.2 873.2L1711.2 859.8L1730.9 849.1M1671 873.2L1671 891.1L1653.1 891.1L1653.1 919.7L1664.7 931.4L1681.7 934M1562.8 929.6L1577.1 926.9L1621.8 930.5L1644.1 938.5L1664.7 931.4M1644.1 938.5L1644.1 971.6M1681.7 934L1697.8 934.9L1711.2 922.4L1728.2 914.4L1750.5 924.2L1750.5 940.3L1747.8 958.2M1681.7 934L1688.8 940.3L1702.2 958.2M1728.2 914.4L1726.4 905.4L1750.5 896.5L1753.2 886.6L1754.1 871.5L1751.4 859.8L1750.5 858.9L1735.3 851.8M1748.7 896.5L1759.5 903.6L1764.8 905.4L1772 918.8L1771.1 927.8L1776.5 917.9L1777.3 906.3L1772 895.6M1768.4 877.7L1787.2 878.6L1800.6 875.9L1817.6 867.9M1732.6 743.6L1736.2 755.2M1727.3 763.3L1723.7 770.4L1721 787.4L1715.7 787.4M1721 787.4L1729.1 783.8L1760.4 783.8L1792.5 801.7L1806.8 816M1729.1 783.8L1731.8 796.4L1728.2 800.8L1731.8 804.4L1724.6 813.3L1719.2 815.1M1715.7 796.4L1723.7 799.9L1728.2 800.8M1760.4 783.8L1760.4 773.1L1764.8 766L1769.3 757L1763.9 737.4L1777.3 733.8L1785.4 735.6L1796.1 742.7L1805.1 743.6L1814 737.4L1831 739.1L1822.9 748.1L1822.9 783.8L1828.3 790.1M1831 739.1L1845.3 734.7L1858.7 730.2L1872.1 716.8L1884.6 703.4L1867.6 699.8L1849.8 694.4L1839 685.5L1836.3 681M1777.3 733.8L1766.6 716.8L1751.4 705.2L1753.2 699.8L1761.3 698L1761.3 681M1595 707.9L1617.3 703.4L1626.3 694.4L1648.6 681M1666.5 697.1L1679.9 683.7L1688.8 681M1701.4 729.3L1684.4 712.3L1666.5 697.1L1657.5 681"/>
<path fill="none" stroke="#000" stroke-width="1.7" d="M1367 685.5l0 -14.8M1389.3 685.5l0 -14.8M1411.7 685.5l0 -14.8M1434 685.5l0 -14.8M1456.4 685.5l0 -14.8M1478.8 685.5l0 -11.3M1501.1 685.5l0 -7.8M1545.8 685.5l0 7.8M1568.2 685.5l0 7.8M1590.5 685.5l0 7.8M1612.8 685.5l2.6 6.2M1635.2 685.5l5.5 5.5M1657.5 685.5l5.5 5.5M1679.9 685.5l5.5 5.5M1702.2 685.5l5.5 5.5M1724.6 685.5l5.5 5.5M1747 685.5l0.5 -0.2M1769.3 685.5l0 -7.8M1791.7 685.5l1.3 -0.9M1814 685.5l7.2 3M1836.3 685.5l7.2 3M1858.7 685.5l7.2 3M1881 685.5l7.2 3M1903.4 685.5l7.2 3M1925.8 685.5l7.2 3M1948.1 685.5l7.2 3M1970.4 685.5l6.3 4.2M1992.8 685.5l5.5 5.5M1367 707.9l-7.2 -14.8M1389.3 707.9l-6.1 -13.5M1411.7 707.9l-5.1 -12.2M1434 707.9l-5.1 -12.2M1456.4 707.9l-5.1 -12.2M1478.8 707.9l-0.4 -0.5M1501.1 707.9l0 0.8M1523.5 707.9l1.5 7.4M1545.8 707.9l3.7 13.9M1568.2 707.9l3.2 12.3M1590.5 707.9l2.6 10.7M1612.8 707.9l5.2 9.1M1635.2 707.9l8 8M1657.5 707.9l6.8 6.8M1679.9 707.9l5.5 5.5M1702.2 707.9l5.5 5.5M1724.6 707.9l5.5 5.5M1747 707.9l0.5 -0.2M1769.3 707.9l0 -7.8M1791.7 707.9l0.9 -1M1814 707.9l4 1.1M1836.3 707.9l6.5 3.5M1858.7 707.9l8.9 6.5M1881 707.9l8.9 6.5M1903.4 707.9l8.9 6.5M1925.8 707.9l8.9 6.5M1948.1 707.9l8.9 6.5M1970.4 707.9l8.4 7.2M1992.8 707.9l8 8M1367 730.2l-15.4 -15.4M1389.3 730.2l-12.9 -12.9M1411.7 730.2l-10.5 -10.5M1434 730.2l-10.5 -10.5M1456.4 730.2l-10.5 -10.5M1478.8 730.2l-2.8 2.5M1501.1 730.2l0 21.8M1523.5 730.2l4.1 20.9M1545.8 730.2l8.3 20.1M1568.2 730.2l7 16.9M1590.5 730.2l5.7 13.7M1612.8 730.2l8 12M1635.2 730.2l10.5 10.5M1657.5 730.2l8 8M1679.9 730.2l5.5 5.5M1702.2 730.2l5.5 5.5M1724.6 730.2l5.5 5.5M1747 730.2l0.5 -0.2M1769.3 730.2l0 -7.8M1791.7 730.2l0.7 -1.5M1814 730.2l0.8 0M1836.3 730.2l5.8 3.9M1858.7 730.2l10.5 10.5M1881 730.2l10.5 10.5M1903.4 730.2l10.5 10.5M1925.8 730.2l10.5 10.5M1948.1 730.2l10.5 10.5M1970.4 730.2l10.5 10.5M1992.8 730.2l10.5 10.5M1367 752.5l-11.5 -6.8M1389.3 752.5l-10.2 -5.7M1411.7 752.5l-8.9 -4.6M1434 752.5l-3.8 -5.9M1456.4 752.5l0 -8.6M1478.8 752.5l0 3.2M1501.1 752.5l0 27.4M1523.5 752.5l5.2 26.2M1545.8 752.5l10.5 25.3M1568.2 752.5l8.2 17.3M1590.5 752.5l5.7 9.4M1612.8 752.5l5.2 9.1M1635.2 752.5l4.6 8.9M1657.5 752.5l1.8 1.8M1679.9 752.5l0.5 -0.2M1814 752.5l0.8 0M1836.3 752.5l3.7 3M1858.7 752.5l6.5 8.9M1881 752.5l7.2 10.4M1903.4 752.5l8 12M1925.8 752.5l6.5 12.1M1948.1 752.5l5.1 12.2M1970.4 752.5l4.8 10.5M1992.8 752.5l4.6 8.9M1367 774.9l-7.8 0M1389.3 774.9l-7.8 0M1411.7 774.9l-7.8 0M1434 774.9l0.1 -1.2M1456.4 774.9l10.5 -10.5M1478.8 774.9l4.2 6.9M1501.1 774.9l0 33M1523.5 774.9l6.3 31.6M1545.8 774.9l12.6 30.5M1568.2 774.9l9.5 17.6M1590.5 774.9l5.5 5.5M1612.8 774.9l2.6 6.2M1635.2 774.9l0 7.8M1679.9 774.9l0 -7.8M1702.2 774.9l-2.6 -10.7M1724.6 774.9l-5.7 -13.7M1747 774.9l-0.6 -1M1769.3 774.9l0 0.8M1814 774.9l0.8 0M1836.3 774.9l1.9 2M1858.7 774.9l3 7.2M1881 774.9l4.3 10.4M1903.4 774.9l5.7 13.7M1925.8 774.9l2.8 14.1M1948.1 774.9l0 14.8M1970.4 774.9l0 11.3M1992.8 774.9l0 7.8M1367 797.2l-8.9 4.6M1389.3 797.2l-8.9 4.6M1411.7 797.2l-8.9 4.6M1434 797.2l-0.9 0.8M1478.8 797.2l-1.4 13.8M1501.1 797.2l-6.3 31.6M1523.5 797.2l3.1 30.8M1545.8 797.2l12.6 30.5M1568.2 797.2l7.9 21.8M1590.5 797.2l3.4 13M1612.8 797.2l1.5 2.7M1657.5 797.2l3.8 -3.4M1679.9 797.2l8.5 -8.1M1702.2 797.2l5.2 -9.3M1724.6 797.2l2.2 -11M1747 797.2l0.7 -1.3M1791.7 797.2l0.5 0.2M1814 797.2l0.8 0M1836.3 797.2l3.7 3M1858.7 797.2l6.5 8.9M1881 797.2l9.3 9.9M1903.4 797.2l12.3 10.9M1925.8 797.2l10.6 11M1948.1 797.2l9 11.1M1970.4 797.2l8.7 9.5M1992.8 797.2l8.5 8.1M1367 819.6l-10.5 10.5M1389.3 819.6l-10.5 10.5M1411.7 819.6l-10.5 10.5M1434 819.6l-8 12M1456.4 819.6l-5.7 13.7M1478.8 819.6l-9.1 22.1M1501.1 819.6l-12.6 30.5M1523.5 819.6l0 30M1545.8 819.6l12.6 30.5M1568.2 819.6l6.1 26.1M1590.5 819.6l0 21.8M1612.8 819.6l0.4 0.4M1635.2 819.6l5.7 -13.7M1657.5 819.6l12.3 -10.9M1679.9 819.6l20.1 -8.3M1702.2 819.6l15.1 -9.5M1724.6 819.6l10.5 -10.5M1747 819.6l5.8 -3.9M1769.3 819.6l0.8 0M1791.7 819.6l0.8 0M1814 819.6l0.8 0M1836.3 819.6l5.8 3.9M1858.7 819.6l10.5 10.5M1881 819.6l15.1 9.5M1903.4 819.6l20.1 8.3M1925.8 819.6l20.1 8.3M1948.1 819.6l20.1 8.3M1970.4 819.6l20.1 8.3M1992.8 819.6l20.1 8.3M1367 842l-9.5 15.1M1389.3 842l-9.5 15.1M1411.7 842l-9.5 15.1M1434 842l-9.9 14.8M1456.4 842l-10.3 14.5M1478.8 842l-13.3 16.7M1501.1 842l-16.4 18.8M1523.5 842l-5.8 9.1M1545.8 842l0.2 0.5M1590.5 842l-2.1 -1.1M1612.8 842l0.1 -5.6M1635.2 842l5.7 -13.7M1657.5 842l14.8 -12.2M1679.9 842l25.3 -10.5M1702.2 842l20.2 -10.1M1724.6 842l15.1 -9.5M1747 842l12.8 -6.3M1769.3 842l10.5 -3.4M1791.7 842l10.5 -3.4M1814 842l10.5 -3.4M1836.3 842l1.4 0.6M1858.7 842l-1.1 5.4M1881 842l0.2 4.2M1903.4 842l1.2 3.5M1925.8 842l1.2 3.5M1948.1 842l1.2 3.5M1970.4 842l1.2 3.5M1992.8 842l1.2 3.5M1367 864.3l-8.3 20.1M1389.3 864.3l-8.3 20.1M1411.7 864.3l-8.3 20.1M1434 864.3l-11.8 17.7M1456.4 864.3l-15.4 15.4M1478.8 864.3l-17.7 11.8M1501.1 864.3l-20.1 8.3M1523.5 864.3l-12.6 -5.2M1545.8 864.3l-8.3 -20.1M1568.2 864.3l-10.5 -25.3M1590.5 864.3l-12.6 -30.5M1612.8 864.3l-2.7 -21.7M1635.2 864.3l5.7 -13.7M1657.5 864.3l17.2 -13.4M1679.9 864.3l30.5 -12.6M1702.2 864.3l25.3 -10.5M1724.6 864.3l20.1 -8.3M1747 864.3l20.1 -8.3M1769.3 864.3l20.1 -8.3M1791.7 864.3l20.1 -8.3M1814 864.3l20.1 -8.3M1858.7 864.3l-13.7 5.7M1881 864.3l-13.7 5.7M1903.4 864.3l-13.7 5.7M1925.8 864.3l-13.7 5.7M1948.1 864.3l-13.7 5.7M1970.4 864.3l-13.7 5.7M1992.8 864.3l-13.7 5.7M1367 886.6l-4.1 20.9M1389.3 886.6l-6.2 20.5M1411.7 886.6l-8.3 20.1M1434 886.6l-10.1 18.9M1456.4 886.6l-11.8 17.7M1478.8 886.6l-14.7 14.7M1501.1 886.6l-17.7 11.8M1523.5 886.6l-13 -2.6M1545.8 886.6l-11.8 -17.7M1568.2 886.6l-12.3 -24M1590.5 886.6l-12.6 -30.5M1612.8 886.6l-2.7 -21.7M1635.2 886.6l5.7 -13.7M1657.5 886.6l14.8 -12.2M1679.9 886.6l25.3 -10.5M1702.2 886.6l22.7 -9.4M1724.6 886.6l20.1 -8.3M1747 886.6l20.1 -8.3M1769.3 886.6l20.1 -8.3M1791.7 886.6l7.2 -3M1836.3 886.6l-5.6 2.3M1858.7 886.6l-16.9 7M1881 886.6l-15.5 4.8M1903.4 886.6l-14.1 2.8M1925.8 886.6l-12.4 2.7M1948.1 886.6l-10.7 2.6M1970.4 886.6l-10.7 2.6M1992.8 886.6l-10.7 2.6M1367 909l0 21.8M1389.3 909l-4.1 20.9M1411.7 909l-8.3 20.1M1434 909l-8.3 20.1M1456.4 909l-8.3 20.1M1478.8 909l-11.8 17.7M1501.1 909l-15.4 15.4M1523.5 909l-13.6 0M1545.8 909l-15.4 -15.4M1568.2 909l-14.1 -22.7M1590.5 909l-12.6 -30.5M1612.8 909l-2.7 -21.7M1635.2 909l5.7 -13.7M1657.5 909l12.3 -10.9M1679.9 909l20.1 -8.3M1702.2 909l20.1 -8.3M1724.6 909l20.1 -8.3M1747 909l20.1 -8.3M1769.3 909l20.1 -8.3M1814 909l-20.1 8.3M1836.3 909l-20.1 8.3M1858.7 909l-20.1 8.3M1881 909l-17.4 4M1903.4 909l-14.8 0M1925.8 909l-11.3 0M1948.1 909l-7.8 0M1970.4 909l-7.8 0M1992.8 909l-7.8 0M1367 931.4l0 21.8M1389.3 931.4l-2.1 21.3M1411.7 931.4l-4.1 20.9M1434 931.4l-6 10.8M1456.4 931.4l-7.1 3.1M1478.8 931.4l-2.2 4.8M1501.1 931.4l1.8 9.2M1523.5 931.4l-2.4 -0.6M1545.8 931.4l-15.4 -15.4M1568.2 931.4l-13 -20.2M1590.5 931.4l-10.5 -25.3M1612.8 931.4l-5.5 -20.8M1635.2 931.4l-1 -16.4M1657.5 931.4l6.6 -12.2M1679.9 931.4l15.1 -9.5M1702.2 931.4l16 -8.2M1724.6 931.4l16.9 -7M1747 931.4l12.7 -9M1769.3 931.4l9 -11.1M1791.7 931.4l-0.7 -0.3M1814 931.4l-20.1 8.3M1836.3 931.4l-20.5 6.2M1858.7 931.4l-20.9 4.1M1881 931.4l-17.8 2M1903.4 931.4l-14.8 0M1925.8 931.4l-11.3 0M1948.1 931.4l-7.8 0M1970.4 931.4l-7.8 0M1992.8 931.4l-7.8 0M1367 953.7l0 21.8M1389.3 953.7l0 21.8M1411.7 953.7l0 21.8M1434 953.7l-2.8 2.5M1456.4 953.7l-10.5 -10.5M1478.8 953.7l0.6 -0.2M1501.1 953.7l20.1 8.3M1523.5 953.7l0.3 -0.5M1545.8 953.7l-15.4 -15.4M1568.2 953.7l-11.8 -17.7M1590.5 953.7l-8.3 -20.1M1612.8 953.7l-8.3 -20.1M1635.2 953.7l-8.3 -20.1M1657.5 953.7l1.4 -14.2M1679.9 953.7l10.5 -10.5M1702.2 953.7l12 -8M1724.6 953.7l13.7 -5.7M1747 953.7l6.3 -9.4M1769.3 953.7l0 -14.8M1791.7 953.7l-7.2 -2.9M1814 953.7l-20.1 8.3M1836.3 953.7l-20.9 4.1M1858.7 953.7l-21.8 0M1881 953.7l-18.3 0M1903.4 953.7l-14.8 0M1925.8 953.7l-11.3 0M1948.1 953.7l-7.8 0M1970.4 953.7l-7.8 0M1992.8 953.7l-7.8 0"/>
<path fill="#000" d="M1367 664.5l2.2 6.2l-4.4 -0zM1389.3 664.5l2.2 6.2l-4.4 -0zM1411.7 664.5l2.2 6.2l-4.4 -0zM1434 664.5l2.2 6.2l-4.4 -0zM1456.4 664.5l2.2 6.2l-4.4 -0zM1478.8 668l2.2 6.2l-4.4 -0zM1501.1 671.5l2.2 6.2l-4.4 -0zM1545.8 699.5l-2.2 -6.2l4.4 -0zM1568.2 699.5l-2.2 -6.2l4.4 -0zM1590.5 699.5l-2.2 -6.2l4.4 -0zM1617.8 697.4l-4.4 -4.9l4.1 -1.7zM1645.1 695.4l-5.9 -2.8l3.1 -3.1zM1667.4 695.4l-5.9 -2.8l3.1 -3.1zM1689.8 695.4l-5.9 -2.8l3.1 -3.1zM1712.1 695.4l-5.9 -2.8l3.1 -3.1zM1734.5 695.4l-5.9 -2.8l3.1 -3.1zM1751.9 683.4l-3.8 3.4l-1.3 -3.2zM1769.3 671.5l2.2 6.2l-4.4 -0zM1798.1 681.2l-3.9 5.3l-2.4 -3.7zM1826.9 690.9l-6.6 -0.3l1.7 -4.1zM1849.3 690.9l-6.6 -0.3l1.7 -4.1zM1871.6 690.9l-6.6 -0.3l1.7 -4.1zM1894 690.9l-6.6 -0.3l1.7 -4.1zM1916.3 690.9l-6.6 -0.3l1.7 -4.1zM1938.7 690.9l-6.6 -0.3l1.7 -4.1zM1961 690.9l-6.6 -0.3l1.7 -4.1zM1981.9 693.1l-6.4 -1.6l2.4 -3.7zM2002.7 695.4l-5.9 -2.8l3.1 -3.1zM1357.1 687.5l4.7 4.6l-4 1.9zM1380.7 688.7l4.6 4.7l-4 1.8zM1404.3 689.9l4.4 4.9l-4.1 1.7zM1426.6 689.9l4.4 4.9l-4.1 1.7zM1449 689.9l4.4 4.9l-4.1 1.7zM1475 702.4l5.1 3.7l-3.5 2.4zM1501.1 714.9l-2.2 -6.2l4.4 -0zM1526.1 721.3l-3.4 -5.7l4.3 -0.9zM1551.2 727.8l-3.7 -5.4l4.2 -1.1zM1572.8 726.2l-3.7 -5.5l4.3 -1.1zM1594.5 724.6l-3.6 -5.5l4.3 -1zM1621 722.4l-5 -4.3l3.8 -2.2zM1647.6 720.2l-5.9 -2.8l3.1 -3.1zM1668.7 719l-5.9 -2.8l3.1 -3.1zM1689.8 717.7l-5.9 -2.8l3.1 -3.1zM1712.1 717.7l-5.9 -2.8l3.1 -3.1zM1734.5 717.7l-5.9 -2.8l3.1 -3.1zM1751.9 705.8l-3.8 3.4l-1.3 -3.2zM1769.3 693.9l2.2 6.2l-4.4 -0zM1796.6 702.2l-2.4 6.1l-3.3 -2.9zM1824 710.5l-6.6 0.5l1.1 -4.2zM1848.3 714.2l-6.5 -1l2.1 -3.9zM1872.6 718l-6.3 -1.9l2.6 -3.6zM1894.9 718l-6.3 -1.9l2.6 -3.6zM1917.3 718l-6.3 -1.9l2.6 -3.6zM1939.6 718l-6.3 -1.9l2.6 -3.6zM1962 718l-6.3 -1.9l2.6 -3.6zM1983.6 719.1l-6.1 -2.4l2.9 -3.3zM2005.2 720.2l-5.9 -2.8l3.1 -3.1zM1347.2 710.4l5.9 2.8l-3.1 3.1zM1372 712.9l5.9 2.8l-3.1 3.1zM1396.9 715.4l5.9 2.8l-3.1 3.1zM1419.2 715.4l5.9 2.8l-3.1 3.1zM1441.6 715.4l5.9 2.8l-3.1 3.1zM1471.3 736.8l3.2 -5.8l2.9 3.3zM1501.1 758.2l-2.2 -6.2l4.4 -0zM1528.8 757.1l-3.4 -5.7l4.3 -0.9zM1556.5 756.1l-4.4 -4.9l4.1 -1.7zM1577.5 752.8l-4.4 -4.9l4.1 -1.7zM1598.5 749.6l-4.4 -4.9l4.1 -1.7zM1624.3 747.3l-5.3 -3.9l3.7 -2.4zM1650 745l-5.9 -2.8l3.1 -3.1zM1669.9 742.6l-5.9 -2.8l3.1 -3.1zM1689.8 740.1l-5.9 -2.8l3.1 -3.1zM1712.1 740.1l-5.9 -2.8l3.1 -3.1zM1734.5 740.1l-5.9 -2.8l3.1 -3.1zM1751.9 728.1l-3.8 3.4l-1.3 -3.2zM1769.3 716.2l2.2 6.2l-4.4 -0zM1795.2 723.2l-0.8 6.5l-3.9 -2zM1821 730.2l-6.2 2.2l-0 -4.4zM1847.3 737.6l-6.4 -1.7l2.5 -3.6zM1873.5 745l-5.9 -2.8l3.1 -3.1zM1895.9 745l-5.9 -2.8l3.1 -3.1zM1918.2 745l-5.9 -2.8l3.1 -3.1zM1940.6 745l-5.9 -2.8l3.1 -3.1zM1962.9 745l-5.9 -2.8l3.1 -3.1zM1985.3 745l-5.9 -2.8l3.1 -3.1zM2007.6 745l-5.9 -2.8l3.1 -3.1zM1350.1 742.7l6.5 1.2l-2.2 3.8zM1373.7 743.9l6.5 1.1l-2.1 3.9zM1397.3 745.1l6.5 0.9l-2 3.9zM1426.8 741.4l5.2 4l-3.7 2.4zM1456.4 737.7l2.2 6.2l-4.4 -0zM1478.8 761.9l-2.2 -6.2l4.4 -0zM1501.1 786.1l-2.2 -6.2l4.4 -0zM1529.9 784.9l-3.4 -5.7l4.3 -0.9zM1558.7 783.6l-4.4 -4.9l4.1 -1.7zM1579.1 775.4l-4.7 -4.6l4 -1.9zM1599.5 767.2l-5.1 -4.1l3.8 -2.3zM1621 767.1l-5 -4.3l3.8 -2.2zM1642.6 767l-4.8 -4.5l3.9 -2zM1663.7 758.7l-5.9 -2.8l3.1 -3.1zM1684.8 750.5l-3.8 3.4l-1.3 -3.2zM1705.2 749.1l-1.6 4l-2.2 -1.9zM1725.5 747.8l0.7 4.6l-3 -0.6zM1747.4 748.4l0.9 3.9l-2.6 -0.3zM1769.3 749l1.1 3.1l-2.2 -0zM1795.2 750.8l-2.6 2.7l-1.1 -2.2zM1821 752.5l-6.2 2.2l-0 -4.4zM1844.9 759.5l-6.2 -2.2l2.8 -3.4zM1868.8 766.4l-5.4 -3.7l3.6 -2.6zM1891.8 768.1l-5.3 -3.8l3.6 -2.5zM1914.8 769.7l-5.3 -3.9l3.7 -2.4zM1935.2 770.1l-4.9 -4.4l3.9 -2.1zM1955.5 770.5l-4.4 -4.9l4.1 -1.7zM1977.9 768.7l-4.6 -4.7l4 -1.8zM2000.2 767l-4.8 -4.5l3.9 -2zM1353 774.9l6.2 -2.2l-0 4.4zM1375.3 774.9l6.2 -2.2l-0 4.4zM1397.7 774.9l6.2 -2.2l-0 4.4zM1434.5 767.5l1.8 6.3l-4.4 -0.3zM1471.2 760.1l-2.8 5.9l-3.1 -3.1zM1486.2 787.1l-5.1 -4.1l3.8 -2.3zM1501.1 814.1l-2.2 -6.2l4.4 -0zM1531 812.6l-3.4 -5.7l4.3 -0.9zM1560.8 811.1l-4.4 -4.9l4.1 -1.7zM1580.6 798l-4.9 -4.4l3.9 -2.1zM1600.4 784.8l-5.9 -2.8l3.1 -3.1zM1617.8 786.8l-4.4 -4.9l4.1 -1.7zM1635.2 788.9l-2.2 -6.2l4.4 -0zM1679.9 760.9l2.2 6.2l-4.4 -0zM1698.2 758.2l3.6 5.5l-4.3 1zM1716.6 755.5l4.4 4.9l-4.1 1.7zM1742.9 768.7l5.2 4l-3.7 2.4zM1769.3 781.9l-2.2 -6.2l4.4 -0zM1795.2 778.4l-4.3 -2l2.2 -2.2zM1821 774.9l-6.2 2.2l-0 -4.4zM1842.5 781.4l-5.9 -3l3.2 -3zM1864.1 787.8l-4.4 -4.9l4.1 -1.7zM1887.7 791.1l-4.4 -4.9l4.1 -1.7zM1911.4 794.3l-4.4 -4.9l4.1 -1.7zM1929.8 795.1l-3.4 -5.7l4.3 -0.9zM1948.1 795.9l-2.2 -6.2l4.4 -0zM1970.4 792.4l-2.2 -6.2l4.4 -0zM1992.8 788.9l-2.2 -6.2l4.4 -0zM1352.6 804.7l4.5 -4.8l2 3.9zM1374.9 804.7l4.5 -4.8l2 3.9zM1397.3 804.7l4.5 -4.8l2 3.9zM1428.5 802.1l3.2 -5.7l2.9 3.3zM1459.8 799.5l-3.8 -1l1.5 -2.2zM1476.7 817.2l-1.6 -6.4l4.4 0.4zM1493.6 835l-0.9 -6.5l4.3 0.9zM1527.2 834.2l-2.8 -5.9l4.4 -0.4zM1560.8 833.5l-4.4 -4.9l4.1 -1.7zM1578.1 824.8l-4.2 -5.1l4.1 -1.5zM1595.4 816.2l-3.7 -5.4l4.3 -1.1zM1617.3 805.4l-4.9 -4.4l3.9 -2.1zM1639.2 794.5l-2.8 3.7l-1.7 -2.6zM1666 789.7l-3.2 5.8l-2.9 -3.3zM1692.8 784.9l-3 5.9l-3 -3.2zM1710.4 782.5l-1.1 6.5l-3.8 -2.1zM1728 780.1l0.9 6.5l-4.3 -0.9zM1750.4 790.4l-0.8 6.5l-3.9 -2zM1772.8 800.8l-4.3 -2l2.2 -2.2zM1796.9 799l-5.3 0.1l1.1 -3.4zM1821 797.2l-6.2 2.2l-0 -4.4zM1844.9 804.2l-6.2 -2.2l2.8 -3.4zM1868.8 811.1l-5.4 -3.7l3.6 -2.6zM1894.6 811.7l-5.8 -3l3.2 -3zM1920.4 812.3l-6.1 -2.5l2.9 -3.3zM1940.7 812.7l-5.9 -2.9l3.2 -3.1zM1961 813.1l-5.6 -3.4l3.4 -2.8zM1983.4 811.4l-5.8 -3.1l3.2 -3zM2005.7 809.6l-6 -2.7l3 -3.2zM1352.2 834.4l2.8 -5.9l3.1 3.1zM1374.5 834.4l2.8 -5.9l3.1 3.1zM1396.9 834.4l2.8 -5.9l3.1 3.1zM1422.6 836.7l1.6 -6.4l3.7 2.4zM1448.4 839l0.3 -6.6l4.1 1.7zM1467.2 847.4l0.3 -6.6l4.1 1.7zM1486.1 855.8l0.3 -6.6l4.1 1.7zM1523.5 855.8l-2.2 -6.2l4.4 -0zM1560.8 855.8l-4.4 -4.9l4.1 -1.7zM1575.7 851.7l-3.6 -5.5l4.3 -1zM1590.5 847.6l-2.2 -6.2l4.4 -0zM1616.9 823.9l-5 -2.6l2.7 -2.6zM1643.2 800.2l-0.3 6.6l-4.1 -1.7zM1674.5 804.5l-3.2 5.8l-2.9 -3.3zM1705.8 808.9l-4.9 4.4l-1.7 -4.1zM1722.6 806.8l-4.1 5.2l-2.3 -3.7zM1739.4 804.8l-2.8 5.9l-3.1 -3.1zM1757.9 812.2l-3.9 5.3l-2.5 -3.6zM1776.3 819.6l-6.2 2.2l-0 -4.4zM1798.7 819.6l-6.2 2.2l-0 -4.4zM1821 819.6l-6.2 2.2l-0 -4.4zM1847.3 827l-6.4 -1.7l2.5 -3.6zM1873.5 834.4l-5.9 -2.8l3.1 -3.1zM1901.4 832.4l-6.4 -1.4l2.3 -3.7zM1929.3 830.3l-6.6 -0.3l1.7 -4.1zM1951.6 830.3l-6.6 -0.3l1.7 -4.1zM1974 830.3l-6.6 -0.3l1.7 -4.1zM1996.3 830.3l-6.6 -0.3l1.7 -4.1zM2018.7 830.3l-6.6 -0.3l1.7 -4.1zM1354.2 862.3l1.4 -6.4l3.7 2.3zM1376.6 862.3l1.4 -6.4l3.7 2.3zM1398.9 862.3l1.4 -6.4l3.7 2.3zM1420.7 861.9l1.6 -6.4l3.7 2.4zM1442.5 861.6l1.8 -6.3l3.6 2.5zM1461.6 863.5l2.1 -6.2l3.4 2.7zM1480.7 865.4l2.4 -6.1l3.3 2.9zM1514.3 856.3l1.5 -6.4l3.7 2.4zM1547.9 847.1l-3.6 -4l3.3 -1.4zM1565.5 842.5l2.2 -1.3l0.3 1.7zM1583 837.8l6.5 1l-2.1 3.9zM1613.1 830.2l2.1 6.2l-4.4 -0.1zM1643.2 822.5l-0.3 6.6l-4.1 -1.7zM1677.1 825.8l-3.4 5.6l-2.8 -3.4zM1710.9 829.1l-4.9 4.4l-1.7 -4.1zM1728 829.1l-4.6 4.7l-2 -3.9zM1745 829.2l-4.1 5.2l-2.3 -3.7zM1765.3 832.9l-4.6 4.7l-1.9 -3.9zM1785.7 836.6l-5.2 4l-1.4 -4.2zM1808.1 836.6l-5.2 4l-1.4 -4.2zM1830.4 836.6l-5.2 4l-1.4 -4.2zM1843.4 845l-6.6 -0.4l1.7 -4zM1856.4 853.4l-0.9 -6.5l4.3 0.9zM1881.5 852.4l-2.5 -6.1l4.4 -0.2zM1906.6 851.3l-4.1 -5.1l4.2 -1.4zM1929 851.3l-4.1 -5.1l4.2 -1.4zM1951.3 851.3l-4.1 -5.1l4.2 -1.4zM1973.7 851.3l-4.1 -5.1l4.2 -1.4zM1996 851.3l-4.1 -5.1l4.2 -1.4zM1356.3 890.2l0.3 -6.6l4.1 1.7zM1378.6 890.2l0.3 -6.6l4.1 1.7zM1401 890.2l0.3 -6.6l4.1 1.7zM1418.8 887.1l1.6 -6.4l3.7 2.4zM1436.6 884.1l2.8 -5.9l3.1 3.1zM1455.9 879.6l3.9 -5.3l2.4 3.7zM1475.2 875l4.9 -4.4l1.7 4.1zM1505.2 856.7l6.6 0.3l-1.7 4.1zM1535.1 838.4l4.4 4.9l-4.1 1.7zM1555.3 833.3l4.4 4.9l-4.1 1.7zM1575.5 828.1l4.4 4.9l-4.1 1.7zM1609.4 836.5l3 5.9l-4.4 0.5zM1643.2 844.9l-0.3 6.6l-4.1 -1.7zM1679.7 847.1l-3.5 5.5l-2.7 -3.5zM1716.1 849.3l-4.9 4.4l-1.7 -4.1zM1733.3 851.4l-4.9 4.4l-1.7 -4.1zM1750.5 853.6l-4.9 4.4l-1.7 -4.1zM1772.8 853.6l-4.9 4.4l-1.7 -4.1zM1795.2 853.6l-4.9 4.4l-1.7 -4.1zM1817.5 853.6l-4.9 4.4l-1.7 -4.1zM1839.9 853.6l-4.9 4.4l-1.7 -4.1zM1839.6 863l-2.5 2.2l-0.9 -2.1zM1839.3 872.3l4.9 -4.4l1.7 4.1zM1861.6 872.3l4.9 -4.4l1.7 4.1zM1884 872.3l4.9 -4.4l1.7 4.1zM1906.3 872.3l4.9 -4.4l1.7 4.1zM1928.7 872.3l4.9 -4.4l1.7 4.1zM1951 872.3l4.9 -4.4l1.7 4.1zM1973.4 872.3l4.9 -4.4l1.7 4.1zM1361.6 913.6l-0.9 -6.5l4.3 0.9zM1381.3 913.1l-0.3 -6.6l4.2 1.3zM1401 912.5l0.3 -6.6l4.1 1.7zM1421.1 911l1 -6.5l3.9 2.1zM1441.1 909.5l1.6 -6.4l3.7 2.4zM1459.7 905.7l2.8 -5.9l3.1 3.1zM1478.3 901.9l3.9 -5.3l2.4 3.7zM1504.4 882.9l6.5 -0.9l-0.9 4.3zM1530.5 863.8l5.3 3.9l-3.7 2.4zM1553 857.1l4.8 4.5l-3.9 2zM1575.5 850.4l4.4 4.9l-4.1 1.7zM1609.4 858.8l3 5.9l-4.4 0.5zM1643.2 867.2l-0.3 6.6l-4.1 -1.7zM1677.1 870.5l-3.4 5.6l-2.8 -3.4zM1710.9 873.8l-4.9 4.4l-1.7 -4.1zM1730.7 874.9l-4.9 4.4l-1.7 -4.1zM1750.5 875.9l-4.9 4.4l-1.7 -4.1zM1772.8 875.9l-4.9 4.4l-1.7 -4.1zM1795.2 875.9l-4.9 4.4l-1.7 -4.1zM1804.6 881.3l-4.9 4.4l-1.7 -4.1zM1825 891.3l4.9 -4.4l1.7 4.1zM1836.1 896l4.9 -4.4l1.7 4.1zM1859.6 893.3l5.3 -4l1.3 4.2zM1883.2 890.7l5.7 -3.4l0.9 4.3zM1907.3 890.7l5.6 -3.5l0.9 4.3zM1931.4 890.7l5.5 -3.6l1 4.3zM1953.7 890.7l5.5 -3.6l1 4.3zM1976.1 890.7l5.5 -3.6l1 4.3zM1367 937l-2.2 -6.2l4.4 -0zM1384 935.9l-0.9 -6.5l4.3 0.9zM1401 934.9l0.3 -6.6l4.1 1.7zM1423.3 934.9l0.3 -6.6l4.1 1.7zM1445.7 934.9l0.3 -6.6l4.1 1.7zM1463.5 931.8l1.6 -6.4l3.7 2.4zM1481.3 928.8l2.8 -5.9l3.1 3.1zM1503.7 909l6.2 -2.2l-0 4.4zM1526 889.2l5.9 2.8l-3.1 3.1zM1550.7 881l5.1 4.1l-3.7 2.3zM1575.5 872.8l4.4 4.9l-4.1 1.7zM1609.4 881.2l3 5.9l-4.4 0.5zM1643.2 889.6l-0.3 6.6l-4.1 -1.7zM1674.5 893.9l-3.2 5.8l-2.9 -3.3zM1705.8 898.3l-4.9 4.4l-1.7 -4.1zM1728.1 898.3l-4.9 4.4l-1.7 -4.1zM1750.5 898.3l-4.9 4.4l-1.7 -4.1zM1772.8 898.3l-4.9 4.4l-1.7 -4.1zM1795.2 898.3l-4.9 4.4l-1.7 -4.1zM1788.1 919.7l4.9 -4.4l1.7 4.1zM1810.5 919.7l4.9 -4.4l1.7 4.1zM1832.8 919.7l4.9 -4.4l1.7 4.1zM1857.6 914.4l5.6 -3.5l1 4.3zM1882.4 909l6.2 -2.2l-0 4.4zM1908.2 909l6.2 -2.2l-0 4.4zM1934.1 909l6.2 -2.2l-0 4.4zM1956.4 909l6.2 -2.2l-0 4.4zM1978.8 909l6.2 -2.2l-0 4.4zM1367 959.4l-2.2 -6.2l4.4 -0zM1386.7 958.8l-1.6 -6.4l4.4 0.4zM1406.3 958.3l-0.9 -6.5l4.3 0.9zM1425 947.6l1.1 -6.5l3.8 2.1zM1443.6 936.9l4.8 -4.5l1.7 4zM1473.9 941.7l0.6 -6.5l4 1.9zM1504.1 946.6l-3.4 -5.7l4.3 -0.9zM1515.1 929.1l6.6 -0.5l-1.2 4.2zM1526 911.6l5.9 2.8l-3.1 3.1zM1551.8 905.9l5.2 4l-3.7 2.4zM1577.6 900.3l4.4 4.9l-4.1 1.7zM1605.8 904.5l3.7 5.4l-4.3 1.1zM1633.9 908.7l2.6 6.1l-4.4 0.3zM1667.1 913.6l-1 6.5l-3.9 -2.1zM1700.3 918.6l-4.1 5.2l-2.3 -3.7zM1723.7 920.3l-4.5 4.8l-2 -3.9zM1747.2 922l-4.9 4.4l-1.7 -4.1zM1764.7 918.7l-3.8 5.4l-2.5 -3.6zM1782.2 915.5l-2.2 6.2l-3.4 -2.8zM1785.2 928.8l6.6 0.2l-1.6 4.1zM1788.1 942.1l4.9 -4.4l1.7 4.1zM1809.9 939.4l5.3 -3.9l1.3 4.2zM1831.8 936.7l5.7 -3.4l0.9 4.3zM1857.1 934l5.9 -2.9l0.5 4.4zM1882.4 931.4l6.2 -2.2l-0 4.4zM1908.2 931.4l6.2 -2.2l-0 4.4zM1934.1 931.4l6.2 -2.2l-0 4.4zM1956.4 931.4l6.2 -2.2l-0 4.4zM1978.8 931.4l6.2 -2.2l-0 4.4zM1367 981.7l-2.2 -6.2l4.4 -0zM1389.3 981.7l-2.2 -6.2l4.4 -0zM1411.7 981.7l-2.2 -6.2l4.4 -0zM1426.6 960.3l3.2 -5.8l2.9 3.3zM1441.6 938.9l5.9 2.8l-3.1 3.1zM1484.3 951.6l-4.3 3.6l-1.3 -3.5zM1527 964.4l-6.6 -0.3l1.7 -4.1zM1526.5 949.2l-1.3 5.1l-2.9 -1.9zM1526 933.9l5.9 2.8l-3.1 3.1zM1552.9 930.9l5.3 3.9l-3.7 2.4zM1579.8 927.8l4.4 4.9l-4.1 1.7zM1602.1 927.8l4.4 4.9l-4.1 1.7zM1624.5 927.8l4.4 4.9l-4.1 1.7zM1659.6 933.3l1.6 6.4l-4.4 -0.4zM1694.7 938.9l-2.8 5.9l-3.1 -3.1zM1719.4 942.3l-3.9 5.3l-2.4 -3.7zM1744 945.7l-4.9 4.4l-1.7 -4.1zM1756.7 939.2l-1.6 6.4l-3.7 -2.4zM1769.3 932.7l2.2 6.2l-4.4 -0zM1778.7 948.6l6.6 0.2l-1.6 4.1zM1788.1 964.4l4.9 -4.4l1.7 4.1zM1809.4 959.1l5.7 -3.4l0.9 4.3zM1830.7 953.7l6.2 -2.2l-0 4.4zM1856.5 953.7l6.2 -2.2l-0 4.4zM1882.4 953.7l6.2 -2.2l-0 4.4zM1908.2 953.7l6.2 -2.2l-0 4.4zM1934.1 953.7l6.2 -2.2l-0 4.4zM1956.4 953.7l6.2 -2.2l-0 4.4zM1978.8 953.7l6.2 -2.2l-0 4.4z"/>
<path stroke="#000" stroke-width="5.6" stroke-linecap="round" d="M1612.8 730.2h0M1635.2 730.2h0M1657.5 730.2h0M1679.9 730.2h0M1702.2 730.2h0M1724.6 730.2h0M1747 730.2h0M1769.3 730.2h0M1791.7 730.2h0M1814 730.2h0M1836.3 730.2h0M1970.4 730.2h0M1992.8 730.2h0M1612.8 752.5h0M1635.2 752.5h0M1657.5 752.5h0M1679.9 752.5h0M1791.7 752.5h0M1814 752.5h0M1836.3 752.5h0M1858.7 752.5h0M1612.8 774.9h0M1635.2 774.9h0M1657.5 774.9h0M1679.9 774.9h0M1791.7 774.9h0M1814 774.9h0M1836.3 774.9h0M1858.7 774.9h0M1612.8 797.2h0M1635.2 797.2h0M1657.5 797.2h0M1679.9 797.2h0M1791.7 797.2h0M1814 797.2h0M1836.3 797.2h0M1858.7 797.2h0M1612.8 819.6h0M1635.2 819.6h0M1657.5 819.6h0M1679.9 819.6h0M1769.3 819.6h0M1791.7 819.6h0M1814 819.6h0M1836.3 819.6h0M1434 842h0M1456.4 842h0M1478.8 842h0M1501.1 842h0M1612.8 842h0M1635.2 842h0M1657.5 842h0M1679.9 842h0M1769.3 842h0M1791.7 842h0M1814 842h0M1836.3 842h0M1434 864.3h0M1456.4 864.3h0M1478.8 864.3h0M1501.1 864.3h0M1612.8 864.3h0M1635.2 864.3h0M1657.5 864.3h0M1679.9 864.3h0M1769.3 864.3h0M1791.7 864.3h0M1814 864.3h0M1836.3 864.3h0M1434 886.6h0M1456.4 886.6h0M1478.8 886.6h0M1501.1 886.6h0M1612.8 886.6h0M1635.2 886.6h0M1657.5 886.6h0M1679.9 886.6h0M1769.3 886.6h0M1791.7 886.6h0M1814 886.6h0M1836.3 886.6h0M1501.1 909h0M1612.8 909h0M1635.2 909h0M1657.5 909h0M1791.7 909h0M1814 909h0M1836.3 909h0M1501.1 931.4h0M1501.1 953.7h0"/>
<rect x="1706.7" y="774.9" width="125.2" height="107.3" fill="none" stroke="#e3211c" stroke-width="2"/>
</g>
<rect x="1367.0" y="685.5" width="625.8" height="268.2" fill="none" stroke="#000" stroke-width="1.3"/>
<line x1="1363.5" y1="730.2" x2="1367.0" y2="730.2" stroke="#000" stroke-width="1"/>
<text x="1360.0" y="737.5" text-anchor="end" class="tk">5</text>
<line x1="1363.5" y1="774.9" x2="1367.0" y2="774.9" stroke="#000" stroke-width="1"/>
<text x="1360.0" y="782.2" text-anchor="end" class="tk">0</text>
<line x1="1363.5" y1="819.6" x2="1367.0" y2="819.6" stroke="#000" stroke-width="1"/>
<text x="1360.0" y="826.9" text-anchor="end" class="tk">-5</text>
<line x1="1363.5" y1="864.3" x2="1367.0" y2="864.3" stroke="#000" stroke-width="1"/>
<text x="1360.0" y="871.6" text-anchor="end" class="tk">-10</text>
<line x1="1363.5" y1="909.0" x2="1367.0" y2="909.0" stroke="#000" stroke-width="1"/>
<text x="1360.0" y="916.3" text-anchor="end" class="tk">-15</text>
<line x1="1363.5" y1="953.7" x2="1367.0" y2="953.7" stroke="#000" stroke-width="1"/>
<text x="1360.0" y="961.0" text-anchor="end" class="tk">-20</text>
<line x1="1367.0" y1="953.7" x2="1367.0" y2="957.2" stroke="#000" stroke-width="1"/>
<text x="1367.0" y="976.3" text-anchor="middle" class="tk">-10</text>
<line x1="1456.4" y1="953.7" x2="1456.4" y2="957.2" stroke="#000" stroke-width="1"/>
<text x="1456.4" y="976.3" text-anchor="middle" class="tk">0</text>
<line x1="1545.8" y1="953.7" x2="1545.8" y2="957.2" stroke="#000" stroke-width="1"/>
<text x="1545.8" y="976.3" text-anchor="middle" class="tk">10</text>
<line x1="1635.2" y1="953.7" x2="1635.2" y2="957.2" stroke="#000" stroke-width="1"/>
<text x="1635.2" y="976.3" text-anchor="middle" class="tk">20</text>
<line x1="1724.6" y1="953.7" x2="1724.6" y2="957.2" stroke="#000" stroke-width="1"/>
<text x="1724.6" y="976.3" text-anchor="middle" class="tk">30</text>
<line x1="1814.0" y1="953.7" x2="1814.0" y2="957.2" stroke="#000" stroke-width="1"/>
<text x="1814.0" y="976.3" text-anchor="middle" class="tk">40</text>
<line x1="1903.4" y1="953.7" x2="1903.4" y2="957.2" stroke="#000" stroke-width="1"/>
<text x="1903.4" y="976.3" text-anchor="middle" class="tk">50</text>
<text x="1368.5" y="679.1" class="tt">(I)_Day +8</text>
<rect x="127.20" y="993.0" width="107.42" height="57.5" fill="#0000a4"/>
<rect x="234.02" y="993.0" width="107.42" height="57.5" fill="#0000ed"/>
<rect x="340.84" y="993.0" width="107.42" height="57.5" fill="#0020ff"/>
<rect x="447.66" y="993.0" width="107.42" height="57.5" fill="#0060ff"/>
<rect x="554.48" y="993.0" width="107.42" height="57.5" fill="#00a0ff"/>
<rect x="661.29" y="993.0" width="107.42" height="57.5" fill="#00e0fb"/>
<rect x="768.11" y="993.0" width="107.42" height="57.5" fill="#30ffc7"/>
<rect x="874.93" y="993.0" width="107.42" height="57.5" fill="#63ff94"/>
<rect x="981.75" y="993.0" width="107.42" height="57.5" fill="#97ff60"/>
<rect x="1088.57" y="993.0" width="107.42" height="57.5" fill="#caff2c"/>
<rect x="1195.39" y="993.0" width="107.42" height="57.5" fill="#feed00"/>
<rect x="1302.21" y="993.0" width="107.42" height="57.5" fill="#ffb200"/>
<rect x="1409.02" y="993.0" width="107.42" height="57.5" fill="#ff7700"/>
<rect x="1515.84" y="993.0" width="107.42" height="57.5" fill="#ff3b00"/>
<rect x="1622.66" y="993.0" width="107.42" height="57.5" fill="#e80000"/>
<rect x="1729.48" y="993.0" width="107.42" height="57.5" fill="#9f0000"/>
<rect x="127.2" y="993.0" width="1709.1" height="57.5" fill="none" stroke="#000" stroke-width="1.6"/>
<line x1="127.2" y1="1050.5" x2="127.2" y2="1058.0" stroke="#000" stroke-width="1.6"/>
<text x="127.2" y="1108.3" text-anchor="middle" class="cb">-2.5</text>
<line x1="340.8" y1="1050.5" x2="340.8" y2="1058.0" stroke="#000" stroke-width="1.6"/>
<text x="340.8" y="1108.3" text-anchor="middle" class="cb">-1.9</text>
<line x1="554.5" y1="1050.5" x2="554.5" y2="1058.0" stroke="#000" stroke-width="1.6"/>
<text x="554.5" y="1108.3" text-anchor="middle" class="cb">-1.2</text>
<line x1="768.1" y1="1050.5" x2="768.1" y2="1058.0" stroke="#000" stroke-width="1.6"/>
<text x="768.1" y="1108.3" text-anchor="middle" class="cb">-0.6</text>
<line x1="981.8" y1="1050.5" x2="981.8" y2="1058.0" stroke="#000" stroke-width="1.6"/>
<text x="981.8" y="1108.3" text-anchor="middle" class="cb">0.0</text>
<line x1="1195.4" y1="1050.5" x2="1195.4" y2="1058.0" stroke="#000" stroke-width="1.6"/>
<text x="1195.4" y="1108.3" text-anchor="middle" class="cb">0.6</text>
<line x1="1409.0" y1="1050.5" x2="1409.0" y2="1058.0" stroke="#000" stroke-width="1.6"/>
<text x="1409.0" y="1108.3" text-anchor="middle" class="cb">1.2</text>
<line x1="1622.7" y1="1050.5" x2="1622.7" y2="1058.0" stroke="#000" stroke-width="1.6"/>
<text x="1622.7" y="1108.3" text-anchor="middle" class="cb">1.9</text>
<line x1="1836.3" y1="1050.5" x2="1836.3" y2="1058.0" stroke="#000" stroke-width="1.6"/>
<text x="1836.3" y="1108.3" text-anchor="middle" class="cb">2.5</text>
<text x="981.5" y="1166.8" text-anchor="middle" class="cbl">Geopotential height(m)</text>
</svg>
</body></html>
